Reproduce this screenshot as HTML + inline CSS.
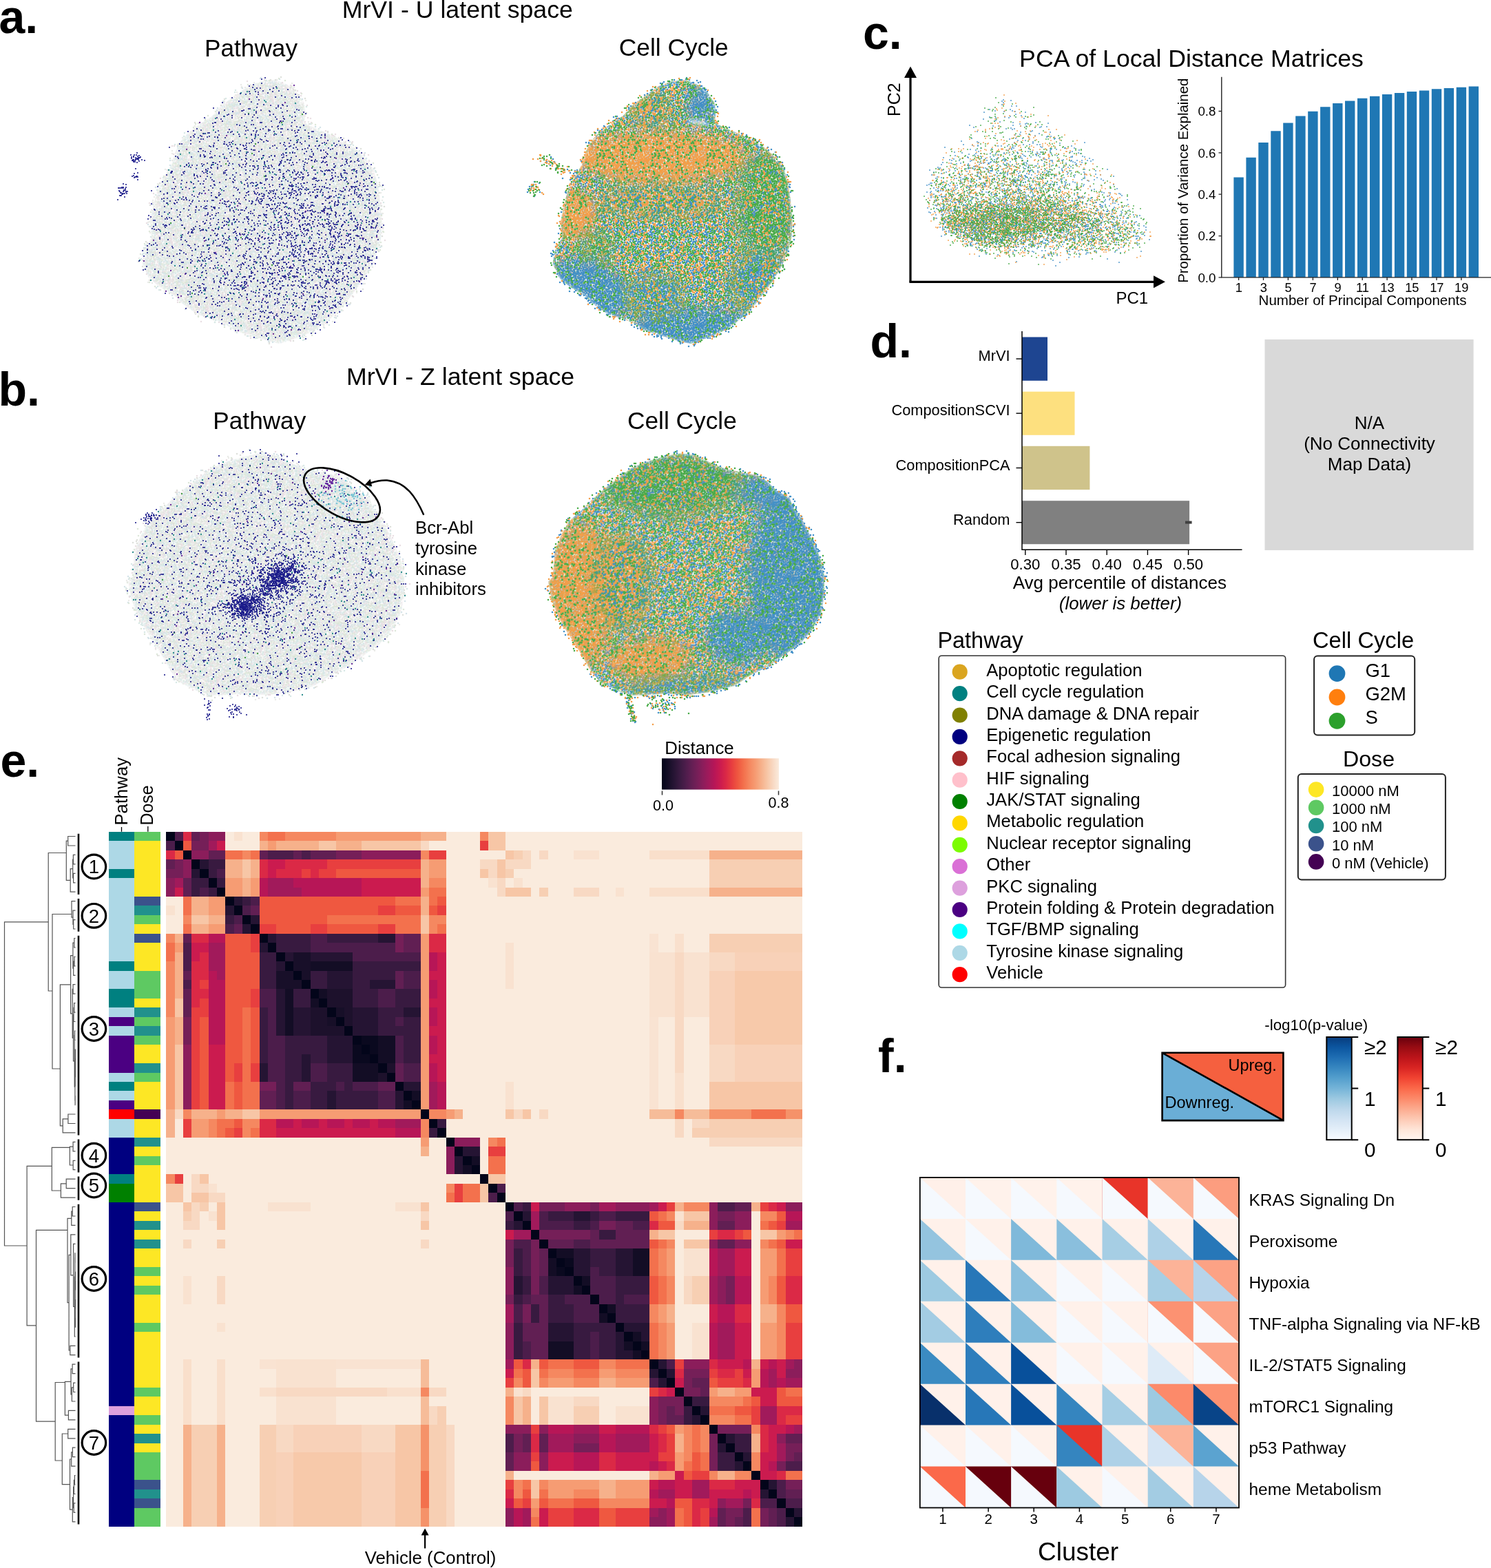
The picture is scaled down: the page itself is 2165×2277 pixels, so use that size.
<!DOCTYPE html>
<html><head><meta charset="utf-8"><title>MrVI figure</title>
<style>
html,body{margin:0;padding:0;background:#fff;}
svg{display:block;}
text{font-family:"Liberation Sans", Arial, Helvetica, sans-serif;fill:#000;}
</style></head>
<body>
<svg width="2165" height="2277" viewBox="0 0 2165 2277">
<rect width="2165" height="2277" fill="#fff"/>
<text x="-1.5" y="48.0" font-size="68" font-weight="bold">a.</text>
<text x="-2.5" y="588.8" font-size="68" font-weight="bold">b.</text>
<text x="1253.0" y="71.3" font-size="68" font-weight="bold">c.</text>
<text x="1263.5" y="519.3" font-size="68" font-weight="bold">d.</text>
<text x="0.5" y="1128.2" font-size="68" font-weight="bold">e.</text>
<text x="1275.0" y="1557.3" font-size="68" font-weight="bold">f.</text>
<text x="664.3" y="25.8" font-size="35.7" text-anchor="middle">MrVI - U latent space</text>
<text x="364.5" y="81.5" font-size="35.2" text-anchor="middle">Pathway</text>
<text x="978.3" y="81.0" font-size="35.3" text-anchor="middle">Cell Cycle</text>
<text x="668.6" y="559.4" font-size="35.7" text-anchor="middle">MrVI - Z latent space</text>
<text x="376.8" y="622.8" font-size="35.2" text-anchor="middle">Pathway</text>
<text x="990.4" y="623.0" font-size="35.3" text-anchor="middle">Cell Cycle</text>
<text x="1730.0" y="96.9" font-size="35.7" text-anchor="middle">PCA of Local Distance Matrices</text>
<text x="603.0" y="775.3" font-size="25.7">Bcr-Abl</text>
<text x="603.0" y="804.9" font-size="25.7">tyrosine</text>
<text x="603.0" y="834.6" font-size="25.7">kinase</text>
<text x="603.0" y="864.2" font-size="25.7">inhibitors</text>
<path d="M1322 409.3 V112" stroke="#000" stroke-width="3.2" fill="none"/>
<path d="M1322 96.6 L1313 113 L1331 113 Z" fill="#000"/>
<path d="M1320.4 409.3 H1676" stroke="#000" stroke-width="3.2" fill="none"/>
<path d="M1692 409.3 L1675 400.3 L1675 418.3 Z" fill="#000"/>
<text x="1307.0" y="144.6" font-size="25.0" text-anchor="middle" transform="rotate(-90 1307.0 144.6)">PC2</text>
<text x="1643.8" y="441.3" font-size="24.0" text-anchor="middle">PC1</text>
<path d="M1791.4 402.9V257.5h14.4V402.9zM1809.4 402.9V228.8h14.4V402.9zM1827.3 402.9V207.1h14.4V402.9zM1845.3 402.9V190.2h14.4V402.9zM1863.2 402.9V178.4h14.4V402.9zM1881.2 402.9V168.5h14.4V402.9zM1899.2 402.9V161.8h14.4V402.9zM1917.1 402.9V155.2h14.4V402.9zM1935.1 402.9V150.1h14.4V402.9zM1953.0 402.9V146.5h14.4V402.9zM1971.0 402.9V142.8h14.4V402.9zM1989.0 402.9V139.8h14.4V402.9zM2006.9 402.9V137.1h14.4V402.9zM2024.9 402.9V135.0h14.4V402.9zM2042.8 402.9V132.9h14.4V402.9zM2060.8 402.9V131.4h14.4V402.9zM2078.8 402.9V129.3h14.4V402.9zM2096.7 402.9V128.1h14.4V402.9zM2114.7 402.9V126.8h14.4V402.9zM2132.6 402.9V125.6h14.4V402.9z" fill="#1f77b4"/>
<path d="M1773.8 111.8 V403.5 M1773.1 402.9 H2165" stroke="#222" stroke-width="1.4" fill="none"/>
<text x="1765.5" y="409.5" font-size="18.8" text-anchor="end">0.0</text>
<text x="1765.5" y="349.2" font-size="18.8" text-anchor="end">0.2</text>
<text x="1765.5" y="288.8" font-size="18.8" text-anchor="end">0.4</text>
<text x="1765.5" y="228.5" font-size="18.8" text-anchor="end">0.6</text>
<text x="1765.5" y="168.1" font-size="18.8" text-anchor="end">0.8</text>
<text x="1798.9" y="424.3" font-size="18.3" text-anchor="middle">1</text>
<text x="1834.8" y="424.3" font-size="18.3" text-anchor="middle">3</text>
<text x="1870.7" y="424.3" font-size="18.3" text-anchor="middle">5</text>
<text x="1906.7" y="424.3" font-size="18.3" text-anchor="middle">7</text>
<text x="1942.6" y="424.3" font-size="18.3" text-anchor="middle">9</text>
<text x="1978.5" y="424.3" font-size="18.3" text-anchor="middle">11</text>
<text x="2014.4" y="424.3" font-size="18.3" text-anchor="middle">13</text>
<text x="2050.3" y="424.3" font-size="18.3" text-anchor="middle">15</text>
<text x="2086.3" y="424.3" font-size="18.3" text-anchor="middle">17</text>
<text x="2122.2" y="424.3" font-size="18.3" text-anchor="middle">19</text>
<path d="M1769.5 402.9H1773.8M1769.5 342.6H1773.8M1769.5 282.2H1773.8M1769.5 221.9H1773.8M1769.5 161.5H1773.8M1798.6 402.9V407M1834.5 402.9V407M1870.4 402.9V407M1906.4 402.9V407M1942.3 402.9V407M1978.2 402.9V407M2014.1 402.9V407M2050.0 402.9V407M2086.0 402.9V407M2121.9 402.9V407" stroke="#222" stroke-width="1.3" fill="none"/>
<text x="1978.6" y="443.2" font-size="20.5" text-anchor="middle">Number of Principal Components</text>
<text x="1724.8" y="262.2" font-size="20.45" text-anchor="middle" transform="rotate(-90 1724.8 262.2)">Proportion of Variance Explained</text>
<rect x="1484" y="489.5" width="37.0" height="63.3" fill="#1e4591"/>
<path d="M1475.5 521.1H1484" stroke="#000" stroke-width="1.4"/>
<text x="1466.5" y="524.1" font-size="21.8" text-anchor="end">MrVI</text>
<rect x="1484" y="568.7" width="76.5" height="63.1" fill="#fde07f"/>
<path d="M1475.5 600.2H1484" stroke="#000" stroke-width="1.4"/>
<text x="1466.5" y="603.2" font-size="21.8" text-anchor="end">CompositionSCVI</text>
<rect x="1484" y="647.8" width="98.4" height="63.3" fill="#cfc38b"/>
<path d="M1475.5 679.5H1484" stroke="#000" stroke-width="1.4"/>
<text x="1466.5" y="682.5" font-size="21.8" text-anchor="end">CompositionPCA</text>
<rect x="1484" y="727.2" width="243.1" height="63.0" fill="#808080"/>
<path d="M1475.5 758.7H1484" stroke="#000" stroke-width="1.4"/>
<text x="1466.5" y="761.7" font-size="21.8" text-anchor="end">Random</text>
<path d="M1721 758.6H1730.6" stroke="#404040" stroke-width="4"/>
<path d="M1484 480.9V799 M1483.3 798.3H1803.5" stroke="#000" stroke-width="1.5" fill="none"/>
<path d="M1488.8 798.3V806" stroke="#000" stroke-width="1.4"/>
<text x="1488.8" y="826.7" font-size="22.2" text-anchor="middle">0.30</text>
<path d="M1548.0 798.3V806" stroke="#000" stroke-width="1.4"/>
<text x="1548.0" y="826.7" font-size="22.2" text-anchor="middle">0.35</text>
<path d="M1607.2 798.3V806" stroke="#000" stroke-width="1.4"/>
<text x="1607.2" y="826.7" font-size="22.2" text-anchor="middle">0.40</text>
<path d="M1666.4 798.3V806" stroke="#000" stroke-width="1.4"/>
<text x="1666.4" y="826.7" font-size="22.2" text-anchor="middle">0.45</text>
<path d="M1725.6 798.3V806" stroke="#000" stroke-width="1.4"/>
<text x="1725.6" y="826.7" font-size="22.2" text-anchor="middle">0.50</text>
<text x="1625.8" y="854.5" font-size="26.0" text-anchor="middle">Avg percentile of distances</text>
<text x="1627.0" y="885.2" font-size="25.9" text-anchor="middle" font-style="italic">(lower is better)</text>
<rect x="1836.5" y="492.9" width="303.1" height="306.1" fill="#d9d9d9"/>
<text x="1988.5" y="623.4" font-size="26.0" text-anchor="middle">N/A</text>
<text x="1988.5" y="653.2" font-size="26.0" text-anchor="middle">(No Connectivity</text>
<text x="1988.5" y="683.2" font-size="26.0" text-anchor="middle">Map Data)</text>
<text x="1361.5" y="941.2" font-size="32.4">Pathway</text>
<rect x="1363.2" y="952.2" width="503.4" height="481.8" rx="4" fill="none" stroke="#333" stroke-width="1.6"/>
<circle cx="1393.7" cy="975.7" r="11.1" fill="#daa520"/>
<text x="1432.3" y="981.7" font-size="25.6">Apoptotic regulation</text>
<circle cx="1393.7" cy="1007.1" r="11.1" fill="#008080"/>
<text x="1432.3" y="1013.1" font-size="25.6">Cell cycle regulation</text>
<circle cx="1393.7" cy="1038.5" r="11.1" fill="#808000"/>
<text x="1432.3" y="1044.5" font-size="25.6">DNA damage &amp; DNA repair</text>
<circle cx="1393.7" cy="1069.9" r="11.1" fill="#000080"/>
<text x="1432.3" y="1075.9" font-size="25.6">Epigenetic regulation</text>
<circle cx="1393.7" cy="1101.3" r="11.1" fill="#a52a2a"/>
<text x="1432.3" y="1107.3" font-size="25.6">Focal adhesion signaling</text>
<circle cx="1393.7" cy="1132.7" r="11.1" fill="#ffc0cb"/>
<text x="1432.3" y="1138.7" font-size="25.6">HIF signaling</text>
<circle cx="1393.7" cy="1164.0" r="11.1" fill="#008000"/>
<text x="1432.3" y="1170.0" font-size="25.6">JAK/STAT signaling</text>
<circle cx="1393.7" cy="1195.4" r="11.1" fill="#ffd700"/>
<text x="1432.3" y="1201.4" font-size="25.6">Metabolic regulation</text>
<circle cx="1393.7" cy="1226.8" r="11.1" fill="#7cfc00"/>
<text x="1432.3" y="1232.8" font-size="25.6">Nuclear receptor signaling</text>
<circle cx="1393.7" cy="1258.2" r="11.1" fill="#da70d6"/>
<text x="1432.3" y="1264.2" font-size="25.6">Other</text>
<circle cx="1393.7" cy="1289.6" r="11.1" fill="#dda0dd"/>
<text x="1432.3" y="1295.6" font-size="25.6">PKC signaling</text>
<circle cx="1393.7" cy="1321.0" r="11.1" fill="#4b0082"/>
<text x="1432.3" y="1327.0" font-size="25.6">Protein folding &amp; Protein degradation</text>
<circle cx="1393.7" cy="1352.4" r="11.1" fill="#00ffff"/>
<text x="1432.3" y="1358.4" font-size="25.6">TGF/BMP signaling</text>
<circle cx="1393.7" cy="1383.8" r="11.1" fill="#add8e6"/>
<text x="1432.3" y="1389.8" font-size="25.6">Tyrosine kinase signaling</text>
<circle cx="1393.7" cy="1415.2" r="11.1" fill="#ff0000"/>
<text x="1432.3" y="1421.2" font-size="25.6">Vehicle</text>
<text x="1906.0" y="941.1" font-size="32.7">Cell Cycle</text>
<rect x="1908.1" y="952.4" width="146.1" height="115.2" rx="5" fill="none" stroke="#222" stroke-width="2"/>
<circle cx="1941.5" cy="978.1" r="11.9" fill="#1f77b4"/>
<text x="1982.5" y="982.7" font-size="27.4">G1</text>
<circle cx="1941.5" cy="1012.5" r="11.9" fill="#ff7f0e"/>
<text x="1982.5" y="1017.1" font-size="27.4">G2M</text>
<circle cx="1941.5" cy="1046.8" r="11.9" fill="#2ca02c"/>
<text x="1982.5" y="1051.4" font-size="27.4">S</text>
<text x="1987.5" y="1113.0" font-size="32.2" text-anchor="middle">Dose</text>
<rect x="1884.8" y="1123.9" width="214.1" height="153.6" rx="5" fill="none" stroke="#222" stroke-width="2"/>
<circle cx="1911.1" cy="1146.6" r="11.3" fill="#fde725"/>
<text x="1934.0" y="1155.9" font-size="22.0">10000 nM</text>
<circle cx="1911.1" cy="1172.8" r="11.3" fill="#5ec962"/>
<text x="1934.0" y="1182.1" font-size="22.0">1000 nM</text>
<circle cx="1911.1" cy="1199.0" r="11.3" fill="#21918c"/>
<text x="1934.0" y="1208.3" font-size="22.0">100 nM</text>
<circle cx="1911.1" cy="1225.2" r="11.3" fill="#3b528b"/>
<text x="1934.0" y="1234.5" font-size="22.0">10 nM</text>
<circle cx="1911.1" cy="1251.4" r="11.3" fill="#440154"/>
<text x="1934.0" y="1260.7" font-size="22.0">0 nM (Vehicle)</text>
<path d="M1687.6 1528.8H1863.4V1627.1Z" fill="#f5603f"/>
<path d="M1687.6 1528.8V1627.1H1863.4Z" fill="#6aaed6"/>
<path d="M1687.6 1528.8H1863.4V1627.1H1687.6Z M1687.6 1528.8L1863.4 1627.1" fill="none" stroke="#000" stroke-width="2.6"/>
<text x="1853.8" y="1555.2" font-size="23.4" text-anchor="end">Upreg.</text>
<text x="1691.5" y="1609.1" font-size="23.5">Downreg.</text>
<text x="1911.3" y="1495.9" font-size="22.3" text-anchor="middle">-log10(p-value)</text>
<defs><linearGradient id="gB" x1="0" y1="0" x2="0" y2="1"><stop offset="0.00" stop-color="#083c7d"/><stop offset="0.10" stop-color="#0c56a0"/><stop offset="0.20" stop-color="#1f6eb3"/><stop offset="0.30" stop-color="#3787c0"/><stop offset="0.40" stop-color="#549fcd"/><stop offset="0.50" stop-color="#75b4d8"/><stop offset="0.60" stop-color="#9cc9e1"/><stop offset="0.70" stop-color="#bcd7eb"/><stop offset="0.80" stop-color="#d2e3f3"/><stop offset="0.90" stop-color="#e4eff9"/><stop offset="1.00" stop-color="#f7fbff"/></linearGradient><linearGradient id="gR" x1="0" y1="0" x2="0" y2="1"><stop offset="0.00" stop-color="#67000d"/><stop offset="0.10" stop-color="#980c13"/><stop offset="0.20" stop-color="#bc141a"/><stop offset="0.30" stop-color="#d92523"/><stop offset="0.40" stop-color="#f14432"/><stop offset="0.50" stop-color="#fb694a"/><stop offset="0.60" stop-color="#fc8a6a"/><stop offset="0.70" stop-color="#fcab8f"/><stop offset="0.80" stop-color="#fdcab5"/><stop offset="0.90" stop-color="#fee5d8"/><stop offset="1.00" stop-color="#fff5f0"/></linearGradient></defs>
<rect x="1926.3" y="1506" width="36.4" height="149.2" fill="url(#gB)" stroke="#000" stroke-width="2"/>
<path d="M1962.7 1506H1972.2M1962.7 1580.6H1972.2M1962.7 1655.2H1972.2" stroke="#000" stroke-width="2"/>
<text x="1981.0" y="1531.2" font-size="29.7">≥2</text>
<text x="1981.0" y="1605.5" font-size="29.7">1</text>
<text x="1981.0" y="1679.9" font-size="29.7">0</text>
<rect x="2029.4" y="1506" width="36.4" height="149.2" fill="url(#gR)" stroke="#000" stroke-width="2"/>
<path d="M2065.8 1506H2075.3M2065.8 1580.6H2075.3M2065.8 1655.2H2075.3" stroke="#000" stroke-width="2"/>
<text x="2084.1" y="1531.2" font-size="29.7">≥2</text>
<text x="2084.1" y="1605.5" font-size="29.7">1</text>
<text x="2084.1" y="1679.9" font-size="29.7">0</text>
<g><path d="M1335.8 1709.9H1402.5V1770.4H1335.8Z" fill="#fff0e9"/><path d="M1335.8 1709.9L1402.5 1770.4H1335.8Z" fill="#f5f9fe"/><path d="M1402.0 1709.9H1468.6V1770.4H1402.0Z" fill="#fff2eb"/><path d="M1402.0 1709.9L1468.6 1770.4H1402.0Z" fill="#f5f9fe"/><path d="M1468.1 1709.9H1534.8V1770.4H1468.1Z" fill="#fff2eb"/><path d="M1468.1 1709.9L1534.8 1770.4H1468.1Z" fill="#f5f9fe"/><path d="M1534.3 1709.9H1601.0V1770.4H1534.3Z" fill="#fff2eb"/><path d="M1534.3 1709.9L1601.0 1770.4H1534.3Z" fill="#f5f9fe"/><path d="M1600.5 1709.9H1667.2V1770.4H1600.5Z" fill="#e83429"/><path d="M1600.5 1709.9L1667.2 1770.4H1600.5Z" fill="#f5f9fe"/><path d="M1666.7 1709.9H1733.3V1770.4H1666.7Z" fill="#fcb398"/><path d="M1666.7 1709.9L1733.3 1770.4H1666.7Z" fill="#f5f9fe"/><path d="M1732.8 1709.9H1799.5V1770.4H1732.8Z" fill="#fc9d7f"/><path d="M1732.8 1709.9L1799.5 1770.4H1732.8Z" fill="#f5f9fe"/><path d="M1335.8 1769.9H1402.5V1830.3H1335.8Z" fill="#fff1ea"/><path d="M1335.8 1769.9L1402.5 1830.3H1335.8Z" fill="#94c4df"/><path d="M1402.0 1769.9H1468.6V1830.3H1402.0Z" fill="#fff1ea"/><path d="M1402.0 1769.9L1468.6 1830.3H1402.0Z" fill="#f5f9fe"/><path d="M1468.1 1769.9H1534.8V1830.3H1468.1Z" fill="#fff1ea"/><path d="M1468.1 1769.9L1534.8 1830.3H1468.1Z" fill="#7fb9da"/><path d="M1534.3 1769.9H1601.0V1830.3H1534.3Z" fill="#fff1ea"/><path d="M1534.3 1769.9L1601.0 1830.3H1534.3Z" fill="#8abfdd"/><path d="M1600.5 1769.9H1667.2V1830.3H1600.5Z" fill="#fff1ea"/><path d="M1600.5 1769.9L1667.2 1830.3H1600.5Z" fill="#a6cee4"/><path d="M1666.7 1769.9H1733.3V1830.3H1666.7Z" fill="#fff1ea"/><path d="M1666.7 1769.9L1733.3 1830.3H1666.7Z" fill="#aed1e7"/><path d="M1732.8 1769.9H1799.5V1830.3H1732.8Z" fill="#fff1ea"/><path d="M1732.8 1769.9L1799.5 1830.3H1732.8Z" fill="#2777b8"/><path d="M1335.8 1829.8H1402.5V1890.3H1335.8Z" fill="#fff1ea"/><path d="M1335.8 1829.8L1402.5 1890.3H1335.8Z" fill="#9dcae1"/><path d="M1402.0 1829.8H1468.6V1890.3H1402.0Z" fill="#fff1ea"/><path d="M1402.0 1829.8L1468.6 1890.3H1402.0Z" fill="#2777b8"/><path d="M1468.1 1829.8H1534.8V1890.3H1468.1Z" fill="#fff1ea"/><path d="M1468.1 1829.8L1534.8 1890.3H1468.1Z" fill="#8abfdd"/><path d="M1534.3 1829.8H1601.0V1890.3H1534.3Z" fill="#fff1ea"/><path d="M1534.3 1829.8L1601.0 1890.3H1534.3Z" fill="#f5f9fe"/><path d="M1600.5 1829.8H1667.2V1890.3H1600.5Z" fill="#fff1ea"/><path d="M1600.5 1829.8L1667.2 1890.3H1600.5Z" fill="#f5f9fe"/><path d="M1666.7 1829.8H1733.3V1890.3H1666.7Z" fill="#fcb398"/><path d="M1666.7 1829.8L1733.3 1890.3H1666.7Z" fill="#a6cee4"/><path d="M1732.8 1829.8H1799.5V1890.3H1732.8Z" fill="#fca285"/><path d="M1732.8 1829.8L1799.5 1890.3H1732.8Z" fill="#b7d4ea"/><path d="M1335.8 1889.8H1402.5V1950.2H1335.8Z" fill="#fff1ea"/><path d="M1335.8 1889.8L1402.5 1950.2H1335.8Z" fill="#a3cce3"/><path d="M1402.0 1889.8H1468.6V1950.2H1402.0Z" fill="#fff1ea"/><path d="M1402.0 1889.8L1468.6 1950.2H1402.0Z" fill="#2e7ebc"/><path d="M1468.1 1889.8H1534.8V1950.2H1468.1Z" fill="#fff1ea"/><path d="M1468.1 1889.8L1534.8 1950.2H1468.1Z" fill="#84bcdb"/><path d="M1534.3 1889.8H1601.0V1950.2H1534.3Z" fill="#fff1ea"/><path d="M1534.3 1889.8L1601.0 1950.2H1534.3Z" fill="#f5f9fe"/><path d="M1600.5 1889.8H1667.2V1950.2H1600.5Z" fill="#fff1ea"/><path d="M1600.5 1889.8L1667.2 1950.2H1600.5Z" fill="#f5f9fe"/><path d="M1666.7 1889.8H1733.3V1950.2H1666.7Z" fill="#fc9272"/><path d="M1666.7 1889.8L1733.3 1950.2H1666.7Z" fill="#f5f9fe"/><path d="M1732.8 1889.8H1799.5V1950.2H1732.8Z" fill="#fca285"/><path d="M1732.8 1889.8L1799.5 1950.2H1732.8Z" fill="#f5f9fe"/><path d="M1335.8 1949.7H1402.5V2010.2H1335.8Z" fill="#fff1ea"/><path d="M1335.8 1949.7L1402.5 2010.2H1335.8Z" fill="#3b8bc2"/><path d="M1402.0 1949.7H1468.6V2010.2H1402.0Z" fill="#fff1ea"/><path d="M1402.0 1949.7L1468.6 2010.2H1402.0Z" fill="#2e7ebc"/><path d="M1468.1 1949.7H1534.8V2010.2H1468.1Z" fill="#fff1ea"/><path d="M1468.1 1949.7L1534.8 2010.2H1468.1Z" fill="#08509b"/><path d="M1534.3 1949.7H1601.0V2010.2H1534.3Z" fill="#fff1ea"/><path d="M1534.3 1949.7L1601.0 2010.2H1534.3Z" fill="#f5f9fe"/><path d="M1600.5 1949.7H1667.2V2010.2H1600.5Z" fill="#fff1ea"/><path d="M1600.5 1949.7L1667.2 2010.2H1600.5Z" fill="#f5f9fe"/><path d="M1666.7 1949.7H1733.3V2010.2H1666.7Z" fill="#fff1ea"/><path d="M1666.7 1949.7L1733.3 2010.2H1666.7Z" fill="#deebf7"/><path d="M1732.8 1949.7H1799.5V2010.2H1732.8Z" fill="#fca285"/><path d="M1732.8 1949.7L1799.5 2010.2H1732.8Z" fill="#f5f9fe"/><path d="M1335.8 2009.7H1402.5V2070.1H1335.8Z" fill="#fff1ea"/><path d="M1335.8 2009.7L1402.5 2070.1H1335.8Z" fill="#08306b"/><path d="M1402.0 2009.7H1468.6V2070.1H1402.0Z" fill="#fff1ea"/><path d="M1402.0 2009.7L1468.6 2070.1H1402.0Z" fill="#2777b8"/><path d="M1468.1 2009.7H1534.8V2070.1H1468.1Z" fill="#fff1ea"/><path d="M1468.1 2009.7L1534.8 2070.1H1468.1Z" fill="#08509b"/><path d="M1534.3 2009.7H1601.0V2070.1H1534.3Z" fill="#fff1ea"/><path d="M1534.3 2009.7L1601.0 2070.1H1534.3Z" fill="#3585bf"/><path d="M1600.5 2009.7H1667.2V2070.1H1600.5Z" fill="#fff1ea"/><path d="M1600.5 2009.7L1667.2 2070.1H1600.5Z" fill="#a6cee4"/><path d="M1666.7 2009.7H1733.3V2070.1H1666.7Z" fill="#fc8a6a"/><path d="M1666.7 2009.7L1733.3 2070.1H1666.7Z" fill="#9dcae1"/><path d="M1732.8 2009.7H1799.5V2070.1H1732.8Z" fill="#fc9272"/><path d="M1732.8 2009.7L1799.5 2070.1H1732.8Z" fill="#084488"/><path d="M1335.8 2069.6H1402.5V2130.1H1335.8Z" fill="#fff1ea"/><path d="M1335.8 2069.6L1402.5 2130.1H1335.8Z" fill="#f5f9fe"/><path d="M1402.0 2069.6H1468.6V2130.1H1402.0Z" fill="#fff1ea"/><path d="M1402.0 2069.6L1468.6 2130.1H1402.0Z" fill="#f5f9fe"/><path d="M1468.1 2069.6H1534.8V2130.1H1468.1Z" fill="#fff1ea"/><path d="M1468.1 2069.6L1534.8 2130.1H1468.1Z" fill="#f5f9fe"/><path d="M1534.3 2069.6H1601.0V2130.1H1534.3Z" fill="#e83429"/><path d="M1534.3 2069.6L1601.0 2130.1H1534.3Z" fill="#3585bf"/><path d="M1600.5 2069.6H1667.2V2130.1H1600.5Z" fill="#fff1ea"/><path d="M1600.5 2069.6L1667.2 2130.1H1600.5Z" fill="#aed1e7"/><path d="M1666.7 2069.6H1733.3V2130.1H1666.7Z" fill="#fcb398"/><path d="M1666.7 2069.6L1733.3 2130.1H1666.7Z" fill="#d5e5f4"/><path d="M1732.8 2069.6H1799.5V2130.1H1732.8Z" fill="#fff1ea"/><path d="M1732.8 2069.6L1799.5 2130.1H1732.8Z" fill="#5ba3d0"/><path d="M1335.8 2129.6H1402.5V2190.0H1335.8Z" fill="#fb694a"/><path d="M1335.8 2129.6L1402.5 2190.0H1335.8Z" fill="#f5f9fe"/><path d="M1402.0 2129.6H1468.6V2190.0H1402.0Z" fill="#67000d"/><path d="M1402.0 2129.6L1468.6 2190.0H1402.0Z" fill="#f5f9fe"/><path d="M1468.1 2129.6H1534.8V2190.0H1468.1Z" fill="#67000d"/><path d="M1468.1 2129.6L1534.8 2190.0H1468.1Z" fill="#f5f9fe"/><path d="M1534.3 2129.6H1601.0V2190.0H1534.3Z" fill="#fff1ea"/><path d="M1534.3 2129.6L1601.0 2190.0H1534.3Z" fill="#9dcae1"/><path d="M1600.5 2129.6H1667.2V2190.0H1600.5Z" fill="#fff1ea"/><path d="M1600.5 2129.6L1667.2 2190.0H1600.5Z" fill="#f5f9fe"/><path d="M1666.7 2129.6H1733.3V2190.0H1666.7Z" fill="#fff1ea"/><path d="M1666.7 2129.6L1733.3 2190.0H1666.7Z" fill="#a3cce3"/><path d="M1732.8 2129.6H1799.5V2190.0H1732.8Z" fill="#fff1ea"/><path d="M1732.8 2129.6L1799.5 2190.0H1732.8Z" fill="#b7d4ea"/></g>
<rect x="1335.8" y="1709.9" width="463.2" height="479.6" fill="none" stroke="#000" stroke-width="1.8"/>
<text x="1813.5" y="1751.2" font-size="24.4">KRAS Signaling Dn</text>
<text x="1813.5" y="1811.1" font-size="24.4">Peroxisome</text>
<text x="1813.5" y="1871.1" font-size="24.4">Hypoxia</text>
<text x="1813.5" y="1931.0" font-size="24.4">TNF-alpha Signaling via NF-kB</text>
<text x="1813.5" y="1991.0" font-size="24.4">IL-2/STAT5 Signaling</text>
<text x="1813.5" y="2050.9" font-size="24.4">mTORC1 Signaling</text>
<text x="1813.5" y="2110.9" font-size="24.4">p53 Pathway</text>
<text x="1813.5" y="2170.8" font-size="24.4">heme Metabolism</text>
<text x="1368.9" y="2212.6" font-size="20.5" text-anchor="middle">1</text>
<text x="1435.1" y="2212.6" font-size="20.5" text-anchor="middle">2</text>
<text x="1501.2" y="2212.6" font-size="20.5" text-anchor="middle">3</text>
<text x="1567.4" y="2212.6" font-size="20.5" text-anchor="middle">4</text>
<text x="1633.6" y="2212.6" font-size="20.5" text-anchor="middle">5</text>
<text x="1699.7" y="2212.6" font-size="20.5" text-anchor="middle">6</text>
<text x="1765.9" y="2212.6" font-size="20.5" text-anchor="middle">7</text>
<path d="M1368.9 2189.5v6M1435.1 2189.5v6M1501.2 2189.5v6M1567.4 2189.5v6M1633.6 2189.5v6M1699.7 2189.5v6M1765.9 2189.5v6" stroke="#000" stroke-width="1.5"/>
<text x="1565.6" y="2266.0" font-size="37.0" text-anchor="middle">Cluster</text>
<defs><linearGradient id="gRk" x1="0" y1="0" x2="1" y2="0"><stop offset="0.00" stop-color="#03051a"/><stop offset="0.05" stop-color="#130d25"/><stop offset="0.10" stop-color="#251433"/><stop offset="0.15" stop-color="#381a40"/><stop offset="0.20" stop-color="#4c1d4b"/><stop offset="0.25" stop-color="#611f53"/><stop offset="0.30" stop-color="#751f58"/><stop offset="0.35" stop-color="#8b1d5b"/><stop offset="0.40" stop-color="#a11a5b"/><stop offset="0.45" stop-color="#b71657"/><stop offset="0.50" stop-color="#cb1b4f"/><stop offset="0.55" stop-color="#db2946"/><stop offset="0.60" stop-color="#e83f3f"/><stop offset="0.65" stop-color="#ef5840"/><stop offset="0.70" stop-color="#f3714d"/><stop offset="0.75" stop-color="#f58860"/><stop offset="0.80" stop-color="#f69c73"/><stop offset="0.85" stop-color="#f6b18b"/><stop offset="0.90" stop-color="#f7c6a6"/><stop offset="0.95" stop-color="#f8d9c3"/><stop offset="1.00" stop-color="#faebdd"/></linearGradient></defs>
<rect x="961" y="1101.3" width="170" height="45.3" fill="url(#gRk)"/>
<path d="M961.5 1148.5V1154.5M1130.5 1148.5V1154.5" stroke="#333" stroke-width="1.5"/>
<text x="965.3" y="1094.6" font-size="25.8">Distance</text>
<text x="963.0" y="1176.6" font-size="21.6" text-anchor="middle">0.0</text>
<text x="1130.5" y="1172.6" font-size="21.6" text-anchor="middle">0.8</text>
<text x="184.7" y="1198.5" font-size="25.7" transform="rotate(-90 184.7 1198.5)">Pathway</text>
<text x="222.0" y="1198.5" font-size="24.9" transform="rotate(-90 222.0 1198.5)">Dose</text>
<path d="M176.5 1201V1207.8M214.8 1200V1207.8" stroke="#000" stroke-width="1.3"/>
<path d="M617.1 2248.5V2228" stroke="#000" stroke-width="2.2"/>
<path d="M617.1 2219.4L611.6 2229.5L622.6 2229.5Z" fill="#000"/>
<text x="625.1" y="2271.4" font-size="25.8" text-anchor="middle">Vehicle (Control)</text>
<g transform="translate(241.2 1207.8) scale(12.32 13.45)" shape-rendering="crispEdges"><path fill="#faebdd" d="M7 0h1v2h-1zM9 0h2v2h-2zM33 0h4v30h-4zM40 0h35v2h-35zM8 1h1v1h-1zM31 1h2v1h-2zM37 2h3v1h-3zM43 2h1v38h-1zM45 2h3v38h-3zM51 2h6v4h-6zM44 3h1v3h-1zM48 3h3v3h-3zM57 3h7v3h-7zM41 4h2v1h-2zM37 5h1v32h-1zM40 5h1v1h-1zM42 5h1v1h-1zM38 6h1v27h-1zM51 6h2v34h-2zM54 6h3v34h-3zM0 7h2v1h-2zM39 7h4v5h-4zM44 7h1v23h-1zM48 7h3v33h-3zM53 7h1v33h-1zM57 7h18v4h-18zM1 8h1v3h-1zM0 9h1v2h-1zM58 11h2v2h-2zM61 11h3v2h-3zM39 12h1v21h-1zM41 12h2v18h-2zM40 17h1v10h-1zM58 20h2v10h-2zM61 20h3v10h-3zM35 30h2v3h-2zM1 31h1v6h-1zM33 31h2v2h-2zM40 31h3v9h-3zM44 31h1v9h-1zM57 31h3v9h-3zM61 31h1v9h-1zM0 33h1v4h-1zM2 33h28v4h-28zM31 33h2v27h-2zM60 33h1v7h-1zM62 33h2v7h-2zM64 34h11v6h-11zM30 35h1v5h-1zM2 37h1v3h-1zM5 37h25v1h-25zM33 37h4v1h-4zM6 38h24v1h-24zM7 39h23v1h-23zM0 40h2v35h-2zM5 40h1v1h-1zM7 40h5v17h-5zM17 40h10v17h-10zM33 40h7v24h-7zM4 41h1v23h-1zM12 41h5v16h-5zM27 41h3v16h-3zM69 41h1v16h-1zM5 42h1v22h-1zM2 43h2v1h-2zM6 43h1v1h-1zM30 43h1v1h-1zM60 43h4v1h-4zM3 44h1v20h-1zM60 44h1v13h-1zM2 45h1v3h-1zM6 45h1v3h-1zM30 45h1v12h-1zM2 51h1v6h-1zM6 51h1v2h-1zM61 51h3v2h-3zM61 53h1v4h-1zM6 54h1v3h-1zM7 57h4v18h-4zM11 58h2v2h-2zM20 58h10v2h-10zM43 60h14v1h-14zM11 61h2v3h-2zM20 61h10v3h-10zM31 61h2v1h-2zM43 61h1v3h-1zM51 61h6v1h-6zM51 62h2v2h-2zM34 64h6v11h-6zM41 69h16v1h-16z"/><path fill="#03051a" d="M0 0h1v1h-1zM1 1h1v1h-1zM2 2h1v1h-1zM3 3h1v1h-1zM4 4h1v1h-1zM5 5h1v1h-1zM6 6h1v1h-1zM7 7h1v1h-1zM8 8h1v1h-1zM9 9h1v1h-1zM10 10h1v1h-1zM11 11h1v1h-1zM12 12h1v1h-1zM13 13h1v1h-1zM14 14h1v1h-1zM15 15h1v1h-1zM16 16h1v1h-1zM17 17h1v1h-1zM18 18h1v1h-1zM19 19h1v1h-1zM20 20h1v1h-1zM21 21h1v1h-1zM22 22h1v1h-1zM23 23h1v1h-1zM24 24h1v1h-1zM25 25h1v1h-1zM26 26h1v1h-1zM27 27h1v1h-1zM28 28h1v1h-1zM29 29h1v1h-1zM30 30h1v1h-1zM31 31h1v1h-1zM32 32h1v1h-1zM33 33h1v1h-1zM34 34h1v1h-1zM35 35h1v1h-1zM36 36h1v1h-1zM37 37h1v1h-1zM38 38h1v1h-1zM39 39h1v1h-1zM40 40h1v1h-1zM41 41h1v1h-1zM42 42h1v1h-1zM43 43h1v1h-1zM44 44h1v1h-1zM45 45h1v1h-1zM46 46h1v1h-1zM47 47h1v1h-1zM48 48h1v1h-1zM49 49h1v1h-1zM50 50h1v1h-1zM51 51h1v1h-1zM52 52h1v1h-1zM53 53h1v1h-1zM54 54h1v1h-1zM55 55h1v1h-1zM56 56h1v1h-1zM57 57h1v1h-1zM58 58h1v1h-1zM59 59h1v1h-1zM60 60h1v1h-1zM61 61h1v1h-1zM62 62h1v1h-1zM63 63h1v1h-1zM64 64h1v1h-1zM65 65h1v1h-1zM66 66h1v1h-1zM67 67h1v1h-1zM68 68h1v1h-1zM69 69h1v1h-1zM70 70h1v1h-1zM71 71h1v1h-1zM72 72h1v1h-1zM73 73h1v1h-1zM74 74h1v1h-1z"/><path fill="#381a40" d="M5 3h2v1h-2zM5 4h1v1h-1zM3 5h2v1h-2zM6 5h1v1h-1zM3 6h1v1h-1zM5 6h1v1h-1zM9 7h1v1h-1zM7 9h1v1h-1zM13 11h4v2h-4zM19 11h6v1h-6zM11 13h2v4h-2zM22 14h8v1h-8zM17 15h2v2h-2zM22 15h5v1h-5zM22 16h2v3h-2zM15 17h2v2h-2zM24 17h1v2h-1zM27 17h3v2h-3zM11 19h1v6h-1zM25 19h3v1h-3zM25 20h2v2h-2zM28 20h2v5h-2zM27 21h1v1h-1zM14 22h5v2h-5zM14 24h2v3h-2zM17 24h2v1h-2zM19 25h3v2h-3zM14 27h1v3h-1zM17 27h3v1h-3zM21 27h1v3h-1zM17 28h2v2h-2zM20 28h1v2h-1zM22 28h3v2h-3zM32 31h1v1h-1zM31 32h1v1h-1zM42 40h1v1h-1zM45 41h3v1h-3zM50 41h1v1h-1zM53 41h4v1h-4zM40 42h1v1h-1zM48 42h2v1h-2zM51 43h2v1h-2zM41 45h1v3h-1zM50 45h3v2h-3zM51 47h2v1h-2zM42 48h1v2h-1zM53 48h4v2h-4zM41 50h1v1h-1zM45 50h2v3h-2zM53 50h1v3h-1zM43 51h1v2h-1zM47 51h1v2h-1zM54 51h3v2h-3zM41 53h1v4h-1zM48 53h5v1h-5zM48 54h2v3h-2zM51 54h2v3h-2zM62 61h2v1h-2zM61 62h1v2h-1zM67 65h2v2h-2zM65 67h2v2h-2z"/><path fill="#4c1d4b" d="M1 0h1v1h-1zM0 1h1v1h-1zM12 2h3v1h-3zM16 2h1v1h-1zM6 4h1v1h-1zM4 6h1v1h-1zM10 7h1v1h-1zM9 8h1v1h-1zM8 9h1v1h-1zM7 10h1v1h-1zM17 11h2v2h-2zM2 12h1v3h-1zM19 12h8v1h-8zM22 13h8v1h-8zM28 15h2v2h-2zM2 16h1v1h-1zM11 17h2v2h-2zM25 17h2v2h-2zM12 19h1v8h-1zM27 20h1v1h-1zM13 22h1v8h-1zM27 22h1v3h-1zM17 25h2v2h-2zM28 25h2v2h-2zM20 27h1v1h-1zM22 27h3v1h-3zM15 28h2v2h-2zM25 28h2v2h-2zM39 38h1v1h-1zM38 39h1v1h-1zM41 40h1v1h-1zM65 40h2v1h-2zM40 41h1v1h-1zM44 41h1v2h-1zM51 41h2v1h-2zM45 42h3v1h-3zM50 42h1v1h-1zM55 42h2v1h-2zM41 44h2v1h-2zM48 44h2v1h-2zM42 45h1v3h-1zM50 47h1v3h-1zM44 48h1v2h-1zM51 48h2v3h-2zM42 50h1v1h-1zM47 50h3v1h-3zM54 50h3v1h-3zM41 51h1v2h-1zM48 51h3v2h-3zM50 54h1v3h-1zM42 55h1v2h-1zM59 57h1v1h-1zM57 59h1v1h-1zM40 65h1v2h-1zM73 68h2v1h-2zM72 70h1v2h-1zM70 72h2v1h-2zM73 72h2v1h-2zM68 73h1v2h-1zM72 73h1v2h-1z"/><path fill="#cb1b4f" d="M6 1h1v1h-1zM12 3h2v1h-2zM12 4h1v1h-1zM23 5h7v2h-7zM1 6h1v1h-1zM3 12h2v1h-2zM3 13h1v1h-1zM32 13h1v14h-1zM31 15h1v1h-1zM31 18h1v1h-1zM31 21h1v1h-1zM5 23h2v7h-2zM31 24h1v1h-1zM15 31h1v2h-1zM18 31h1v2h-1zM21 31h1v2h-1zM24 31h1v2h-1zM13 32h2v1h-2zM16 32h2v1h-2zM19 32h2v1h-2zM22 32h2v1h-2zM25 32h2v1h-2zM43 40h1v1h-1zM58 40h1v1h-1zM72 40h1v1h-1zM40 43h1v1h-1zM73 44h2v1h-2zM67 45h2v3h-2zM64 51h1v2h-1zM67 53h2v4h-2zM65 57h3v1h-3zM70 57h1v1h-1zM72 57h1v2h-1zM40 58h1v1h-1zM68 58h1v1h-1zM60 59h1v1h-1zM59 60h1v1h-1zM69 60h3v1h-3zM70 61h2v1h-2zM51 64h2v1h-2zM71 64h2v1h-2zM57 65h1v3h-1zM71 65h1v3h-1zM45 67h3v2h-3zM53 67h4v2h-4zM70 67h1v3h-1zM58 68h1v1h-1zM60 69h1v3h-1zM71 69h1v1h-1zM57 70h1v1h-1zM61 70h1v2h-1zM67 70h3v1h-3zM64 71h4v1h-4zM69 71h1v1h-1zM40 72h1v1h-1zM57 72h2v1h-2zM64 72h1v1h-1zM44 73h1v2h-1z"/><path fill="#f58860" d="M11 0h1v1h-1zM14 0h6v1h-6zM37 0h1v1h-1zM9 2h1v1h-1zM30 2h1v1h-1zM31 5h2v1h-2zM2 9h1v1h-1zM31 9h2v1h-2zM31 10h1v1h-1zM0 11h1v1h-1zM0 14h1v6h-1zM2 30h1v1h-1zM31 30h2v1h-2zM60 30h1v1h-1zM5 31h1v2h-1zM9 31h2v1h-2zM30 31h1v2h-1zM9 32h1v1h-1zM38 33h1v1h-1zM0 37h1v1h-1zM33 38h1v1h-1zM61 40h3v1h-3zM59 41h1v1h-1zM70 41h2v1h-2zM73 43h1v1h-1zM59 44h1v1h-1zM70 44h1v1h-1zM58 45h1v3h-1zM59 48h1v3h-1zM71 48h1v3h-1zM57 51h1v2h-1zM72 51h1v6h-1zM58 53h1v4h-1zM51 57h2v1h-2zM45 58h3v1h-3zM53 58h4v1h-4zM41 59h1v1h-1zM44 59h1v1h-1zM48 59h3v1h-3zM30 60h1v1h-1zM40 61h1v3h-1zM64 61h4v1h-4zM64 63h3v1h-3zM61 64h1v4h-1zM63 64h1v3h-1zM69 64h1v1h-1zM69 67h1v2h-1zM64 69h1v1h-1zM67 69h2v1h-2zM41 70h1v2h-1zM44 70h1v1h-1zM48 71h3v1h-3zM51 72h6v1h-6zM43 73h1v1h-1z"/><path fill="#f3714d" d="M12 0h2v1h-2zM7 2h2v1h-2zM10 2h1v1h-1zM31 6h2v1h-2zM2 7h1v2h-1zM27 7h3v1h-3zM31 7h1v1h-1zM19 9h11v1h-11zM2 10h1v1h-1zM27 10h3v1h-3zM32 10h1v1h-1zM0 12h1v2h-1zM9 19h1v11h-1zM7 27h1v3h-1zM10 27h1v3h-1zM69 30h4v1h-4zM6 31h2v1h-2zM6 32h1v1h-1zM10 32h1v1h-1zM39 33h1v1h-1zM38 35h2v2h-2zM35 38h2v2h-2zM33 39h1v1h-1zM58 41h1v1h-1zM70 42h1v1h-1zM74 43h1v1h-1zM58 44h1v1h-1zM71 44h1v1h-1zM57 45h1v3h-1zM72 45h1v3h-1zM58 48h1v3h-1zM57 53h1v4h-1zM45 57h3v1h-3zM53 57h4v1h-4zM41 58h1v1h-1zM44 58h1v1h-1zM48 58h3v1h-3zM73 60h2v1h-2zM68 61h1v1h-1zM64 62h3v1h-3zM67 63h2v1h-2zM62 64h1v3h-1zM63 67h1v2h-1zM61 68h1v1h-1zM30 69h1v4h-1zM73 69h2v1h-2zM42 70h1v1h-1zM44 71h1v1h-1zM45 72h3v1h-3zM60 73h1v2h-1zM69 73h1v2h-1zM43 74h1v1h-1z"/><path fill="#251433" d="M4 3h1v1h-1zM3 4h1v1h-1zM8 7h1v1h-1zM7 8h1v1h-1zM10 9h1v1h-1zM9 10h1v1h-1zM12 11h1v1h-1zM25 11h2v1h-2zM11 12h1v1h-1zM14 13h1v1h-1zM17 13h5v1h-5zM13 14h1v1h-1zM19 15h3v2h-3zM24 16h3v1h-3zM13 17h1v5h-1zM15 19h2v3h-2zM22 19h3v3h-3zM28 19h2v1h-2zM19 22h3v3h-3zM16 24h1v3h-1zM11 25h1v2h-1zM28 27h2v1h-2zM19 28h1v2h-1zM27 28h1v2h-1zM35 34h2v1h-2zM34 35h1v2h-1zM42 41h1v1h-1zM48 41h2v1h-2zM41 42h1v1h-1zM48 45h2v3h-2zM53 45h2v3h-2zM41 48h1v2h-1zM45 48h3v2h-3zM45 53h3v2h-3zM54 53h3v1h-3zM53 54h1v3h-1zM56 54h1v1h-1zM54 56h1v1h-1zM58 57h1v1h-1zM57 58h1v1h-1zM59 58h1v1h-1zM58 59h1v1h-1zM63 62h1v1h-1zM62 63h1v1h-1zM66 65h1v1h-1zM65 66h1v1h-1zM68 67h1v1h-1zM67 68h1v1h-1zM71 70h1v1h-1zM70 71h1v1h-1zM74 73h1v1h-1zM73 74h1v1h-1z"/><path fill="#ef5840" d="M2 1h1v1h-1zM1 2h1v1h-1zM20 4h10v1h-10zM11 7h16v1h-16zM32 7h1v1h-1zM11 8h14v1h-14zM27 8h3v1h-3zM31 8h1v1h-1zM11 9h8v1h-8zM13 10h4v1h-4zM19 10h6v1h-6zM7 11h3v8h-3zM10 13h1v4h-1zM7 19h2v6h-2zM10 19h1v6h-1zM4 20h1v10h-1zM7 25h1v2h-1zM8 27h1v3h-1zM8 31h1v1h-1zM7 32h1v1h-1zM57 41h1v1h-1zM72 41h1v1h-1zM58 42h2v1h-2zM71 42h1v1h-1zM68 43h1v1h-1zM57 44h1v1h-1zM72 44h1v1h-1zM57 48h1v3h-1zM72 48h1v3h-1zM73 51h2v2h-2zM41 57h1v1h-1zM44 57h1v1h-1zM48 57h3v1h-3zM42 58h1v2h-1zM64 59h1v1h-1zM72 60h1v2h-1zM69 61h1v1h-1zM73 61h2v1h-2zM67 62h2v1h-2zM59 64h1v1h-1zM62 67h1v2h-1zM43 68h1v1h-1zM61 69h1v1h-1zM42 71h1v1h-1zM41 72h1v1h-1zM44 72h1v1h-1zM48 72h3v1h-3zM60 72h2v1h-2zM51 73h2v2h-2zM61 73h1v2h-1z"/><path fill="#e83f3f" d="M37 1h1v1h-1zM31 2h2v1h-2zM19 3h11v1h-11zM16 4h1v1h-1zM18 4h2v1h-2zM25 8h2v1h-2zM32 8h1v1h-1zM11 10h2v1h-2zM17 10h2v1h-2zM25 10h2v1h-2zM10 11h1v2h-1zM4 16h1v1h-1zM10 17h1v2h-1zM4 18h1v2h-1zM3 19h1v11h-1zM8 25h1v2h-1zM10 25h1v2h-1zM2 31h1v2h-1zM8 32h1v1h-1zM38 34h2v1h-2zM1 37h1v1h-1zM34 38h1v2h-1zM59 40h1v1h-1zM70 40h1v1h-1zM72 42h1v1h-1zM64 43h1v1h-1zM67 43h1v1h-1zM73 45h2v3h-2zM73 53h2v4h-2zM60 57h1v1h-1zM64 58h1v1h-1zM67 58h1v2h-1zM40 59h1v1h-1zM65 59h2v1h-2zM57 60h1v1h-1zM69 62h1v2h-1zM73 63h2v1h-2zM43 64h1v1h-1zM58 64h1v1h-1zM59 65h1v3h-1zM43 67h1v1h-1zM58 67h1v1h-1zM62 69h2v1h-2zM40 70h1v1h-1zM42 72h1v1h-1zM45 73h3v2h-3zM53 73h4v2h-4zM63 73h1v2h-1z"/><path fill="#611f53" d="M3 0h1v1h-1zM5 2h2v1h-2zM11 2h1v1h-1zM15 2h1v1h-1zM17 2h3v1h-3zM0 3h1v1h-1zM2 5h1v2h-1zM10 8h1v1h-1zM8 10h1v1h-1zM2 11h1v1h-1zM28 11h2v2h-2zM2 15h1v1h-1zM27 15h1v2h-1zM2 17h1v3h-1zM27 25h1v2h-1zM15 27h2v1h-2zM25 27h2v1h-2zM11 28h2v2h-2zM67 40h2v1h-2zM53 42h2v3h-2zM65 42h2v1h-2zM50 43h1v2h-1zM55 43h2v2h-2zM45 44h3v1h-3zM51 44h2v1h-2zM65 44h2v1h-2zM44 45h1v3h-1zM43 50h2v1h-2zM44 51h1v6h-1zM42 53h2v2h-2zM43 55h1v2h-1zM62 59h2v1h-2zM63 60h1v1h-1zM59 62h1v2h-1zM60 63h1v1h-1zM42 65h1v2h-1zM44 65h1v2h-1zM73 65h2v1h-2zM40 67h1v2h-1zM74 67h1v1h-1zM73 71h2v1h-2zM65 73h1v2h-1zM71 73h1v2h-1zM67 74h1v1h-1z"/><path fill="#f6b18b" d="M30 0h3v1h-3zM11 1h1v1h-1zM13 1h5v1h-5zM20 1h3v1h-3zM64 2h11v1h-11zM7 3h2v2h-2zM10 3h1v2h-1zM30 3h1v3h-1zM9 5h1v2h-1zM64 6h11v1h-11zM3 7h2v2h-2zM30 7h1v2h-1zM5 9h2v1h-2zM3 10h2v1h-2zM1 11h1v1h-1zM1 13h1v5h-1zM1 20h1v3h-1zM0 30h1v3h-1zM3 30h3v1h-3zM7 30h2v1h-2zM34 30h1v1h-1zM30 34h1v1h-1zM60 40h1v1h-1zM69 40h1v1h-1zM61 42h3v1h-3zM57 43h1v1h-1zM59 51h1v2h-1zM70 51h2v2h-2zM43 57h1v1h-1zM69 57h1v1h-1zM51 59h2v1h-2zM40 60h1v1h-1zM65 60h2v1h-2zM42 61h1v3h-1zM2 64h1v11h-1zM6 64h1v11h-1zM60 65h1v2h-1zM69 65h1v2h-1zM40 69h1v1h-1zM57 69h1v1h-1zM65 69h2v1h-2zM51 70h2v2h-2z"/><path fill="#b71657" d="M11 5h1v2h-1zM15 5h8v1h-8zM16 6h7v1h-7zM5 11h2v1h-2zM31 13h1v2h-1zM5 15h1v8h-1zM6 16h1v7h-1zM31 16h1v2h-1zM31 19h1v2h-1zM31 22h1v2h-1zM31 25h1v2h-1zM32 27h1v3h-1zM13 31h2v1h-2zM16 31h2v1h-2zM19 31h2v1h-2zM22 31h2v1h-2zM25 31h2v1h-2zM27 32h3v1h-3zM73 41h2v1h-2zM64 45h1v3h-1zM67 48h2v3h-2zM65 51h2v2h-2zM64 53h1v4h-1zM68 57h1v1h-1zM71 57h1v1h-1zM70 58h1v2h-1zM72 59h1v1h-1zM45 64h3v1h-3zM53 64h4v1h-4zM73 64h1v1h-1zM51 65h2v2h-2zM48 67h3v2h-3zM57 68h1v1h-1zM71 68h1v1h-1zM58 70h2v1h-2zM57 71h1v1h-1zM68 71h1v1h-1zM59 72h1v1h-1zM41 73h1v2h-1zM64 73h1v1h-1z"/><path fill="#db2946" d="M2 0h1v1h-1zM0 2h1v1h-1zM11 3h1v2h-1zM14 3h5v1h-5zM13 4h3v1h-3zM17 4h1v1h-1zM3 11h2v1h-2zM31 11h2v2h-2zM4 13h1v3h-1zM3 14h1v5h-1zM4 17h1v1h-1zM11 31h2v2h-2zM71 40h1v1h-1zM57 42h1v1h-1zM65 43h2v1h-2zM73 48h2v3h-2zM67 51h2v2h-2zM42 57h1v1h-1zM64 57h1v1h-1zM60 58h1v1h-1zM65 58h2v1h-2zM68 59h1v1h-1zM58 60h1v1h-1zM72 62h3v1h-3zM72 63h1v1h-1zM57 64h1v1h-1zM70 64h1v3h-1zM43 65h1v2h-1zM58 65h1v2h-1zM51 67h2v2h-2zM59 68h1v1h-1zM72 69h1v1h-1zM64 70h3v1h-3zM40 71h1v1h-1zM62 72h2v1h-2zM69 72h1v1h-1zM48 73h3v2h-3zM62 73h1v2h-1z"/><path fill="#751f58" d="M4 0h1v2h-1zM3 1h1v1h-1zM20 2h3v1h-3zM1 3h1v2h-1zM0 4h1v1h-1zM27 11h1v2h-1zM2 20h1v3h-1zM11 27h2v1h-2zM44 40h3v1h-3zM50 40h1v1h-1zM65 41h2v1h-2zM51 42h2v1h-2zM44 43h6v1h-6zM40 44h1v3h-1zM43 44h1v6h-1zM66 48h1v3h-1zM40 50h1v1h-1zM42 51h1v2h-1zM61 58h3v1h-3zM61 59h1v2h-1zM62 60h1v1h-1zM58 61h3v1h-3zM58 62h1v2h-1zM60 62h1v1h-1zM65 64h4v1h-4zM41 65h1v2h-1zM64 65h1v4h-1zM48 66h3v1h-3zM73 66h2v1h-2zM73 67h1v1h-1zM72 68h1v1h-1zM73 70h2v1h-2zM68 72h1v1h-1zM66 73h2v1h-2zM70 73h1v2h-1zM66 74h1v1h-1z"/><path fill="#f69c73" d="M20 0h10v1h-10zM12 1h1v1h-1zM31 3h2v2h-2zM7 5h2v2h-2zM10 5h1v2h-1zM30 6h1v1h-1zM5 7h2v2h-2zM5 10h2v1h-2zM30 11h1v19h-1zM1 12h1v1h-1zM0 20h1v10h-1zM6 30h1v1h-1zM11 30h19v1h-19zM33 30h1v1h-1zM3 31h2v2h-2zM30 33h1v1h-1zM72 43h1v1h-1zM59 45h1v3h-1zM70 45h2v3h-2zM70 48h1v3h-1zM58 51h1v2h-1zM59 53h1v4h-1zM70 53h2v4h-2zM51 58h2v1h-2zM69 58h1v2h-1zM45 59h3v1h-3zM53 59h4v1h-4zM64 60h1v1h-1zM67 60h2v1h-2zM60 64h1v1h-1zM60 67h1v2h-1zM58 69h2v1h-2zM45 70h6v1h-6zM53 70h4v2h-4zM45 71h3v1h-3zM43 72h1v1h-1z"/><path fill="#f8d9c3" d="M30 1h1v1h-1zM42 2h1v2h-1zM44 2h1v1h-1zM37 3h2v1h-2zM40 3h2v1h-2zM38 4h1v1h-1zM39 5h1v2h-1zM48 6h3v1h-3zM60 13h1v13h-1zM64 13h3v2h-3zM64 23h3v4h-3zM1 30h1v1h-1zM41 30h1v1h-1zM44 30h1v1h-1zM60 31h1v2h-1zM62 31h2v1h-2zM64 33h11v1h-11zM3 37h1v2h-1zM4 38h1v1h-1zM5 39h2v1h-2zM3 40h1v3h-1zM30 41h1v1h-1zM2 42h1v1h-1zM60 42h1v1h-1zM2 44h1v1h-1zM30 44h1v1h-1zM6 48h1v3h-1zM61 48h1v3h-1zM13 60h13v1h-13zM31 60h2v1h-2zM42 60h1v1h-1zM48 61h3v1h-3zM31 62h1v2h-1zM13 64h2v3h-2zM23 64h4v3h-4zM33 64h1v11h-1z"/><path fill="#f7c6a6" d="M38 0h2v2h-2zM18 1h2v1h-2zM23 1h7v1h-7zM40 2h1v1h-1zM9 3h1v2h-1zM39 3h1v2h-1zM37 4h1v1h-1zM40 6h3v1h-3zM3 9h2v1h-2zM30 9h1v2h-1zM1 18h1v2h-1zM1 23h1v7h-1zM64 27h11v3h-11zM9 30h2v1h-2zM40 30h1v1h-1zM42 30h1v1h-1zM4 37h1v1h-1zM38 37h2v1h-2zM0 38h2v2h-2zM37 38h1v2h-1zM3 39h2v1h-2zM2 40h1v1h-1zM6 40h1v3h-1zM30 40h1v1h-1zM61 41h3v1h-3zM30 42h1v1h-1zM58 43h2v1h-2zM70 43h2v1h-2zM61 44h3v1h-3zM43 58h1v2h-1zM41 61h1v3h-1zM44 61h1v3h-1zM27 64h3v11h-3zM43 70h1v2h-1z"/><path fill="#a11a5b" d="M5 1h1v1h-1zM1 5h1v1h-1zM12 5h3v2h-3zM15 6h1v1h-1zM5 12h2v3h-2zM6 15h1v1h-1zM31 27h1v3h-1zM27 31h3v1h-3zM51 40h2v1h-2zM57 40h1v1h-1zM43 41h1v2h-1zM73 42h2v1h-2zM41 43h2v1h-2zM65 45h2v3h-2zM64 48h1v3h-1zM40 51h1v2h-1zM65 53h2v4h-2zM40 57h1v1h-1zM73 57h1v1h-1zM71 58h1v2h-1zM73 59h2v1h-2zM70 62h2v2h-2zM48 64h3v1h-3zM74 64h1v1h-1zM45 65h3v2h-3zM53 65h4v2h-4zM72 66h1v2h-1zM62 70h2v2h-2zM58 71h2v1h-2zM66 72h2v1h-2zM42 73h1v2h-1zM57 73h1v1h-1zM59 73h1v2h-1zM64 74h1v1h-1z"/><path fill="#8b1d5b" d="M5 0h2v1h-2zM3 2h2v1h-2zM23 2h7v1h-7zM2 3h1v2h-1zM0 5h1v2h-1zM2 23h1v7h-1zM34 33h3v1h-3zM33 34h1v3h-1zM47 40h3v1h-3zM53 40h4v1h-4zM64 40h1v3h-1zM73 40h2v1h-2zM67 41h2v2h-2zM64 44h1v1h-1zM67 44h2v1h-2zM40 47h1v3h-1zM65 48h1v3h-1zM40 53h1v4h-1zM61 57h3v1h-3zM74 57h1v2h-1zM73 58h1v1h-1zM57 61h1v3h-1zM40 64h3v1h-3zM44 64h1v1h-1zM48 65h3v1h-3zM72 65h1v1h-1zM41 67h2v2h-2zM44 67h1v2h-1zM65 72h1v1h-1zM40 73h1v2h-1zM58 73h1v2h-1zM57 74h1v1h-1z"/><path fill="#f9e2d0" d="M8 0h1v1h-1zM48 2h3v1h-3zM38 5h1v1h-1zM41 5h1v1h-1zM53 6h1v1h-1zM0 8h1v1h-1zM40 12h1v5h-1zM57 13h3v7h-3zM61 13h3v7h-3zM40 27h1v3h-1zM5 38h1v1h-1zM12 40h5v1h-5zM27 40h3v1h-3zM5 41h1v1h-1zM60 41h1v1h-1zM61 45h3v3h-3zM2 48h1v3h-1zM6 53h1v1h-1zM62 53h2v4h-2zM13 57h7v3h-7zM41 60h1v1h-1zM13 61h7v3h-7zM45 61h3v3h-3zM53 62h4v2h-4z"/><path fill="#130d25" d="M17 14h5v1h-5zM14 17h1v5h-1zM18 17h1v1h-1zM17 18h1v1h-1zM25 22h2v3h-2zM22 25h3v2h-3zM29 28h1v1h-1zM28 29h1v1h-1zM36 35h1v1h-1zM35 36h1v1h-1zM46 45h2v1h-2zM55 45h2v3h-2zM45 46h1v2h-1zM49 48h1v1h-1zM48 49h1v1h-1zM52 51h1v1h-1zM51 52h1v1h-1zM55 54h1v1h-1zM45 55h3v2h-3zM54 55h1v1h-1zM56 55h1v1h-1zM55 56h1v1h-1z"/><path fill="#f7cfb3" d="M41 2h1v1h-1zM64 3h11v3h-11zM40 4h1v1h-1zM44 6h1v1h-1zM64 11h11v2h-11zM64 31h11v2h-11zM62 32h2v1h-2zM4 40h1v1h-1zM2 41h1v1h-1zM6 44h1v1h-1zM62 48h2v3h-2zM32 62h1v13h-1zM48 62h3v2h-3zM3 64h3v11h-3zM11 64h2v11h-2zM31 64h1v11h-1z"/><path fill="#f8d1b8" d="M67 13h8v2h-8zM64 15h3v8h-3zM67 23h8v4h-8zM15 64h8v3h-8zM13 67h2v8h-2zM23 67h4v8h-4z"/><path fill="#1d112c" d="M19 17h3v2h-3zM17 19h2v3h-2zM21 19h1v2h-1zM19 21h2v1h-2zM26 25h1v1h-1zM25 26h1v1h-1z"/><path fill="#0a091f" d="M23 22h2v1h-2zM22 23h1v2h-1zM24 23h1v1h-1zM23 24h1v1h-1zM47 46h1v1h-1zM46 47h1v1h-1z"/><path fill="#f9dfcb" d="M57 2h7v1h-7zM57 6h7v1h-7zM2 57h1v7h-1zM6 57h1v7h-1z"/><path fill="#f9e3d2" d="M57 11h1v2h-1zM57 20h1v10h-1zM11 57h2v1h-2zM20 57h10v1h-10z"/><path fill="#f9e0cd" d="M60 11h1v2h-1zM60 26h1v4h-1zM11 60h2v1h-2zM26 60h4v1h-4z"/><path fill="#180f29" d="M15 13h2v2h-2zM13 15h2v2h-2zM16 15h1v1h-1zM15 16h1v1h-1z"/><path fill="#f6bc99" d="M57 30h3v1h-3zM61 30h3v1h-3zM30 57h1v3h-1zM30 61h1v3h-1z"/><path fill="#f59269" d="M64 30h5v1h-5zM73 30h2v1h-2zM30 64h1v5h-1zM30 73h1v2h-1z"/><path fill="#f7c9aa" d="M67 15h8v8h-8zM15 67h8v8h-8z"/><path fill="#170f28" d="M20 19h1v1h-1zM19 20h1v1h-1z"/></g>
<g transform="translate(158.0 1207.8) scale(37.1 13.45)" shape-rendering="crispEdges"><path fill="#008080" d="M0 0h1v1h-1zM0 4h1v1h-1zM0 14h1v1h-1zM0 17h1v2h-1zM0 27h1v1h-1zM0 37h1v1h-1z"/><path fill="#add8e6" d="M0 1h1v3h-1zM0 5h1v9h-1zM0 15h1v2h-1zM0 19h1v1h-1zM0 21h1v1h-1zM0 26h1v1h-1zM0 28h1v1h-1zM0 31h1v2h-1z"/><path fill="#4b0082" d="M0 20h1v1h-1zM0 22h1v4h-1zM0 29h1v1h-1z"/><path fill="#ff0000" d="M0 30h1v1h-1z"/><path fill="#000080" d="M0 33h1v4h-1zM0 40h1v22h-1zM0 63h1v12h-1z"/><path fill="#008000" d="M0 38h1v2h-1z"/><path fill="#dda0dd" d="M0 62h1v1h-1z"/></g>
<g transform="translate(195.1 1207.8) scale(37.7 13.45)" shape-rendering="crispEdges"><path fill="#5ec962" d="M0 0h1v1h-1zM0 9h1v1h-1zM0 15h1v3h-1zM0 20h1v1h-1zM0 22h1v1h-1zM0 26h1v1h-1zM0 35h1v1h-1zM0 47h1v1h-1zM0 49h1v1h-1zM0 53h1v1h-1zM0 60h1v1h-1zM0 63h1v1h-1zM0 67h1v3h-1zM0 73h1v2h-1z"/><path fill="#fde725" d="M0 1h1v6h-1zM0 10h1v1h-1zM0 12h1v3h-1zM0 18h1v1h-1zM0 23h1v2h-1zM0 27h1v3h-1zM0 31h1v2h-1zM0 34h1v1h-1zM0 36h1v4h-1zM0 41h1v1h-1zM0 43h1v1h-1zM0 45h1v2h-1zM0 48h1v1h-1zM0 50h1v3h-1zM0 54h1v6h-1zM0 61h1v2h-1zM0 64h1v1h-1zM0 66h1v1h-1z"/><path fill="#3b528b" d="M0 7h1v1h-1zM0 11h1v1h-1zM0 40h1v1h-1zM0 70h1v1h-1zM0 72h1v1h-1z"/><path fill="#21918c" d="M0 8h1v1h-1zM0 19h1v1h-1zM0 21h1v1h-1zM0 25h1v1h-1zM0 33h1v1h-1zM0 42h1v1h-1zM0 44h1v1h-1zM0 65h1v1h-1zM0 71h1v1h-1z"/><path fill="#440154" d="M0 30h1v1h-1z"/></g>
<circle cx="136.4" cy="1258.5" r="17.3" fill="#fff" stroke="#000" stroke-width="3.2"/>
<text x="136.4" y="1268.3" font-size="27.5" text-anchor="middle">1</text>
<circle cx="136.4" cy="1329.8" r="17.3" fill="#fff" stroke="#000" stroke-width="3.2"/>
<text x="136.4" y="1339.6" font-size="27.5" text-anchor="middle">2</text>
<circle cx="136.4" cy="1494.0" r="17.3" fill="#fff" stroke="#000" stroke-width="3.2"/>
<text x="136.4" y="1503.8" font-size="27.5" text-anchor="middle">3</text>
<circle cx="136.4" cy="1677.7" r="17.3" fill="#fff" stroke="#000" stroke-width="3.2"/>
<text x="136.4" y="1687.5" font-size="27.5" text-anchor="middle">4</text>
<circle cx="136.4" cy="1721.5" r="17.3" fill="#fff" stroke="#000" stroke-width="3.2"/>
<text x="136.4" y="1731.3" font-size="27.5" text-anchor="middle">5</text>
<circle cx="136.4" cy="1857.0" r="17.3" fill="#fff" stroke="#000" stroke-width="3.2"/>
<text x="136.4" y="1866.8" font-size="27.5" text-anchor="middle">6</text>
<circle cx="136.4" cy="2095.0" r="17.3" fill="#fff" stroke="#000" stroke-width="3.2"/>
<text x="136.4" y="2104.8" font-size="27.5" text-anchor="middle">7</text>
<path d="M114 1210.8V1299.0M114 1305.0V1352.8M114 1358.8V1648.6M114 1654.6V1702.4M114 1708.4V1742.8M114 1748.8V1971.4M114 1977.4V2213.6" stroke="#000" stroke-width="2.6" fill="none"/>
<path d="M109.5 1214.5H98.7V1228.0H109.5M109.5 1241.4H106.4V1254.9H109.5M109.5 1268.3H106.6V1281.8H109.5M106.4 1248.2H105.7V1275.0H106.6M105.7 1261.6H102.2V1295.2H109.5M98.7 1221.2H96.3V1278.4H102.2M109.5 1335.6H106.7V1349.0H109.5M109.5 1322.1H106.0V1342.3H106.7M109.5 1308.7H104.0V1332.2H106.0M109.5 1362.5H107.8V1375.9H109.5M109.5 1389.4H108.0V1402.8H109.5M108.0 1396.1H106.7V1416.3H109.5M107.8 1369.2H105.9V1406.2H106.7M109.5 1429.7H106.1V1443.2H109.5M109.5 1456.6H107.7V1470.1H109.5M107.7 1463.3H107.0V1483.5H109.5M109.5 1497.0H108.5V1510.4H109.5M109.5 1537.3H109.4V1550.8H109.5M109.4 1544.0H109.4V1564.2H109.5M109.5 1523.9H109.3V1554.1H109.4M109.3 1539.0H109.2V1577.7H109.5M109.5 1591.1H109.1V1604.6H109.5M109.2 1558.3H108.9V1597.8H109.1M108.5 1503.7H108.2V1578.1H108.9M107.0 1473.4H106.5V1540.9H108.2M106.1 1436.4H105.2V1507.2H106.5M105.9 1387.7H102.6V1471.8H105.2M109.5 1618.0H98.9V1631.5H109.5M98.9 1624.8H91.2V1644.9H109.5M102.6 1429.8H87.4V1634.8H91.2M104.0 1327.5H76.0V1552.0H87.4M96.3 1238.5H70.2V1439.0H76.0M109.5 1658.4H106.1V1671.8H109.5M109.5 1685.3H106.2V1698.7H109.5M106.1 1665.1H101.4V1692.0H106.2M109.5 1712.2H96.2V1725.6H109.5M96.2 1718.9H88.4V1739.1H109.5M101.4 1666.3H75.3V1729.0H88.4M109.5 1752.5H105.2V1766.0H109.5M105.2 1759.2H103.8V1779.4H109.5M109.5 1819.8H108.9V1833.2H109.5M109.5 1860.1H109.4V1873.6H109.5M109.5 1846.7H109.3V1866.8H109.4M109.5 1887.0H109.4V1900.5H109.5M109.5 1913.9H109.4V1927.4H109.5M109.4 1893.8H109.3V1920.7H109.4M109.3 1856.8H109.1V1907.2H109.3M108.9 1826.5H108.8V1882.0H109.1M108.8 1854.2H108.3V1940.8H109.5M109.5 1806.3H106.6V1897.5H108.3M109.5 1792.9H102.8V1851.9H106.6M109.5 1954.3H101.8V1967.7H109.5M102.8 1822.4H100.1V1961.0H101.8M103.8 1769.3H98.0V1891.7H100.1M109.5 1981.2H105.1V1994.6H109.5M109.5 2008.1H106.7V2021.5H109.5M106.7 2014.8H104.4V2035.0H109.5M105.1 1987.9H103.0V2024.9H104.4M109.5 2048.4H99.4V2061.9H109.5M103.0 2006.4H94.4V2055.2H99.4M109.5 2075.3H98.7V2088.8H109.5M109.5 2102.2H105.4V2115.7H109.5M105.4 2108.9H103.7V2129.1H109.5M109.5 2142.6H108.4V2156.0H109.5M108.4 2149.3H107.4V2169.5H109.5M109.5 2182.9H107.2V2196.4H109.5M107.4 2159.4H106.6V2189.7H107.2M106.6 2174.5H105.3V2209.8H109.5M103.7 2119.0H101.5V2192.2H105.3M98.7 2082.0H90.3V2155.6H101.5M94.4 2007.5H80.2V2121.0H90.3M98.0 1786.3H52.5V2064.1H80.2M75.3 1693.3H39.1V1924.8H52.5M70.2 1338.9H6.5V1809.0H39.1" stroke="#555" stroke-width="1.2" fill="none"/>
<defs><path id="ts0" d="M4-1h0m37 1h0m10-1h0m25 1h0m-75 9h0m3-6h0m7-2h0m1 5h0m3-2h0m4 5h0m5-6h0m1 2h0m7 3h0m4-6h0m11 6h0m1-8h0m1 5h0m4 0h0m0 3h0m3-2h0m2 0h0m3-5h0m7 3h0m4-4h0m9 9h0m-77 8h0m0-2h0m3-1h0m2 3h0m5-1h0m1-4h0m2 3h0m0 4h0m6-6h0m4 2h0m2 5h0m2-1h0m7-2h0m2 0h0m2 1h0m4-1h0m1-3h0m2 3h0m1-4h0m2 3h0m2 2h0m3-2h0m4 3h0m3-2h0m1-2h0m1 3h0m0-8h0m1 3h0m1-2h0m7 2h0m1 4h0m-75 5h0m1 2h0m5 5h0m7-4h0m1 4h0m9-1h0m5-6h0m7 6h0m3-3h0m12 5h0m12-5h0m2-4h0m2 7h0m2-2h0m6-2h0m6-2h0m1 2h0m-82 14h0m2-7h0m4 1h0m7 2h0m1-3h0m3 8h0m1-2h0m4 3h0m6-4h0m3-4h0m8-2h0m5 5h0m5 4h0m0-8h0m3 7h0m11-1h0m3-7h0m3 1h0m1 8h0m10-1h0m2-7h0m-84 15h0m4-2h0m2 1h0m3-1h0m2 6h0m1-6h0m1 3h0m8-6h0m3 2h0m2 0h0m0 3h0m2-6h0m0 6h0m14-1h0m4-5h0m7 2h0m6 0h0m3 8h0m2-4h0m3-2h0m3 2h0m4-3h0m4 3h0m2 0h0m-79 11h0m0-5h0m7 7h0m7-2h0m13-1h0m5 4h0m1-9h0m2 7h0m1-7h0m2 8h0m14-4h0m2 4h0m5-8h0m1 2h0m2 2h0m0-2h0m5 0h0m7-1h0m2 4h0m4 1h0m0-5h0m-68 15h0m5-5h0m2 1h0m3 6h0m0-5h0m7-2h0m13-2h0m5 7h0m4-5h0m6-2h0m1 10h0m4-2h0m0-5h0m1-2h0m1 6h0m3 1h0m2-2h0m-70 10h0m6 3h0m11-7h0m5 1h0m6 4h0m7-5h0m5-1h0m2 4h0m1 5h0m2-7h0m8-2h0m0 2h0m0 6h0m13-3h0m7 1h0m5 3h0m2-4h0m-67 5h0m37-1h0m13 1h0m11-1h0"/><path id="ts1" d="M10 0h0m3-1h0m2 1h0m5 0h0m38 0h0m-55 1h0m0 4h0m3 3h0m3-2h0m4-1h0m3-3h0m4 4h0m17 3h0m2-7h0m5 4h0m2-4h0m4-1h0m5 8h0m1-1h0m1-5h0m2-1h0m1 7h0m9-3h0m1-5h0m1 4h0m0 2h0m3-5h0m1 7h0m-73 7h0m3 3h0m5-4h0m12 2h0m2 1h0m6-5h0m2 4h0m9-4h0m4-2h0m11 7h0m14-2h0m12 0h0m-74 10h0m1-6h0m1 2h0m8 2h0m4 4h0m11-1h0m2-4h0m3-3h0m1 7h0m4-6h0m3 3h0m4-1h0m4 7h0m1-7h0m0-3h0m1 5h0m1-2h0m1 5h0m2-1h0m17 2h0m0-3h0m-76 9h0m1 2h0m10-4h0m4-1h0m4 6h0m8 2h0m2-6h0m2 4h0m23-2h0m1 3h0m1-2h0m5-3h0m2 4h0m4-5h0m4 6h0m5-4h0m4 0h0m-83 7h0m6 5h0m10 1h0m3 0h0m11-1h0m2-3h0m0 6h0m3-3h0m9 0h0m5-6h0m2 8h0m2-1h0m1-3h0m2 1h0m9-2h0m0-4h0m6 2h0m7 6h0m1-4h0m1-2h0m-72 12h0m1-3h0m3 1h0m2-1h0m1 8h0m2 1h0m0-2h0m0-3h0m4-1h0m1-3h0m4 1h0m10 2h0m3-1h0m11 7h0m7-3h0m2-1h0m0 2h0m2-2h0m10-5h0m2 0h0m3 3h0m3-3h0m-78 13h0m1-2h0m1 2h0m4 3h0m11-2h0m5 1h0m10 3h0m0-3h0m11 2h0m2 2h0m2-6h0m1 5h0m4-1h0m14-3h0m8-4h0m6 3h0m1-2h0m1 2h0m-81 12h0m2 1h0m6-6h0m2 9h0m3-1h0m0-2h0m2 3h0m2-2h0m3 2h0m2-10h0m4 3h0m0-3h0m3 3h0m3 5h0m1-2h0m2 0h0m8 2h0m4-3h0m2-3h0m0 3h0m4-3h0m4 6h0m1 2h0m1-6h0m3-1h0m0-3h0m2 2h0m2 6h0m4-6h0m8 0h0m2 4h0m-77 5h0m13 1h0m30 0h0m4-1h0m20 0h0"/><path id="ts2" d="M-1-1h0m7 0h0m24 0h0m6 1h0m3-2h0m25 1h0m15 0h0m-80 10h0m3-2h0m5-4h0m4 1h0m4 2h0m3 1h0m3-3h0m2 4h0m4-4h0m1-3h0m4 2h0m2-2h0m0 6h0m3-2h0m3-1h0m0 6h0m2-4h0m9-3h0m2-1h0m2 0h0m9 0h0m12 0h0m3 7h0m-81 8h0m3-4h0m5-2h0m1 6h0m9 0h0m1-6h0m2 7h0m1-6h0m1 2h0m3 1h0m7-1h0m12-3h0m2 3h0m10-3h0m0 3h0m10-1h0m9-2h0m0 4h0m3 4h0m0-8h0m1 6h0m3-4h0m-81 7h0m0 7h0m2 2h0m1-9h0m2 6h0m0 4h0m1-7h0m2 1h0m8-2h0m1 7h0m1-7h0m1 7h0m1-9h0m0 3h0m1 2h0m1-2h0m1 3h0m4 3h0m0-5h0m3 1h0m6 0h0m2-2h0m2 5h0m7 0h0m1-7h0m3 0h0m2 1h0m4-1h0m2 4h0m1-3h0m10 3h0m2 1h0m1 3h0m7-9h0m0 7h0m-77 12h0m1-6h0m2 5h0m4-6h0m1 4h0m6-2h0m3 1h0m2-4h0m11 9h0m8-1h0m1-8h0m5 4h0m3-2h0m6-2h0m3 9h0m8-4h0m4-4h0m-69 14h0m5 1h0m2-6h0m4 1h0m0 4h0m10 2h0m1-8h0m5 1h0m1 7h0m5-5h0m3 3h0m1 3h0m0-8h0m4 4h0m3-1h0m10 4h0m4-3h0m1-4h0m3 6h0m7-6h0m5 1h0m6 4h0m-79 7h0m3 3h0m4 1h0m15 1h0m5-2h0m2 1h0m8-3h0m6 4h0m1-3h0m2-4h0m3 0h0m1 6h0m1-3h0m1-4h0m5 8h0m4-8h0m1 7h0m1-2h0m2 1h0m1 2h0m4 1h0m-72 10h0m2-9h0m0 2h0m4 3h0m3-4h0m2 7h0m1-6h0m5 8h0m5-2h0m3-5h0m8-2h0m1 5h0m1 3h0m7-3h0m4-4h0m2 6h0m3-7h0m1 5h0m4-2h0m8 6h0m1-9h0m4 5h0m4 1h0m0-4h0m7 6h0m-82 10h0m0-5h0m6 0h0m1 5h0m5-2h0m8 0h0m8-2h0m2-4h0m1 8h0m4-5h0m1 3h0m1 3h0m2-6h0m0 2h0m1 2h0m9-1h0m11-1h0m2-1h0m0 3h0m3 1h0m2-4h0m7-4h0m1 5h0m5 3h0m0-5h0m-51 7h0m6 0h0m21 1h0m9 0h0"/><path id="ts3" d="M18 0h0m15-1h0m13 0h0m-46 8h0m0-6h0m5 5h0m2 0h0m10-2h0m1-2h0m4 4h0m4 3h0m16-1h0m5-2h0m0-3h0m16 3h0m3 2h0m8-1h0m2-2h0m2 2h0m2 0h0m0-6h0m-81 14h0m3-4h0m3 2h0m4-1h0m3 2h0m3 6h0m2-7h0m9 4h0m3-6h0m3 1h0m3-2h0m1 7h0m0 2h0m3-4h0m4 0h0m3 5h0m7-5h0m5-4h0m3 0h0m6 9h0m3-1h0m2-3h0m0-3h0m7 2h0m-75 12h0m0-4h0m9-2h0m4 5h0m16-2h0m8-3h0m1 5h0m2 4h0m0-3h0m6 0h0m2-2h0m3 3h0m8-7h0m1 7h0m3-5h0m5 0h0m2 5h0m-76 11h0m11-2h0m6 0h0m3-5h0m3 2h0m2 4h0m4-6h0m3 4h0m5 2h0m0-7h0m8 7h0m3-5h0m1-2h0m3 5h0m8-3h0m0-2h0m2 6h0m2 2h0m4-6h0m0 5h0m7-5h0m1 4h0m0-6h0m1 4h0m3 4h0m-78 6h0m3 4h0m2 0h0m6-7h0m4-1h0m1 3h0m5 4h0m7 2h0m7-2h0m7 1h0m1-7h0m5 5h0m2-1h0m4-5h0m8 7h0m4-7h0m5 5h0m1 2h0m2-4h0m6 1h0m-82 14h0m2-4h0m1-4h0m2 0h0m1 4h0m10-3h0m2 1h0m1 5h0m2 1h0m4-3h0m6-4h0m10 7h0m0-3h0m1-5h0m4 0h0m2-1h0m17 8h0m1-4h0m14 5h0m2-4h0m1-4h0m-78 14h0m2-2h0m9 3h0m0 4h0m4-4h0m3-5h0m4 7h0m3 1h0m7-5h0m1-2h0m1-1h0m12 4h0m10-4h0m0 8h0m4-4h0m7-3h0m6 3h0m-75 7h0m1 2h0m7 4h0m1-6h0m7 1h0m1 7h0m0-6h0m4 4h0m11 1h0m11-3h0m2 3h0m0-6h0m0 4h0m1-6h0m6 4h0m2 1h0m2-2h0m1-2h0m2 0h0m7-1h0m2 5h0m1-2h0m2-1h0m2 0h0m2 3h0m1-2h0m4-2h0m-81 9h0m80 0h0"/><path id="ts4" d="M56 0h0m15-1h0m-71 4h0m4 6h0m4 1h0m6-8h0m0 7h0m6-1h0m6-7h0m2 4h0m1 3h0m0-5h0m6 1h0m4 4h0m3-5h0m2-1h0m0 2h0m1 5h0m15-3h0m5-2h0m7 5h0m8-6h0m-82 9h0m2-2h0m7 2h0m4 5h0m8-1h0m5-6h0m1 3h0m1-1h0m8 6h0m0-3h0m2 0h0m13 0h0m1 4h0m3-7h0m6 5h0m3-2h0m1-4h0m15 1h0m2-2h0m-82 13h0m1 2h0m12-1h0m12-4h0m2 1h0m2 0h0m3 7h0m3 1h0m12-7h0m3 3h0m6 2h0m11-3h0m6 5h0m7-6h0m1 2h0m-74 11h0m2-2h0m0 2h0m15 0h0m1-2h0m6 4h0m0-6h0m2 8h0m2-4h0m4 2h0m2-3h0m2 1h0m11-1h0m1-3h0m5 4h0m10 4h0m5-5h0m2 5h0m-69 2h0m5-2h0m7 6h0m1-3h0m6 7h0m6-7h0m4 3h0m13-3h0m6 5h0m6 0h0m6 1h0m3-4h0m-62 8h0m8-2h0m2 0h0m1 9h0m1-4h0m3-2h0m5 5h0m0-7h0m2 6h0m7-2h0m1-6h0m5 8h0m4-5h0m10 1h0m9 5h0m2 0h0m3-4h0m3 1h0m4-3h0m0 3h0m-79 13h0m2-1h0m2-1h0m3-7h0m2 7h0m2 1h0m1-5h0m3 2h0m11 1h0m2-5h0m0 5h0m3-1h0m9 3h0m1-5h0m5 1h0m2-4h0m5 5h0m2-1h0m0 6h0m2-2h0m1-6h0m1 4h0m2-1h0m6-3h0m5 7h0m4 0h0m2-8h0m2 8h0m2-1h0m-76 4h0m4 4h0m5-1h0m5-3h0m6 1h0m5 4h0m2-3h0m4-3h0m2 7h0m3-6h0m1 5h0m14-4h0m1 7h0m0-9h0m15 8h0m-57 3h0m12-1h0m18 1h0"/><path id="ts5" d="M24-1h0m4 0h0m26-1h0m14 2h0m6-2h0m-76 4h0m0 2h0m10-3h0m3 7h0m5 0h0m6-6h0m4 5h0m4 0h0m0-3h0m1 6h0m6-3h0m13 2h0m3 1h0m2-6h0m3 5h0m4-6h0m1 5h0m3-7h0m3 8h0m3-7h0m6 0h0m0 2h0m-66 15h0m0-8h0m10 0h0m5 8h0m3-2h0m5-4h0m3-1h0m6 7h0m4-8h0m4 8h0m6-5h0m1 6h0m9-3h0m2-4h0m0-2h0m2 8h0m2-1h0m3-3h0m-78 14h0m12 0h0m1-3h0m1 3h0m1-6h0m5 3h0m7-1h0m2 2h0m4-5h0m2-1h0m7 2h0m2 0h0m17 6h0m1-5h0m2-1h0m3 2h0m4-3h0m5 4h0m0-5h0m4 8h0m-80 3h0m4 3h0m5-4h0m2 3h0m3 4h0m2 1h0m9-7h0m1 6h0m1-3h0m7-1h0m4-1h0m0 3h0m2 2h0m1-6h0m2 2h0m4 4h0m5 1h0m3-5h0m6-2h0m3-2h0m2 6h0m5-1h0m2 2h0m4 0h0m0-5h0m3 0h0m-80 17h0m1-8h0m0 7h0m2-7h0m11 3h0m6 5h0m3-3h0m5-3h0m5 2h0m1 4h0m0-6h0m3-3h0m2 3h0m3 0h0m3 5h0m2-2h0m1 2h0m2-4h0m5 0h0m3 1h0m1-2h0m0 6h0m11 0h0m5-3h0m5 3h0m1-8h0m0 7h0m-80 11h0m2-1h0m2 0h0m5-4h0m3 1h0m0-2h0m9 5h0m1-6h0m2 2h0m3 0h0m4 0h0m11-1h0m0 2h0m2 2h0m0-2h0m4-3h0m2 5h0m0-4h0m1 6h0m17-5h0m4 4h0m2-8h0m1 9h0m5 0h0m2-1h0m-84 8h0m6 3h0m2 0h0m1-7h0m2 3h0m1 5h0m6-3h0m8-6h0m0 3h0m5 3h0m3-5h0m2 6h0m3-3h0m3 0h0m1 5h0m1-8h0m2-2h0m23 4h0m1 5h0m3-2h0m0-4h0m1 2h0m4 2h0m1-4h0m1 3h0m-73 11h0m5-3h0m2-2h0m4 4h0m6-1h0m2 4h0m0-9h0m1 5h0m3 4h0m23-3h0m3 2h0m13-5h0m1 5h0m0 2h0m6-2h0m2-8h0m-78 12h0m10-1h0m14 1h0m44-1h0m12 1h0"/></defs>
<defs><pattern id="pUm" width="80" height="80" patternUnits="userSpaceOnUse"><g stroke-width="2.9" stroke-linecap="round" fill="none"><use href="#ts0" stroke="#4290c8"/><use href="#ts1" stroke="#f49e48"/><use href="#ts2" stroke="#47ab47"/><use href="#ts3" stroke="#4290c8"/><use href="#ts4" stroke="#f49e48"/><use href="#ts5" stroke="#47ab47"/></g></pattern></defs>
<defs><pattern id="pUo" width="80" height="80" patternUnits="userSpaceOnUse"><g stroke-width="2.9" stroke-linecap="round" fill="none"><use href="#ts0" stroke="#f49e48"/><use href="#ts1" stroke="#f49e48"/><use href="#ts2" stroke="#f49e48"/><use href="#ts3" stroke="#f49e48"/><use href="#ts4" stroke="#f49e48"/><use href="#ts5" stroke="#47ab47"/></g></pattern></defs>
<defs><pattern id="pUb" width="80" height="80" patternUnits="userSpaceOnUse"><g stroke-width="2.9" stroke-linecap="round" fill="none"><use href="#ts0" stroke="#4290c8"/><use href="#ts1" stroke="#4290c8"/><use href="#ts2" stroke="#4290c8"/><use href="#ts3" stroke="#4290c8"/><use href="#ts4" stroke="#4290c8"/><use href="#ts5" stroke="#47ab47"/></g></pattern></defs>
<defs><pattern id="pUg" width="80" height="80" patternUnits="userSpaceOnUse"><g stroke-width="2.9" stroke-linecap="round" fill="none"><use href="#ts0" stroke="#47ab47"/><use href="#ts1" stroke="#47ab47"/><use href="#ts2" stroke="#47ab47"/><use href="#ts3" stroke="#47ab47"/><use href="#ts4" stroke="#4290c8"/><use href="#ts5" stroke="#f49e48"/></g></pattern></defs>
<defs><pattern id="pUbg" width="80" height="80" patternUnits="userSpaceOnUse"><g stroke-width="2.9" stroke-linecap="round" fill="none"><use href="#ts0" stroke="#4290c8"/><use href="#ts1" stroke="#4290c8"/><use href="#ts2" stroke="#4290c8"/><use href="#ts3" stroke="#47ab47"/><use href="#ts4" stroke="#47ab47"/><use href="#ts5" stroke="#f49e48"/></g></pattern></defs>
<defs><pattern id="pUog" width="80" height="80" patternUnits="userSpaceOnUse"><g stroke-width="2.9" stroke-linecap="round" fill="none"><use href="#ts0" stroke="#f49e48"/><use href="#ts1" stroke="#f49e48"/><use href="#ts2" stroke="#f49e48"/><use href="#ts3" stroke="#47ab47"/><use href="#ts4" stroke="#47ab47"/><use href="#ts5" stroke="#4290c8"/></g></pattern></defs>
<defs><clipPath id="cU"><path d="M916.7 153.7L934.6 140.3L957.0 124.6L974.9 117.9L995.0 115.7L1013.0 122.4L1028.6 135.8L1037.6 149.2L1039.8 162.7L1038.0 178.0L1051.0 185.0L1073.4 194.0L1095.8 205.2L1113.7 216.4L1127.1 229.8L1138.3 245.5L1145.0 267.9L1148.0 290.0L1150.6 322.4L1149.5 344.8L1145.0 362.7L1136.1 385.1L1122.7 407.5L1109.2 425.4L1095.8 443.3L1077.9 461.2L1057.7 476.9L1039.8 485.8L1017.4 494.8L1001.8 499.2L983.9 494.8L961.5 488.0L939.1 481.3L921.2 470.1L905.5 463.4L883.1 456.7L860.7 441.0L849.5 429.8L827.2 416.4L811.5 403.0L802.5 382.8L804.8 364.9L816.0 344.8L813.7 322.4L818.2 300.0L824.9 274.6L833.9 256.7L845.1 238.8L849.5 223.1L856.3 207.5L867.5 194.0L885.4 180.6L905.5 167.2Z"/></clipPath><filter id="fU" x="-20%" y="-20%" width="140%" height="140%"><feGaussianBlur stdDeviation="9"/></filter><filter id="eU" x="-10%" y="-10%" width="120%" height="120%"><feGaussianBlur stdDeviation="2.2"/></filter><mask id="kU" maskUnits="userSpaceOnUse" x="0" y="0" width="2165" height="2277"><g filter="url(#eU)"><path d="M916.7 153.7L934.6 140.3L957.0 124.6L974.9 117.9L995.0 115.7L1013.0 122.4L1028.6 135.8L1037.6 149.2L1039.8 162.7L1038.0 178.0L1051.0 185.0L1073.4 194.0L1095.8 205.2L1113.7 216.4L1127.1 229.8L1138.3 245.5L1145.0 267.9L1148.0 290.0L1150.6 322.4L1149.5 344.8L1145.0 362.7L1136.1 385.1L1122.7 407.5L1109.2 425.4L1095.8 443.3L1077.9 461.2L1057.7 476.9L1039.8 485.8L1017.4 494.8L1001.8 499.2L983.9 494.8L961.5 488.0L939.1 481.3L921.2 470.1L905.5 463.4L883.1 456.7L860.7 441.0L849.5 429.8L827.2 416.4L811.5 403.0L802.5 382.8L804.8 364.9L816.0 344.8L813.7 322.4L818.2 300.0L824.9 274.6L833.9 256.7L845.1 238.8L849.5 223.1L856.3 207.5L867.5 194.0L885.4 180.6L905.5 167.2Z" fill="#fff"/><ellipse cx="1014" cy="178" rx="16" ry="4" transform="rotate(10 1014 178)" fill="#000" opacity="0.6"/></g></mask></defs>
<defs><mask id="rU0" maskUnits="userSpaceOnUse" x="0" y="0" width="2165" height="2277"><ellipse cx="960" cy="228" rx="125" ry="40" transform="rotate(0 960 228)" fill="#fff" filter="url(#fU)"/></mask></defs>
<defs><mask id="rU1" maskUnits="userSpaceOnUse" x="0" y="0" width="2165" height="2277"><ellipse cx="836" cy="312" rx="30" ry="38" transform="rotate(0 836 312)" fill="#fff" filter="url(#fU)"/></mask></defs>
<defs><mask id="rU2" maskUnits="userSpaceOnUse" x="0" y="0" width="2165" height="2277"><ellipse cx="850" cy="425" rx="65" ry="48" transform="rotate(20 850 425)" fill="#fff" filter="url(#fU)"/></mask></defs>
<defs><mask id="rU3" maskUnits="userSpaceOnUse" x="0" y="0" width="2165" height="2277"><ellipse cx="1010" cy="478" rx="95" ry="32" transform="rotate(0 1010 478)" fill="#fff" filter="url(#fU)"/></mask></defs>
<defs><mask id="rU4" maskUnits="userSpaceOnUse" x="0" y="0" width="2165" height="2277"><ellipse cx="1018" cy="152" rx="22" ry="28" transform="rotate(0 1018 152)" fill="#fff" filter="url(#fU)"/></mask></defs>
<defs><mask id="rU5" maskUnits="userSpaceOnUse" x="0" y="0" width="2165" height="2277"><ellipse cx="1112" cy="300" rx="42" ry="78" transform="rotate(0 1112 300)" fill="#fff" filter="url(#fU)"/></mask></defs>
<defs><mask id="rU6" maskUnits="userSpaceOnUse" x="0" y="0" width="2165" height="2277"><ellipse cx="945" cy="160" rx="28" ry="25" transform="rotate(0 945 160)" fill="#fff" filter="url(#fU)"/></mask></defs>
<defs><mask id="rU7" maskUnits="userSpaceOnUse" x="0" y="0" width="2165" height="2277"><ellipse cx="1105" cy="410" rx="45" ry="45" transform="rotate(0 1105 410)" fill="#fff" filter="url(#fU)"/></mask></defs>
<defs><mask id="rU8" maskUnits="userSpaceOnUse" x="0" y="0" width="2165" height="2277"><ellipse cx="868" cy="358" rx="22" ry="20" transform="rotate(0 868 358)" fill="#fff" filter="url(#fU)"/></mask></defs>
<defs><mask id="rU9" maskUnits="userSpaceOnUse" x="0" y="0" width="2165" height="2277"><ellipse cx="950" cy="430" rx="40" ry="30" transform="rotate(0 950 430)" fill="#fff" filter="url(#fU)"/></mask></defs>
<defs><mask id="rU10" maskUnits="userSpaceOnUse" x="0" y="0" width="2165" height="2277"><ellipse cx="960" cy="292" rx="90" ry="22" transform="rotate(0 960 292)" fill="#fff" filter="url(#fU)"/></mask></defs>
<g mask="url(#kU)"><path d="M916.7 153.7L934.6 140.3L957.0 124.6L974.9 117.9L995.0 115.7L1013.0 122.4L1028.6 135.8L1037.6 149.2L1039.8 162.7L1038.0 178.0L1051.0 185.0L1073.4 194.0L1095.8 205.2L1113.7 216.4L1127.1 229.8L1138.3 245.5L1145.0 267.9L1148.0 290.0L1150.6 322.4L1149.5 344.8L1145.0 362.7L1136.1 385.1L1122.7 407.5L1109.2 425.4L1095.8 443.3L1077.9 461.2L1057.7 476.9L1039.8 485.8L1017.4 494.8L1001.8 499.2L983.9 494.8L961.5 488.0L939.1 481.3L921.2 470.1L905.5 463.4L883.1 456.7L860.7 441.0L849.5 429.8L827.2 416.4L811.5 403.0L802.5 382.8L804.8 364.9L816.0 344.8L813.7 322.4L818.2 300.0L824.9 274.6L833.9 256.7L845.1 238.8L849.5 223.1L856.3 207.5L867.5 194.0L885.4 180.6L905.5 167.2Z" fill="url(#pUm)"/><g mask="url(#rU0)"><path d="M916.7 153.7L934.6 140.3L957.0 124.6L974.9 117.9L995.0 115.7L1013.0 122.4L1028.6 135.8L1037.6 149.2L1039.8 162.7L1038.0 178.0L1051.0 185.0L1073.4 194.0L1095.8 205.2L1113.7 216.4L1127.1 229.8L1138.3 245.5L1145.0 267.9L1148.0 290.0L1150.6 322.4L1149.5 344.8L1145.0 362.7L1136.1 385.1L1122.7 407.5L1109.2 425.4L1095.8 443.3L1077.9 461.2L1057.7 476.9L1039.8 485.8L1017.4 494.8L1001.8 499.2L983.9 494.8L961.5 488.0L939.1 481.3L921.2 470.1L905.5 463.4L883.1 456.7L860.7 441.0L849.5 429.8L827.2 416.4L811.5 403.0L802.5 382.8L804.8 364.9L816.0 344.8L813.7 322.4L818.2 300.0L824.9 274.6L833.9 256.7L845.1 238.8L849.5 223.1L856.3 207.5L867.5 194.0L885.4 180.6L905.5 167.2Z" fill="url(#pUo)"/></g><g mask="url(#rU1)"><path d="M916.7 153.7L934.6 140.3L957.0 124.6L974.9 117.9L995.0 115.7L1013.0 122.4L1028.6 135.8L1037.6 149.2L1039.8 162.7L1038.0 178.0L1051.0 185.0L1073.4 194.0L1095.8 205.2L1113.7 216.4L1127.1 229.8L1138.3 245.5L1145.0 267.9L1148.0 290.0L1150.6 322.4L1149.5 344.8L1145.0 362.7L1136.1 385.1L1122.7 407.5L1109.2 425.4L1095.8 443.3L1077.9 461.2L1057.7 476.9L1039.8 485.8L1017.4 494.8L1001.8 499.2L983.9 494.8L961.5 488.0L939.1 481.3L921.2 470.1L905.5 463.4L883.1 456.7L860.7 441.0L849.5 429.8L827.2 416.4L811.5 403.0L802.5 382.8L804.8 364.9L816.0 344.8L813.7 322.4L818.2 300.0L824.9 274.6L833.9 256.7L845.1 238.8L849.5 223.1L856.3 207.5L867.5 194.0L885.4 180.6L905.5 167.2Z" fill="url(#pUo)"/></g><g mask="url(#rU2)"><path d="M916.7 153.7L934.6 140.3L957.0 124.6L974.9 117.9L995.0 115.7L1013.0 122.4L1028.6 135.8L1037.6 149.2L1039.8 162.7L1038.0 178.0L1051.0 185.0L1073.4 194.0L1095.8 205.2L1113.7 216.4L1127.1 229.8L1138.3 245.5L1145.0 267.9L1148.0 290.0L1150.6 322.4L1149.5 344.8L1145.0 362.7L1136.1 385.1L1122.7 407.5L1109.2 425.4L1095.8 443.3L1077.9 461.2L1057.7 476.9L1039.8 485.8L1017.4 494.8L1001.8 499.2L983.9 494.8L961.5 488.0L939.1 481.3L921.2 470.1L905.5 463.4L883.1 456.7L860.7 441.0L849.5 429.8L827.2 416.4L811.5 403.0L802.5 382.8L804.8 364.9L816.0 344.8L813.7 322.4L818.2 300.0L824.9 274.6L833.9 256.7L845.1 238.8L849.5 223.1L856.3 207.5L867.5 194.0L885.4 180.6L905.5 167.2Z" fill="url(#pUb)"/></g><g mask="url(#rU3)"><path d="M916.7 153.7L934.6 140.3L957.0 124.6L974.9 117.9L995.0 115.7L1013.0 122.4L1028.6 135.8L1037.6 149.2L1039.8 162.7L1038.0 178.0L1051.0 185.0L1073.4 194.0L1095.8 205.2L1113.7 216.4L1127.1 229.8L1138.3 245.5L1145.0 267.9L1148.0 290.0L1150.6 322.4L1149.5 344.8L1145.0 362.7L1136.1 385.1L1122.7 407.5L1109.2 425.4L1095.8 443.3L1077.9 461.2L1057.7 476.9L1039.8 485.8L1017.4 494.8L1001.8 499.2L983.9 494.8L961.5 488.0L939.1 481.3L921.2 470.1L905.5 463.4L883.1 456.7L860.7 441.0L849.5 429.8L827.2 416.4L811.5 403.0L802.5 382.8L804.8 364.9L816.0 344.8L813.7 322.4L818.2 300.0L824.9 274.6L833.9 256.7L845.1 238.8L849.5 223.1L856.3 207.5L867.5 194.0L885.4 180.6L905.5 167.2Z" fill="url(#pUb)"/></g><g mask="url(#rU4)"><path d="M916.7 153.7L934.6 140.3L957.0 124.6L974.9 117.9L995.0 115.7L1013.0 122.4L1028.6 135.8L1037.6 149.2L1039.8 162.7L1038.0 178.0L1051.0 185.0L1073.4 194.0L1095.8 205.2L1113.7 216.4L1127.1 229.8L1138.3 245.5L1145.0 267.9L1148.0 290.0L1150.6 322.4L1149.5 344.8L1145.0 362.7L1136.1 385.1L1122.7 407.5L1109.2 425.4L1095.8 443.3L1077.9 461.2L1057.7 476.9L1039.8 485.8L1017.4 494.8L1001.8 499.2L983.9 494.8L961.5 488.0L939.1 481.3L921.2 470.1L905.5 463.4L883.1 456.7L860.7 441.0L849.5 429.8L827.2 416.4L811.5 403.0L802.5 382.8L804.8 364.9L816.0 344.8L813.7 322.4L818.2 300.0L824.9 274.6L833.9 256.7L845.1 238.8L849.5 223.1L856.3 207.5L867.5 194.0L885.4 180.6L905.5 167.2Z" fill="url(#pUb)"/></g><g mask="url(#rU5)"><path d="M916.7 153.7L934.6 140.3L957.0 124.6L974.9 117.9L995.0 115.7L1013.0 122.4L1028.6 135.8L1037.6 149.2L1039.8 162.7L1038.0 178.0L1051.0 185.0L1073.4 194.0L1095.8 205.2L1113.7 216.4L1127.1 229.8L1138.3 245.5L1145.0 267.9L1148.0 290.0L1150.6 322.4L1149.5 344.8L1145.0 362.7L1136.1 385.1L1122.7 407.5L1109.2 425.4L1095.8 443.3L1077.9 461.2L1057.7 476.9L1039.8 485.8L1017.4 494.8L1001.8 499.2L983.9 494.8L961.5 488.0L939.1 481.3L921.2 470.1L905.5 463.4L883.1 456.7L860.7 441.0L849.5 429.8L827.2 416.4L811.5 403.0L802.5 382.8L804.8 364.9L816.0 344.8L813.7 322.4L818.2 300.0L824.9 274.6L833.9 256.7L845.1 238.8L849.5 223.1L856.3 207.5L867.5 194.0L885.4 180.6L905.5 167.2Z" fill="url(#pUg)"/></g><g mask="url(#rU6)"><path d="M916.7 153.7L934.6 140.3L957.0 124.6L974.9 117.9L995.0 115.7L1013.0 122.4L1028.6 135.8L1037.6 149.2L1039.8 162.7L1038.0 178.0L1051.0 185.0L1073.4 194.0L1095.8 205.2L1113.7 216.4L1127.1 229.8L1138.3 245.5L1145.0 267.9L1148.0 290.0L1150.6 322.4L1149.5 344.8L1145.0 362.7L1136.1 385.1L1122.7 407.5L1109.2 425.4L1095.8 443.3L1077.9 461.2L1057.7 476.9L1039.8 485.8L1017.4 494.8L1001.8 499.2L983.9 494.8L961.5 488.0L939.1 481.3L921.2 470.1L905.5 463.4L883.1 456.7L860.7 441.0L849.5 429.8L827.2 416.4L811.5 403.0L802.5 382.8L804.8 364.9L816.0 344.8L813.7 322.4L818.2 300.0L824.9 274.6L833.9 256.7L845.1 238.8L849.5 223.1L856.3 207.5L867.5 194.0L885.4 180.6L905.5 167.2Z" fill="url(#pUog)"/></g><g mask="url(#rU7)"><path d="M916.7 153.7L934.6 140.3L957.0 124.6L974.9 117.9L995.0 115.7L1013.0 122.4L1028.6 135.8L1037.6 149.2L1039.8 162.7L1038.0 178.0L1051.0 185.0L1073.4 194.0L1095.8 205.2L1113.7 216.4L1127.1 229.8L1138.3 245.5L1145.0 267.9L1148.0 290.0L1150.6 322.4L1149.5 344.8L1145.0 362.7L1136.1 385.1L1122.7 407.5L1109.2 425.4L1095.8 443.3L1077.9 461.2L1057.7 476.9L1039.8 485.8L1017.4 494.8L1001.8 499.2L983.9 494.8L961.5 488.0L939.1 481.3L921.2 470.1L905.5 463.4L883.1 456.7L860.7 441.0L849.5 429.8L827.2 416.4L811.5 403.0L802.5 382.8L804.8 364.9L816.0 344.8L813.7 322.4L818.2 300.0L824.9 274.6L833.9 256.7L845.1 238.8L849.5 223.1L856.3 207.5L867.5 194.0L885.4 180.6L905.5 167.2Z" fill="url(#pUbg)"/></g><g mask="url(#rU8)"><path d="M916.7 153.7L934.6 140.3L957.0 124.6L974.9 117.9L995.0 115.7L1013.0 122.4L1028.6 135.8L1037.6 149.2L1039.8 162.7L1038.0 178.0L1051.0 185.0L1073.4 194.0L1095.8 205.2L1113.7 216.4L1127.1 229.8L1138.3 245.5L1145.0 267.9L1148.0 290.0L1150.6 322.4L1149.5 344.8L1145.0 362.7L1136.1 385.1L1122.7 407.5L1109.2 425.4L1095.8 443.3L1077.9 461.2L1057.7 476.9L1039.8 485.8L1017.4 494.8L1001.8 499.2L983.9 494.8L961.5 488.0L939.1 481.3L921.2 470.1L905.5 463.4L883.1 456.7L860.7 441.0L849.5 429.8L827.2 416.4L811.5 403.0L802.5 382.8L804.8 364.9L816.0 344.8L813.7 322.4L818.2 300.0L824.9 274.6L833.9 256.7L845.1 238.8L849.5 223.1L856.3 207.5L867.5 194.0L885.4 180.6L905.5 167.2Z" fill="url(#pUg)"/></g><g mask="url(#rU9)"><path d="M916.7 153.7L934.6 140.3L957.0 124.6L974.9 117.9L995.0 115.7L1013.0 122.4L1028.6 135.8L1037.6 149.2L1039.8 162.7L1038.0 178.0L1051.0 185.0L1073.4 194.0L1095.8 205.2L1113.7 216.4L1127.1 229.8L1138.3 245.5L1145.0 267.9L1148.0 290.0L1150.6 322.4L1149.5 344.8L1145.0 362.7L1136.1 385.1L1122.7 407.5L1109.2 425.4L1095.8 443.3L1077.9 461.2L1057.7 476.9L1039.8 485.8L1017.4 494.8L1001.8 499.2L983.9 494.8L961.5 488.0L939.1 481.3L921.2 470.1L905.5 463.4L883.1 456.7L860.7 441.0L849.5 429.8L827.2 416.4L811.5 403.0L802.5 382.8L804.8 364.9L816.0 344.8L813.7 322.4L818.2 300.0L824.9 274.6L833.9 256.7L845.1 238.8L849.5 223.1L856.3 207.5L867.5 194.0L885.4 180.6L905.5 167.2Z" fill="url(#pUbg)"/></g><g mask="url(#rU10)"><path d="M916.7 153.7L934.6 140.3L957.0 124.6L974.9 117.9L995.0 115.7L1013.0 122.4L1028.6 135.8L1037.6 149.2L1039.8 162.7L1038.0 178.0L1051.0 185.0L1073.4 194.0L1095.8 205.2L1113.7 216.4L1127.1 229.8L1138.3 245.5L1145.0 267.9L1148.0 290.0L1150.6 322.4L1149.5 344.8L1145.0 362.7L1136.1 385.1L1122.7 407.5L1109.2 425.4L1095.8 443.3L1077.9 461.2L1057.7 476.9L1039.8 485.8L1017.4 494.8L1001.8 499.2L983.9 494.8L961.5 488.0L939.1 481.3L921.2 470.1L905.5 463.4L883.1 456.7L860.7 441.0L849.5 429.8L827.2 416.4L811.5 403.0L802.5 382.8L804.8 364.9L816.0 344.8L813.7 322.4L818.2 300.0L824.9 274.6L833.9 256.7L845.1 238.8L849.5 223.1L856.3 207.5L867.5 194.0L885.4 180.6L905.5 167.2Z" fill="url(#pUog)"/></g></g>
<path d="M964 119h0m8 0h0m7-3h0m9 0h0m2 0h0m6-1h0m1-2h0m4 3h0m5 4h0m1 0h0m5-3h0m5 2h0m-70 11h0m12-9h0m3 0h0m52-1h0m3 5h0m1 0h0m1 0h0m2 3h0m4 2h0m-89 8h0m4-2h0m5-5h0m78-1h0m1 1h0m3 2h0m-104 16h0m116-2h0m-126 11h0m0-2h0m3-2h0m124 6h0m2-5h0m-146 14h0m146-6h0m-152 13h0m1-6h0m4 2h0m4 0h0m141 6h0m-172 11h0m3 1h0m3-2h0m3-5h0m1 1h0m181 1h0m-194 8h0m212 1h0m6 4h0m1-2h0m0 2h0m-233 9h0m4 1h0m0-1h0m238-4h0m3-1h0m3 4h0m3-1h0m13 9h0m1 4h0m4-1h0m-320 11h0m326-7h0m1 5h0m2 2h0m-344 6h0m9 1h0m0-3h0m8 5h0m1-6h0m2 4h0m39-1h0m287 1h0m5 1h0m-337 4h0m8 5h0m2-4h0m10 6h0m0-1h0m5 0h0m11 2h0m3-1h0m297-6h0m2 0h0m2 5h0m0-2h0m-322 15h0m11-8h0m2 9h0m3-8h0m0 3h0m1 0h0m1-5h0m2 1h0m306 3h0m-371 16h0m3-2h0m1-4h0m7 2h0m45-5h0m1 6h0m316-2h0m1-1h0m1 4h0m-381 11h0m1-4h0m2-4h0m2 4h0m1-3h0m12 7h0m37 0h0m1 1h0m3-6h0m321-3h0m1 1h0m1 7h0m-372 6h0m378 15h0m-339 8h0m335 8h0m2-3h0m-339 9h0m339 7h0m2-3h0m-343 13h0m2-7h0m339 11h0m1 5h0m-348 4h0m2 6h0m-7 10h0m2 1h0m1-5h0m342 1h0m-344 7h0m2-2h0m334 16h0m-328 12h0m322-4h0m1 2h0m7-5h0m-326 19h0m5-1h0m305-1h0m-304 3h0m1 2h0m7 5h0m1 1h0m294-4h0m-295 8h0m7 1h0m2-2h0m5 6h0m1 1h0m1 0h0m1-2h0m4 2h0m265-4h0m0-2h0m-263 10h0m2 0h0m0 1h0m2 3h0m1-1h0m1 4h0m2-1h0m244 0h0m3-5h0m-241 14h0m5-1h0m2 1h0m231-7h0m-230 9h0m9 7h0m1 0h0m1 0h0m3 3h0m196-2h0m2-2h0m0 1h0m4-3h0m2-4h0m-198 10h0m7 2h0m8 3h0m174-3h0m-164 10h0m4 3h0m1-4h0m3 3h0m1 3h0m4-1h0m0 1h0m3 1h0m122 0h0m3 0h0m6-4h0m-117 12h0m3 3h0m4-2h0m0 2h0m2-1h0m4 0h0m76 0h0m0 1h0m1 0h0m5-3h0m5-1h0m7-4h0m4 1h0m-98 8h0m1 2h0m10-1h0m5 5h0m9-1h0m3 2h0m0 2h0m3-1h0m18 2h0m2-3h0m3 0h0m14-6h0m3 0h0m-31 12h0m7-3h0m1 2h0" stroke="#4290c8" stroke-width="2.6" stroke-linecap="round" fill="none"/><path d="M986 114h0m14 1h0m2-2h0m-54 13h0m4 0h0m64-2h0m-87 15h0m11-7h0m88-1h0m-109 19h0m118-7h0m-126 11h0m0 1h0m10-5h0m-18 13h0m7-3h0m132 4h0m0 5h0m1-4h0m-161 15h0m2-5h0m3 3h0m3-1h0m4-3h0m3-2h0m0 0h0m142 6h0m0-3h0m2 2h0m1 2h0m-174 8h0m8-1h0m3-1h0m171-2h0m5 3h0m8 4h0m-200 2h0m1 4h0m8-6h0m201 2h0m5 4h0m1-2h0m6 4h0m-229 6h0m0 0h0m1 0h0m2 0h0m0 0h0m229-3h0m2-1h0m5 4h0m0-1h0m5 3h0m3-3h0m2 4h0m3 3h0m-258 6h0m5-5h0m259 4h0m-330 10h0m1 1h0m0-1h0m2 5h0m0 0h0m60-2h0m2-3h0m0-4h0m1 0h0m277 0h0m0 7h0m-353 3h0m7 0h0m4 3h0m7 2h0m1-3h0m1-1h0m0 5h0m3-3h0m0 4h0m2-2h0m2-3h0m2 5h0m1-3h0m2 2h0m2 2h0m35-7h0m2 4h0m1-5h0m0 3h0m286 3h0m2-1h0m2 3h0m-336 6h0m2-4h0m7 1h0m1 3h0m1-4h0m0 4h0m3 0h0m3 4h0m0-4h0m1 0h0m0 1h0m2 1h0m4-5h0m2 6h0m1 0h0m8 1h0m3 0h0m-23 4h0m3-2h0m2-1h0m9 8h0m0 1h0m2-4h0m1 2h0m1-2h0m309 2h0m2-7h0m-372 18h0m0 1h0m2-1h0m4 0h0m49 1h0m1-2h0m2-3h0m3-2h0m311-1h0m0 3h0m2 0h0m2 0h0m-378 13h0m1-1h0m1-3h0m3 0h0m0 3h0m1-1h0m2-4h0m1 1h0m2 0h0m1 3h0m5 5h0m36-5h0m2-1h0m-36 8h0m29 17h0m1-2h0m-8 16h0m1 1h0m-3 10h0m4-2h0m1 3h0m338 2h0m2-2h0m-340 8h0m1 2h0m337 1h0m-338 5h0m0 4h0m339-3h0m-346 17h0m1-5h0m0 4h0m1-3h0m0 2h0m340-1h0m-5 13h0m-4 9h0m3-1h0m2-6h0m-339 26h0m327-3h0m-317 14h0m307 0h0m-8 12h0m8-9h0m-280 16h0m269-4h0m-12 15h0m4 2h0m5-10h0m-255 12h0m13 5h0m3 3h0m224-4h0m4-1h0m5-5h0m-21 20h0m6-4h0m-198 4h0m1 3h0m1-2h0m1-1h0m7 7h0m17 2h0m14 10h0m1 0h0m0-1h0m121 1h0m16-5h0m-132 12h0m5 0h0m0-3h0m1 0h0m7 2h0m84 3h0m1 1h0m6-2h0m1-2h0m3 1h0m-68 7h0m15 4h0m15 3h0m3-2h0m0 0h0m5-2h0m2 0h0m17-4h0" stroke="#f49e48" stroke-width="2.6" stroke-linecap="round" fill="none"/><path d="M970 118h0m2 0h0m4-2h0m11 0h0m10-2h0m1 1h0m-47 12h0m10-5h0m0 1h0m62 5h0m-77 3h0m87 8h0m-106 3h0m4-1h0m-24 16h0m2 0h0m4-5h0m127 0h0m-146 17h0m146-6h0m-156 16h0m8-4h0m151 1h0m7 8h0m1 1h0m3-1h0m2 2h0m17 4h0m-213 6h0m4-3h0m6-1h0m214 6h0m0 1h0m1 0h0m3 1h0m6 1h0m3 3h0m0-1h0m2 4h0m0 0h0m1 0h0m-247 5h0m252-2h0m1 1h0m1 0h0m-319 18h0m2-2h0m4 0h0m4-2h0m49 4h0m276-5h0m3 1h0m6 3h0m-348 2h0m6 2h0m0 7h0m0-9h0m9 5h0m1-5h0m1 6h0m1 2h0m10 0h0m316-7h0m5 4h0m-346 5h0m7 1h0m5 4h0m8 2h0m1-2h0m0-1h0m1-4h0m1 3h0m0-2h0m2 0h0m3 8h0m1-4h0m1-4h0m2 6h0m7-5h0m4 5h0m307-6h0m2 3h0m-329 7h0m0-1h0m21 9h0m7-9h0m307 6h0m-371 14h0m3-6h0m3 0h0m4 1h0m40 5h0m6-6h0m-62 13h0m1-3h0m0 0h0m1 6h0m4-3h0m1 3h0m3-5h0m0 4h0m1-8h0m1 6h0m3-1h0m39 1h0m2-3h0m325 3h0m2 0h0m-376 8h0m1-2h0m1 0h0m42 7h0m-1 4h0m-4 8h0m2 2h0m334 3h0m0-2h0m0-4h0m-339 9h0m340 5h0m1 2h0m0-4h0m-340 15h0m340-7h0m-337 18h0m335-3h0m2-2h0m1 4h0m-341 9h0m3-4h0m339-1h0m-342 10h0m336 1h0m0 5h0m1-7h0m0 1h0m1-1h0m2 3h0m-348 12h0m341 4h0m-5 8h0m2-6h0m1-2h0m2 1h0m-345 11h0m1 3h0m336 3h0m0-3h0m0 2h0m-333 9h0m2 0h0m0 0h0m326-1h0m4-2h0m3-2h0m-331 11h0m317 2h0m6 0h0m-304 14h0m292-1h0m3-5h0m-283 14h0m270 2h0m2 1h0m-251 13h0m11 12h0m6-2h0m5 6h0m3 2h0m195-1h0m8-6h0m3 0h0m-191 9h0m0 1h0m4 1h0m173 1h0m-152 8h0m130 5h0m4-1h0m3-1h0m5-5h0m-132 10h0m4 0h0m101 8h0m6-4h0m-69 9h0m10 2h0m22 1h0m8-1h0m2-2h0" stroke="#47ab47" stroke-width="2.6" stroke-linecap="round" fill="none"/>
<defs><pattern id="pZm" width="80" height="80" patternUnits="userSpaceOnUse" patternTransform="rotate(30)"><g stroke-width="2.9" stroke-linecap="round" fill="none"><use href="#ts0" stroke="#4290c8"/><use href="#ts1" stroke="#f49e48"/><use href="#ts2" stroke="#47ab47"/><use href="#ts3" stroke="#4290c8"/><use href="#ts4" stroke="#f49e48"/><use href="#ts5" stroke="#47ab47"/></g></pattern></defs>
<defs><pattern id="pZo" width="80" height="80" patternUnits="userSpaceOnUse" patternTransform="rotate(30)"><g stroke-width="2.9" stroke-linecap="round" fill="none"><use href="#ts0" stroke="#f49e48"/><use href="#ts1" stroke="#f49e48"/><use href="#ts2" stroke="#f49e48"/><use href="#ts3" stroke="#f49e48"/><use href="#ts4" stroke="#f49e48"/><use href="#ts5" stroke="#47ab47"/></g></pattern></defs>
<defs><pattern id="pZb" width="80" height="80" patternUnits="userSpaceOnUse" patternTransform="rotate(30)"><g stroke-width="2.9" stroke-linecap="round" fill="none"><use href="#ts0" stroke="#4290c8"/><use href="#ts1" stroke="#4290c8"/><use href="#ts2" stroke="#4290c8"/><use href="#ts3" stroke="#4290c8"/><use href="#ts4" stroke="#4290c8"/><use href="#ts5" stroke="#47ab47"/></g></pattern></defs>
<defs><pattern id="pZg" width="80" height="80" patternUnits="userSpaceOnUse" patternTransform="rotate(30)"><g stroke-width="2.9" stroke-linecap="round" fill="none"><use href="#ts0" stroke="#47ab47"/><use href="#ts1" stroke="#47ab47"/><use href="#ts2" stroke="#47ab47"/><use href="#ts3" stroke="#47ab47"/><use href="#ts4" stroke="#4290c8"/><use href="#ts5" stroke="#f49e48"/></g></pattern></defs>
<defs><pattern id="pZbg" width="80" height="80" patternUnits="userSpaceOnUse" patternTransform="rotate(30)"><g stroke-width="2.9" stroke-linecap="round" fill="none"><use href="#ts0" stroke="#4290c8"/><use href="#ts1" stroke="#4290c8"/><use href="#ts2" stroke="#4290c8"/><use href="#ts3" stroke="#47ab47"/><use href="#ts4" stroke="#47ab47"/><use href="#ts5" stroke="#f49e48"/></g></pattern></defs>
<defs><pattern id="pZog" width="80" height="80" patternUnits="userSpaceOnUse" patternTransform="rotate(30)"><g stroke-width="2.9" stroke-linecap="round" fill="none"><use href="#ts0" stroke="#f49e48"/><use href="#ts1" stroke="#f49e48"/><use href="#ts2" stroke="#f49e48"/><use href="#ts3" stroke="#47ab47"/><use href="#ts4" stroke="#47ab47"/><use href="#ts5" stroke="#4290c8"/></g></pattern></defs>
<defs><clipPath id="cZ"><path d="M802.9 837.1L805.2 800.4L814.4 777.5L825.8 756.9L844.2 740.8L860.2 724.8L878.6 708.8L899.2 692.7L917.5 679.0L940.4 669.8L963.4 662.9L986.3 658.3L1009.2 660.6L1032.1 672.1L1055.0 681.3L1078.0 685.8L1100.9 690.4L1114.6 699.6L1128.4 713.3L1146.7 722.5L1151.3 736.3L1165.0 754.6L1174.2 772.9L1183.4 791.3L1192.6 814.2L1197.1 837.1L1197.1 862.9L1192.6 890.4L1178.8 915.6L1160.5 936.3L1137.5 952.3L1114.6 968.4L1091.7 979.8L1066.5 995.9L1032.1 1005.0L997.7 1009.6L963.4 1007.3L940.4 1009.6L917.0 1010.0L894.6 1002.7L871.7 991.3L857.9 975.2L846.5 954.6L835.0 936.3L823.5 917.9L809.8 895.0L800.6 869.8L796.0 844.6Z"/></clipPath><filter id="fZ" x="-20%" y="-20%" width="140%" height="140%"><feGaussianBlur stdDeviation="9"/></filter><filter id="eZ" x="-10%" y="-10%" width="120%" height="120%"><feGaussianBlur stdDeviation="2.2"/></filter><mask id="kZ" maskUnits="userSpaceOnUse" x="0" y="0" width="2165" height="2277"><g filter="url(#eZ)"><path d="M802.9 837.1L805.2 800.4L814.4 777.5L825.8 756.9L844.2 740.8L860.2 724.8L878.6 708.8L899.2 692.7L917.5 679.0L940.4 669.8L963.4 662.9L986.3 658.3L1009.2 660.6L1032.1 672.1L1055.0 681.3L1078.0 685.8L1100.9 690.4L1114.6 699.6L1128.4 713.3L1146.7 722.5L1151.3 736.3L1165.0 754.6L1174.2 772.9L1183.4 791.3L1192.6 814.2L1197.1 837.1L1197.1 862.9L1192.6 890.4L1178.8 915.6L1160.5 936.3L1137.5 952.3L1114.6 968.4L1091.7 979.8L1066.5 995.9L1032.1 1005.0L997.7 1009.6L963.4 1007.3L940.4 1009.6L917.0 1010.0L894.6 1002.7L871.7 991.3L857.9 975.2L846.5 954.6L835.0 936.3L823.5 917.9L809.8 895.0L800.6 869.8L796.0 844.6Z" fill="#fff"/></g></mask></defs>
<defs><mask id="rZ0" maskUnits="userSpaceOnUse" x="0" y="0" width="2165" height="2277"><ellipse cx="842" cy="865" rx="52" ry="105" transform="rotate(0 842 865)" fill="#fff" filter="url(#fZ)"/></mask></defs>
<defs><mask id="rZ1" maskUnits="userSpaceOnUse" x="0" y="0" width="2165" height="2277"><ellipse cx="945" cy="958" rx="60" ry="32" transform="rotate(0 945 958)" fill="#fff" filter="url(#fZ)"/></mask></defs>
<defs><mask id="rZ2" maskUnits="userSpaceOnUse" x="0" y="0" width="2165" height="2277"><ellipse cx="1148" cy="835" rx="62" ry="125" transform="rotate(0 1148 835)" fill="#fff" filter="url(#fZ)"/></mask></defs>
<defs><mask id="rZ3" maskUnits="userSpaceOnUse" x="0" y="0" width="2165" height="2277"><ellipse cx="1070" cy="925" rx="45" ry="40" transform="rotate(0 1070 925)" fill="#fff" filter="url(#fZ)"/></mask></defs>
<defs><mask id="rZ4" maskUnits="userSpaceOnUse" x="0" y="0" width="2165" height="2277"><ellipse cx="975" cy="705" rx="100" ry="45" transform="rotate(0 975 705)" fill="#fff" filter="url(#fZ)"/></mask></defs>
<defs><mask id="rZ5" maskUnits="userSpaceOnUse" x="0" y="0" width="2165" height="2277"><ellipse cx="905" cy="845" rx="40" ry="70" transform="rotate(0 905 845)" fill="#fff" filter="url(#fZ)"/></mask></defs>
<defs><mask id="rZ6" maskUnits="userSpaceOnUse" x="0" y="0" width="2165" height="2277"><ellipse cx="1000" cy="998" rx="90" ry="14" transform="rotate(0 1000 998)" fill="#fff" filter="url(#fZ)"/></mask></defs>
<defs><mask id="rZ7" maskUnits="userSpaceOnUse" x="0" y="0" width="2165" height="2277"><ellipse cx="1110" cy="712" rx="40" ry="25" transform="rotate(0 1110 712)" fill="#fff" filter="url(#fZ)"/></mask></defs>
<g mask="url(#kZ)"><path d="M802.9 837.1L805.2 800.4L814.4 777.5L825.8 756.9L844.2 740.8L860.2 724.8L878.6 708.8L899.2 692.7L917.5 679.0L940.4 669.8L963.4 662.9L986.3 658.3L1009.2 660.6L1032.1 672.1L1055.0 681.3L1078.0 685.8L1100.9 690.4L1114.6 699.6L1128.4 713.3L1146.7 722.5L1151.3 736.3L1165.0 754.6L1174.2 772.9L1183.4 791.3L1192.6 814.2L1197.1 837.1L1197.1 862.9L1192.6 890.4L1178.8 915.6L1160.5 936.3L1137.5 952.3L1114.6 968.4L1091.7 979.8L1066.5 995.9L1032.1 1005.0L997.7 1009.6L963.4 1007.3L940.4 1009.6L917.0 1010.0L894.6 1002.7L871.7 991.3L857.9 975.2L846.5 954.6L835.0 936.3L823.5 917.9L809.8 895.0L800.6 869.8L796.0 844.6Z" fill="url(#pZm)"/><g mask="url(#rZ0)"><path d="M802.9 837.1L805.2 800.4L814.4 777.5L825.8 756.9L844.2 740.8L860.2 724.8L878.6 708.8L899.2 692.7L917.5 679.0L940.4 669.8L963.4 662.9L986.3 658.3L1009.2 660.6L1032.1 672.1L1055.0 681.3L1078.0 685.8L1100.9 690.4L1114.6 699.6L1128.4 713.3L1146.7 722.5L1151.3 736.3L1165.0 754.6L1174.2 772.9L1183.4 791.3L1192.6 814.2L1197.1 837.1L1197.1 862.9L1192.6 890.4L1178.8 915.6L1160.5 936.3L1137.5 952.3L1114.6 968.4L1091.7 979.8L1066.5 995.9L1032.1 1005.0L997.7 1009.6L963.4 1007.3L940.4 1009.6L917.0 1010.0L894.6 1002.7L871.7 991.3L857.9 975.2L846.5 954.6L835.0 936.3L823.5 917.9L809.8 895.0L800.6 869.8L796.0 844.6Z" fill="url(#pZo)"/></g><g mask="url(#rZ1)"><path d="M802.9 837.1L805.2 800.4L814.4 777.5L825.8 756.9L844.2 740.8L860.2 724.8L878.6 708.8L899.2 692.7L917.5 679.0L940.4 669.8L963.4 662.9L986.3 658.3L1009.2 660.6L1032.1 672.1L1055.0 681.3L1078.0 685.8L1100.9 690.4L1114.6 699.6L1128.4 713.3L1146.7 722.5L1151.3 736.3L1165.0 754.6L1174.2 772.9L1183.4 791.3L1192.6 814.2L1197.1 837.1L1197.1 862.9L1192.6 890.4L1178.8 915.6L1160.5 936.3L1137.5 952.3L1114.6 968.4L1091.7 979.8L1066.5 995.9L1032.1 1005.0L997.7 1009.6L963.4 1007.3L940.4 1009.6L917.0 1010.0L894.6 1002.7L871.7 991.3L857.9 975.2L846.5 954.6L835.0 936.3L823.5 917.9L809.8 895.0L800.6 869.8L796.0 844.6Z" fill="url(#pZo)"/></g><g mask="url(#rZ2)"><path d="M802.9 837.1L805.2 800.4L814.4 777.5L825.8 756.9L844.2 740.8L860.2 724.8L878.6 708.8L899.2 692.7L917.5 679.0L940.4 669.8L963.4 662.9L986.3 658.3L1009.2 660.6L1032.1 672.1L1055.0 681.3L1078.0 685.8L1100.9 690.4L1114.6 699.6L1128.4 713.3L1146.7 722.5L1151.3 736.3L1165.0 754.6L1174.2 772.9L1183.4 791.3L1192.6 814.2L1197.1 837.1L1197.1 862.9L1192.6 890.4L1178.8 915.6L1160.5 936.3L1137.5 952.3L1114.6 968.4L1091.7 979.8L1066.5 995.9L1032.1 1005.0L997.7 1009.6L963.4 1007.3L940.4 1009.6L917.0 1010.0L894.6 1002.7L871.7 991.3L857.9 975.2L846.5 954.6L835.0 936.3L823.5 917.9L809.8 895.0L800.6 869.8L796.0 844.6Z" fill="url(#pZb)"/></g><g mask="url(#rZ3)"><path d="M802.9 837.1L805.2 800.4L814.4 777.5L825.8 756.9L844.2 740.8L860.2 724.8L878.6 708.8L899.2 692.7L917.5 679.0L940.4 669.8L963.4 662.9L986.3 658.3L1009.2 660.6L1032.1 672.1L1055.0 681.3L1078.0 685.8L1100.9 690.4L1114.6 699.6L1128.4 713.3L1146.7 722.5L1151.3 736.3L1165.0 754.6L1174.2 772.9L1183.4 791.3L1192.6 814.2L1197.1 837.1L1197.1 862.9L1192.6 890.4L1178.8 915.6L1160.5 936.3L1137.5 952.3L1114.6 968.4L1091.7 979.8L1066.5 995.9L1032.1 1005.0L997.7 1009.6L963.4 1007.3L940.4 1009.6L917.0 1010.0L894.6 1002.7L871.7 991.3L857.9 975.2L846.5 954.6L835.0 936.3L823.5 917.9L809.8 895.0L800.6 869.8L796.0 844.6Z" fill="url(#pZb)"/></g><g mask="url(#rZ4)"><path d="M802.9 837.1L805.2 800.4L814.4 777.5L825.8 756.9L844.2 740.8L860.2 724.8L878.6 708.8L899.2 692.7L917.5 679.0L940.4 669.8L963.4 662.9L986.3 658.3L1009.2 660.6L1032.1 672.1L1055.0 681.3L1078.0 685.8L1100.9 690.4L1114.6 699.6L1128.4 713.3L1146.7 722.5L1151.3 736.3L1165.0 754.6L1174.2 772.9L1183.4 791.3L1192.6 814.2L1197.1 837.1L1197.1 862.9L1192.6 890.4L1178.8 915.6L1160.5 936.3L1137.5 952.3L1114.6 968.4L1091.7 979.8L1066.5 995.9L1032.1 1005.0L997.7 1009.6L963.4 1007.3L940.4 1009.6L917.0 1010.0L894.6 1002.7L871.7 991.3L857.9 975.2L846.5 954.6L835.0 936.3L823.5 917.9L809.8 895.0L800.6 869.8L796.0 844.6Z" fill="url(#pZg)"/></g><g mask="url(#rZ5)"><path d="M802.9 837.1L805.2 800.4L814.4 777.5L825.8 756.9L844.2 740.8L860.2 724.8L878.6 708.8L899.2 692.7L917.5 679.0L940.4 669.8L963.4 662.9L986.3 658.3L1009.2 660.6L1032.1 672.1L1055.0 681.3L1078.0 685.8L1100.9 690.4L1114.6 699.6L1128.4 713.3L1146.7 722.5L1151.3 736.3L1165.0 754.6L1174.2 772.9L1183.4 791.3L1192.6 814.2L1197.1 837.1L1197.1 862.9L1192.6 890.4L1178.8 915.6L1160.5 936.3L1137.5 952.3L1114.6 968.4L1091.7 979.8L1066.5 995.9L1032.1 1005.0L997.7 1009.6L963.4 1007.3L940.4 1009.6L917.0 1010.0L894.6 1002.7L871.7 991.3L857.9 975.2L846.5 954.6L835.0 936.3L823.5 917.9L809.8 895.0L800.6 869.8L796.0 844.6Z" fill="url(#pZog)"/></g><g mask="url(#rZ6)"><path d="M802.9 837.1L805.2 800.4L814.4 777.5L825.8 756.9L844.2 740.8L860.2 724.8L878.6 708.8L899.2 692.7L917.5 679.0L940.4 669.8L963.4 662.9L986.3 658.3L1009.2 660.6L1032.1 672.1L1055.0 681.3L1078.0 685.8L1100.9 690.4L1114.6 699.6L1128.4 713.3L1146.7 722.5L1151.3 736.3L1165.0 754.6L1174.2 772.9L1183.4 791.3L1192.6 814.2L1197.1 837.1L1197.1 862.9L1192.6 890.4L1178.8 915.6L1160.5 936.3L1137.5 952.3L1114.6 968.4L1091.7 979.8L1066.5 995.9L1032.1 1005.0L997.7 1009.6L963.4 1007.3L940.4 1009.6L917.0 1010.0L894.6 1002.7L871.7 991.3L857.9 975.2L846.5 954.6L835.0 936.3L823.5 917.9L809.8 895.0L800.6 869.8L796.0 844.6Z" fill="url(#pZbg)"/></g><g mask="url(#rZ7)"><path d="M802.9 837.1L805.2 800.4L814.4 777.5L825.8 756.9L844.2 740.8L860.2 724.8L878.6 708.8L899.2 692.7L917.5 679.0L940.4 669.8L963.4 662.9L986.3 658.3L1009.2 660.6L1032.1 672.1L1055.0 681.3L1078.0 685.8L1100.9 690.4L1114.6 699.6L1128.4 713.3L1146.7 722.5L1151.3 736.3L1165.0 754.6L1174.2 772.9L1183.4 791.3L1192.6 814.2L1197.1 837.1L1197.1 862.9L1192.6 890.4L1178.8 915.6L1160.5 936.3L1137.5 952.3L1114.6 968.4L1091.7 979.8L1066.5 995.9L1032.1 1005.0L997.7 1009.6L963.4 1007.3L940.4 1009.6L917.0 1010.0L894.6 1002.7L871.7 991.3L857.9 975.2L846.5 954.6L835.0 936.3L823.5 917.9L809.8 895.0L800.6 869.8L796.0 844.6Z" fill="url(#pZb)"/></g></g>
<path d="M979 657h0m4-2h0m0 3h0m14-3h0m3 5h0m0-2h0m6 1h0m-63 8h0m10-3h0m13-2h0m42-2h0m9 4h0m7 0h0m-107 12h0m20-5h0m99 0h0m1 3h0m9 3h0m-144 12h0m2-2h0m9-6h0m162 0h0m4 3h0m8 3h0m9 2h0m4 0h0m6 4h0m3 3h0m0-3h0m3 1h0m0 0h0m5 5h0m1-3h0m-242 11h0m1 3h0m6-6h0m240 3h0m-257 9h0m261-5h0m3 3h0m2 0h0m1 1h0m2-2h0m4 1h0m1 2h0m0 3h0m1-2h0m4-1h0m-290 14h0m6-6h0m286-3h0m1 0h0m4 4h0m2 3h0m-3 5h0m0 1h0m1 2h0m0-4h0m4 4h0m0 2h0m-315 6h0m315-3h0m1 2h0m3 5h0m0-2h0m4 4h0m-339 3h0m1 3h0m338-3h0m1 1h0m3 6h0m3 7h0m4-1h0m3 3h0m-366 8h0m2-1h0m1-6h0m0 1h0m362 6h0m4 0h0m-1 7h0m1 2h0m1 2h0m-378 9h0m380-7h0m1 1h0m0 3h0m0-2h0m1 5h0m2 1h0m2 2h0m-388 8h0m0 1h0m2-1h0m1-6h0m383-1h0m1-1h0m2 9h0m5 8h0m-1 7h0m0-1h0m1 7h0m1-4h0m-397 10h0m398 1h0m2 0h0m1-5h0m-409 23h0m4 3h0m402 0h0m2-6h0m1 2h0m-4 7h0m1 3h0m0 6h0m-396 19h0m392-7h0m1 2h0m-386 10h0m382-1h0m1 4h0m-376 11h0m0-1h0m0 1h0m369-1h0m2-6h0m4 3h0m0 0h0m-372 13h0m358 1h0m5-3h0m-361 7h0m350 4h0m-15 14h0m2-2h0m3-2h0m2-1h0m1 0h0m-22 15h0m7-3h0m1-1h0m0 1h0m1 1h0m3-6h0m-23 16h0m4 0h0m4-7h0m-24 19h0m2-3h0m2-1h0m1 3h0m6-7h0m1 1h0m0-3h0m3 0h0m-273 19h0m238 0h0m7 0h0m7-7h0m4-1h0m-254 12h0m224 6h0m11-8h0m-220 15h0m12 4h0m183-4h0m4-2h0m1 0h0m-183 8h0m1 1h0m1-1h0m2 3h0m1-1h0m5 3h0m2 0h0m61 1h0m2-4h0m1 3h0m4 2h0m12 0h0m8 0h0m39 0h0m3-4h0m4 0h0m4 2h0m0-3h0m6-1h0m6-1h0m3-2h0m-146 14h0m0 5h0m1-5h0m2 3h0m9-4h0m17-2h0m1 0h0m3 3h0m4-3h0m1 2h0m2-1h0m1 1h0m0-2h0m7 0h0m5 6h0m1 0h0m5 2h0m3-2h0m0 0h0m3-7h0m22 1h0m1 2h0m4 0h0m6-2h0m3 0h0m3 0h0m-104 11h0m0-2h0m1 8h0m2-4h0m0-1h0m4 2h0m28-3h0m2 3h0m1 4h0m4-3h0m3-3h0m6 2h0m1 3h0m0-5h0m3 6h0m1-8h0m1 9h0m0-7h0m4-2h0m1 3h0m3-3h0m2 1h0m3 7h0m0-3h0m-63 11h0m0-2h0m3 0h0m1-1h0m35 1h0m1-5h0m6 1h0m2 4h0m-49 9h0m3-2h0m0 1h0m0 4h0m1-1h0m2 3h0m1-1h0" stroke="#4290c8" stroke-width="2.6" stroke-linecap="round" fill="none"/><path d="M970 660h0m21-1h0m0-2h0m-50 10h0m29-6h0m50 4h0m6 2h0m-96 5h0m108-1h0m17 7h0m1 2h0m-154 3h0m160-2h0m25 6h0m2-1h0m7 2h0m9 2h0m-222 9h0m5 1h0m6-3h0m1-3h0m2-3h0m212 4h0m6 3h0m-237 11h0m-9 8h0m262-3h0m8 4h0m1-1h0m0 2h0m2 0h0m-286 5h0m-8 12h0m6-5h0m-21 15h0m1 0h0m4-3h0m3-1h0m322 7h0m-340 10h0m3-5h0m339-1h0m6 13h0m3 1h0m1 1h0m-364 12h0m5-9h0m-7 10h0m371 0h0m3 9h0m1-5h0m-376 9h0m-6 10h0m-1 13h0m1-2h0m392 3h0m-392 8h0m-1 6h0m1 4h0m0-4h0m0 2h0m1-2h0m0 5h0m395 2h0m-401 2h0m401 0h0m4 3h0m-407 8h0m0 5h0m1-6h0m3 16h0m0-7h0m398 2h0m-397 8h0m1 3h0m1 1h0m1 5h0m396-3h0m-395 10h0m2 3h0m1 0h0m388-3h0m-389 6h0m0 1h0m1 7h0m0-5h0m4 4h0m378 1h0m4-7h0m-381 9h0m6 7h0m369-5h0m-374 8h0m1-2h0m5 2h0m367 1h0m-361 8h0m0 1h0m1 5h0m5 3h0m342-3h0m1-1h0m1-6h0m1 4h0m-344 12h0m0-3h0m1 2h0m1 1h0m2 3h0m1 1h0m1 5h0m6 6h0m1 2h0m295-2h0m-292 15h0m2-2h0m268 2h0m8-5h0m1 1h0m-269 17h0m0-3h0m252-5h0m1 0h0m-249 10h0m5 8h0m222-5h0m0 1h0m-214 10h0m3 2h0m4 0h0m19 12h0m0 0h0m34 1h0m3 0h0m12-5h0m5 1h0m5 4h0m30 0h0m6 0h0m25-1h0m15-3h0m18-5h0m-146 13h0m0-1h0m6 2h0m1 0h0m0 1h0m1-5h0m1 8h0m1-5h0m8-1h0m9-2h0m7 1h0m4 1h0m3 0h0m1-2h0m0 1h0m10-1h0m8 6h0m10-7h0m5 3h0m7 0h0m4-3h0m8 1h0m4 0h0m15 0h0m2 0h0m-113 11h0m3-1h0m0 4h0m1 2h0m0 0h0m5 1h0m27 0h0m1-6h0m1 3h0m5-4h0m2 5h0m0-1h0m3-4h0m6 5h0m5-2h0m4 5h0m3-6h0m4-3h0m-66 13h0m1-2h0m1 4h0m0 0h0m0 1h0m3-2h0m0 2h0m2 4h0m0-1h0m37-8h0m5-1h0m1 3h0m-46 10h0m0-2h0m1 4h0m1-4h0m0 5h0m2 0h0m1-3h0m1-2h0m24 11h0" stroke="#f49e48" stroke-width="2.6" stroke-linecap="round" fill="none"/><path d="M971 659h0m8 0h0m2-3h0m18 2h0m-49 9h0m1-3h0m3 0h0m7-1h0m0-1h0m1 1h0m6-2h0m42-1h0m3 2h0m11 4h0m1 1h0m-110 10h0m3 0h0m3-4h0m1 4h0m1-4h0m7 1h0m3-2h0m101 1h0m1-1h0m5 3h0m2-4h0m12 9h0m5-2h0m8 2h0m-166 9h0m4-1h0m1-1h0m150-6h0m8 2h0m10-1h0m1 3h0m7 1h0m14 1h0m2 1h0m-213 10h0m3 1h0m1-4h0m7-1h0m1 0h0m207-2h0m14 8h0m-242 7h0m11-5h0m-27 17h0m11-6h0m1 1h0m268 3h0m-301 21h0m9-3h0m6-4h0m299 3h0m2 6h0m-319 7h0m0-2h0m1-1h0m1 0h0m1 2h0m-17 12h0m1-3h0m1 1h0m3-4h0m-7 15h0m353 4h0m-366 19h0m4-3h0m369-5h0m-374 13h0m389 12h0m-393 10h0m392-4h0m1 7h0m2-3h0m-396 7h0m396 20h0m4-2h0m-403 20h0m399 5h0m4-6h0m-405 10h0m8 10h0m4 9h0m389-4h0m-389 10h0m3 3h0m0 0h0m381-3h0m1-5h0m-380 15h0m1-1h0m367 11h0m0-4h0m-6 9h0m-343 12h0m336 0h0m-335 9h0m1 3h0m13 11h0m290-1h0m1-2h0m4 0h0m1-1h0m-21 13h0m-269 7h0m249 5h0m-238 9h0m4 3h0m216 1h0m-212 2h0m0 2h0m4 1h0m0 1h0m3-1h0m175 5h0m18-4h0m-183 6h0m5 1h0m0 1h0m8 4h0m0 1h0m1 0h0m4-2h0m4 2h0m3 1h0m1 0h0m40 0h0m10-2h0m13-2h0m10 3h0m11 1h0m21-1h0m15-4h0m0-1h0m3 2h0m13-6h0m5 1h0m-144 9h0m0 3h0m0 7h0m0-7h0m2 1h0m1-2h0m2 0h0m17-2h0m13 6h0m1-4h0m1 2h0m4 4h0m7-1h0m1 2h0m1-4h0m0 0h0m1 1h0m9-3h0m5 0h0m3 1h0m8-1h0m6 2h0m3-3h0m8-1h0m-93 14h0m1 1h0m0-5h0m1 7h0m1-2h0m1 3h0m1-2h0m0 1h0m2-4h0m21 1h0m1-2h0m3-2h0m5 6h0m3-3h0m0 3h0m3-1h0m5-1h0m3-3h0m4 1h0m0 3h0m1 2h0m3-5h0m8 0h0m-66 14h0m2-1h0m1-3h0m0-1h0m1 1h0m0 0h0m2 0h0m2 7h0m38-5h0m8 0h0m3-5h0m2 8h0m4-7h0m24 5h0m-84 11h0m1-7h0m2 2h0m0 4h0m1 0h0m1-3h0m0-2h0m0 1h0m1 5h0" stroke="#47ab47" stroke-width="2.6" stroke-linecap="round" fill="none"/>
<defs><pattern id="pAbg" width="80" height="80" patternUnits="userSpaceOnUse" patternTransform="rotate(17)"><g stroke-width="2.9" stroke-linecap="round" fill="none"><use href="#ts0" stroke="#dee0db"/><use href="#ts1" stroke="#d5e3e8"/><use href="#ts2" stroke="#e9dfe3"/><use href="#ts3" stroke="#dde7d9"/><use href="#ts4" stroke="#eaebe8"/><use href="#ts5" stroke="#d8e8e6"/></g></pattern></defs>
<defs><filter id="eA" x="-10%" y="-10%" width="120%" height="120%"><feGaussianBlur stdDeviation="3.5"/></filter><mask id="kA" maskUnits="userSpaceOnUse" x="0" y="0" width="2165" height="2277"><path d="M320.7 153.7L338.6 140.3L361.0 124.6L378.9 117.9L399.0 115.7L417.0 122.4L432.6 135.8L441.6 149.2L443.8 162.7L442.0 178.0L455.0 185.0L477.4 194.0L499.8 205.2L517.7 216.4L531.1 229.8L542.3 245.5L549.0 267.9L552.0 290.0L554.6 322.4L553.5 344.8L549.0 362.7L540.1 385.1L526.7 407.5L513.2 425.4L499.8 443.3L481.9 461.2L461.7 476.9L443.8 485.8L421.4 494.8L405.8 499.2L387.9 494.8L365.5 488.0L343.1 481.3L325.2 470.1L309.5 463.4L287.1 456.7L264.7 441.0L253.5 429.8L231.2 416.4L215.5 403.0L206.5 382.8L208.8 364.9L220.0 344.8L217.7 322.4L222.2 300.0L228.9 274.6L237.9 256.7L249.1 238.8L253.5 223.1L260.3 207.5L271.5 194.0L289.4 180.6L309.5 167.2Z" fill="#fff" filter="url(#eA)"/></mask></defs>
<g mask="url(#kA)"><path d="M320.7 153.7L338.6 140.3L361.0 124.6L378.9 117.9L399.0 115.7L417.0 122.4L432.6 135.8L441.6 149.2L443.8 162.7L442.0 178.0L455.0 185.0L477.4 194.0L499.8 205.2L517.7 216.4L531.1 229.8L542.3 245.5L549.0 267.9L552.0 290.0L554.6 322.4L553.5 344.8L549.0 362.7L540.1 385.1L526.7 407.5L513.2 425.4L499.8 443.3L481.9 461.2L461.7 476.9L443.8 485.8L421.4 494.8L405.8 499.2L387.9 494.8L365.5 488.0L343.1 481.3L325.2 470.1L309.5 463.4L287.1 456.7L264.7 441.0L253.5 429.8L231.2 416.4L215.5 403.0L206.5 382.8L208.8 364.9L220.0 344.8L217.7 322.4L222.2 300.0L228.9 274.6L237.9 256.7L249.1 238.8L253.5 223.1L260.3 207.5L271.5 194.0L289.4 180.6L309.5 167.2Z" fill="url(#pAbg)"/></g>
<path d="M393 116h0m7 0h0m8-4h0m-57 15h0m75 3h0m8 8h0m-108 6h0m117-1h0m-122 10h0m-38 25h0m5 1h0m161 1h0m27 12h0m0-1h0m18 10h0m5 0h0m12 6h0m0 2h0m-253 2h0m266 5h0m20 28h0m-312 22h0m319-1h0m0 3h0m1 2h0m-334 28h0m4-4h0m332 5h0m4 1h0m-340 17h0m-1 12h0m338 14h0m-343 8h0m2 2h0m340 4h0m-344 4h0m-3 26h0m10 20h0m310 13h0m-294 1h0m13 5h0m263 14h0m3-10h0m-229 24h0m1 2h0m4 3h0m202-4h0m-192 6h0m7 1h0m151 18h0m-100 6h0m83 2h0m-48 11h0m0-2h0m35-2h0" stroke="#dee0db" stroke-width="2.6" stroke-linecap="round" fill="none"/><path d="M378 114h0m1-1h0m23 3h0m4-1h0m-54 13h0m-28 19h0m1 2h0m114-5h0m-124 16h0m1-3h0m-18 15h0m160 12h0m7 1h0m43 21h0m1 4h0m-251 3h0m271 13h0m1-4h0m-283 11h0m0 7h0m285-10h0m11 15h0m7 13h0m-324 14h0m4-2h0m320 1h0m-328 26h0m332 14h0m-339 15h0m3 3h0m-5 27h0m339 3h0m-345 11h0m2-10h0m2 0h0m-6 16h0m340-1h0m-5 10h0m-8 20h0m-305 13h0m23 11h0m1 4h0m18 16h0m234-7h0m3 0h0m2 0h0m-18 17h0m3-8h0m1 2h0m-16 12h0m8-4h0m-161 10h0m1 1h0m34 16h0m8 2h0m22 6h0m6 1h0" stroke="#d5e3e8" stroke-width="2.6" stroke-linecap="round" fill="none"/><path d="M359 118h0m25-2h0m26 4h0m12 4h0m1 2h0m4 5h0m5 1h0m5 7h0m0-4h0m9 18h0m-3 24h0m4-6h0m4 1h0m1 6h0m21 12h0m9 6h0m2 1h0m3-2h0m15 11h0m10 0h0m-262 6h0m3 0h0m265 2h0m-266 10h0m277 0h0m6 1h0m1 9h0m-293 13h0m-10 12h0m-10 22h0m-6 14h0m336 0h0m2 23h0m-342 6h0m343 8h0m3 17h0m-10 14h0m-342 15h0m336 4h0m-330 16h0m315 14h0m-11 8h0m-259 19h0m0-3h0m255-5h0m-17 19h0m-200 9h0m191-1h0m-195 9h0m26 1h0m155 1h0m15-8h0m-164 10h0m11 7h0m135-3h0m-114 11h0m98-4h0m-90 9h0m58 4h0m-28 9h0" stroke="#e9dfe3" stroke-width="2.6" stroke-linecap="round" fill="none"/><path d="M386 117h0m5 0h0m14-3h0m9 3h0m-54 6h0m62 4h0m7 4h0m9 5h0m-136 32h0m11-6h0m132 2h0m-161 16h0m14-6h0m155 5h0m-172 6h0m177-4h0m24 14h0m-223 14h0m258 5h0m-270 16h0m295 7h0m-304 19h0m310-2h0m-318 14h0m325 2h0m-4 10h0m7-5h0m-339 33h0m335-4h0m0 9h0m2 17h0m-339 6h0m339 0h0m1 1h0m-347 17h0m341 2h0m2-4h0m-349 17h0m6-8h0m340 4h0m2-2h0m-351 17h0m334 16h0m3-4h0m-9 11h0m-312 7h0m8 6h0m293 7h0m-257 16h0m243-1h0m-6 7h0m-210 15h0m22 4h0m2 4h0m10 2h0m4 5h0m144-3h0m-106 16h0m89-1h0m1-4h0m-75 11h0" stroke="#dde7d9" stroke-width="2.6" stroke-linecap="round" fill="none"/><path d="M369 120h0m33-4h0m-52 7h0m1 3h0m5 1h0m8-4h0m60 2h0m0-4h0m1 7h0m2-1h0m-85 11h0m2-4h0m-20 15h0m2-2h0m118-1h0m-1 22h0m5 9h0m-165 6h0m169-3h0m34 18h0m6 2h0m-227 0h0m-15 19h0m0 4h0m0 10h0m286 0h0m-296 13h0m306 3h0m-317 18h0m-5 19h0m329-6h0m-331 11h0m0 4h0m331 3h0m2-7h0m-335 14h0m335 5h0m1 0h0m-341 13h0m2-1h0m338 3h0m-337 13h0m336 0h0m-342 19h0m-3 5h0m-7 13h0m339 13h0m3-6h0m-329 28h0m316-8h0m-310 9h0m309 1h0m-291 11h0m279 2h0m-247 22h0m13 8h0m214-4h0m-23 19h0m8-3h0m-13 4h0m-128 11h0m14 4h0m7 2h0m81 1h0m-70 2h0m67-1h0" stroke="#eaebe8" stroke-width="2.6" stroke-linecap="round" fill="none"/><path d="M387 117h0m-46 17h0m1-3h0m-14 12h0m117 12h0m6 25h0m12 7h0m-196 11h0m1-5h0m-14 17h0m259 1h0m9 8h0m23 29h0m-308 10h0m309-8h0m-318 26h0m327 0h0m0-5h0m-329 12h0m330 3h0m1 8h0m-338 50h0m-8 12h0m343 2h0m-346 6h0m0 4h0m2 23h0m325 3h0m1-2h0m0 0h0m-307 24h0m298-4h0m-296 9h0m265 30h0m-184 17h0m1-3h0m175-3h0m-153 15h0m126 1h0m10-2h0m7-4h0m-134 11h0m15 5h0m80 1h0m3-2h0m10-3h0m3-3h0m-84 10h0m1 0h0m68 3h0m2-1h0" stroke="#d8e8e6" stroke-width="2.6" stroke-linecap="round" fill="none"/>
<path d="M402 128h0m-52 7h0m9-2h0m25 13h0m2 2h0m43 2h0m-103 19h0m43-9h0m52 8h0m-108 4h0m-3 17h0m100-8h0m-114 13h0m49-2h0m26 7h0m28-5h0m49 4h0m-110 11h0m20-9h0m73 4h0m30 1h0m11 5h0m10 1h0m-220 13h0m13-2h0m51 6h0m32-7h0m24 8h0m34-7h0m102 1h0m-208 16h0m70-8h0m-135 16h0m17-6h0m13-1h0m19 1h0m7 8h0m73-8h0m11-1h0m60 8h0m69 0h0m16-2h0m-138 5h0m7 2h0m12 6h0m10-5h0m40-3h0m10 3h0m32 5h0m-226 5h0m74 2h0m20 4h0m2-1h0m37-1h0m118-7h0m-265 11h0m18 6h0m0-5h0m41 3h0m59-3h0m45-3h0m21 5h0m74 1h0m24 3h0m-284 8h0m207-3h0m25 3h0m-249 10h0m97-1h0m113 2h0m50-1h0m5-4h0m12 3h0m11 3h0m1-9h0m-200 10h0m10 4h0m55 6h0m19-9h0m63-1h0m28 6h0m-264 5h0m164 5h0m10-3h0m50 6h0m39-8h0m27 5h0m-201 6h0m8 1h0m43 4h0m18-7h0m2 7h0m86-1h0m16-3h0m12-3h0m7 4h0m-292 12h0m66-2h0m19-4h0m43 8h0m22-3h0m69-3h0m52 7h0m14-7h0m-255 10h0m40 5h0m20-5h0m10 5h0m1 1h0m9 0h0m15-5h0m32-3h0m43 1h0m16 5h0m-207 8h0m59 3h0m3-1h0m6-6h0m72 5h0m59 1h0m-157 7h0m44-3h0m5 2h0m5 6h0m73-5h0m71 0h0m2-1h0m39-2h0m24 1h0m-344 17h0m91 0h0m125-2h0m8 3h0m49-6h0m-222 13h0m29 1h0m4-7h0m12 3h0m17 6h0m6-3h0m43 3h0m8-8h0m123 1h0m30 1h0m-240 7h0m7 10h0m56-2h0m65-5h0m45-2h0m-240 16h0m18 2h0m87-8h0m65 6h0m74-4h0m13 3h0m38-3h0m-240 11h0m79 3h0m153-3h0m-210 8h0m1 5h0m37-2h0m6 2h0m7-2h0m25-3h0m45 8h0m-139 1h0m54 3h0m94 2h0m32 3h0m29-7h0m-62 13h0m5-4h0m-129 18h0m174-7h0m-169 9h0m6-1h0m29 4h0m58 0h0m72 1h0m-121 8h0m45 6h0m10-8h0m0 4h0m19 1h0m-34 15h0m46 0h0" stroke="#2a8c8c" stroke-width="2.3" stroke-linecap="round" fill="none"/><path d="M427 124h0m-65 20h0m52 5h0m-124 29h0m118-2h0m-79 21h0m143 3h0m-201 17h0m204 23h0m13-10h0m-238 19h0m233 10h0m16 14h0m-201 8h0m22 10h0m25 8h0m99 8h0m26 0h0m-35 13h0m26 8h0m79 2h0m-232 4h0m129 2h0m-214 13h0m74 1h0m52-9h0m27 7h0m30 2h0m66-1h0m54-3h0m21-2h0m-234 23h0m-104 12h0m256-5h0m-104 12h0m61 1h0m-174 6h0m21 5h0m57-1h0m196 12h0m-162 6h0m-119 8h0m22 7h0m177-3h0m-181 5h0m100 3h0m23-1h0m97 14h0m-133 32h0m77-1h0m-26 6h0" stroke="#6a2c9a" stroke-width="2.3" stroke-linecap="round" fill="none"/><path d="M361 165h0m78 1h0m-30 12h0m-38 31h0m-5 14h0m-38 15h0m126 4h0m-70 14h0m121 11h0m38-2h0m-71 55h0m-224 4h0m84 3h0m-64 5h0m45 0h0m37 13h0m-78 44h0m123-4h0m-150 16h0m176 2h0m19-1h0m-161 24h0" stroke="#3c9a3c" stroke-width="2.3" stroke-linecap="round" fill="none"/>
<path d="M380 115h0m5-2h0m0 0h0m-23 12h0m5 2h0m1-4h0m5 5h0m5 0h0m2-7h0m12 9h0m5-2h0m4-2h0m17 4h0m-69 6h0m8 1h0m5-4h0m1 3h0m7-6h0m1 3h0m4 4h0m0-3h0m7-2h0m7 3h0m7-2h0m9-1h0m4 7h0m20-2h0m-106 12h0m14-7h0m10 5h0m18 1h0m8-7h0m3 4h0m24-4h0m14 0h0m10 1h0m6-1h0m4 0h0m-124 16h0m39-6h0m5 9h0m7-2h0m2 0h0m10-2h0m1-5h0m5 9h0m4-8h0m10 1h0m8 4h0m3-2h0m0-2h0m4 4h0m2-5h0m1 1h0m6 1h0m14 5h0m-113 6h0m0-2h0m7 6h0m1-9h0m4 7h0m2-1h0m5 2h0m1-6h0m13-1h0m1 0h0m4 5h0m5 0h0m8 1h0m3-5h0m0 2h0m19-3h0m1 1h0m0 5h0m5-1h0m13-3h0m1 6h0m6-8h0m11 2h0m1 6h0m5-9h0m7 3h0m3 2h0m-147 6h0m12 8h0m3-1h0m1 0h0m2-7h0m6 2h0m2 3h0m14-5h0m14 0h0m6 7h0m9-3h0m1-5h0m7 1h0m4 7h0m2 0h0m14-2h0m6-6h0m2 3h0m4 5h0m1-2h0m4 0h0m1-4h0m1 1h0m11 5h0m0-8h0m4 5h0m-142 12h0m6 2h0m18-5h0m23 4h0m11-7h0m4 1h0m7 1h0m3 2h0m2 4h0m5-8h0m3 0h0m3 5h0m2 4h0m5-2h0m4-1h0m4-3h0m4 4h0m2 1h0m3-5h0m8 0h0m1-1h0m0 4h0m4 0h0m2 0h0m8 1h0m5-5h0m1 6h0m7-5h0m2 5h0m1 0h0m2-4h0m5-3h0m2 7h0m-170 2h0m4 8h0m4-2h0m0-7h0m1 9h0m1-4h0m5 5h0m3-3h0m2 1h0m2-4h0m3 0h0m3 5h0m1-6h0m2 0h0m0 5h0m8 1h0m1-7h0m3 7h0m1-9h0m1 6h0m13-4h0m4 0h0m2-1h0m2 4h0m8 0h0m1 3h0m8-3h0m1-5h0m8 6h0m0-1h0m3-5h0m3 7h0m0-2h0m0 2h0m1-5h0m3 4h0m10 2h0m1-4h0m4-4h0m8 1h0m0 5h0m3-1h0m7-3h0m2 4h0m18-6h0m1 8h0m0-5h0m2 4h0m1-5h0m5 8h0m11-7h0m1 5h0m4 1h0m0-8h0m2 0h0m11 9h0m1-4h0m5 1h0m0-2h0m-211 14h0m3 0h0m13 0h0m0-5h0m13 2h0m2-4h0m3 0h0m16 6h0m5-8h0m1 4h0m8 5h0m1 0h0m0-3h0m1-6h0m6 7h0m1 3h0m2-3h0m2-2h0m4 5h0m7 0h0m9-2h0m4 0h0m3-1h0m1-4h0m1 2h0m3-4h0m5 6h0m3-5h0m2 1h0m3 3h0m4-2h0m2 1h0m18 3h0m6-1h0m5-6h0m2 7h0m2-4h0m9 3h0m1-1h0m1-3h0m3 4h0m2 2h0m5-4h0m6-4h0m11 4h0m0-4h0m8 7h0m3-1h0m3 1h0m2-4h0m9 4h0m7-3h0m3-5h0m2 3h0m9 1h0m-260 10h0m14 5h0m28 1h0m2-4h0m2 0h0m3 3h0m3 1h0m6-8h0m2 1h0m4-2h0m0 2h0m5 3h0m14-6h0m2 2h0m1 4h0m4-3h0m1 6h0m7-4h0m1 1h0m4 3h0m4-8h0m1 1h0m1 4h0m1 0h0m1-5h0m1 3h0m0 3h0m7 0h0m3 1h0m1-6h0m1 6h0m10-1h0m12-2h0m4-3h0m3-1h0m3 4h0m10-5h0m2 2h0m1 5h0m1-1h0m4-3h0m2-1h0m4 3h0m1-5h0m3 4h0m2 3h0m7 0h0m4-1h0m4-1h0m2-4h0m0 1h0m3 5h0m1 3h0m5-8h0m3 4h0m2-4h0m1-1h0m2 8h0m0-1h0m4 0h0m7-3h0m3 2h0m3-1h0m4-4h0m2-2h0m5 1h0m7 0h0m1 3h0m5 0h0m11 1h0m-328 10h0m1 3h0m3 0h0m0-1h0m1-2h0m2 4h0m1-4h0m1 5h0m0 0h0m0-8h0m1 5h0m1 2h0m0 1h0m1-1h0m0-3h0m1 3h0m1-1h0m51-1h0m3 1h0m1 2h0m19-2h0m13-1h0m0-2h0m5 0h0m1 3h0m0-1h0m1 0h0m7-4h0m0 6h0m1-9h0m1 8h0m1 1h0m4-3h0m7 1h0m5-3h0m5 6h0m5-8h0m1 5h0m6-2h0m6-2h0m1 5h0m9-2h0m1-3h0m2-2h0m9 4h0m0 0h0m7-5h0m6 6h0m1 0h0m8 2h0m3-2h0m5 0h0m0 1h0m10-2h0m1 4h0m1-6h0m1 5h0m0-3h0m3-3h0m1 4h0m5-4h0m2 7h0m2-8h0m0 1h0m3 0h0m2 5h0m12-4h0m3-3h0m5 7h0m2 1h0m1 0h0m2-3h0m0-2h0m12 6h0m4-1h0m1 1h0m1-8h0m1 6h0m1-4h0m1 1h0m4 4h0m6 1h0m3-5h0m0 0h0m0-2h0m9-1h0m0 2h0m11 6h0m7-5h0m2-2h0m7 0h0m-334 8h0m1 3h0m1 0h0m0 0h0m0-1h0m1 0h0m0 2h0m0 1h0m2-2h0m0 2h0m1-3h0m0-1h0m0 0h0m2 0h0m0-1h0m0 6h0m1-6h0m0 1h0m1 1h0m1 2h0m0 0h0m4-2h0m4 1h0m61 7h0m0-1h0m3-2h0m12 3h0m7-2h0m3 1h0m0 0h0m5-2h0m6 3h0m1-1h0m1-3h0m1 0h0m3 1h0m3 2h0m3-4h0m7-5h0m5 4h0m2 3h0m5 1h0m9 1h0m4-7h0m2 7h0m3-5h0m1-4h0m0 9h0m1-8h0m0 6h0m6-5h0m4 2h0m5 0h0m3-3h0m4-1h0m4 8h0m0-3h0m0 1h0m4-2h0m0 0h0m8-2h0m10 7h0m0-1h0m1-3h0m1 0h0m0 2h0m1-4h0m5 2h0m3-3h0m1 0h0m2 5h0m1-4h0m1-1h0m3 4h0m1 3h0m0 0h0m5-3h0m4-4h0m5 2h0m2 5h0m1-3h0m1-5h0m2 6h0m2-6h0m4 2h0m1 0h0m4 1h0m0 1h0m1-3h0m2 2h0m7 2h0m2-1h0m0-1h0m1-4h0m2 6h0m2-1h0m1 4h0m10-1h0m12-7h0m4 8h0m1-8h0m1 4h0m0-1h0m1-2h0m0 5h0m5-2h0m1-1h0m5 1h0m4-2h0m1-2h0m1 3h0m6-4h0m0 9h0m6-1h0m6 1h0m-342 6h0m52 4h0m1 0h0m16 1h0m2-8h0m0 7h0m6-7h0m3 1h0m2-3h0m6 5h0m9-4h0m0 8h0m5-3h0m0 1h0m2 1h0m1-3h0m4-2h0m1 1h0m9 1h0m0-2h0m5-2h0m6 7h0m2-1h0m3-7h0m7 5h0m9-4h0m3 2h0m5-1h0m1 5h0m6-6h0m0 7h0m4-7h0m1 5h0m1-5h0m1 2h0m4 3h0m1-5h0m0 3h0m8-2h0m0 3h0m2 4h0m1-7h0m3 2h0m1-3h0m1 8h0m0-5h0m3-4h0m1 2h0m1 8h0m2-5h0m7 2h0m0-7h0m1 6h0m1 1h0m5-6h0m4 8h0m2-2h0m2 1h0m3-8h0m2 10h0m0 0h0m2-3h0m1 2h0m13-4h0m0-3h0m1 5h0m11-3h0m3 3h0m2 0h0m7-4h0m1 5h0m2 1h0m4-1h0m2-1h0m2 1h0m1-1h0m1 0h0m1 1h0m3-2h0m2 1h0m1-4h0m1 0h0m1-2h0m8 0h0m2-1h0m2 7h0m1 0h0m1 1h0m6-7h0m4 6h0m2-1h0m2 0h0m2 3h0m1-1h0m3-8h0m3 0h0m0 5h0m3 3h0m2 2h0m5-6h0m-342 12h0m2-1h0m1 3h0m0-6h0m1 5h0m2-1h0m0 1h0m1-1h0m1 1h0m0-6h0m42 3h0m6-3h0m1 0h0m2 6h0m13-3h0m3-2h0m15 3h0m0-1h0m0-1h0m1 6h0m3-4h0m1 2h0m4-1h0m5-5h0m3-1h0m2 2h0m0 4h0m4-6h0m1 8h0m2-5h0m17-1h0m0-2h0m2 1h0m2 3h0m5 5h0m4-5h0m1 6h0m2-3h0m2-6h0m6 3h0m8-2h0m2 8h0m3-3h0m5-4h0m6 1h0m1-3h0m12 5h0m0-1h0m2 5h0m7-3h0m1 1h0m5-4h0m4 6h0m1-2h0m1-8h0m4 6h0m0-3h0m1 3h0m0-4h0m1 6h0m10-1h0m2-6h0m2 8h0m0 0h0m2 1h0m1-7h0m0 6h0m0-5h0m2-2h0m1 5h0m0-7h0m2 4h0m1 4h0m1-8h0m1 1h0m1 6h0m1-4h0m0 6h0m1-2h0m6-2h0m0-4h0m1 3h0m6 6h0m2-2h0m2 1h0m0-6h0m1 6h0m12-7h0m1 1h0m9 7h0m1-9h0m0 4h0m1 3h0m4-2h0m0-5h0m4 6h0m4-3h0m0-2h0m0 2h0m1 1h0m0 2h0m2 1h0m2-7h0m2 7h0m0-7h0m2 1h0m6 7h0m2-7h0m5 5h0m0-1h0m1-5h0m7 5h0m2-5h0m9 8h0m1-4h0m3 3h0m-361 9h0m4 1h0m17-7h0m36 3h0m4 4h0m3-5h0m9 2h0m2-5h0m9 7h0m1-5h0m7 3h0m7 0h0m3 2h0m7-4h0m3 4h0m4 0h0m1-4h0m3-3h0m7 10h0m2-9h0m2 2h0m1 5h0m0-5h0m1 6h0m7-4h0m9-4h0m10 3h0m1 1h0m2-3h0m9 2h0m5 4h0m2-6h0m2 4h0m1 3h0m4-3h0m2-1h0m1 5h0m1-4h0m4-1h0m0 5h0m2-2h0m4-3h0m0 1h0m2 0h0m4 2h0m2-6h0m0-2h0m5 8h0m4-7h0m1 8h0m10-1h0m3-5h0m0 5h0m6-7h0m3 2h0m2 6h0m2-4h0m1 5h0m1-2h0m1 2h0m2-8h0m3 6h0m3-2h0m4 1h0m1 3h0m1-9h0m2 5h0m1 0h0m4-1h0m8 3h0m2-8h0m2 8h0m1-6h0m2 1h0m2-1h0m4 0h0m6 4h0m1-5h0m5 7h0m1-7h0m4 2h0m8-1h0m3-1h0m5 1h0m2-1h0m2 3h0m2 2h0m9-1h0m3-1h0m1-1h0m3 6h0m1-3h0m5 1h0m1-5h0m3-2h0m7 4h0m1 5h0m0-5h0m5 3h0m11 2h0m-384 4h0m1 4h0m0-4h0m1 5h0m1 2h0m0-7h0m0 0h0m1 7h0m1-7h0m0 0h0m0-1h0m2 1h0m0-1h0m0 6h0m1-2h0m0 1h0m2-1h0m0-2h0m1-2h0m0 6h0m0 1h0m2-1h0m35-1h0m9-6h0m4 7h0m10 2h0m7-6h0m3 0h0m1 5h0m1-8h0m6 9h0m4-5h0m5-3h0m5 2h0m8-2h0m13 5h0m1-5h0m6 4h0m4 4h0m2-7h0m9 7h0m2-6h0m5 3h0m3-6h0m12 1h0m3 1h0m2 3h0m1-1h0m2 5h0m7-6h0m5 5h0m0-8h0m1 7h0m8 0h0m1 2h0m2-6h0m3-1h0m10 0h0m2 4h0m3 3h0m2-3h0m0-6h0m1 8h0m2-2h0m0 0h0m2 1h0m1-2h0m4 0h0m4-5h0m2 8h0m3-5h0m1-1h0m6 5h0m1-4h0m1 6h0m1-10h0m1 0h0m2 6h0m0-5h0m0 8h0m1-4h0m0-1h0m2 3h0m2 0h0m1-6h0m0 8h0m3-7h0m1 4h0m0-1h0m2-1h0m0 5h0m2-4h0m2-3h0m3 3h0m2-2h0m0 3h0m3-1h0m2 4h0m4 0h0m1 0h0m1-7h0m1 4h0m1-5h0m2 4h0m1 4h0m1-4h0m2-4h0m1 8h0m1-2h0m1-2h0m1-4h0m3 0h0m0 1h0m3 1h0m2 0h0m1 6h0m2-5h0m4 3h0m4 1h0m1-4h0m6 3h0m2 1h0m2 0h0m3-2h0m0-1h0m2-4h0m4 6h0m1-2h0m2-4h0m1 2h0m0-2h0m2 0h0m2 8h0m0-7h0m0 5h0m1-6h0m0 4h0m2-4h0m2 3h0m5 2h0m3-5h0m2 7h0m0-8h0m0 0h0m2 5h0m2-5h0m0 5h0m11-3h0m-374 18h0m3-6h0m1 0h0m1 0h0m1-2h0m1 0h0m0-1h0m1 0h0m2 5h0m0-5h0m3 0h0m51 8h0m3-1h0m0-6h0m5-1h0m0 7h0m8-2h0m8 4h0m5-1h0m2-3h0m1 4h0m3-2h0m0-1h0m9-4h0m0 0h0m3 2h0m5 1h0m2-4h0m1-2h0m3 1h0m14 3h0m6 2h0m1 1h0m1 0h0m3-4h0m0 1h0m2-2h0m3 7h0m16-5h0m4 5h0m4 0h0m8-2h0m2-3h0m1-4h0m3 3h0m9-2h0m2 1h0m1 7h0m1-2h0m0-7h0m2 3h0m1-1h0m1 7h0m2 0h0m0-8h0m1 4h0m2 3h0m0-6h0m0 3h0m1-2h0m5 2h0m0 0h0m2-4h0m0 7h0m1 0h0m4-1h0m1-6h0m2 4h0m1-4h0m0 1h0m0 6h0m4-2h0m2 2h0m3-6h0m0 7h0m1-2h0m3-5h0m2 0h0m1 3h0m4-4h0m0 7h0m1-1h0m1-7h0m0 4h0m1-2h0m3 5h0m1-6h0m3 3h0m0 4h0m2-6h0m0 1h0m0 0h0m4 0h0m1-2h0m6 0h0m3 8h0m2-8h0m3 3h0m7 3h0m0-2h0m1 2h0m1-3h0m1 1h0m0-1h0m8-4h0m0 3h0m3 3h0m3 2h0m2 0h0m1-2h0m1 1h0m0-2h0m2 0h0m4 1h0m3-2h0m3 3h0m1-5h0m3 1h0m4 5h0m1-3h0m0 3h0m6-4h0m4-2h0m3 7h0m2-8h0m3-1h0m0 3h0m2 3h0m1-1h0m1-2h0m1 4h0m1-5h0m1 2h0m2 4h0m6-5h0m3-1h0m0 3h0m2-2h0m6 1h0m1 4h0m1-8h0m-326 16h0m18-4h0m4 3h0m1 0h0m4-3h0m6 3h0m1 1h0m1-5h0m2 3h0m14-4h0m4 1h0m0 8h0m2-3h0m2-3h0m1-2h0m5 9h0m4-8h0m8 0h0m3 7h0m1-7h0m7-1h0m2 0h0m9 4h0m4 0h0m3-3h0m0 4h0m1-3h0m1 4h0m1 3h0m1-7h0m2 7h0m0-8h0m2 6h0m2-4h0m4 0h0m5-2h0m2 3h0m2 1h0m8-6h0m5 2h0m3 4h0m1-4h0m0 3h0m1-2h0m4 4h0m1-6h0m3 0h0m1 2h0m1 2h0m2 1h0m0-3h0m1-1h0m1-1h0m6 6h0m2 0h0m1 0h0m1 2h0m2-8h0m1-1h0m1 7h0m2-5h0m2 4h0m0 1h0m0 0h0m4 2h0m1-4h0m2 3h0m1-3h0m4-1h0m1 1h0m2 1h0m2-1h0m11 0h0m4 2h0m1-6h0m1-1h0m2 8h0m2 1h0m1 1h0m0-4h0m2 2h0m1 1h0m0-3h0m2-5h0m4 7h0m4 2h0m1-2h0m0-4h0m2 4h0m0-4h0m2 5h0m12-3h0m1 0h0m4-5h0m5 4h0m1-1h0m3-2h0m4 7h0m0-4h0m0 2h0m1-4h0m2 5h0m1 0h0m1-7h0m0 6h0m0-4h0m1 1h0m6 2h0m0 1h0m3 0h0m3-3h0m9 3h0m2-4h0m5 0h0m7-2h0m3 7h0m6-3h0m0-5h0m0 1h0m4 5h0m3 2h0m3-2h0m2-2h0m-324 10h0m1 1h0m6 3h0m8-8h0m0 8h0m7 1h0m3-6h0m8 2h0m5 3h0m5-5h0m7 2h0m10 0h0m0 3h0m1-7h0m4 4h0m3-5h0m4 2h0m2 1h0m0-3h0m2 3h0m2 6h0m5-9h0m1 5h0m2-4h0m1 1h0m1-1h0m0 2h0m5 6h0m1-7h0m9 7h0m7-5h0m0 2h0m3-4h0m2 4h0m1 2h0m1-7h0m5 4h0m3 5h0m1-5h0m2 0h0m3 1h0m2-3h0m1-2h0m3 8h0m3 1h0m0-3h0m5-2h0m13-4h0m5 5h0m1-5h0m5 2h0m1 1h0m2-1h0m1 5h0m1-2h0m2-3h0m1 3h0m1-5h0m3 8h0m1-6h0m3 2h0m4-4h0m1 7h0m1-8h0m4 3h0m1-1h0m2 1h0m5 3h0m1 2h0m0-4h0m1 6h0m5-5h0m2-3h0m2 0h0m1 0h0m1 7h0m0-7h0m3 6h0m1-6h0m3 4h0m2-4h0m1 4h0m1 0h0m2-1h0m1 2h0m2 1h0m2-1h0m4 2h0m3 0h0m2-3h0m1 1h0m1-1h0m1-2h0m1-1h0m0 6h0m0-4h0m0 1h0m1-6h0m1 2h0m2 8h0m1 0h0m0-7h0m2 0h0m2-1h0m1 1h0m0 2h0m1 1h0m5 2h0m1 1h0m11-5h0m1-1h0m0 7h0m1-8h0m9 7h0m6-8h0m7 8h0m7-7h0m5-1h0m2 7h0m0-3h0m0-2h0m1 6h0m2-7h0m1 2h0m4 2h0m0 1h0m4-3h0m1-2h0m-335 16h0m1-5h0m3 2h0m4 5h0m8-9h0m4 3h0m5 4h0m2-2h0m1 2h0m0 0h0m3-2h0m3 1h0m9-2h0m3-3h0m1 6h0m1 2h0m10-6h0m3-2h0m1 5h0m21-4h0m2 7h0m1-8h0m1-1h0m3 3h0m1 4h0m2-6h0m2 5h0m3-4h0m1-3h0m3 9h0m8-2h0m6 0h0m1 1h0m0 0h0m1 2h0m6-1h0m1-1h0m0 1h0m0-5h0m4 5h0m3-7h0m8 6h0m3-3h0m1 2h0m1-2h0m1 4h0m0-1h0m6-8h0m2 3h0m6 3h0m1-3h0m2 0h0m5-2h0m1 1h0m0 1h0m2 2h0m0-3h0m1 0h0m0 4h0m0 0h0m12-1h0m0-3h0m1 4h0m4-5h0m2 5h0m2-2h0m1 6h0m5-8h0m2-1h0m0-1h0m0 6h0m1 2h0m3-5h0m0-3h0m3 5h0m5 1h0m1 2h0m3 0h0m0-8h0m3 2h0m1 1h0m3 3h0m0 1h0m0-7h0m1 3h0m1 3h0m0-1h0m1 1h0m4 1h0m1-2h0m5 1h0m0-5h0m0-1h0m1 2h0m4 7h0m1-4h0m4 5h0m0-6h0m3 2h0m1-1h0m6 4h0m3-1h0m0-6h0m2 7h0m1-4h0m0-3h0m2-1h0m7 2h0m0-1h0m1-2h0m0 5h0m5-2h0m2 5h0m3-5h0m5 7h0m3-8h0m2-2h0m1 8h0m1-8h0m0 4h0m1 5h0m0-2h0m3-4h0m2 4h0m0 1h0m8 1h0m7-4h0m1 5h0m5-10h0m4 10h0m1 0h0m3-2h0m2 1h0m1-2h0m-325 12h0m2-9h0m1 5h0m0 2h0m11-1h0m2 2h0m1 2h0m0-3h0m1 0h0m1 1h0m4-2h0m7-6h0m11 7h0m1 0h0m19 2h0m0 0h0m2-7h0m4 6h0m5-6h0m2 3h0m1-1h0m7 0h0m1 3h0m9-1h0m2-3h0m6 0h0m2 5h0m1-7h0m0 6h0m3-1h0m0-4h0m2 1h0m6 1h0m0 2h0m5-4h0m5 0h0m6 1h0m7-1h0m1 3h0m4 4h0m1-9h0m3 4h0m1 3h0m4-2h0m1 3h0m1-7h0m2 4h0m5-5h0m3 7h0m0-6h0m3 4h0m4 4h0m1-6h0m4 7h0m0-3h0m1-1h0m5-3h0m0 7h0m2-8h0m2 3h0m0-5h0m0 4h0m1 4h0m5-5h0m1-1h0m2 2h0m1 0h0m1-1h0m0-3h0m4 8h0m0-6h0m1 4h0m10-4h0m1 6h0m0-1h0m1 2h0m3-2h0m1-1h0m3-5h0m0 4h0m2 2h0m2-2h0m0 1h0m2-1h0m1 2h0m0-7h0m2 10h0m2-8h0m0 3h0m1-3h0m1 7h0m5-1h0m2-4h0m2 2h0m3-1h0m0 1h0m1 3h0m1-2h0m4-2h0m1 0h0m2-3h0m0 4h0m1-2h0m0 5h0m1-5h0m1 4h0m1-7h0m3 3h0m1 2h0m1 3h0m1-3h0m2-3h0m0 3h0m2-4h0m0-1h0m5 8h0m0-1h0m1-1h0m1-1h0m2-4h0m1 1h0m5 4h0m8-5h0m2 6h0m1 1h0m2-6h0m0 4h0m0 3h0m1-4h0m4 1h0m2-6h0m6 2h0m4-1h0m0 4h0m3 3h0m1-4h0m1-3h0m2 0h0m3 7h0m1-2h0m1-3h0m6 6h0m3-3h0m-336 5h0m3 1h0m3 1h0m3-1h0m2 1h0m6 6h0m3-2h0m4 0h0m23-7h0m5 8h0m1-2h0m4-4h0m0 5h0m0-1h0m1-1h0m1-2h0m0 4h0m1-7h0m1 2h0m8-1h0m1 3h0m2-1h0m2-1h0m0 1h0m5 1h0m3-4h0m7 4h0m2 4h0m1-7h0m3 8h0m1-8h0m0 1h0m5-2h0m1 0h0m4 8h0m5-6h0m7 5h0m1-5h0m1 4h0m1-1h0m1 3h0m2-9h0m3 9h0m0 1h0m4 0h0m4-4h0m0-3h0m1 0h0m6 1h0m2 6h0m1-5h0m0 0h0m3-1h0m0-2h0m1 1h0m4 6h0m7-2h0m4 1h0m6-6h0m2 2h0m1-3h0m3 8h0m1-5h0m2-1h0m5 1h0m4-4h0m1 1h0m0 2h0m0 7h0m2-2h0m1-7h0m3 6h0m1-6h0m1 7h0m0 2h0m3-2h0m1 2h0m2-4h0m3-5h0m0 0h0m1 7h0m0 0h0m0 1h0m3-7h0m5 1h0m0-3h0m3 8h0m2 2h0m0-7h0m0-1h0m1 0h0m1 3h0m2-1h0m1 5h0m1-4h0m0-2h0m1 2h0m5 1h0m8 3h0m2-4h0m4 3h0m4-8h0m6 3h0m2 1h0m0 0h0m0 4h0m0 1h0m1 0h0m0-3h0m1-2h0m1-4h0m0 2h0m3 1h0m2 4h0m1-6h0m2 7h0m3 1h0m1-2h0m0-4h0m5 1h0m4 1h0m3 5h0m3-6h0m4 1h0m1-1h0m2 0h0m3-2h0m4 1h0m0-3h0m0 1h0m2 6h0m2-5h0m1 1h0m1 2h0m2 0h0m1-5h0m7 1h0m3 0h0m3 0h0m3 6h0m1-2h0m-317 12h0m0-2h0m12 3h0m8-7h0m11 4h0m0 3h0m1-4h0m1-3h0m4 8h0m7-6h0m20 3h0m1-1h0m2 4h0m4-1h0m3-6h0m7 7h0m1-7h0m1 0h0m2 5h0m7-4h0m1 3h0m3 2h0m3 1h0m1-4h0m1-2h0m9 2h0m1 1h0m1-4h0m2 6h0m6-1h0m2-6h0m1-1h0m1 7h0m1-2h0m2 0h0m1-4h0m0 5h0m2 2h0m1-1h0m2 1h0m2 2h0m4-4h0m4 0h0m0 3h0m2-6h0m0-1h0m3 3h0m1-1h0m3 3h0m1-1h0m4 0h0m1-1h0m1 4h0m3-3h0m2-4h0m1 7h0m2-8h0m2 7h0m5-4h0m0-3h0m0 4h0m2-1h0m0 2h0m1 2h0m6-4h0m1 2h0m1-4h0m0 0h0m1 0h0m0-2h0m1 9h0m1-8h0m3 4h0m1-3h0m2 3h0m2 3h0m2-6h0m0 4h0m0-3h0m2-1h0m6 0h0m1 8h0m3-7h0m3-2h0m5 3h0m0 5h0m2-3h0m1-5h0m10 4h0m0-5h0m1 1h0m3 5h0m6-5h0m2 6h0m5-6h0m1 3h0m3 0h0m0-1h0m1-1h0m1 2h0m1 2h0m0 4h0m1-2h0m3-5h0m0 2h0m1-5h0m1 3h0m2 5h0m1-6h0m7 6h0m0-6h0m2 1h0m1-1h0m1 7h0m0 1h0m1-10h0m1 0h0m0 5h0m1 3h0m4-2h0m0 0h0m0 4h0m3-8h0m2 0h0m0 1h0m2 0h0m2 3h0m2-4h0m2 6h0m1-2h0m3 2h0m9-3h0m7-3h0m2 6h0m-335 9h0m3-3h0m3 2h0m3-1h0m3-2h0m2 3h0m11 4h0m11-2h0m15-3h0m6-4h0m2 5h0m2 1h0m2 3h0m6-5h0m5 3h0m7-1h0m6-1h0m1 0h0m7-2h0m1-2h0m5 5h0m3 0h0m2-1h0m3-5h0m0 7h0m2-4h0m1-2h0m2 7h0m1-6h0m1 6h0m12-4h0m1 5h0m2-10h0m1 7h0m3-1h0m8-2h0m4-2h0m4 2h0m3 4h0m2-5h0m0 2h0m0 0h0m6 4h0m1-8h0m7 3h0m5 6h0m2-2h0m0-5h0m1 1h0m2-1h0m2 0h0m9 1h0m0 2h0m4 0h0m4 1h0m4 0h0m0-6h0m0 0h0m0 8h0m5-9h0m1 8h0m0-5h0m0 2h0m1 2h0m2 1h0m2-1h0m1-5h0m0 8h0m1-4h0m2 2h0m3-1h0m1 3h0m0-4h0m0 1h0m3-5h0m3 4h0m0 0h0m0-4h0m6 0h0m2-2h0m5 6h0m1 1h0m0-4h0m0 0h0m3 0h0m5-2h0m0 9h0m1-4h0m3 4h0m1-2h0m3-6h0m6 7h0m1-3h0m1-2h0m0-3h0m2 8h0m1 0h0m0-8h0m0 5h0m3-3h0m0 5h0m6-7h0m1 8h0m3-4h0m0 4h0m0-5h0m1 5h0m3 0h0m0-4h0m1 5h0m1-7h0m3 0h0m3 3h0m1-1h0m6 0h0m0 3h0m6 1h0m1 0h0m0-2h0m7 3h0m2-1h0m1-8h0m5 3h0m-330 10h0m7-2h0m0 1h0m0 4h0m14-5h0m4 5h0m4 3h0m0-7h0m7 2h0m8-5h0m6 9h0m4-1h0m0-5h0m2 1h0m4 3h0m3 2h0m9-5h0m5-2h0m8 7h0m1-3h0m3 0h0m7-4h0m0 4h0m1-6h0m7 7h0m1 1h0m2 1h0m14 0h0m0-5h0m3-3h0m2 3h0m10-3h0m0 0h0m14 7h0m1-3h0m4-3h0m1-1h0m8 0h0m2 2h0m2 0h0m1 7h0m3-4h0m0-6h0m5 1h0m5 6h0m1-2h0m3-3h0m9 7h0m1-9h0m1 7h0m0 2h0m2-6h0m15 3h0m3 3h0m0-2h0m1-5h0m0 2h0m1-1h0m1 6h0m1-3h0m1-2h0m3 3h0m2-5h0m0 8h0m1-1h0m1-6h0m1 3h0m6-2h0m1-3h0m1 1h0m2 4h0m1 3h0m0-2h0m0-2h0m2-4h0m1 8h0m0-8h0m1 7h0m1-7h0m0-1h0m1 9h0m0-1h0m2-3h0m1-4h0m2 1h0m3 5h0m1-6h0m0 3h0m5 5h0m1-8h0m3 9h0m0-6h0m2 1h0m0 3h0m0 0h0m7-4h0m0-3h0m4 0h0m4 6h0m3-3h0m19 2h0m6 3h0m2-4h0m0-3h0m2-1h0m6 5h0m2-3h0m1 1h0m1 0h0m2-3h0m1 2h0m2-2h0m1 1h0m4 1h0m5 3h0m-344 13h0m7-7h0m13-2h0m21 1h0m3 1h0m6 0h0m9 5h0m11-1h0m5 1h0m2-6h0m0 8h0m8-5h0m1 4h0m2 1h0m1-5h0m2-2h0m2 7h0m2-3h0m1 3h0m2-5h0m3 2h0m1 0h0m1-5h0m1 3h0m1 5h0m7-4h0m7-3h0m3 2h0m9 3h0m2-6h0m9 8h0m2-7h0m2-1h0m5 1h0m1 1h0m0-3h0m1 5h0m1-4h0m2 5h0m5-4h0m0 6h0m1-5h0m5 4h0m2 3h0m3-6h0m2-1h0m2 3h0m1-2h0m3 5h0m2-7h0m2 0h0m0 1h0m1 2h0m6 1h0m1 1h0m2-5h0m2 8h0m2-8h0m6 6h0m3-1h0m2-2h0m0 1h0m0 1h0m1-4h0m4 0h0m4-1h0m1-1h0m4 8h0m1-9h0m0 1h0m1 2h0m2-1h0m1 0h0m0 1h0m3 2h0m1 3h0m2-6h0m0 6h0m4 0h0m1-5h0m0 0h0m1 5h0m0-8h0m3 9h0m4-2h0m1 1h0m0-1h0m3 0h0m1-5h0m3 0h0m1 7h0m1-7h0m10 1h0m1 0h0m3 6h0m0 1h0m3-9h0m1 3h0m0 0h0m1 4h0m1 1h0m0 0h0m4-7h0m5 2h0m3-1h0m0 7h0m1-3h0m2-3h0m1-2h0m1 4h0m1-3h0m0 1h0m2-4h0m7 3h0m0 2h0m1-1h0m1 1h0m2-3h0m1-1h0m7 1h0m1 7h0m1-5h0m4-2h0m1 1h0m2-2h0m1 0h0m2 2h0m0 2h0m4 5h0m0-7h0m0 4h0m0-2h0m2 4h0m0-2h0m0-3h0m2 4h0m0 0h0m2 0h0m1-6h0m6 3h0m0-2h0m-334 14h0m36-5h0m1-2h0m11 6h0m3-5h0m1 7h0m1-7h0m11 0h0m0 1h0m15 4h0m1-2h0m2 5h0m3-3h0m7 3h0m7-3h0m1 3h0m3-8h0m1 4h0m4 5h0m8-9h0m4 5h0m12 1h0m2-2h0m3-1h0m0 4h0m0-3h0m2-3h0m1 1h0m1 1h0m2-3h0m2 8h0m3-3h0m7-2h0m1-4h0m0 8h0m3-6h0m6 4h0m0-5h0m3 1h0m0 8h0m1-4h0m0-2h0m3 6h0m3-8h0m1 2h0m2 4h0m5-7h0m1 2h0m3 3h0m2-4h0m1 3h0m1-3h0m1 0h0m0 6h0m5-1h0m2 2h0m0-8h0m2 0h0m2 2h0m0 1h0m1 4h0m2-7h0m1 8h0m1 0h0m0-1h0m1 1h0m2 0h0m1 0h0m1-5h0m1 2h0m6 3h0m6-3h0m2-5h0m0 1h0m0 4h0m1 3h0m1-9h0m5 4h0m6 3h0m2 1h0m1-5h0m7-3h0m1 9h0m4-6h0m2 4h0m6-3h0m4 3h0m0-5h0m0 6h0m0 1h0m2-5h0m1-4h0m1 3h0m0-1h0m4 8h0m1-8h0m1 1h0m1-1h0m8 4h0m0-4h0m1 0h0m1 0h0m0 3h0m1 0h0m0 5h0m4-8h0m0 5h0m3 2h0m0-9h0m4 2h0m3 0h0m3 7h0m2-8h0m5 8h0m4-4h0m5 4h0m4-6h0m5 0h0m-337 9h0m3-1h0m14 0h0m5 3h0m0 2h0m40 1h0m11-1h0m2-2h0m3-1h0m7 3h0m1-1h0m5-2h0m1 4h0m10-7h0m8 2h0m6 2h0m2-3h0m1 8h0m3-4h0m0 2h0m1 2h0m5-5h0m0-2h0m1 2h0m8 4h0m3-3h0m1-4h0m14 0h0m2 5h0m0-2h0m0 3h0m2-1h0m3-6h0m0 9h0m4-5h0m0 0h0m8 1h0m0-5h0m5 7h0m0-1h0m2-5h0m2 5h0m1 1h0m1 0h0m0-7h0m2 9h0m0-2h0m1 0h0m2-5h0m1 4h0m4 0h0m1 3h0m1 0h0m0-7h0m1 2h0m3-4h0m1 3h0m8 5h0m1 2h0m1-4h0m1 2h0m1-4h0m1-1h0m8 2h0m0-4h0m0 5h0m1-4h0m1 4h0m3 2h0m1-7h0m6 2h0m0-2h0m0 0h0m1 6h0m0 2h0m4-7h0m0 5h0m3-3h0m2 6h0m3-4h0m3-2h0m0 4h0m0-7h0m2 0h0m1 4h0m1-3h0m1 0h0m1-1h0m1 2h0m1-2h0m0 4h0m1 1h0m3-5h0m0 1h0m2 8h0m4-8h0m4 1h0m3 7h0m1-3h0m3-5h0m1 3h0m1-5h0m1 3h0m0 3h0m2-2h0m1 0h0m4-2h0m0 4h0m0 2h0m8-2h0m3-3h0m7 3h0m0-1h0m2-2h0m0 3h0m1 3h0m2-8h0m2 5h0m1 2h0m2 1h0m1-8h0m-303 12h0m13 3h0m22-2h0m3-3h0m14-1h0m6 10h0m1-9h0m5 2h0m3 0h0m5 3h0m3-3h0m11 2h0m0 0h0m1 3h0m4-7h0m4 8h0m1-2h0m1-3h0m6 1h0m0-1h0m2 0h0m4 3h0m6 2h0m1-2h0m3-5h0m1 1h0m2-2h0m5 9h0m1-7h0m2-1h0m1 7h0m0-7h0m1 0h0m0 7h0m2 1h0m0-4h0m4-5h0m0 2h0m1-2h0m1 7h0m1 1h0m0-8h0m3 4h0m1-1h0m5 3h0m0 1h0m7 2h0m0-7h0m2 2h0m6 4h0m1-4h0m2-3h0m2 4h0m2-2h0m1 5h0m2-5h0m1 3h0m6 2h0m0-1h0m1 1h0m1-5h0m2-3h0m0 7h0m2-6h0m0-1h0m1 2h0m1-3h0m0 2h0m1 3h0m0-3h0m0 3h0m4-2h0m1 3h0m5 3h0m0-8h0m1 0h0m1 2h0m1-2h0m1 1h0m0 6h0m2-7h0m1 1h0m2 6h0m3-2h0m1 4h0m2-1h0m4-2h0m5-4h0m4 4h0m1-1h0m8-5h0m3 2h0m0-1h0m3 4h0m4 2h0m2 0h0m0-7h0m0 9h0m2-2h0m0 2h0m1 0h0m1-9h0m3 6h0m0-2h0m2-3h0m0 6h0m3-3h0m0 5h0m2-1h0m0-2h0m2-6h0m0 6h0m2-1h0m0 4h0m5-2h0m0-3h0m1-1h0m2-2h0m1 5h0m3-6h0m1 8h0m0-7h0m1 3h0m4-1h0m4 5h0m4-1h0m3 0h0m3-2h0m0-2h0m2-1h0m3 2h0m3-4h0m-296 10h0m19 7h0m23-1h0m9-2h0m2 3h0m1-3h0m1 3h0m3-6h0m2 1h0m0 5h0m2 2h0m1-2h0m10 1h0m2-9h0m7 6h0m0 1h0m2-7h0m1 1h0m4 2h0m1-3h0m5 4h0m4 0h0m1 5h0m1-8h0m3 4h0m0 5h0m1-9h0m1 4h0m1 4h0m2 1h0m0-6h0m1 0h0m3 1h0m1 1h0m1-2h0m0 0h0m1 4h0m0 2h0m2-1h0m1-1h0m0-7h0m0 4h0m0-4h0m1 2h0m1 4h0m1-5h0m16 4h0m4-5h0m5-1h0m0 1h0m1 6h0m2-2h0m0 1h0m6-3h0m3-1h0m1 0h0m0 4h0m0-5h0m2 8h0m1 0h0m3-5h0m0 6h0m2-8h0m3 6h0m1 0h0m2-3h0m0 0h0m2 0h0m6 0h0m0-1h0m5 0h0m1 6h0m0 0h0m1-5h0m2-1h0m6 1h0m2 2h0m3-6h0m0 3h0m1 2h0m0-5h0m2 0h0m1 7h0m1-7h0m1 5h0m0 3h0m3-7h0m2-1h0m2 6h0m4 2h0m0-2h0m3-3h0m2 0h0m1 5h0m0-2h0m4-3h0m0-3h0m1 5h0m2 2h0m3-1h0m1-2h0m1-2h0m1-1h0m0 7h0m4-8h0m5 5h0m2 2h0m3-7h0m1 8h0m0-7h0m11 7h0m4-6h0m5 3h0m0 0h0m1 3h0m0-5h0m4 4h0m11-6h0m-285 14h0m8-5h0m2 0h0m8 7h0m15 0h0m0-5h0m3 1h0m0 3h0m5-5h0m2 5h0m1-6h0m4 7h0m1-4h0m2-2h0m2 3h0m4-5h0m1 2h0m9 8h0m10-8h0m1 7h0m13-1h0m4-2h0m4 0h0m8-5h0m2 7h0m2 2h0m5-8h0m3 5h0m0 1h0m6-5h0m3 1h0m3 6h0m0-5h0m5 5h0m0-5h0m1-5h0m0 1h0m6 7h0m0-7h0m3 8h0m2 0h0m3-7h0m0 4h0m1 3h0m2-5h0m5 2h0m1 0h0m2-6h0m2 7h0m1 1h0m1-2h0m1-6h0m8 8h0m1-4h0m10 4h0m1-3h0m3 5h0m1-4h0m7-1h0m0 5h0m3-7h0m0 6h0m5-5h0m3 1h0m2 4h0m5 0h0m0 1h0m1-3h0m4 2h0m12 1h0m0-5h0m6-5h0m9 3h0m1 4h0m2 0h0m2 0h0m0-1h0m3-6h0m3 8h0m2 0h0m0-7h0m3 3h0m20-1h0m-249 15h0m10-1h0m12 1h0m2-5h0m1-1h0m9 2h0m1 4h0m9 0h0m3-6h0m0 7h0m3-1h0m1-6h0m3 2h0m3 3h0m5-3h0m5 4h0m0 0h0m5-6h0m11 0h0m4 7h0m2-4h0m8 3h0m4 0h0m4 1h0m1-3h0m4 2h0m2-7h0m2 8h0m3-8h0m7 4h0m4-1h0m0 3h0m0 3h0m2-1h0m7-8h0m1 4h0m3-1h0m1 5h0m3-5h0m0 1h0m6 1h0m3-6h0m6 2h0m3 1h0m5 7h0m1-1h0m2-4h0m4-4h0m6 1h0m6 7h0m1-8h0m0 8h0m0-2h0m1 1h0m2-7h0m2 0h0m1 5h0m0-4h0m3 1h0m0 5h0m3-7h0m5 0h0m3 7h0m3-1h0m1-1h0m4 3h0m3-7h0m0 6h0m1-3h0m2-2h0m-227 15h0m6-7h0m13 2h0m0-2h0m19 1h0m5 0h0m3 2h0m0-4h0m3 4h0m13 5h0m11-6h0m5 2h0m9 2h0m2 1h0m2-8h0m7 3h0m8 6h0m4-3h0m0-2h0m7-4h0m2 7h0m0-2h0m10-3h0m1-2h0m8 7h0m3-4h0m1 4h0m2-4h0m10-2h0m2 2h0m2-3h0m2 5h0m1-1h0m3 3h0m5-3h0m0 0h0m1 5h0m2 1h0m0-2h0m1-3h0m10-1h0m0 2h0m0-1h0m0 0h0m3-1h0m2 0h0m4 1h0m1 2h0m1 2h0m2-5h0m4-4h0m1 0h0m1 10h0m0-7h0m6 2h0m3 2h0m2 0h0m1-4h0m2 1h0m1 1h0m0-2h0m1 3h0m5-5h0m2 1h0m8-2h0m1 4h0m-217 9h0m12 1h0m0 6h0m6-5h0m4-1h0m6 4h0m8 1h0m3-7h0m5 5h0m1-1h0m4-1h0m1 3h0m11-1h0m1-1h0m4 0h0m8 3h0m3-7h0m4 5h0m3-7h0m0 6h0m7 3h0m0-7h0m2 1h0m2-1h0m2 8h0m0-6h0m2-3h0m4 9h0m1-6h0m2 0h0m1-1h0m2 2h0m2 5h0m3-2h0m1-2h0m1 3h0m6-5h0m1-2h0m3 1h0m5 1h0m4 1h0m0 4h0m2 0h0m2-9h0m6 8h0m6 2h0m16-9h0m0 5h0m3 0h0m1-5h0m1 8h0m1-2h0m9-1h0m1-3h0m7 6h0m0-1h0m4-4h0m5 0h0m7-1h0m-186 9h0m1-2h0m3 1h0m11 3h0m11 5h0m3-3h0m10 4h0m4-10h0m11 3h0m3 4h0m4-5h0m2 4h0m6-2h0m2-4h0m2 6h0m3 4h0m5-8h0m0 6h0m1-1h0m1-6h0m3 8h0m5-7h0m8 5h0m1-4h0m1 2h0m1 0h0m4 2h0m1-1h0m1 4h0m2-6h0m1-3h0m7 4h0m2-4h0m1-1h0m0 0h0m1 4h0m8-4h0m4 10h0m1-2h0m4-2h0m1-5h0m4 1h0m1 2h0m2 1h0m0 4h0m2-9h0m0 9h0m0-6h0m2 0h0m6 5h0m11 0h0m11 0h0m-164 2h0m17 0h0m3 3h0m0 7h0m24-2h0m8-5h0m0 4h0m21 0h0m5 2h0m2-6h0m4-2h0m1 2h0m5 2h0m0-2h0m1 1h0m2 2h0m4-1h0m1-1h0m2 0h0m8-1h0m3 6h0m1-1h0m2 1h0m6-2h0m13-6h0m5 0h0m2 0h0m3 8h0m0-7h0m-96 18h0m2-10h0m9 7h0m6-1h0m1 2h0m1-4h0m2 0h0m10 6h0m6-2h0m8-5h0m2-1h0m1 6h0m1-8h0m2 6h0m1 1h0m14 1h0m17-4h0m6 0h0m-69 9h0m55-1h0" stroke="#1a1a8a" stroke-width="2.1" stroke-linecap="round" fill="none"/>
<defs><pattern id="pBbg" width="80" height="80" patternUnits="userSpaceOnUse" patternTransform="rotate(53)"><g stroke-width="2.9" stroke-linecap="round" fill="none"><use href="#ts0" stroke="#dee0db"/><use href="#ts1" stroke="#d5e3e8"/><use href="#ts2" stroke="#e9dfe3"/><use href="#ts3" stroke="#dde7d9"/><use href="#ts4" stroke="#eaebe8"/><use href="#ts5" stroke="#d8e8e6"/></g></pattern></defs>
<defs><filter id="eB" x="-10%" y="-10%" width="120%" height="120%"><feGaussianBlur stdDeviation="3.5"/></filter><mask id="kB" maskUnits="userSpaceOnUse" x="0" y="0" width="2165" height="2277"><path d="M192.9 837.1L195.2 800.4L204.4 777.5L215.8 756.9L234.2 740.8L250.2 724.8L268.6 708.8L289.2 692.7L307.5 679.0L330.4 669.8L353.4 662.9L376.3 658.3L399.2 660.6L422.1 672.1L445.0 681.3L468.0 685.8L490.9 690.4L504.6 699.6L518.4 713.3L536.7 722.5L541.3 736.3L555.0 754.6L564.2 772.9L573.4 791.3L582.6 814.2L587.1 837.1L587.1 862.9L582.6 890.4L568.8 915.6L550.5 936.3L527.5 952.3L504.6 968.4L481.7 979.8L456.5 995.9L422.1 1005.0L387.7 1009.6L353.4 1007.3L330.4 1009.6L307.0 1010.0L284.6 1002.7L261.7 991.3L247.9 975.2L236.5 954.6L225.0 936.3L213.5 917.9L199.8 895.0L190.6 869.8L186.0 844.6Z" fill="#fff" filter="url(#eB)"/></mask></defs>
<g mask="url(#kB)"><path d="M192.9 837.1L195.2 800.4L204.4 777.5L215.8 756.9L234.2 740.8L250.2 724.8L268.6 708.8L289.2 692.7L307.5 679.0L330.4 669.8L353.4 662.9L376.3 658.3L399.2 660.6L422.1 672.1L445.0 681.3L468.0 685.8L490.9 690.4L504.6 699.6L518.4 713.3L536.7 722.5L541.3 736.3L555.0 754.6L564.2 772.9L573.4 791.3L582.6 814.2L587.1 837.1L587.1 862.9L582.6 890.4L568.8 915.6L550.5 936.3L527.5 952.3L504.6 968.4L481.7 979.8L456.5 995.9L422.1 1005.0L387.7 1009.6L353.4 1007.3L330.4 1009.6L307.0 1010.0L284.6 1002.7L261.7 991.3L247.9 975.2L236.5 954.6L225.0 936.3L213.5 917.9L199.8 895.0L190.6 869.8L186.0 844.6Z" fill="url(#pBbg)"/></g>
<path d="M344 659h0m27-2h0m8-1h0m2 0h0m-45 12h0m13-7h0m63 0h0m1 6h0m50 12h0m-169 4h0m5 2h0m152-4h0m19 5h0m-184 8h0m218 0h0m6 2h0m-255 19h0m2-3h0m0 4h0m8-4h0m258 1h0m11 5h0m-295 16h0m308 10h0m8 1h0m1 9h0m11 11h0m-374 23h0m5-2h0m1 3h0m0-5h0m387 41h0m-403 32h0m404 0h0m-399 9h0m399-5h0m-394 22h0m392 10h0m-11 15h0m-355 19h0m343-2h0m5-4h0m-21 19h0m-4 3h0m-313 9h0m278 16h0m-19 9h0m3 1h0m-239 7h0m6 3h0m214 0h0m9-7h0m7 1h0m-40 17h0m10-1h0m-162 11h0m7 1h0m55-2h0m62 1h0m-118 2h0m3 0h0m2 0h0m5 2h0m11 1h0m44-3h0m14 2h0" stroke="#dee0db" stroke-width="2.6" stroke-linecap="round" fill="none"/><path d="M364 658h0m20 0h0m14 1h0m-61 8h0m65-7h0m33 17h0m-143 6h0m7 1h0m162-1h0m-184 15h0m6-2h0m225 4h0m-251 18h0m3-3h0m267 0h0m6 4h0m-282 4h0m-18 13h0m3 2h0m306-2h0m39 73h0m4 3h0m-392 9h0m393 2h0m-400 14h0m403 0h0m-402 4h0m-6 11h0m8 14h0m-3 9h0m402-2h0m-393 12h0m388 4h0m-387 4h0m394-2h0m-12 14h0m-369 8h0m6 13h0m1 1h0m341 3h0m-31 30h0m-273 27h0m1-4h0m228 2h0m-34 14h0m8 0h0m-162 9h0m9 2h0m31 0h0m109-9h0m-139 9h0m33 3h0m25-2h0m11 0h0m15 3h0m11-1h0" stroke="#d5e3e8" stroke-width="2.6" stroke-linecap="round" fill="none"/><path d="M352 658h0m39 2h0m9-4h0m-71 12h0m8-2h0m80-4h0m5 10h0m9 1h0m-139 17h0m11-8h0m165 1h0m19 6h0m-201 2h0m-9 11h0m233-1h0m-253 13h0m-49 46h0m6-1h0m340-7h0m5 6h0m-348 6h0m352 0h0m-358 8h0m362-2h0m0 8h0m4 0h0m-1 3h0m-373 12h0m378 1h0m6-2h0m4 23h0m-391 5h0m-2 12h0m403 16h0m-6 4h0m-401 15h0m15 34h0m1 2h0m366 13h0m-344 25h0m297 15h0m14-3h0m-297 10h0m250 13h0m4-2h0m-239 12h0m213 4h0m1-2h0m8-3h0m4 0h0m-201 17h0m81 8h0m8-1h0m21 0h0m2 0h0m29-4h0m-76 5h0m31 4h0" stroke="#e9dfe3" stroke-width="2.6" stroke-linecap="round" fill="none"/><path d="M371 656h0m-35 9h0m75-4h0m-100 15h0m-37 25h0m236 1h0m-275 34h0m314 10h0m-349 22h0m362-7h0m-361 17h0m-6 20h0m385 3h0m6 23h0m-398 16h0m3 0h0m2-5h0m-8 11h0m0 16h0m2 14h0m8 10h0m2 0h0m389-1h0m-383 18h0m370 6h0m-368 4h0m369 3h0m-364 5h0m350 7h0m6-7h0m-2 12h0m0-1h0m-336 18h0m295 7h0m-263 33h0m209 0h0m-1 1h0m-179 13h0m114 4h0m11-1h0m21-5h0m-128 8h0m1 7h0m27-3h0" stroke="#dde7d9" stroke-width="2.6" stroke-linecap="round" fill="none"/><path d="M322 669h0m9-6h0m1 2h0m-26 14h0m4-1h0m116-7h0m6 2h0m1 2h0m6 2h0m-142 8h0m191 5h0m18 5h0m12 16h0m27 15h0m-309 12h0m2-7h0m305 3h0m-311 7h0m318 6h0m7 10h0m-347 6h0m350 1h0m-356 10h0m363 2h0m-373 25h0m392 18h0m-395 8h0m1 0h0m394 0h0m2 6h0m-404 10h0m1 2h0m-1 10h0m404 8h0m-401 9h0m17 31h0m376 4h0m-7 4h0m-355 25h0m0-2h0m8 9h0m318 2h0m0-1h0m-313 8h0m294 3h0m3 1h0m-274 29h0m2 2h0m10 6h0m9 6h0m185-2h0m-127 13h0m16-2h0m-48 2h0m0 1h0m17-1h0m51 1h0m2 5h0m15-6h0m14 6h0m6-1h0" stroke="#eaebe8" stroke-width="2.6" stroke-linecap="round" fill="none"/><path d="M362 653h0m8 3h0m10 3h0m32 0h0m-8 3h0m-94 16h0m131-2h0m1 3h0m13 4h0m6-1h0m11 3h0m4-3h0m13 6h0m-208 11h0m223 0h0m1-5h0m0 1h0m1 1h0m16 14h0m12 6h0m2 5h0m-303 18h0m312-5h0m-325 11h0m5 2h0m8-6h0m1-1h0m311 0h0m-334 17h0m356 14h0m0 4h0m6 12h0m-382 32h0m394-1h0m-397 21h0m-5 15h0m2 6h0m3-4h0m403-1h0m-393 36h0m-2 9h0m6 5h0m3 2h0m1-2h0m1 3h0m3 10h0m362-7h0m-9 12h0m-344 11h0m6 4h0m332-7h0m-33 25h0m1 2h0m11-5h0m-300 10h0m276 1h0m-17 11h0m5-1h0m-244 17h0m45 17h0m54 1h0m55 1h0m8-4h0m-83 5h0m87 0h0" stroke="#d8e8e6" stroke-width="2.6" stroke-linecap="round" fill="none"/>
<path d="M417 670h0m-93 1h0m57 2h0m-74 11h0m-13 13h0m95 2h0m1-3h0m51-2h0m-150 14h0m19-5h0m37 0h0m13 1h0m43 4h0m101-2h0m-97 4h0m60 5h0m38 3h0m2 1h0m-195 8h0m5-5h0m96 2h0m73-3h0m-229 14h0m27 3h0m86-2h0m36-6h0m47 5h0m7-3h0m17 0h0m-247 11h0m109-3h0m57 6h0m45-2h0m-163 8h0m42 8h0m63-8h0m18 3h0m21 5h0m51-8h0m16-1h0m15 2h0m15 1h0m-166 7h0m96 2h0m32 3h0m42-5h0m-271 16h0m40-1h0m136-4h0m-217 14h0m22-1h0m20-2h0m30 2h0m215 0h0m14-4h0m22 7h0m-321 5h0m173 4h0m121-1h0m46-1h0m-360 7h0m146 5h0m97-6h0m-236 10h0m8 6h0m5-7h0m66 8h0m19 1h0m19-3h0m12-2h0m8 0h0m24-1h0m72-3h0m29 7h0m4-4h0m-273 14h0m202-7h0m35 3h0m4-2h0m58 5h0m1 4h0m-188 3h0m42 4h0m1-4h0m30-2h0m46 0h0m23 5h0m43-4h0m47 3h0m1-5h0m2 2h0m43-1h0m7 2h0m-234 9h0m150 7h0m-282 5h0m48 4h0m10-7h0m32 2h0m54 0h0m19 6h0m39-6h0m1 1h0m35 0h0m-191 15h0m254-5h0m3 0h0m45 0h0m15 1h0m-394 6h0m3 0h0m59 8h0m36-6h0m30 0h0m7 5h0m66-3h0m101-2h0m4 1h0m-297 11h0m38 2h0m172-4h0m91 2h0m12-1h0m-282 13h0m8-5h0m104 2h0m69 1h0m33-5h0m58 6h0m28 0h0m18 2h0m-199 12h0m-121 7h0m1-2h0m107 0h0m17 3h0m38-7h0m48 1h0m-120 8h0m85 8h0m65-7h0m10-1h0m33 7h0m10 1h0m17 0h0m-157 5h0m24-2h0m74 0h0m58-1h0m-290 18h0m7-2h0m102 1h0m61-3h0m50-1h0m21 7h0m-250 9h0m3-2h0m22-7h0m73 9h0m2-2h0m86 0h0m36 0h0m34 0h0m-228 3h0m30 3h0m41 2h0m5 0h0m26 0h0m24 3h0m97-1h0m8-7h0m-211 15h0m55 4h0m62-3h0m7-4h0m1-1h0m-108 15h0m144-4h0m9 5h0m-173 12h0m41 1h0m34 8h0m76 1h0" stroke="#2a8c8c" stroke-width="2.3" stroke-linecap="round" fill="none"/><path d="M378 679h0m16 9h0m-20 14h0m51-1h0m24 4h0m8 11h0m-36 13h0m-173 4h0m194-3h0m-125 22h0m42 5h0m148 1h0m20-6h0m19-1h0m-109 21h0m-64 26h0m62-6h0m-171 15h0m263 2h0m18-3h0m-170 13h0m125-8h0m77 8h0m-16 7h0m-250 5h0m38 7h0m18-6h0m81 7h0m39 0h0m39-8h0m-241 19h0m67-1h0m102 4h0m30 0h0m12-3h0m47 6h0m-307 14h0m25-1h0m312-6h0m-314 25h0m82-6h0m220 5h0m-303 5h0m318 6h0m-320 11h0m43-7h0m186-1h0m-209 11h0m76 6h0m76-6h0m113 8h0m-211 5h0m83 3h0m13-2h0m-80 6h0m149 3h0m-63 8h0m-128 8h0m45 17h0m162-4h0m-254 15h0m161 0h0m-108 21h0" stroke="#6a2c9a" stroke-width="2.3" stroke-linecap="round" fill="none"/><path d="M363 677h0m-99 40h0m199 2h0m-178 5h0m131 83h0m-180 35h0m6 25h0m142 29h0m-131 23h0m171 0h0m-50 30h0m62-9h0m-80 15h0m82 43h0" stroke="#3c9a3c" stroke-width="2.3" stroke-linecap="round" fill="none"/>
<path d="M353 656h0m10-2h0m15-1h0m0 5h0m8 0h0m45 1h0m-113 3h0m33 5h0m6 0h0m8-1h0m7-3h0m10 4h0m7-6h0m1 7h0m0-3h0m2-3h0m4 5h0m5 0h0m7-7h0m1 2h0m0 5h0m3 1h0m5-5h0m8 6h0m-114 11h0m7-7h0m5 5h0m0-3h0m10 5h0m2-1h0m2 1h0m15-7h0m0 3h0m11 0h0m10 3h0m5-5h0m11 2h0m7 2h0m2 0h0m7 0h0m9 0h0m7-3h0m6 5h0m7-9h0m-126 17h0m13 2h0m12-1h0m6 0h0m2 0h0m11-4h0m9-3h0m1 4h0m4 2h0m7 2h0m9-4h0m8 1h0m12 3h0m12-2h0m7-7h0m19 1h0m19 6h0m4-1h0m9 0h0m14-3h0m-183 11h0m4-4h0m6 3h0m5-3h0m6 9h0m22-7h0m15 6h0m7-5h0m0-1h0m3 4h0m3 2h0m1-3h0m0 1h0m8 1h0m4-2h0m13-5h0m0 5h0m2 4h0m4-8h0m0 3h0m4 1h0m11-5h0m4 5h0m11-6h0m9 4h0m30 5h0m21-4h0m-220 11h0m4 2h0m9-1h0m3-1h0m0-5h0m2 0h0m1 1h0m15 2h0m9 1h0m4-3h0m17 5h0m11 1h0m1 0h0m7-5h0m8-2h0m4 8h0m1 0h0m4-5h0m0 1h0m27-2h0m1 3h0m1-3h0m2 3h0m1-3h0m20 0h0m4 5h0m1-4h0m13-3h0m4 7h0m20 1h0m5-7h0m20 3h0m11 1h0m9 2h0m-239 4h0m7 5h0m11 0h0m7-5h0m5 3h0m10 1h0m4 3h0m2-4h0m6 1h0m0 3h0m8 0h0m15-1h0m5-3h0m2-3h0m7 4h0m2-2h0m4-3h0m5 1h0m0 2h0m2 5h0m1-3h0m1 3h0m5-1h0m4-5h0m1 1h0m3 1h0m10-4h0m3-1h0m1 8h0m4-5h0m6-1h0m7-1h0m8 4h0m6 4h0m6-1h0m9-1h0m2-4h0m3-3h0m13 6h0m5 2h0m1 0h0m23-1h0m18-1h0m4 2h0m-269 7h0m10 1h0m11 4h0m14-5h0m8-4h0m2 9h0m3-4h0m1-1h0m1 2h0m7-1h0m10 4h0m2-10h0m12 7h0m4-2h0m11-4h0m4 6h0m13 1h0m3 2h0m8-7h0m2 6h0m2 1h0m3-6h0m6 5h0m0-3h0m4-1h0m7-2h0m3 1h0m6 4h0m3-1h0m16 1h0m0-5h0m3 1h0m7 2h0m2 2h0m1 2h0m8-3h0m3-1h0m5-5h0m5 4h0m7 4h0m25-8h0m7 5h0m0-6h0m2 8h0m14-1h0m12-4h0m4 7h0m-291 8h0m2 0h0m27 1h0m2 0h0m10-1h0m3-7h0m7 1h0m3 2h0m1 0h0m4 0h0m3-4h0m0 5h0m2-3h0m4 7h0m3-9h0m1 10h0m4-6h0m2 1h0m10-5h0m9 8h0m2-6h0m0 1h0m2 6h0m1 0h0m9-6h0m11 5h0m3-1h0m4-3h0m0 3h0m20-2h0m0 4h0m10-6h0m3 4h0m10-4h0m6 1h0m2-1h0m2-1h0m3 6h0m1-5h0m0 6h0m4-5h0m1-3h0m2 3h0m2 0h0m1-2h0m6-1h0m1 5h0m16-4h0m0 1h0m5 3h0m12 2h0m24-3h0m5-1h0m2-2h0m8-1h0m7 0h0m-313 17h0m0-1h0m2-2h0m2 5h0m0-2h0m0-1h0m1 3h0m1 0h0m2-2h0m0 1h0m1-4h0m2 2h0m0 2h0m1 0h0m3-1h0m0-8h0m4 9h0m1 0h0m22-2h0m2 0h0m5 0h0m2 0h0m0-1h0m6-4h0m9 2h0m0-4h0m4 0h0m1 9h0m1 0h0m10-3h0m3-3h0m9 7h0m3-1h0m25-6h0m9 2h0m3 0h0m7-2h0m2 3h0m2-4h0m4 2h0m6 0h0m7 0h0m4 3h0m2 2h0m27-7h0m1 7h0m0-5h0m20 4h0m4-5h0m6 7h0m1-6h0m9 0h0m13-3h0m0 9h0m25-10h0m12 4h0m6 3h0m3-1h0m12 1h0m2-3h0m14 4h0m9-1h0m3 0h0m-350 12h0m8-5h0m4 2h0m0-4h0m2 2h0m1 1h0m0 5h0m0-8h0m0 4h0m1-6h0m2 3h0m1 4h0m1 2h0m0-9h0m1 3h0m1-1h0m0 2h0m0 1h0m1-2h0m0-1h0m0 4h0m0-4h0m5 0h0m2 2h0m2-2h0m0 2h0m0 0h0m9-2h0m0 0h0m4 1h0m5 3h0m0-4h0m4-1h0m2 2h0m10 5h0m0-2h0m40 1h0m6-4h0m3 2h0m4 1h0m2-5h0m12 1h0m7 0h0m3 1h0m0 3h0m5 4h0m1-10h0m12 4h0m2-1h0m0-3h0m0 9h0m5-2h0m1-6h0m11 2h0m7 1h0m7-4h0m3 3h0m3 3h0m1 0h0m1 3h0m5-2h0m2 3h0m1-5h0m10-5h0m12 5h0m2-2h0m9 0h0m6 3h0m1-2h0m10 1h0m2-2h0m12 3h0m2-4h0m6 4h0m4-4h0m11-1h0m4 1h0m2 5h0m4-6h0m3 0h0m1 2h0m2 4h0m31 0h0m17 1h0m-343 3h0m12-1h0m0 4h0m9-4h0m7 5h0m1 5h0m10-2h0m3-3h0m4-1h0m3 2h0m3-2h0m3 0h0m2-2h0m10 3h0m9 0h0m3 3h0m18-7h0m1 0h0m11 1h0m0 8h0m1-1h0m16-8h0m2 6h0m2-2h0m4-5h0m1 7h0m4-1h0m0-5h0m5 2h0m1 0h0m6-1h0m7 2h0m5-1h0m6-1h0m2 3h0m3 5h0m6-4h0m4-3h0m0 4h0m0-4h0m1-2h0m8 2h0m1 6h0m17-7h0m4 2h0m12 4h0m11-7h0m2 0h0m12 6h0m5 1h0m10-5h0m3 2h0m0-4h0m6 3h0m2 4h0m2-3h0m2 0h0m11-2h0m6 0h0m1 3h0m3 0h0m2-3h0m3-1h0m3 3h0m8 1h0m14 0h0m7 1h0m9 0h0m-353 13h0m2-1h0m15-8h0m1 4h0m7 2h0m0 0h0m5-5h0m2 1h0m7 2h0m3-5h0m8 6h0m3-1h0m8-3h0m6 0h0m10 3h0m2-4h0m9 0h0m5 6h0m5 0h0m2-6h0m8 1h0m9 7h0m0-5h0m16 0h0m5 3h0m0-2h0m2 3h0m3-5h0m8 3h0m6-1h0m3 5h0m3-2h0m9 2h0m1-4h0m2 1h0m8-7h0m11 5h0m1-2h0m1-1h0m2 0h0m2 4h0m2 0h0m4 3h0m11-1h0m3 1h0m2 0h0m6-6h0m3 2h0m2 1h0m2 4h0m6-7h0m5 6h0m33-3h0m0-1h0m21 1h0m4 2h0m2 0h0m1-8h0m3 5h0m0-3h0m2 5h0m9 3h0m3-6h0m6-1h0m8-3h0m5 1h0m3 6h0m-350 13h0m11-8h0m4 6h0m1 2h0m5-10h0m14 2h0m4 4h0m1 0h0m15-3h0m7 3h0m26-1h0m4 1h0m11-3h0m8-2h0m1 3h0m6 2h0m6 0h0m2-2h0m8 0h0m1-3h0m4 2h0m1 6h0m4-7h0m4 3h0m1 1h0m3 1h0m6 2h0m2 1h0m2-7h0m0 0h0m1-2h0m2 5h0m0 0h0m8 3h0m7-9h0m4 4h0m15 4h0m0-1h0m3-6h0m15 1h0m2 3h0m4-2h0m6 0h0m1 0h0m3-1h0m0 4h0m7 2h0m1-6h0m0 7h0m1-1h0m25-1h0m6-5h0m5 4h0m2 3h0m11-8h0m8 3h0m0-3h0m11 0h0m0 8h0m1 1h0m8-8h0m0-2h0m1 9h0m10 0h0m5-6h0m8 5h0m8-5h0m2 1h0m2-1h0m-355 16h0m12-6h0m1-2h0m6 4h0m6 1h0m1 0h0m2 3h0m1-7h0m11 7h0m1 1h0m2-8h0m3 1h0m23 3h0m16-5h0m3 4h0m2 0h0m3 5h0m14-8h0m1 4h0m5-3h0m3 4h0m1-1h0m7 0h0m7 3h0m5-8h0m6 3h0m1-1h0m4 3h0m4 1h0m1-6h0m1 7h0m3-5h0m2 1h0m1 2h0m12-2h0m3-4h0m4 5h0m3 4h0m1-9h0m4 10h0m2-4h0m3 1h0m0 0h0m0-2h0m1-5h0m2 3h0m4-1h0m6 2h0m0 4h0m2 1h0m0-4h0m2-5h0m1 7h0m3 1h0m2 1h0m3-2h0m6-4h0m0 3h0m6-4h0m1 3h0m11-2h0m5 3h0m18-2h0m15 1h0m1 4h0m10-3h0m3 4h0m3-1h0m3-9h0m3 5h0m5 2h0m11-3h0m7 3h0m3-3h0m2-4h0m4 1h0m20-1h0m1 4h0m8 2h0m2-2h0m4 0h0m-375 14h0m2-5h0m3 6h0m3-5h0m13 0h0m10 2h0m9-3h0m12 1h0m9-2h0m1-1h0m0 3h0m12-3h0m3 8h0m5-6h0m1 5h0m0 0h0m2-3h0m2-5h0m10 0h0m1 2h0m3 1h0m4 3h0m2 0h0m6 2h0m5-4h0m3-1h0m9 2h0m5-3h0m3 4h0m2-5h0m0 6h0m11 0h0m8 2h0m0-1h0m0 0h0m4-6h0m10-2h0m1 6h0m3-5h0m4 4h0m2-1h0m1-2h0m3 7h0m2 0h0m10-2h0m1-2h0m3 0h0m2-1h0m2 0h0m1 3h0m0-5h0m2 3h0m2 2h0m1 2h0m0-2h0m1 2h0m4 0h0m7-4h0m1 4h0m0-2h0m1 2h0m5-3h0m4-5h0m0 5h0m3-4h0m4 6h0m3-2h0m0-1h0m4-4h0m1 5h0m3 4h0m0-9h0m1 1h0m1 6h0m3-7h0m4 1h0m5-1h0m1 3h0m10 5h0m3-1h0m1-3h0m1 1h0m0 3h0m7-7h0m1 1h0m0 1h0m6-1h0m3 0h0m12-3h0m11 3h0m7 1h0m19-2h0m6 6h0m5 1h0m18-5h0m-382 9h0m5 7h0m1-7h0m1 0h0m6 3h0m10 2h0m8-2h0m1-1h0m1 2h0m10 3h0m3-5h0m3-3h0m6 2h0m4 2h0m1-5h0m6 5h0m18 0h0m13 2h0m3-6h0m1 1h0m10 0h0m9 2h0m1 5h0m3-5h0m2 1h0m4 0h0m11 2h0m0-8h0m5 9h0m1-6h0m0 2h0m1-2h0m0 2h0m5 2h0m11-5h0m1 2h0m3 2h0m0-4h0m1 6h0m1-3h0m2-2h0m0-3h0m1 7h0m0-3h0m0-3h0m0 2h0m0 5h0m8 1h0m7-5h0m1 1h0m2-1h0m1 4h0m4-5h0m1 2h0m0 0h0m2-4h0m2 4h0m0 4h0m1 0h0m0-1h0m0 0h0m2-7h0m0 8h0m3-1h0m0-1h0m1-1h0m2 1h0m1 2h0m0 0h0m1 0h0m0-1h0m1 0h0m0 1h0m1-5h0m2-2h0m1 3h0m0 0h0m2 4h0m0 1h0m1-5h0m0-4h0m1 0h0m0 6h0m2 1h0m1-6h0m1 5h0m0-5h0m0 5h0m1 1h0m1 1h0m0 1h0m0-5h0m1-4h0m0 0h0m0 9h0m1-2h0m0-3h0m0 3h0m1-4h0m0 1h0m0 0h0m0 2h0m1 2h0m0-4h0m2 2h0m1 2h0m0-6h0m3 4h0m3-5h0m3 6h0m8-2h0m14-5h0m5 1h0m2 8h0m7-9h0m14 7h0m3-7h0m4 8h0m3-6h0m4 3h0m22-3h0m1 0h0m3 4h0m0-3h0m0-3h0m3 1h0m1 3h0m1 4h0m1-2h0m1 2h0m3-7h0m4 7h0m3-5h0m16-2h0m11 8h0m1-7h0m1 5h0m-362 10h0m0-6h0m0 3h0m1-1h0m33-1h0m12 4h0m2 0h0m0 3h0m3-5h0m5 2h0m10 0h0m3-7h0m2 0h0m5 2h0m1 1h0m12 0h0m6 6h0m2-2h0m2-5h0m2 8h0m6-1h0m2-7h0m4 0h0m1 3h0m9-1h0m1 5h0m6-7h0m4 2h0m2 4h0m6 2h0m0-7h0m1 5h0m8 1h0m3-3h0m0-2h0m4-1h0m1 6h0m0-5h0m1 4h0m3 0h0m1-5h0m0 7h0m1-3h0m0 0h0m1 1h0m0-1h0m1-1h0m0-1h0m1 3h0m1-4h0m0 0h0m2-3h0m2 7h0m1-8h0m0 4h0m1 1h0m0 0h0m1 1h0m1-1h0m1 1h0m1-1h0m0-4h0m0-1h0m1 6h0m0 3h0m0-2h0m2-2h0m0-3h0m1 5h0m0 3h0m0-2h0m1 0h0m0-7h0m0 9h0m1-5h0m1 0h0m0-1h0m0 5h0m1-3h0m0 3h0m0-8h0m1 2h0m0-1h0m0 6h0m1-4h0m0 5h0m0-3h0m0 2h0m1 0h0m0-1h0m1 3h0m0-1h0m0-8h0m0 4h0m1-4h0m1 8h0m1-8h0m0 3h0m0-3h0m0 6h0m1-1h0m0 1h0m1 0h0m1 0h0m0-2h0m0 4h0m0-2h0m0 0h0m1 1h0m0-6h0m0 5h0m0 1h0m0 2h0m1-2h0m1-3h0m1 2h0m0 2h0m0 0h0m0-3h0m2 0h0m0-2h0m0 4h0m0-3h0m0 5h0m0-4h0m1 1h0m0 0h0m1-1h0m0-1h0m0 3h0m0-6h0m1 4h0m0-3h0m0 3h0m1 0h0m0-1h0m0-2h0m0 6h0m1-1h0m0-3h0m0-4h0m0 2h0m0 4h0m1-7h0m0 3h0m0-2h0m1 4h0m0-1h0m0 1h0m1 1h0m0 0h0m0-5h0m0 2h0m1 4h0m0 2h0m1-3h0m1 1h0m0 1h0m0 1h0m1-3h0m2 4h0m1-2h0m1-5h0m1 6h0m2-1h0m1-6h0m1 1h0m0-1h0m0-1h0m0 7h0m2-5h0m1 2h0m1 1h0m1-5h0m1 4h0m4 1h0m6 3h0m0 0h0m1-7h0m1 2h0m5 2h0m1-3h0m7 6h0m0-5h0m3-2h0m7 6h0m2-1h0m2-3h0m5 2h0m5 2h0m31-2h0m2 1h0m1 0h0m2-3h0m8 4h0m16-5h0m7 1h0m2-4h0m4 5h0m0 4h0m22-9h0m-391 13h0m1 6h0m4-1h0m1 0h0m2 1h0m3-4h0m9-2h0m3 1h0m1-3h0m10 4h0m2-1h0m2 0h0m1 0h0m13 0h0m2 6h0m1-9h0m12 5h0m1-5h0m12 2h0m8 5h0m1-1h0m2 1h0m1-5h0m6 6h0m4 1h0m2-4h0m2-6h0m2 1h0m4 1h0m0 4h0m16 1h0m0-3h0m7-4h0m0 4h0m4-3h0m6 1h0m2 1h0m1-3h0m1 7h0m6 0h0m1-1h0m5-4h0m2 5h0m4-2h0m1-2h0m0-2h0m2 2h0m1 6h0m5-1h0m0 2h0m2-4h0m1 1h0m0-1h0m0-4h0m1 4h0m0 2h0m0-7h0m0 1h0m1-1h0m0 6h0m1-4h0m0 3h0m2-2h0m1 4h0m1-7h0m1 1h0m0-1h0m3 7h0m1-5h0m0-1h0m0 7h0m0-5h0m1 2h0m0 0h0m0 2h0m1 1h0m0-6h0m0-3h0m0 5h0m1-1h0m0 1h0m0-1h0m1 2h0m1-2h0m0 1h0m0 3h0m0 0h0m0-2h0m0 2h0m1-5h0m0 4h0m1-3h0m0 2h0m0 2h0m1-5h0m0 2h0m0-1h0m0 5h0m0-1h0m0-4h0m0 2h0m1 3h0m0-1h0m1 2h0m0-5h0m0-2h0m0 2h0m0 3h0m0-7h0m0 8h0m1-4h0m0-1h0m0 0h0m0 0h0m1 5h0m0-7h0m0 5h0m0 1h0m0-2h0m0 1h0m0-3h0m0 5h0m0-6h0m1 5h0m0-6h0m0 3h0m0 3h0m0-7h0m0 3h0m0-2h0m1 5h0m0-2h0m0-1h0m0-4h0m0 9h0m0-7h0m1-1h0m0 6h0m0-6h0m0 3h0m0-4h0m0 2h0m1-1h0m0 4h0m0 2h0m0-7h0m0 9h0m0-2h0m0-2h0m1 0h0m0-2h0m0-1h0m0 4h0m0 1h0m1 0h0m0-3h0m0 0h0m0 2h0m0 2h0m1-7h0m0 3h0m0-1h0m0-1h0m0 6h0m0 1h0m1-4h0m0-4h0m0 7h0m0 1h0m0 1h0m0-2h0m1 1h0m0-5h0m0-2h0m0-1h0m1 7h0m0-3h0m0 4h0m0-2h0m0-4h0m1 2h0m0-5h0m0 9h0m0 1h0m0-6h0m0 2h0m1 1h0m0-6h0m0 0h0m0 2h0m0-1h0m0 5h0m0-2h0m1 2h0m1 1h0m0-7h0m0-1h0m1 1h0m0 5h0m0-5h0m1 4h0m0 1h0m0-6h0m0 8h0m0-1h0m0-4h0m0 4h0m0 1h0m1 0h0m0-2h0m0 2h0m0-1h0m0-1h0m0-6h0m0 3h0m1 1h0m0 2h0m0-2h0m0 1h0m0-1h0m1 0h0m0 1h0m0 4h0m0-4h0m0-2h0m1 7h0m0-6h0m0-4h0m1 4h0m0 1h0m2 4h0m0-6h0m2 4h0m0 1h0m0-3h0m1 0h0m1-3h0m0-2h0m0 1h0m1 0h0m1-1h0m1 8h0m1-6h0m0-1h0m0 1h0m1 0h0m1-2h0m1 1h0m1 4h0m0 0h0m0 0h0m2-1h0m0 5h0m1-4h0m2-3h0m1 7h0m1 0h0m9-5h0m2 4h0m3 1h0m1-2h0m1-2h0m21 4h0m2-1h0m0 2h0m4-4h0m7 2h0m11-5h0m2 2h0m8-1h0m3 5h0m1-5h0m3-1h0m4 1h0m8 4h0m6-2h0m0-2h0m2 3h0m1 2h0m4-3h0m1-2h0m3-2h0m4 3h0m7 1h0m6-6h0m-372 17h0m13-1h0m5-5h0m4 6h0m0-6h0m4 6h0m6-4h0m2 1h0m2 2h0m2 2h0m17 1h0m10-5h0m1 3h0m3-1h0m0 1h0m9 1h0m1 0h0m2-5h0m5 0h0m7 2h0m8-1h0m4-4h0m2 10h0m2-4h0m6-2h0m4-2h0m3 1h0m5 0h0m2-3h0m0 6h0m1 0h0m0-3h0m1 3h0m0 0h0m6-1h0m2 1h0m0-1h0m2 1h0m0 0h0m1-4h0m2 5h0m1-4h0m1 3h0m0-2h0m3 5h0m1-6h0m2 1h0m1 2h0m1-5h0m0 2h0m5 1h0m0 2h0m1-1h0m3 4h0m0-2h0m0-4h0m0 6h0m2-9h0m0 9h0m1-7h0m0 7h0m2-5h0m0 3h0m2-7h0m2 10h0m3-6h0m1-3h0m0 2h0m6-2h0m0 2h0m1 3h0m0 0h0m0-3h0m1-1h0m0 0h0m0 7h0m0 0h0m1-8h0m1 2h0m1-1h0m0 8h0m0-9h0m0 4h0m0 1h0m0-3h0m2-2h0m0 4h0m1 1h0m0 2h0m0-4h0m1 0h0m0 2h0m1-4h0m0 5h0m1-5h0m0 7h0m0-4h0m0-2h0m0 0h0m0 7h0m0-2h0m0-3h0m1 2h0m0 3h0m0-8h0m0-2h0m1 2h0m0 6h0m0-7h0m0 0h0m1 4h0m1 2h0m0 1h0m0-1h0m1-2h0m0-1h0m0 6h0m1-5h0m0 0h0m0 1h0m0 4h0m0 0h0m1-10h0m0 3h0m0 1h0m1 0h0m0 4h0m0 2h0m0-3h0m0-3h0m0-3h0m0 2h0m0 5h0m0 0h0m0 1h0m0-8h0m0-1h0m1 5h0m0 1h0m0 1h0m0-7h0m1 2h0m0-1h0m0 6h0m0 3h0m0-6h0m1 6h0m0-2h0m0-3h0m0 5h0m1-4h0m0 1h0m0-3h0m0-2h0m0-2h0m1 5h0m0 1h0m0-4h0m0 4h0m0-2h0m0 5h0m1-6h0m0 6h0m0-2h0m0 2h0m0-1h0m0-6h0m1 1h0m0 1h0m0 6h0m1 0h0m0-10h0m0 5h0m0-2h0m1 6h0m0-4h0m0-2h0m0 2h0m0-4h0m0 7h0m1 2h0m0-7h0m0 1h0m0 1h0m0 3h0m0-3h0m1-2h0m0 5h0m0-5h0m0 0h0m0 6h0m0-9h0m0 7h0m1 0h0m0-5h0m0-1h0m0-1h0m0 0h0m0 1h0m0 4h0m1-5h0m0 0h0m0 3h0m0 2h0m0-2h0m0 1h0m0-3h0m0 5h0m0-1h0m0-1h0m0-2h0m0 5h0m1 0h0m0-1h0m0 1h0m0-6h0m0 1h0m0 3h0m0-1h0m1-3h0m0 1h0m0 2h0m0-4h0m0 7h0m0-4h0m1 6h0m0-7h0m0 4h0m0 2h0m0-7h0m0 4h0m0 1h0m1-4h0m0 1h0m0 2h0m0 3h0m0-3h0m0-5h0m0 9h0m1-4h0m0 0h0m0-1h0m0-1h0m0 3h0m1 2h0m0-5h0m0 4h0m0-1h0m1 1h0m0 2h0m1-3h0m0-1h0m1-1h0m1-4h0m0 6h0m0-3h0m0 0h0m1 3h0m1-3h0m0 0h0m1 0h0m0-1h0m0 4h0m0-4h0m1 2h0m0-1h0m0-2h0m1 3h0m0 3h0m0-7h0m1 4h0m0-2h0m0 0h0m1 4h0m0-4h0m0 2h0m0 0h0m1 1h0m1 0h0m1 0h0m0-3h0m0 2h0m0-4h0m1 3h0m0-3h0m1 4h0m0-3h0m1 1h0m0 3h0m0 1h0m1-1h0m1-1h0m0 5h0m0-1h0m4-1h0m1-2h0m1 3h0m1-4h0m2 0h0m1 5h0m2-2h0m12-6h0m6 3h0m1 0h0m1 0h0m5 6h0m1-2h0m0-1h0m1 2h0m0-5h0m5-1h0m19 1h0m0 6h0m9-7h0m10 4h0m7 0h0m3-6h0m3 5h0m7-3h0m18-3h0m11 2h0m1 5h0m7-2h0m1 2h0m9 1h0m3 0h0m3 0h0m-404 10h0m9-4h0m9 6h0m1-9h0m0 1h0m2 7h0m1-3h0m2-1h0m0-3h0m2 0h0m5 0h0m5 6h0m7-1h0m6-5h0m8 0h0m2 3h0m6 5h0m2-4h0m8-4h0m3 0h0m2 6h0m2-4h0m11 3h0m10 1h0m10-3h0m3-2h0m0-2h0m3 0h0m0 7h0m2-2h0m1-4h0m2 6h0m4-4h0m3 2h0m0 0h0m0-1h0m4-5h0m0 2h0m9 7h0m2-6h0m9-3h0m0 7h0m1-7h0m1 8h0m1-7h0m6 4h0m1 1h0m0 2h0m3-2h0m1 3h0m0-4h0m1 3h0m3-1h0m0-5h0m2 4h0m2-1h0m1-2h0m1 3h0m3 2h0m1 2h0m1-3h0m1 1h0m1 0h0m0-4h0m1-2h0m1 2h0m0 1h0m1 2h0m2 3h0m1-5h0m0 0h0m1 4h0m0-3h0m0 1h0m1 1h0m0-7h0m1 8h0m0-8h0m0-1h0m0 5h0m0-4h0m1 6h0m0-5h0m0 3h0m0 0h0m1-3h0m0 7h0m0 0h0m0-1h0m0 0h0m1-7h0m1 3h0m0-4h0m0 2h0m0 4h0m1-2h0m0 3h0m1-3h0m1-3h0m0 4h0m0-4h0m0 1h0m1 0h0m0 3h0m1-2h0m0 6h0m1-3h0m0-5h0m0 4h0m0-5h0m0 3h0m1 3h0m0-6h0m0 5h0m0 2h0m0-7h0m0 6h0m0 3h0m0-1h0m0-1h0m1-3h0m0 0h0m0-3h0m0 6h0m1-1h0m0-5h0m0 4h0m1-4h0m0 7h0m0 1h0m0-5h0m1-4h0m0 1h0m0 0h0m1 4h0m1 0h0m0-4h0m0-1h0m0 4h0m2 1h0m0-1h0m1-2h0m0 0h0m0-1h0m1 8h0m0-2h0m0-7h0m0 4h0m1-4h0m0 0h0m1 8h0m0-8h0m1 7h0m0 2h0m0-8h0m0 9h0m1-8h0m0-1h0m1 1h0m1 0h0m0 6h0m0-7h0m1 8h0m0-4h0m0 1h0m1-1h0m0 2h0m1-3h0m0-3h0m1 7h0m0-7h0m0 0h0m2 3h0m0 0h0m0-2h0m1-2h0m0 6h0m1-6h0m0 9h0m0-1h0m1-8h0m0 4h0m0-4h0m0 9h0m1-7h0m1-2h0m1 5h0m0-5h0m3 5h0m0-4h0m1 1h0m0 2h0m2-1h0m0 3h0m0-5h0m2 0h0m1 2h0m0-1h0m0 4h0m1-1h0m0 4h0m1-7h0m1 6h0m1-1h0m3 2h0m0-3h0m1-4h0m0 1h0m3 5h0m7 0h0m0-5h0m4-1h0m8 6h0m0-5h0m5 2h0m1-4h0m7 5h0m0-2h0m1-1h0m10-3h0m6 7h0m7-3h0m1 6h0m2-6h0m3 2h0m4 2h0m3-2h0m8-2h0m1-4h0m1 3h0m7 7h0m8-4h0m5-2h0m10-3h0m13 7h0m0-2h0m1-5h0m-368 9h0m19 9h0m8 1h0m1-1h0m5-3h0m10-2h0m6-2h0m9-1h0m10 7h0m3-2h0m1 1h0m10-7h0m4 2h0m3 7h0m0 1h0m4-1h0m5-2h0m9-4h0m0 3h0m6-4h0m7 0h0m18 0h0m2-1h0m0 0h0m2 3h0m1 4h0m0-5h0m1 6h0m1-7h0m1 3h0m0 0h0m1 0h0m2 0h0m0-1h0m2 4h0m0-5h0m1 6h0m0 0h0m1-2h0m1 3h0m0-3h0m0 3h0m1-4h0m0-1h0m1 1h0m0-5h0m1 3h0m0 3h0m0-6h0m0 8h0m0-9h0m1 8h0m0-1h0m0-3h0m1 4h0m0-5h0m0 5h0m0-4h0m1 5h0m0 0h0m0 1h0m0-1h0m0-1h0m1-3h0m0 3h0m0-2h0m1 3h0m1 1h0m0-3h0m0-2h0m1 5h0m0-1h0m0 1h0m1-2h0m0 0h0m1 2h0m0-4h0m0 3h0m0-6h0m1 7h0m1-3h0m0 0h0m1-3h0m0-2h0m2 7h0m0 1h0m0-3h0m1 1h0m0-1h0m0 1h0m0-3h0m1-2h0m0-3h0m0 3h0m0-1h0m0 5h0m0-4h0m0 6h0m1-1h0m0 1h0m0-9h0m1 10h0m0-1h0m0-4h0m0 3h0m1-1h0m0-4h0m2 4h0m0-2h0m1 1h0m0 4h0m0-8h0m1 4h0m0 0h0m1 3h0m0-2h0m0 1h0m2-2h0m0-3h0m0 5h0m1 2h0m0-6h0m1-2h0m1 8h0m2-7h0m0-2h0m0 7h0m0-6h0m1 2h0m1-3h0m0 3h0m0 5h0m0-6h0m1-1h0m0 1h0m0 2h0m0 4h0m1-8h0m0 1h0m1 0h0m0 2h0m1 0h0m1-1h0m0-2h0m1 2h0m2-1h0m0 5h0m1-3h0m0 5h0m0-4h0m0 4h0m1-1h0m0-4h0m1 1h0m0-4h0m1 5h0m1 3h0m3-9h0m1 9h0m0-5h0m1-2h0m1-1h0m0 1h0m1 8h0m0-5h0m0 2h0m1-3h0m0 3h0m1 0h0m2-2h0m1 2h0m2 1h0m5-6h0m0-1h0m1 6h0m0-6h0m1-1h0m0 9h0m5-5h0m0 0h0m1-2h0m1 2h0m4 4h0m3-3h0m2-3h0m2 2h0m1-4h0m13 7h0m1-4h0m1 2h0m2-1h0m3 3h0m2-1h0m1 2h0m3-3h0m1-2h0m3 5h0m2-3h0m12 2h0m5 2h0m3-7h0m11 4h0m2 0h0m13 1h0m3-2h0m1-4h0m8 8h0m5-3h0m0 4h0m2-7h0m3 5h0m4 0h0m5-7h0m11 4h0m17 4h0m1-5h0m5 4h0m-378 7h0m1-4h0m6 9h0m2-3h0m9 1h0m2-7h0m12-1h0m10 3h0m26 5h0m4 1h0m1-2h0m17-6h0m1 4h0m0-5h0m0 9h0m5-2h0m18 2h0m1-3h0m2-3h0m1 6h0m1-1h0m2-2h0m2 1h0m2 1h0m2-6h0m1 7h0m0-7h0m1 4h0m0 1h0m0 1h0m1-2h0m0-1h0m1 1h0m0 2h0m0 0h0m2 1h0m1 0h0m0-2h0m1-7h0m1 3h0m0 1h0m0 4h0m0-6h0m1 3h0m1-3h0m0 7h0m0-4h0m0-2h0m1-1h0m0 7h0m0-1h0m0 0h0m0-1h0m1-5h0m0-1h0m1 7h0m0 0h0m1-7h0m0 4h0m0-2h0m0-2h0m0 6h0m1-4h0m0 3h0m1-1h0m0-1h0m1 4h0m0-4h0m0 2h0m0-1h0m1-4h0m0 9h0m0-8h0m0 1h0m0 5h0m1-4h0m0 0h0m0-4h0m1 10h0m0-4h0m0-1h0m0 3h0m0-1h0m0 2h0m0-2h0m0 1h0m0-3h0m0-2h0m1 4h0m0-6h0m0 6h0m0 3h0m0-9h0m0 5h0m1 1h0m0 2h0m0 0h0m0 0h0m0 0h0m0-3h0m0-1h0m0 3h0m0-8h0m1 7h0m0-2h0m0 1h0m0 2h0m0-8h0m0 6h0m0 4h0m1-2h0m0-4h0m0-2h0m0 0h0m1 5h0m0-2h0m0 2h0m0 1h0m0-1h0m0-3h0m1 3h0m0 3h0m0-6h0m0 4h0m0 2h0m1-1h0m0-6h0m0 2h0m0-5h0m0 7h0m0 1h0m1 1h0m0-3h0m0-4h0m0 3h0m1 3h0m0-3h0m0 0h0m0-1h0m1 2h0m0-5h0m0 3h0m0 3h0m0-1h0m0 1h0m0-6h0m0 2h0m1 0h0m0 0h0m0-3h0m0 9h0m1-7h0m0 5h0m0 2h0m0 0h0m0-1h0m0-2h0m1 0h0m0 2h0m0-6h0m0 7h0m1-8h0m0 2h0m0-2h0m0 2h0m0 6h0m0-7h0m0-1h0m0 5h0m0 2h0m1-4h0m0 1h0m0-5h0m0 7h0m1 0h0m0-2h0m0-3h0m0 3h0m0 5h0m0-8h0m0 8h0m0-10h0m1 6h0m0-6h0m0 6h0m1-5h0m0 1h0m0 1h0m1 2h0m0-2h0m0 1h0m1 4h0m0-3h0m0-4h0m0 4h0m0-1h0m1 6h0m0 0h0m0-5h0m0 0h0m0 1h0m0-2h0m0-2h0m1-1h0m1 5h0m0-4h0m1 2h0m0-3h0m0 2h0m0 0h0m0 6h0m0-5h0m1-3h0m1 4h0m0-1h0m0 4h0m0-7h0m1 0h0m0 6h0m0-2h0m1-3h0m0-2h0m1 3h0m0 0h0m0 1h0m0 3h0m1 1h0m0-3h0m0 4h0m1 0h0m1-8h0m0 1h0m1 7h0m1-4h0m0-2h0m4 3h0m1-5h0m0 9h0m0-9h0m1 6h0m8-6h0m2 6h0m2 3h0m4-3h0m1-7h0m2 4h0m1-1h0m2 2h0m4 3h0m0-3h0m5 2h0m0-3h0m0-2h0m1-1h0m2 5h0m1-5h0m1 0h0m5 9h0m5-1h0m3-3h0m2 0h0m12 2h0m5-2h0m2-2h0m4 0h0m6-2h0m28 7h0m6-7h0m9-2h0m0 7h0m4-4h0m7 3h0m21 0h0m19-3h0m0-1h0m15 8h0m-378 3h0m6 1h0m6 1h0m1 1h0m4 4h0m1-1h0m1-6h0m3 6h0m5 0h0m5-8h0m3 3h0m2 4h0m1-7h0m1 5h0m4 2h0m14-8h0m6 10h0m3-7h0m0 6h0m4 0h0m8-6h0m4 0h0m4 6h0m0-6h0m11 3h0m6-1h0m4 0h0m0 5h0m0-5h0m1-1h0m0-2h0m2 0h0m1 6h0m1-6h0m3-1h0m2 2h0m1 4h0m2 0h0m3-5h0m0 4h0m1-4h0m1-1h0m1 0h0m0 8h0m1-6h0m2-1h0m0 8h0m2-2h0m0-5h0m1-1h0m0 0h0m0 6h0m0-5h0m1 6h0m1-8h0m1 6h0m0-7h0m0 1h0m0 2h0m0 4h0m1-5h0m0 5h0m0-2h0m0 1h0m0-2h0m1-1h0m0 2h0m2-4h0m1 6h0m0-4h0m1-3h0m1 1h0m0 0h0m0 7h0m0-4h0m1 3h0m0-1h0m0-2h0m1-1h0m0 1h0m0-1h0m0 5h0m0-3h0m1 3h0m0-2h0m0-2h0m0 0h0m1 4h0m0 0h0m1-6h0m0 7h0m0-5h0m1-1h0m0 7h0m0-5h0m0-4h0m1 9h0m0-5h0m0-3h0m0 0h0m1 0h0m0-1h0m0 2h0m0 3h0m0 0h0m0 2h0m0 1h0m0 0h0m1-5h0m0 5h0m0-5h0m0-4h0m0 1h0m0 0h0m0 2h0m0 5h0m0-5h0m1 5h0m0-2h0m0-6h0m0 5h0m0 5h0m0-7h0m0 3h0m0-2h0m0-2h0m0 1h0m0 2h0m1-2h0m0 6h0m0-9h0m0 1h0m0 4h0m0 5h0m0-7h0m0 0h0m0 3h0m1-5h0m0 1h0m0 2h0m0 1h0m1 0h0m0-2h0m0 4h0m0-2h0m1 1h0m0-1h0m0-3h0m0 0h0m0-1h0m0-1h0m0 4h0m1 1h0m0-4h0m0 5h0m0-2h0m0-2h0m0 8h0m0-2h0m0 0h0m0 0h0m0-8h0m1 5h0m0 3h0m0-7h0m0 9h0m0-1h0m0-5h0m0 0h0m0 4h0m1-5h0m0 3h0m0 2h0m0-6h0m0 1h0m0-3h0m0 7h0m0 1h0m0 0h0m0-3h0m0-5h0m1 6h0m0 0h0m1-5h0m0 2h0m0 2h0m0 4h0m0-4h0m1-1h0m0-3h0m0 8h0m0-2h0m1-1h0m0-5h0m0 2h0m0-2h0m0 1h0m0 7h0m0-1h0m1 0h0m0-5h0m0 5h0m0-2h0m0 2h0m1-2h0m0-4h0m0 4h0m0 1h0m1-3h0m0 1h0m0-1h0m0 5h0m0-5h0m1-2h0m0 3h0m1 1h0m0-3h0m0 2h0m0-4h0m1 0h0m0 8h0m0-1h0m0 0h0m2-5h0m0 5h0m0-3h0m1 1h0m0 4h0m0-3h0m0-2h0m0 3h0m1-7h0m0-1h0m2 4h0m0-3h0m0 3h0m1-3h0m0 7h0m0-3h0m0-5h0m0 8h0m1-1h0m1-1h0m0-4h0m0 2h0m1 3h0m0 0h0m1 3h0m1-7h0m0 6h0m1-8h0m0 3h0m1 0h0m1 1h0m0-4h0m2 8h0m2-4h0m1 4h0m1-5h0m0 4h0m2-2h0m0-4h0m4 0h0m4-2h0m1 10h0m0-7h0m2 6h0m2-6h0m0 6h0m1-5h0m4 4h0m1-6h0m1 2h0m12 2h0m10 1h0m2 1h0m0-4h0m9 2h0m7 4h0m2-5h0m6 2h0m3 2h0m3-7h0m1-1h0m2 7h0m1 1h0m3-7h0m18 1h0m9 0h0m9-3h0m3 5h0m6 0h0m3 4h0m2-3h0m13 1h0m3 1h0m5 0h0m26-2h0m2-5h0m0 5h0m-374 9h0m19 3h0m2 0h0m0-7h0m4 2h0m9-3h0m2 6h0m6-2h0m11-1h0m7 7h0m3-9h0m5 2h0m0-1h0m4 5h0m1-2h0m1 4h0m16-2h0m1 1h0m4-1h0m0-5h0m9-2h0m2 8h0m4-6h0m4 0h0m5 8h0m6-6h0m4-2h0m1 6h0m5-3h0m3-3h0m0 5h0m0-4h0m1 3h0m0 0h0m0-5h0m1 0h0m0 2h0m0-2h0m1 5h0m0-3h0m0 6h0m1-8h0m0 1h0m0-2h0m1 1h0m0 8h0m2-5h0m1-3h0m0 3h0m1-3h0m0 5h0m1-3h0m0 4h0m2-3h0m0-3h0m1 1h0m0 2h0m0-4h0m0 2h0m1 1h0m0 2h0m0-4h0m1 7h0m0-7h0m0 2h0m0 3h0m1-3h0m1 6h0m0-7h0m0 2h0m0-3h0m1 6h0m1-2h0m0-3h0m0 1h0m0 5h0m1-6h0m0 1h0m0-2h0m1 2h0m0 6h0m1-7h0m0 7h0m0-5h0m0 0h0m0 2h0m2-5h0m0 2h0m0 3h0m1-3h0m0 3h0m0-5h0m0 2h0m2 0h0m0 1h0m2-3h0m0 0h0m0 6h0m1-2h0m0-3h0m1 7h0m2-5h0m1 4h0m0-2h0m2-4h0m1 2h0m0-1h0m1 2h0m2-4h0m4 0h0m2-1h0m1 6h0m0 4h0m1-3h0m1-4h0m1-3h0m0 4h0m1-1h0m1 1h0m0 2h0m4-2h0m4 1h0m0 4h0m0-3h0m1-1h0m0-3h0m3-1h0m1 3h0m3-1h0m2-2h0m3 6h0m4 2h0m6-6h0m3 3h0m7 2h0m13 2h0m4-8h0m0 5h0m2-2h0m3-5h0m2 4h0m4 5h0m11 0h0m7-6h0m3 0h0m4 3h0m31-3h0m1 1h0m4-2h0m4 0h0m1 1h0m19 4h0m2-2h0m7 1h0m2 2h0m0-8h0m8 9h0m3-1h0m8 2h0m3-1h0m-358 2h0m1 1h0m3 2h0m13-2h0m1 0h0m1 1h0m8-2h0m9 6h0m3-3h0m16-2h0m1 0h0m16 3h0m14-3h0m1-2h0m5 5h0m8-5h0m11 9h0m2-6h0m0 1h0m2 5h0m1-4h0m4-4h0m3 8h0m3-3h0m4 3h0m4-7h0m1 7h0m1-1h0m1-7h0m1 4h0m10-5h0m0 3h0m3 6h0m4-3h0m0 4h0m1-4h0m12 1h0m1-4h0m0-1h0m1 1h0m2 6h0m7-7h0m7 6h0m0-2h0m5-3h0m2-2h0m3 1h0m9 8h0m14-8h0m2 4h0m1 1h0m1-2h0m9 2h0m0 1h0m2-4h0m3 2h0m2 1h0m13 1h0m5-1h0m0 1h0m3-5h0m0-1h0m24 0h0m2-1h0m1 3h0m0 3h0m3-5h0m8 1h0m7-1h0m4 1h0m2 6h0m4-2h0m8 2h0m7-8h0m0 2h0m12 5h0m-338 6h0m9 3h0m13-3h0m5 4h0m4 0h0m10 1h0m0-1h0m7 2h0m0-6h0m1 1h0m1 3h0m1-5h0m3-1h0m1-1h0m3 4h0m5-4h0m1 2h0m6 1h0m2 0h0m1 4h0m4-3h0m1-2h0m1 6h0m2-4h0m5 5h0m3-2h0m7-7h0m0 0h0m1 3h0m1 6h0m2-7h0m7 6h0m10-4h0m4 1h0m10 3h0m3-2h0m1-4h0m0 1h0m5 5h0m11-5h0m4 3h0m2-1h0m2 4h0m4-2h0m0-1h0m1-4h0m0 7h0m1 0h0m1-7h0m1 5h0m1-4h0m1-1h0m10 5h0m0-8h0m2 6h0m3 2h0m2-5h0m1 2h0m9-4h0m9 4h0m13 1h0m3-1h0m3-3h0m2 3h0m5 4h0m2-5h0m1 0h0m5 6h0m4 0h0m7-6h0m5-3h0m2 4h0m8 5h0m1-1h0m4-2h0m10-4h0m3-3h0m1 7h0m23 1h0m8-4h0m16 5h0m5-8h0m-333 14h0m4 1h0m3 0h0m3-2h0m15-2h0m1-1h0m9 8h0m5 1h0m4-8h0m2 6h0m1-8h0m1 9h0m14-3h0m7-6h0m6 6h0m0 4h0m5-5h0m1 5h0m10-5h0m1-1h0m1 3h0m1-5h0m2 6h0m2-3h0m1 3h0m1-1h0m1-6h0m8 3h0m0-1h0m5 2h0m10 2h0m1-5h0m8 2h0m11 3h0m4 2h0m11-2h0m1 1h0m4-3h0m3-2h0m5 0h0m7 2h0m6 4h0m6-9h0m5 7h0m0-2h0m5 0h0m11-2h0m6-2h0m1 0h0m5 3h0m5 3h0m3-6h0m1 4h0m3 1h0m5-5h0m1 2h0m7 4h0m5 1h0m6-3h0m12 2h0m32 1h0m1-8h0m3 4h0m8-3h0m2 9h0m7-7h0m9 5h0m-337 4h0m6 2h0m9-3h0m8 5h0m2-1h0m0 2h0m15 1h0m5-8h0m1 9h0m3-4h0m3 3h0m8-1h0m19 3h0m12-8h0m5 5h0m19-4h0m4 3h0m7 1h0m5-4h0m4 4h0m7-4h0m11 0h0m6 5h0m2-6h0m7 4h0m1-2h0m0 1h0m11 3h0m5-8h0m3 6h0m3-3h0m5 4h0m20 2h0m4-2h0m1-3h0m6-2h0m8-2h0m4 7h0m0-6h0m5 5h0m3-4h0m2 4h0m5 2h0m12-3h0m0-3h0m4 2h0m4-3h0m3 8h0m15-7h0m0 5h0m24 1h0m10 1h0m-311 8h0m3-6h0m3 3h0m0 0h0m8-3h0m7 9h0m9-4h0m3 3h0m11-8h0m4 3h0m1 0h0m4 4h0m2-5h0m10 1h0m3-1h0m2-2h0m2 2h0m1 3h0m1-3h0m3 7h0m7-10h0m3 10h0m18-6h0m12 0h0m2 0h0m0 2h0m12 2h0m2-5h0m30 5h0m11-7h0m0 0h0m20 2h0m4 6h0m0-8h0m2 6h0m5 2h0m1-6h0m2 3h0m12 0h0m0-3h0m2 3h0m1-2h0m23 3h0m15-5h0m2-2h0m3 6h0m2 2h0m0-2h0m2 3h0m6-6h0m-271 16h0m10-5h0m6 4h0m10-2h0m12 0h0m1 2h0m1-6h0m13 7h0m2 0h0m1 0h0m4-3h0m1 3h0m9-1h0m4-2h0m15 2h0m3-1h0m0-7h0m6 6h0m7 1h0m1 1h0m44-6h0m1 3h0m10-2h0m14 3h0m0-6h0m2 8h0m24-4h0m2-1h0m5-1h0m15 1h0m0 3h0m1 1h0m18-6h0m7 5h0m8 3h0m2-5h0m2 5h0m6-5h0m4-2h0m0-1h0m3 8h0m-258 2h0m8 4h0m2-2h0m1 5h0m3 1h0m16-4h0m8-4h0m1 5h0m23-5h0m26 6h0m1-2h0m0-3h0m4 7h0m8 0h0m0-5h0m15 6h0m4-9h0m2 5h0m7 2h0m1 2h0m3-7h0m2-2h0m0 3h0m1 2h0m10 1h0m8-2h0m5-5h0m5 3h0m8 4h0m12 3h0m10-5h0m6-3h0m1 0h0m0 3h0m1 0h0m6 4h0m0-7h0m0 4h0m13-2h0m5 3h0m1-3h0m7-2h0m7-2h0m6 9h0m-254 3h0m24 3h0m4-1h0m1 4h0m4-3h0m16 2h0m10 2h0m4-3h0m4-3h0m16-2h0m6 9h0m22-9h0m9 6h0m6-1h0m2 1h0m1-4h0m6 1h0m3 1h0m0 3h0m1-5h0m2 5h0m5 1h0m0-3h0m4-1h0m6 3h0m0 2h0m2-2h0m8-2h0m1-2h0m14 1h0m4 3h0m1-7h0m1 8h0m4-2h0m2-4h0m5 6h0m1-6h0m5 6h0m2-5h0m0-1h0m20-2h0m5 5h0m28-5h0m-271 9h0m12 3h0m26 1h0m19-4h0m14 3h0m14 3h0m3-4h0m4-1h0m4 8h0m3-1h0m2-1h0m19 3h0m6-8h0m3 7h0m3-9h0m2 7h0m0 2h0m1-8h0m26 3h0m3-2h0m13 2h0m2 1h0m5 5h0m5-5h0m10-2h0m1 5h0m13-1h0m11-2h0m2 1h0m15-4h0m3 0h0m-206 8h0m5 5h0m5-2h0m4-1h0m3 6h0m23-4h0m1 2h0m5 1h0m9 0h0m6-3h0m3-1h0m1-2h0m3 1h0m0-2h0m6 0h0m2 6h0m15-5h0m3 0h0m8 8h0m1 0h0m1-9h0m1 1h0m7 6h0m2-7h0m1 7h0m4 3h0m0-1h0m11-7h0m15 8h0m16-5h0m0 3h0m1-1h0m5-1h0m1 4h0m-153 6h0m0-4h0m14 2h0m11 3h0m1 0h0m16 1h0m6-4h0m15 4h0m2-8h0m12 8h0m33 1h0m0-8h0m2 8h0m5-7h0m2 3h0m1 2h0m6-3h0m8-2h0m8-2h0m-137 15h0m6 3h0m3 2h0m17-6h0m50-4h0m-76 14h0m4 4h0m1-5h0m0 4h0m1-6h0m1 1h0m1 3h0m25 4h0m4-4h0m3 5h0m1-7h0m3 7h0m0-4h0m1-2h0m1 5h0m1-2h0m1 2h0m2-3h0m0 4h0m3-2h0m-49 9h0m1 3h0m0-1h0m1-8h0m1 6h0m0 1h0m1-7h0m27 1h0m2-1h0m1 4h0m1 2h0m1-3h0m2 3h0m2-6h0m2 0h0m1 7h0m0-6h0m3-1h0m1 3h0m2 2h0m8 2h0m-58 4h0m1 3h0m3-1h0m29-3h0m6 1h0m0-1h0" stroke="#1a1a8a" stroke-width="2.1" stroke-linecap="round" fill="none"/>
<path d="M484 697h0m18 1h0m-56 12h0m31-5h0m3 3h0m3-7h0m4 9h0m0-4h0m4-5h0m2 7h0m3-3h0m2 0h0m11 2h0m1 2h0m13-2h0m14 0h0m-89 10h0m13 1h0m4-2h0m4 3h0m3-3h0m1 0h0m4 2h0m5-5h0m5 1h0m0-4h0m6 2h0m1 5h0m3-1h0m0-4h0m1-2h0m0 10h0m1-2h0m1-4h0m1-4h0m9 9h0m1-1h0m1 1h0m2-1h0m1-2h0m2-3h0m2 7h0m8-3h0m1 2h0m-65 8h0m1-6h0m3 6h0m10-3h0m4-2h0m8 3h0m1 2h0m1-4h0m2 5h0m2 1h0m5-7h0m2 4h0m1-1h0m1 2h0m4 1h0m4-7h0m1 0h0m0-1h0m1 4h0m2-3h0m3 1h0m4 2h0m5 5h0m-72 4h0m13 2h0m5-2h0m5-1h0m8 6h0m2-7h0m5 6h0m3-6h0m2 1h0m0-1h0m5 1h0m3 5h0m3-4h0m2 5h0m2-7h0m5 3h0m2 6h0m3-10h0m1 5h0m-19 6h0m4-1h0m-13 10h0m50 3h0" stroke="#7cc6d6" stroke-width="2.6" stroke-linecap="round" fill="none"/>
<path d="M475 683h0m17 6h0m-23 7h0m1-4h0m4 7h0m2-5h0m1-2h0m0-1h0m1 0h0m1 7h0m1-3h0m2 1h0m0 4h0m0-4h0m1-1h0m0 3h0m0-1h0m2-1h0m3 1h0m-21 8h0m0 1h0m3 2h0m1-2h0m2-4h0m0 6h0m0-6h0m1 6h0m1-5h0m1 0h0m1 7h0m0-2h0m0-3h0m1 0h0m1 0h0m0-5h0m0 6h0m1 2h0m1-6h0m0-2h0m2 2h0m5-1h0m5 6h0m-20 7h0m6 4h0m3-5h0" stroke="#6b2aa0" stroke-width="2.4" stroke-linecap="round" fill="none"/>
<path d="M1455 147h0m2-2h0m0 4h0m11-3h0m-31 13h0m18-7h0m12 7h0m2-5h0m7 0h0m-47 9h0m8 7h0m8-9h0m13 1h0m9 7h0m3-8h0m4 1h0m1 4h0m8 2h0m6-5h0m-61 10h0m16 3h0m2-1h0m0-4h0m6 6h0m7-7h0m6 1h0m6 7h0m10 2h0m6-8h0m2 8h0m2-1h0m13-1h0m18 1h0m-114 3h0m6 3h0m28-2h0m8 0h0m11 4h0m7-1h0m2 2h0m1-6h0m2 5h0m9-4h0m8 0h0m9 7h0m11-5h0m2-1h0m8 0h0m0 0h0m-101 7h0m26 6h0m29-1h0m7-1h0m1-3h0m12 3h0m0 5h0m3-9h0m6 6h0m6-3h0m11 5h0m1-1h0m4-6h0m1 6h0m-130 7h0m15-4h0m8 5h0m2 1h0m45-5h0m7 5h0m2-6h0m3 3h0m7-3h0m1 9h0m3-6h0m6 6h0m5-4h0m0 2h0m6 2h0m25-8h0m1-1h0m6 0h0m1 7h0m36-1h0m-203 7h0m27-4h0m10 7h0m3-6h0m5 7h0m3-6h0m0-1h0m1 9h0m3-5h0m16 1h0m9-4h0m5 0h0m8 6h0m1-6h0m3 4h0m3 1h0m0-1h0m1-2h0m2 1h0m2-3h0m20 4h0m5 4h0m11-10h0m1 3h0m2 1h0m12 5h0m0-3h0m1 1h0m1-1h0m7 1h0m12-2h0m1 0h0m9-3h0m1 8h0m3-5h0m7 3h0m-197 11h0m16-8h0m1 5h0m10-4h0m8 6h0m1 1h0m1-5h0m8 1h0m2-2h0m3 3h0m4 1h0m7 3h0m7-7h0m0 5h0m2-7h0m3 6h0m3-4h0m3 6h0m0 1h0m1-5h0m8-3h0m0 1h0m7-1h0m5 2h0m4 6h0m1-4h0m0 1h0m2-6h0m1 1h0m4 5h0m0 2h0m3-5h0m2 2h0m2 1h0m4-7h0m4 8h0m7-4h0m1 0h0m0 2h0m1-5h0m1 2h0m3 5h0m0-4h0m1-3h0m4 0h0m8 9h0m2-9h0m2 3h0m8 2h0m19-5h0m1 7h0m2 0h0m0-1h0m9-5h0m3 1h0m3 4h0m3 1h0m7 2h0m-215 9h0m2-3h0m10-4h0m2 5h0m1-4h0m3-2h0m4 7h0m4-5h0m2 4h0m11 1h0m3-4h0m2-1h0m11 6h0m1-3h0m2-6h0m0 7h0m3 0h0m2-1h0m3-3h0m2 4h0m1 0h0m0 1h0m2-2h0m1-1h0m1-4h0m3 4h0m1-3h0m2 4h0m1-5h0m2 8h0m7-7h0m1 6h0m1-8h0m0 2h0m1 8h0m0-6h0m1-1h0m2 5h0m0-1h0m5-2h0m8-3h0m1 6h0m0-8h0m8 0h0m1 3h0m1 6h0m0-1h0m1-2h0m3 0h0m1 2h0m1-4h0m0-1h0m15 5h0m6-5h0m2-3h0m1 8h0m1-7h0m2 1h0m5 6h0m2-5h0m2 2h0m0-2h0m9-1h0m5 1h0m2-1h0m4 5h0m7-3h0m1-1h0m2 2h0m3 1h0m1 3h0m1-1h0m1-5h0m5 6h0m2-6h0m0 3h0m8-3h0m5 1h0m3-2h0m-237 15h0m12-4h0m1 2h0m2-1h0m4 3h0m5 3h0m5-3h0m8 1h0m1-4h0m13-4h0m2 5h0m1 4h0m2-9h0m0 5h0m1-4h0m1 3h0m1 0h0m4 1h0m1-3h0m1 4h0m1-5h0m0 1h0m3 0h0m0 0h0m2 8h0m1-4h0m6-2h0m2 5h0m1-5h0m2 1h0m2 2h0m0 2h0m3-1h0m1 0h0m1-4h0m0 4h0m1 0h0m0-3h0m6 5h0m3-2h0m0 0h0m0-5h0m5 3h0m5 3h0m2-8h0m1 2h0m1 6h0m0 0h0m3-8h0m6 0h0m2 6h0m2 2h0m4-8h0m5 8h0m0-6h0m3 2h0m1-4h0m3 3h0m0-1h0m1-3h0m0 2h0m1 8h0m0-1h0m1-1h0m1-1h0m4 3h0m2-9h0m4 9h0m0-2h0m0-4h0m5 2h0m6 0h0m2 2h0m4 1h0m0-7h0m2 4h0m3-6h0m9 3h0m4 4h0m0-2h0m1 3h0m2-6h0m4 7h0m2-6h0m4-1h0m0 6h0m20-2h0m16 2h0m17-2h0m-255 8h0m3-4h0m0 4h0m3 5h0m2-2h0m6 1h0m0-6h0m12 2h0m0 1h0m7 4h0m1-4h0m2 4h0m4-6h0m0-1h0m1 2h0m1 4h0m6-1h0m5 2h0m0-6h0m6 0h0m0 6h0m7-5h0m1 2h0m0-4h0m2 5h0m0 3h0m1 0h0m1 0h0m0-8h0m1 2h0m7 5h0m5-3h0m0-5h0m4 9h0m3-1h0m1-5h0m3 2h0m2 3h0m2-7h0m1-1h0m5 2h0m1 7h0m1-3h0m3-3h0m0-1h0m0-2h0m5 1h0m3-1h0m1-1h0m5 10h0m2-8h0m0 4h0m1-1h0m1-5h0m1 6h0m1 0h0m1 2h0m4-3h0m0 5h0m1-5h0m0 2h0m1 0h0m1-5h0m0 5h0m3-4h0m0 7h0m2-2h0m2-4h0m3 5h0m5-1h0m0-3h0m3 5h0m2-7h0m2 7h0m1-2h0m0-8h0m0 8h0m1 1h0m2-8h0m3 1h0m2-1h0m1 3h0m4 5h0m1-6h0m3 3h0m3-1h0m1 5h0m3-8h0m4 8h0m3-2h0m5-5h0m1-2h0m9 6h0m1-3h0m13-4h0m1 9h0m0-7h0m0 2h0m0 3h0m16-4h0m2 5h0m5-4h0m1 6h0m18-4h0m-271 13h0m3-1h0m2-2h0m2 0h0m6 1h0m1-5h0m5 6h0m5-3h0m0-1h0m7 4h0m3-2h0m10 3h0m5-6h0m0-2h0m1 5h0m1 0h0m1-6h0m0 8h0m6 2h0m2-7h0m0 0h0m3 0h0m0 6h0m1-4h0m8 3h0m0-6h0m4 7h0m5-3h0m2 2h0m1-1h0m0 1h0m1-2h0m0 3h0m7-2h0m2-5h0m4-1h0m1 3h0m4 1h0m6 2h0m1-5h0m2 5h0m1-3h0m6 5h0m1-8h0m1-1h0m0 0h0m3 1h0m1 4h0m1 4h0m0-6h0m0 4h0m0 1h0m1-6h0m0 2h0m1-3h0m0 3h0m0-1h0m1 0h0m2 7h0m0-4h0m2-5h0m1 1h0m0 7h0m2-2h0m2-5h0m1 7h0m1-4h0m3-1h0m0 1h0m6-2h0m3 6h0m3-6h0m4 4h0m2 1h0m8-3h0m2 4h0m2-2h0m1-1h0m1-2h0m4 5h0m1-2h0m2-3h0m2 4h0m1-1h0m4 1h0m0-3h0m0 0h0m6-3h0m0 2h0m5 0h0m1 3h0m0 2h0m1-4h0m5 2h0m5-3h0m3 1h0m3 4h0m7-8h0m3 7h0m5-6h0m2 1h0m8-2h0m13 1h0m15 6h0m-271 11h0m5 1h0m1-2h0m4-5h0m3 3h0m3 1h0m0-3h0m0 0h0m1 3h0m3 0h0m1-4h0m2 4h0m0-6h0m1 5h0m3-3h0m0 0h0m4 3h0m2-6h0m2 5h0m3 2h0m2 0h0m1-7h0m0 2h0m3 1h0m10 5h0m4-1h0m0-7h0m1 10h0m0-9h0m2 4h0m0-3h0m1 1h0m0 6h0m2-9h0m3 6h0m4-5h0m0-1h0m0 0h0m0 2h0m7 4h0m2-4h0m0 7h0m0-1h0m1-8h0m3 1h0m2 8h0m3 0h0m0 1h0m1-9h0m2 2h0m4 2h0m5-3h0m2-2h0m3 3h0m3-3h0m0 5h0m0 3h0m2-1h0m1-3h0m1 2h0m0 2h0m3 1h0m0-1h0m1-3h0m2 2h0m2-6h0m1-1h0m0 5h0m3 4h0m3 0h0m1 0h0m3-3h0m1 0h0m0-4h0m0 6h0m0-4h0m2 5h0m0-3h0m0-1h0m1-5h0m1 7h0m2 3h0m3-5h0m3 0h0m4-4h0m1 3h0m0-1h0m0-2h0m0 3h0m1 2h0m1-2h0m1 5h0m0-4h0m0 1h0m1-1h0m5-2h0m0 1h0m2 5h0m1 1h0m1-7h0m2 6h0m0-3h0m3-5h0m1 7h0m0-6h0m4 4h0m0 0h0m0 0h0m5 0h0m0-5h0m3 1h0m3-2h0m7 3h0m0 6h0m2-8h0m0 1h0m1 5h0m6-7h0m0 4h0m10 1h0m8-1h0m0 6h0m1-5h0m8-5h0m10 1h0m2 5h0m4-1h0m11 4h0m3 1h0m9 0h0m10-6h0m-270 13h0m0-2h0m4-3h0m2 3h0m1 5h0m5-6h0m3 1h0m0 1h0m0-4h0m3 4h0m2-1h0m1 1h0m7-2h0m0-2h0m1 2h0m1 5h0m1-3h0m1-3h0m1 0h0m1 7h0m3 0h0m1-9h0m3 2h0m3 1h0m2 5h0m1-2h0m2-3h0m4 3h0m2-4h0m0 0h0m1 2h0m1-5h0m1 6h0m2 3h0m0-3h0m5 1h0m1-5h0m0 6h0m1-4h0m6 4h0m4 2h0m3-3h0m4 3h0m3-9h0m1 2h0m4-1h0m1 2h0m0-2h0m1 8h0m1-3h0m0-6h0m0 1h0m2 6h0m1 1h0m6-1h0m1-2h0m2 0h0m0-2h0m2 0h0m0 2h0m1 1h0m4-1h0m1-3h0m4-1h0m0-1h0m2 7h0m5-2h0m0-5h0m0 8h0m2-3h0m0 2h0m0-2h0m0 4h0m1-9h0m3 7h0m1 0h0m1-5h0m1 3h0m1 0h0m0 2h0m1-8h0m1 4h0m0 2h0m0 2h0m3-3h0m3-5h0m2 6h0m0 0h0m1 0h0m1-3h0m1 2h0m0-1h0m6 2h0m1 1h0m1-3h0m2 3h0m2-2h0m2-2h0m3 4h0m1 2h0m5-6h0m0 1h0m1 0h0m1 3h0m2 0h0m2-4h0m2 3h0m0 1h0m6 0h0m3 0h0m3 2h0m1-6h0m2 4h0m5 0h0m8-4h0m4 7h0m1-5h0m1 2h0m0 1h0m1-2h0m1 1h0m2 0h0m1 0h0m2 1h0m2-2h0m0 0h0m9 2h0m1-1h0m23-2h0m3-1h0m1 4h0m13-7h0m2 1h0m2 2h0m8 6h0m-287 1h0m8 7h0m1-6h0m1 6h0m0 1h0m2-2h0m7-7h0m0 3h0m0-1h0m1 6h0m2 1h0m1-6h0m2-1h0m1 1h0m1-3h0m0 7h0m3-6h0m1 2h0m5 1h0m1 1h0m1-1h0m3-3h0m0 1h0m0 8h0m0-10h0m1 3h0m1-1h0m0 3h0m1-1h0m0-1h0m1-2h0m2 2h0m0 0h0m1 6h0m1-2h0m1-6h0m1 7h0m0-8h0m1 4h0m0 4h0m2 1h0m1 0h0m0 0h0m4-8h0m0 0h0m0 6h0m1-6h0m4 8h0m2-1h0m1-2h0m2-2h0m0 1h0m0 1h0m1 4h0m0-10h0m0 9h0m1-1h0m0 1h0m2-6h0m0 5h0m2 2h0m1-3h0m2-1h0m2-4h0m1 6h0m1 0h0m5-3h0m0-1h0m0 2h0m0 3h0m1-1h0m0-3h0m1-2h0m0 2h0m2 1h0m2 1h0m0 0h0m0 0h0m2-5h0m0 8h0m1-6h0m2-2h0m1 4h0m2 3h0m0-8h0m0 6h0m0 3h0m1-4h0m2 0h0m1 3h0m0-9h0m0 6h0m2 0h0m0-3h0m1 1h0m1 3h0m2 2h0m0-2h0m1-7h0m0 4h0m0 1h0m1 2h0m2 0h0m1-6h0m1 5h0m1-3h0m0 5h0m2-2h0m0 2h0m1 1h0m0-8h0m2 3h0m3 6h0m0-5h0m1-1h0m0 0h0m1-2h0m0 3h0m0 3h0m2-5h0m2 5h0m2-3h0m1-4h0m0 2h0m0 6h0m2-6h0m1 3h0m0 1h0m2-7h0m1 2h0m1 5h0m2-6h0m1 2h0m0 1h0m2 4h0m0 1h0m0-6h0m0 4h0m1-6h0m0 2h0m2 7h0m1-2h0m1 1h0m1-6h0m0-2h0m1-1h0m0 1h0m2 0h0m1 2h0m1 6h0m0-1h0m2-2h0m0-3h0m0-1h0m2 3h0m0 4h0m4-1h0m2-6h0m1 1h0m1 6h0m1-8h0m4-1h0m0 5h0m1 5h0m2-3h0m1 3h0m1-3h0m1 0h0m0-5h0m1 5h0m0 2h0m1 1h0m0-4h0m3 3h0m1-4h0m2-3h0m1 8h0m1-7h0m0 5h0m2-3h0m0 3h0m4-4h0m1 6h0m2-5h0m2 4h0m0 1h0m0-9h0m5 0h0m0 1h0m4 5h0m0 2h0m1-8h0m0 7h0m1-7h0m0 7h0m1-4h0m0 6h0m1-5h0m4-2h0m3 3h0m0-2h0m5 2h0m1 0h0m5-5h0m5 4h0m1 4h0m2-5h0m1 0h0m5 3h0m1 0h0m0 3h0m1-1h0m2 0h0m1-5h0m2-2h0m1-2h0m0 7h0m6 2h0m0-9h0m5 5h0m0-4h0m3 4h0m2-4h0m3 6h0m14 0h0m-291 5h0m2 6h0m2 1h0m6-2h0m3-4h0m6-1h0m1 6h0m0-3h0m0-2h0m1 4h0m0 0h0m1-6h0m1 2h0m1-1h0m1 7h0m1-3h0m2 3h0m0-6h0m2 2h0m1 2h0m3-1h0m0-1h0m0-3h0m0 5h0m2 3h0m1-4h0m1-2h0m0 6h0m1-1h0m0-5h0m0-1h0m1-1h0m0 5h0m1-3h0m4-3h0m0 8h0m1-8h0m1 4h0m3 4h0m2-4h0m0 0h0m0-1h0m1 5h0m1-3h0m0-3h0m1-1h0m1 5h0m0 3h0m1-4h0m1-4h0m1 2h0m1 1h0m0-1h0m1 1h0m0-2h0m1-1h0m0 6h0m1-4h0m2 2h0m2-3h0m1 3h0m1-6h0m1 5h0m0 1h0m0 0h0m1-1h0m1 0h0m1-3h0m0 0h0m2 4h0m1-5h0m0 2h0m0-2h0m1 5h0m0 1h0m1 1h0m1 0h0m0-8h0m2 8h0m1-1h0m0 1h0m1-2h0m1-2h0m1 2h0m0-4h0m0 6h0m1 1h0m1-6h0m0-2h0m1 3h0m0-1h0m0-1h0m1 5h0m0-6h0m2 7h0m0-2h0m0 0h0m0-3h0m1 5h0m0-7h0m0 9h0m1-2h0m0-6h0m1-1h0m1 8h0m0-6h0m0 7h0m1-4h0m0 3h0m0-6h0m1 0h0m1 5h0m0-3h0m0 4h0m1-3h0m0 0h0m3-2h0m2 2h0m0 4h0m0-4h0m0-2h0m1 3h0m0 2h0m1-2h0m1 1h0m0-3h0m0 0h0m1-3h0m0 8h0m1-5h0m1 2h0m0-7h0m0 7h0m1-7h0m0 9h0m0 0h0m1-4h0m1 1h0m1-1h0m0 5h0m0-9h0m1 6h0m0-3h0m0 4h0m0-1h0m0-4h0m1-1h0m1 3h0m0-5h0m0 7h0m1-7h0m1 9h0m0-6h0m0 7h0m1-7h0m1 7h0m0-4h0m0-5h0m1 9h0m0-5h0m0 2h0m1 0h0m2-3h0m0-4h0m0 10h0m1-2h0m1-4h0m0 1h0m0 1h0m1 2h0m1-6h0m0 5h0m0-1h0m1 1h0m1-6h0m1 5h0m0 3h0m1-9h0m0 2h0m0 3h0m0-4h0m0 2h0m2 6h0m2-4h0m0 4h0m1-8h0m0 3h0m1 3h0m1-2h0m0 2h0m2 2h0m0-6h0m0 2h0m2-4h0m1 1h0m1-1h0m0 2h0m1 6h0m0-4h0m1-3h0m1 4h0m1 0h0m1 3h0m0-4h0m0 3h0m1 1h0m0-4h0m0 2h0m1-5h0m0 8h0m0-2h0m0 1h0m1-1h0m0-5h0m0 7h0m0-4h0m0 1h0m1-4h0m1 4h0m0 1h0m1-1h0m0 0h0m1 3h0m0-2h0m1-2h0m1-3h0m1-3h0m0 3h0m1-3h0m1 5h0m1 3h0m1-3h0m0-1h0m1 0h0m1 1h0m3 1h0m1-1h0m0-3h0m0 1h0m0-1h0m1 4h0m0-5h0m0 8h0m1-4h0m2-2h0m0 4h0m1-2h0m1-3h0m0 2h0m1 2h0m0-5h0m0 2h0m2 5h0m0 1h0m0-2h0m0-1h0m0-4h0m2-2h0m1 5h0m0 0h0m1 3h0m1-4h0m0 4h0m0 0h0m1-3h0m0-1h0m0 4h0m0 2h0m0-6h0m1-1h0m0 1h0m0 4h0m1-5h0m1 1h0m1 1h0m2 1h0m0 3h0m1-6h0m1 2h0m0 3h0m1-5h0m0 1h0m1 6h0m0-4h0m1-4h0m1 2h0m0-2h0m2-1h0m1 5h0m2-5h0m0 2h0m1-1h0m0 0h0m0 7h0m3-8h0m1 7h0m3-1h0m1-2h0m1-2h0m2-1h0m1-1h0m1 9h0m0-6h0m2-1h0m1 7h0m5-2h0m0 1h0m0-3h0m2 3h0m4-8h0m6 8h0m0-6h0m6 6h0m1-3h0m0 0h0m1 0h0m1 0h0m0-1h0m2 0h0m3 4h0m3-8h0m2 5h0m4 1h0m0 0h0m1 0h0m1-1h0m6 0h0m0 2h0m2-5h0m1-2h0m10 6h0m1 2h0m2-8h0m5 9h0m4-5h0m-284 11h0m3-4h0m1 5h0m7-5h0m1 3h0m0 3h0m1-6h0m1-1h0m3 8h0m3-1h0m0 0h0m2-8h0m0 7h0m1 0h0m1-1h0m0-4h0m1 7h0m0-1h0m1 1h0m1-5h0m1 3h0m7-1h0m0-1h0m1 4h0m0-4h0m0-1h0m0 1h0m1-2h0m0 7h0m1-8h0m0 6h0m0-6h0m1 8h0m2-5h0m2 4h0m0-3h0m0-3h0m1 6h0m0-1h0m0 0h0m1 0h0m1 1h0m2-8h0m1-1h0m0 5h0m1 0h0m3-2h0m1 6h0m0-2h0m0-5h0m1 4h0m0-1h0m0-3h0m2 5h0m0 3h0m2-8h0m1 3h0m0 1h0m1-1h0m1 2h0m0 1h0m1-4h0m0-1h0m1 4h0m0-3h0m0-4h0m0 3h0m0 7h0m2-2h0m2-1h0m0-5h0m0 5h0m1-2h0m0 4h0m0-6h0m1 0h0m1 1h0m0 0h0m1 0h0m0 6h0m0-9h0m0 1h0m1 5h0m0-1h0m1-4h0m0 7h0m2-7h0m0 7h0m1-5h0m1 5h0m0-2h0m0-1h0m1 0h0m1-5h0m0 8h0m0-8h0m1 6h0m0-4h0m0 4h0m0-7h0m1 0h0m0 6h0m0-2h0m0-3h0m0 7h0m1-5h0m2 3h0m0-1h0m1 2h0m0-1h0m0 0h0m1 2h0m0-8h0m1 0h0m0 6h0m0-4h0m1 4h0m0-5h0m0 3h0m1 1h0m0 0h0m1-1h0m0-2h0m1 5h0m1-5h0m1 4h0m0 0h0m1-5h0m0 8h0m0-2h0m0-2h0m0-2h0m1 0h0m0 3h0m0 2h0m0-7h0m0 2h0m1 2h0m1-2h0m0 2h0m1-2h0m0 5h0m1-4h0m0-1h0m0 5h0m0 2h0m0-7h0m1 6h0m0-4h0m0 0h0m0 1h0m0-2h0m1-3h0m0 0h0m0 8h0m1-4h0m0-4h0m0 1h0m1 0h0m0 4h0m0-5h0m1 6h0m0-4h0m1-1h0m0 4h0m1-4h0m0 0h0m0 7h0m1-6h0m0 0h0m1 1h0m0 1h0m0-2h0m2-1h0m0 6h0m2-2h0m0 4h0m0 0h0m0-9h0m0 1h0m0 2h0m1 0h0m0-1h0m0 0h0m1 2h0m0-2h0m0 0h0m1 3h0m1 0h0m0 1h0m0 2h0m1-2h0m0 1h0m0-3h0m1 4h0m0-7h0m0 3h0m0 2h0m0 1h0m0 2h0m1-5h0m0-4h0m0 7h0m1-1h0m0-3h0m0 2h0m0-2h0m1 0h0m0 3h0m1 0h0m0-3h0m0 3h0m1-1h0m0-6h0m1 7h0m0-1h0m2 1h0m2-6h0m1 7h0m1-5h0m0-1h0m0 6h0m0-3h0m1 5h0m0-3h0m1 2h0m0-3h0m1 1h0m0-1h0m0 4h0m0-4h0m1-4h0m1 8h0m0-8h0m2 6h0m1-5h0m0 4h0m1 3h0m0-6h0m0 0h0m1 5h0m1-9h0m0 6h0m1 0h0m0 0h0m0 0h0m0 3h0m1 0h0m0-4h0m0-5h0m0 4h0m1 5h0m1 1h0m1-4h0m0-5h0m1 6h0m0-5h0m0-1h0m0 5h0m0-5h0m1 9h0m0-6h0m0-2h0m0 7h0m0-3h0m1 3h0m1-2h0m1-2h0m0-4h0m1 8h0m0 0h0m0-6h0m1-2h0m0 8h0m2-7h0m2 8h0m0 0h0m0-4h0m1 1h0m1-6h0m0 8h0m1-3h0m1-5h0m1 7h0m0 2h0m1 0h0m0-7h0m1 4h0m1 1h0m0-6h0m0 5h0m1-2h0m0 4h0m2-6h0m1 1h0m0 3h0m1-7h0m0 6h0m0-5h0m2 5h0m0-1h0m0-1h0m1 5h0m0 0h0m0-1h0m3 2h0m0-1h0m4-9h0m0 7h0m0 0h0m1-5h0m1 0h0m1-1h0m0 9h0m0-3h0m0-3h0m1-1h0m0 7h0m0-9h0m1 7h0m0-8h0m0 8h0m0 0h0m1 2h0m2-2h0m2-1h0m0-3h0m1 0h0m2-4h0m1 2h0m4 0h0m0 1h0m0 1h0m1 2h0m0-3h0m1-1h0m1 5h0m0 0h0m3-3h0m1-2h0m0-2h0m0 4h0m1 1h0m0 3h0m1 0h0m2-1h0m1 2h0m4 0h0m0-2h0m0 2h0m0-4h0m1-3h0m2 0h0m0 4h0m1 0h0m3-6h0m0 10h0m2-5h0m0 5h0m0-8h0m1 6h0m1 1h0m0-1h0m1-6h0m6 0h0m0-1h0m1 7h0m2 0h0m3 1h0m2-7h0m1 1h0m0 2h0m0 1h0m1 0h0m0-6h0m1 7h0m1-6h0m0 3h0m7-3h0m1 0h0m2 7h0m3-3h0m0-4h0m1 3h0m1 0h0m2 5h0m1-3h0m3-2h0m1 3h0m3-4h0m1 4h0m5-3h0m4 3h0m2-1h0m0 1h0m8-5h0m5 3h0m4-2h0m-290 17h0m5-4h0m0-6h0m0 6h0m1-2h0m0-2h0m2 1h0m0 7h0m0-1h0m1-9h0m3 8h0m3-2h0m0 2h0m0-1h0m0-2h0m1 0h0m2 0h0m0 4h0m3-8h0m0 5h0m1 1h0m0-4h0m0 2h0m1 3h0m0-7h0m1 6h0m1-1h0m1-4h0m0 4h0m0 1h0m1-3h0m0 0h0m0 4h0m1-1h0m0 1h0m2-4h0m0 1h0m0 5h0m1-4h0m0 3h0m0-3h0m1-5h0m0 9h0m1-5h0m0-3h0m1 3h0m2-4h0m0 1h0m0 3h0m0 0h0m1 5h0m1-1h0m0-1h0m1-3h0m0-1h0m1 0h0m0 1h0m0-3h0m1 0h0m0 5h0m0-4h0m1-1h0m0 0h0m1 2h0m1 0h0m0 1h0m0 4h0m1-2h0m0 3h0m1-9h0m0-1h0m1 8h0m0-3h0m0 0h0m0 5h0m1-3h0m0-2h0m1-3h0m0 3h0m0 1h0m0-4h0m1 3h0m0-3h0m0 1h0m1 5h0m0 0h0m1 1h0m0-9h0m1 8h0m0-3h0m0-5h0m1 6h0m1-1h0m0 3h0m1 1h0m1 0h0m0-7h0m1 2h0m1-1h0m0-3h0m0 9h0m0 0h0m1-6h0m2 3h0m0-4h0m0 7h0m0-4h0m1-2h0m0 3h0m0-2h0m0 4h0m0-7h0m1 2h0m0-1h0m0 4h0m0-5h0m2 7h0m0-3h0m0-2h0m1 4h0m0-3h0m0-1h0m1 0h0m0 1h0m1 5h0m0 0h0m0-1h0m2 1h0m0-7h0m1 0h0m0-1h0m1 3h0m1 5h0m0-5h0m0 0h0m0 6h0m0-1h0m0-3h0m1 1h0m0-1h0m0-1h0m2-2h0m0-3h0m1 4h0m0 0h0m0 5h0m0 0h0m1-6h0m0-3h0m1 6h0m1 3h0m0-3h0m0-5h0m1 2h0m0-1h0m0 7h0m1-5h0m0 1h0m1 1h0m2 2h0m1-2h0m1 2h0m0-6h0m0-1h0m1 7h0m0-2h0m0-1h0m1-3h0m0 2h0m1 4h0m0-4h0m0-3h0m0 6h0m0 3h0m1-6h0m0 2h0m0 0h0m1-2h0m0 3h0m0-2h0m0-2h0m2 0h0m1 4h0m0 3h0m0-8h0m0 5h0m1-5h0m0 0h0m0 5h0m1-1h0m2-3h0m1 4h0m0 0h0m1-2h0m1-4h0m0 1h0m0 0h0m0 3h0m1-3h0m0 7h0m1-4h0m0-2h0m1 6h0m2-1h0m0-5h0m1 4h0m0-6h0m0 3h0m1 4h0m0-4h0m0-4h0m0 1h0m0-1h0m0 2h0m1 2h0m0 1h0m0 0h0m0 1h0m0 2h0m1-1h0m0-6h0m0 3h0m1-1h0m1 2h0m0-3h0m0-1h0m1 6h0m1-7h0m1 9h0m1 0h0m1-3h0m0-1h0m2-3h0m0 1h0m0 0h0m0 6h0m1-7h0m0 2h0m2 2h0m0-4h0m1 4h0m0-4h0m1 3h0m0-2h0m0-2h0m0 4h0m0 0h0m1-5h0m0 4h0m1-2h0m0 2h0m2-3h0m0 0h0m1 1h0m0 4h0m0-2h0m1 3h0m1-4h0m1 4h0m0 0h0m2 1h0m0-8h0m1 4h0m0 4h0m1 0h0m0 2h0m1-5h0m1 0h0m0 1h0m0 1h0m1-6h0m0 9h0m1-2h0m0 2h0m1-3h0m0 1h0m0-6h0m1 7h0m1-7h0m1 2h0m0 6h0m0-8h0m0 0h0m1 3h0m0 4h0m0-3h0m0-4h0m1 4h0m1 3h0m0 0h0m1-2h0m0-6h0m1 3h0m0 3h0m0-5h0m1 2h0m4 2h0m3-2h0m0-1h0m0 4h0m0 0h0m2-2h0m1 2h0m0-2h0m1-4h0m1 5h0m1-1h0m1 2h0m0 2h0m1 0h0m0-5h0m2-1h0m1 3h0m0 0h0m0 0h0m1 0h0m1-3h0m0-2h0m1 2h0m0-3h0m1 6h0m0 3h0m0-1h0m0 2h0m0-4h0m0 4h0m0-5h0m3 1h0m1-1h0m2-3h0m1 2h0m0 0h0m0-1h0m1 4h0m0-3h0m1 6h0m1-8h0m1 0h0m0 3h0m1 1h0m0-2h0m1 4h0m1-7h0m1 6h0m1 1h0m2 2h0m0-2h0m0-7h0m0 8h0m3-2h0m0 2h0m0-1h0m1-4h0m1 6h0m0-9h0m1 8h0m1-3h0m0-5h0m0 1h0m0 5h0m3-3h0m0-1h0m2 3h0m1-5h0m1 0h0m1 2h0m0 6h0m0-9h0m1 4h0m1 5h0m1-6h0m0 5h0m1 0h0m0 0h0m0-4h0m1 4h0m0-1h0m1 2h0m0-3h0m2 0h0m0 3h0m3-9h0m0 5h0m2 2h0m1 3h0m1-7h0m0 0h0m0 2h0m0 2h0m0-1h0m1-3h0m0-2h0m0 8h0m1-5h0m2 0h0m1-2h0m0 4h0m1-4h0m1 5h0m1-5h0m0 7h0m1-4h0m1-4h0m1 4h0m1-2h0m0 4h0m1-4h0m3-1h0m6-1h0m5 1h0m1 4h0m0-3h0m1 4h0m1 0h0m1 2h0m1 0h0m1-6h0m0 4h0m4-3h0m1 6h0m5-4h0m1-5h0m1 3h0m3-1h0m8 0h0m4 3h0m1-3h0m2-1h0m2 5h0m9 1h0m-292 2h0m0 4h0m0-2h0m3-2h0m2 6h0m1-5h0m3 4h0m0 2h0m1-5h0m3-1h0m2 8h0m1-6h0m1 0h0m0 5h0m0-4h0m2-2h0m0 1h0m1 2h0m0-1h0m0 2h0m0-4h0m1 0h0m1 2h0m1-2h0m1 0h0m0 1h0m0 3h0m2 2h0m0-1h0m0 0h0m1-3h0m2 3h0m1 1h0m0-1h0m2-6h0m0 4h0m0-3h0m0 7h0m1 1h0m0-8h0m0 0h0m1-1h0m0 7h0m1-3h0m2-5h0m1 8h0m1-7h0m0 7h0m1-1h0m1-6h0m0 6h0m0-7h0m1 1h0m1 3h0m1 6h0m0-6h0m0 3h0m1-6h0m0 1h0m0 3h0m0-3h0m1 3h0m1 1h0m0-3h0m1 4h0m0-1h0m1 2h0m2-3h0m0 2h0m1-6h0m0 4h0m1 0h0m0 2h0m0-1h0m1-5h0m1 9h0m0-3h0m0-6h0m0 8h0m1-5h0m0 1h0m0 1h0m1 2h0m0-2h0m0-4h0m1 6h0m1 1h0m0-5h0m1-3h0m0 3h0m0 6h0m1-9h0m0 5h0m1-4h0m0 5h0m1-4h0m1 0h0m1 7h0m0-7h0m0-3h0m1 6h0m0 3h0m1-3h0m0 0h0m1-1h0m0-2h0m0-1h0m1 2h0m0-3h0m0 4h0m1-4h0m1 6h0m0-4h0m0-1h0m1 5h0m0-3h0m0 1h0m0-2h0m1-1h0m0 8h0m1-5h0m0 2h0m0 2h0m1-3h0m0 2h0m0-7h0m0 1h0m1 2h0m0 5h0m0 0h0m0-8h0m0 8h0m0-1h0m2-8h0m0 8h0m1-3h0m0 1h0m2-3h0m1 2h0m0-2h0m0 4h0m0-4h0m1-3h0m0 1h0m1 3h0m0 0h0m2 2h0m0 1h0m0-2h0m1-1h0m1-3h0m0 4h0m1-3h0m0 6h0m0 0h0m1-1h0m0 1h0m1 0h0m0-3h0m0 2h0m0-5h0m0-1h0m1 3h0m0-2h0m0 4h0m0 0h0m1 3h0m0-8h0m0 1h0m1 6h0m0-4h0m0 1h0m0 0h0m0-4h0m0 0h0m0 3h0m0 1h0m1 0h0m1-3h0m0 4h0m2-4h0m0 5h0m1 1h0m0-8h0m0 10h0m0-3h0m2-5h0m1 0h0m1 0h0m2-2h0m0 2h0m0 5h0m1-3h0m1 2h0m1-2h0m1 0h0m1 4h0m0 2h0m0-4h0m0 3h0m1-8h0m0 2h0m1 4h0m1-3h0m0 0h0m0 1h0m0 2h0m0-3h0m0-1h0m1 5h0m0-2h0m0 0h0m1-2h0m1 3h0m0-6h0m2 5h0m0-3h0m0 4h0m1 1h0m0 2h0m0-9h0m1 5h0m0 0h0m0-5h0m1-1h0m0 7h0m1-4h0m0 4h0m0 0h0m1 2h0m1-8h0m0 7h0m2-7h0m0 0h0m0 8h0m1-3h0m1 3h0m0-6h0m0 4h0m1 3h0m1-4h0m0-4h0m1 6h0m0-3h0m0-3h0m1 5h0m1 1h0m0-3h0m1 4h0m0-5h0m1-3h0m5 2h0m1 3h0m0 3h0m0-9h0m1 9h0m0-7h0m1 3h0m0 4h0m1-4h0m1-5h0m3 4h0m2 0h0m0-4h0m1 9h0m0-7h0m1 5h0m0-2h0m0 0h0m0-1h0m2-4h0m0 3h0m1 1h0m5-4h0m1 1h0m1 0h0m0 2h0m1 0h0m2-1h0m0 0h0m0 3h0m2-2h0m0 4h0m0 1h0m1 0h0m1-7h0m2 6h0m0-6h0m1 7h0m0-1h0m1-5h0m0-2h0m1 1h0m0 7h0m0-6h0m0 2h0m1-4h0m0 5h0m1-3h0m0 3h0m3-5h0m1 6h0m1 3h0m1-5h0m1 1h0m0 3h0m1-5h0m1 4h0m2-3h0m3-3h0m2 6h0m3-7h0m0 6h0m2-6h0m1 9h0m2-5h0m3 1h0m0 0h0m4-5h0m0 3h0m1 6h0m1-6h0m1-1h0m0 6h0m1-6h0m0 6h0m1 0h0m1 2h0m1-3h0m1-5h0m0 6h0m1-1h0m1-3h0m0-3h0m1 7h0m0-3h0m4-4h0m1 4h0m0-2h0m1-3h0m1 6h0m1-3h0m2 7h0m1-9h0m0 4h0m1-3h0m1 4h0m5-5h0m1-1h0m1 3h0m0 1h0m1-2h0m2-2h0m1 7h0m0 1h0m0 0h0m0 1h0m1-9h0m4 9h0m0-9h0m1 8h0m2 0h0m0-6h0m2 7h0m1-6h0m1 6h0m2-9h0m2 9h0m0-8h0m7 2h0m0 2h0m2-4h0m1 1h0m1 7h0m2-3h0m1-4h0m1 5h0m1-6h0m3 6h0m2 0h0m6-5h0m7 6h0m3-4h0m0-4h0m-297 13h0m5-2h0m19 2h0m0-1h0m0 2h0m3-1h0m0 0h0m1-2h0m4 5h0m0-4h0m3-1h0m1 4h0m2-3h0m0 1h0m2-1h0m2 0h0m0 4h0m2 0h0m0 2h0m0-6h0m0 5h0m1 2h0m0-7h0m0 4h0m1 2h0m0-1h0m1-1h0m0 0h0m1 3h0m1-6h0m0-3h0m1 4h0m1-2h0m0 4h0m1-5h0m2 6h0m0-1h0m0-3h0m0-1h0m1 7h0m0-2h0m0 3h0m1-2h0m2-1h0m0 0h0m0-2h0m1 1h0m0-3h0m0-2h0m0 6h0m1-4h0m1 1h0m1-2h0m0 6h0m0-2h0m1-3h0m0 5h0m0-6h0m0 2h0m1 3h0m0-1h0m1-2h0m0 1h0m3 3h0m1 2h0m1-3h0m0-1h0m1-4h0m0 2h0m3 3h0m4-1h0m0 3h0m0-1h0m1-7h0m0 5h0m0 0h0m1 4h0m0-6h0m2 5h0m0 1h0m0-4h0m2-1h0m0-4h0m2 6h0m0 3h0m1-1h0m0 1h0m0-5h0m0-4h0m1 3h0m0 0h0m0 4h0m1-2h0m0 1h0m0 1h0m0-1h0m4-3h0m1 1h0m1-4h0m0 1h0m1 8h0m0-8h0m0-1h0m2 6h0m0-5h0m1 4h0m0-3h0m1 4h0m1-4h0m0-2h0m1 8h0m0-5h0m0 1h0m0-1h0m1 2h0m0-2h0m1 3h0m0 1h0m0-6h0m1-1h0m2 4h0m1 4h0m1-1h0m0-4h0m0 6h0m1-2h0m2-7h0m0 6h0m3-3h0m1 4h0m0 0h0m1-2h0m1-3h0m1 6h0m0-6h0m0 3h0m3 3h0m1-3h0m0 0h0m2 2h0m0-3h0m3-1h0m1 0h0m0 1h0m0-4h0m0 3h0m1-2h0m2 8h0m1-8h0m0 3h0m1-5h0m0 3h0m0 5h0m2-1h0m1-4h0m0 1h0m1 3h0m2-3h0m1 0h0m1 0h0m0 1h0m2-1h0m0-1h0m2 0h0m2 1h0m1 3h0m2 2h0m0 0h0m1-2h0m0 2h0m2 0h0m0-8h0m1-1h0m0 6h0m0-5h0m0 2h0m2-3h0m1 2h0m2 6h0m1-3h0m0 0h0m0 1h0m2-2h0m0 1h0m1-5h0m1 6h0m0-6h0m0 2h0m1 0h0m6-1h0m3 3h0m3 1h0m2 3h0m0-7h0m1 3h0m0 4h0m1-5h0m0 6h0m0-4h0m1-4h0m0 6h0m3 0h0m1 1h0m0-1h0m1-2h0m1-3h0m1 5h0m1-4h0m0 3h0m1 3h0m0-2h0m1 1h0m4-7h0m1 2h0m1 2h0m0-5h0m2 7h0m1-7h0m1 0h0m0 4h0m1-4h0m0 10h0m1-5h0m2-3h0m0 6h0m2-7h0m1-1h0m0 0h0m0 4h0m2 4h0m5-4h0m1-2h0m1 3h0m1 1h0m0-3h0m1 4h0m0 2h0m1-2h0m2-2h0m2 0h0m3-1h0m1 5h0m1-7h0m0 0h0m1 4h0m0 2h0m1 1h0m0-3h0m5 2h0m1-8h0m5 6h0m1 0h0m4-1h0m0-2h0m0-2h0m1 8h0m2-3h0m2 0h0m1 0h0m2-6h0m2 4h0m2 4h0m2-3h0m5-3h0m3 7h0m6-6h0m2 0h0m3 0h0m1 4h0m1-4h0m0 3h0m2-3h0m2 2h0m3-5h0m4 2h0m7 6h0m-270 2h0m4 1h0m1 5h0m5-2h0m0-1h0m0 3h0m1-1h0m1-3h0m1 5h0m5-3h0m1-1h0m2 0h0m1 6h0m5-6h0m3 0h0m3 0h0m0 2h0m1-3h0m0 0h0m3 2h0m1 4h0m0-5h0m1 4h0m1-5h0m1 0h0m0 1h0m1 0h0m1-3h0m0 1h0m3 0h0m1 3h0m1 1h0m0-1h0m3 4h0m1-6h0m0 8h0m3-7h0m0 5h0m1-5h0m1-3h0m2 4h0m1 1h0m2 3h0m2-2h0m1 3h0m1-1h0m3-5h0m3 6h0m3-4h0m1-4h0m0 5h0m0 2h0m1 1h0m3-4h0m0 3h0m4-6h0m1 8h0m1-7h0m1 0h0m0 5h0m0-6h0m2 0h0m0 0h0m2 6h0m4-2h0m3 2h0m0-7h0m0 0h0m1 8h0m0-4h0m1 1h0m2-3h0m2 3h0m3-2h0m1 0h0m0 5h0m2-5h0m2-3h0m0 7h0m1-7h0m1 1h0m1-2h0m1 3h0m2 5h0m0-5h0m1 0h0m4 2h0m0-5h0m1 2h0m5 0h0m4-2h0m2 6h0m1-5h0m2 9h0m3-9h0m1 7h0m2-3h0m2-3h0m0-1h0m5 4h0m0 0h0m0 0h0m11-5h0m3 5h0m3 1h0m6-1h0m7 0h0m1-2h0m2-2h0m1 0h0m1 4h0m0-3h0m1-1h0m1 6h0m0 0h0m1 3h0m2-7h0m6 0h0m2 5h0m3-5h0m5-3h0m2 8h0m1-3h0m0 3h0m4-4h0m4-2h0m4 3h0m0-3h0m10 7h0m1-7h0m19 0h0m1 4h0m-233 6h0m5 1h0m2 1h0m5 1h0m1 4h0m1-8h0m16 9h0m15-5h0m1-4h0m2 2h0m4 4h0m2-4h0m1 1h0m14 0h0m5 1h0m1 0h0m5 0h0m2 1h0m5-5h0m7 3h0m5 0h0m4 6h0m3-9h0m0 7h0m5-6h0m0 5h0m19-3h0m1 1h0m2 4h0m0-7h0m1 3h0m4-3h0m1 0h0m2-2h0m1 6h0m1-5h0m4 3h0m1 4h0m5-5h0m5 6h0m0-5h0m1 3h0m1-6h0m1 6h0m4-5h0m1-2h0m5 4h0m2 1h0m14-2h0m13 3h0m3-3h0m3-2h0m2 6h0m30-2h0m-235 7h0m91 2h0m1-1h0m2-1h0m7-1h0m0 0h0m4-1h0m2 8h0m6-7h0m17 3h0m15-1h0m41 3h0m-132 4h0m57 6h0m0 0h0m6-5h0m86 0h0" stroke="#4290c8" stroke-width="1.8" stroke-linecap="round" fill="none"/><path d="M1458 138h0m1 9h0m16 3h0m-28 8h0m8-1h0m2-5h0m1-1h0m22 8h0m-32 1h0m11 9h0m0-8h0m7 7h0m7-6h0m8 2h0m12 6h0m4-4h0m25 2h0m-81 11h0m4-6h0m0 6h0m4 0h0m0-8h0m32 6h0m0 0h0m3-7h0m-64 19h0m11 1h0m0-2h0m6-1h0m4 0h0m4-2h0m6-2h0m0 3h0m31-3h0m13 0h0m1 7h0m8-7h0m19 5h0m11 0h0m-118 3h0m17 7h0m13-4h0m26 6h0m1-4h0m3 3h0m1-9h0m5 7h0m7-6h0m1 3h0m3 4h0m1 1h0m2-3h0m7 2h0m14-6h0m2 0h0m5 3h0m1 5h0m6-1h0m15-3h0m-138 6h0m4 8h0m8-2h0m8-1h0m3-6h0m3 8h0m1-1h0m13 0h0m6-5h0m3 6h0m1-5h0m1 4h0m10-7h0m4 7h0m1 0h0m3-2h0m8-2h0m9-1h0m1-1h0m6-2h0m4 3h0m9 6h0m0 0h0m4-1h0m3 2h0m4 0h0m1-6h0m5 4h0m8-5h0m22 6h0m3-5h0m-182 12h0m10 4h0m0-4h0m4 2h0m3-2h0m15-4h0m10 7h0m6-2h0m0 0h0m2 1h0m9-4h0m5-2h0m2 7h0m2-2h0m0 1h0m4-2h0m0 1h0m2 0h0m0-1h0m5 2h0m4-1h0m2-2h0m0-2h0m7 6h0m5-7h0m1 6h0m1-7h0m1 7h0m0-4h0m1 4h0m12-5h0m3-1h0m2 6h0m1-4h0m9 3h0m4-5h0m4 4h0m1 1h0m4-5h0m4 1h0m5 0h0m8 5h0m8 2h0m1 0h0m0-4h0m2-1h0m3 4h0m-180 3h0m16 5h0m7 3h0m0 0h0m1-1h0m19 0h0m1-8h0m3 7h0m0-1h0m4-4h0m2 4h0m3-3h0m3 5h0m8-8h0m7 4h0m2 4h0m3-2h0m7-3h0m6-3h0m6 1h0m7 6h0m2-2h0m2-3h0m23 0h0m10 6h0m1-6h0m1-1h0m4 3h0m1 1h0m0 2h0m0-4h0m0 4h0m1-1h0m10-4h0m3 1h0m8-1h0m8 6h0m10-4h0m-194 7h0m9 5h0m5-7h0m0 8h0m18 1h0m7 1h0m1-9h0m3 1h0m4 5h0m1-5h0m1 1h0m2 3h0m1-6h0m1 1h0m2 6h0m4-2h0m0-2h0m1 3h0m1-3h0m0-1h0m4 7h0m13-2h0m0-3h0m7 0h0m3 2h0m6-3h0m1 5h0m5-8h0m1 1h0m5-1h0m1 6h0m1 3h0m6-1h0m1-4h0m8-4h0m3 10h0m7-7h0m1-1h0m4 3h0m8-4h0m4 5h0m1-4h0m0 7h0m4-6h0m0 2h0m5 2h0m6-3h0m2-2h0m1-1h0m2 6h0m3-1h0m5 3h0m1-8h0m4 1h0m15 3h0m2 4h0m6-8h0m0 0h0m0 8h0m11-1h0m-225 8h0m5 0h0m0 2h0m11-3h0m0 4h0m2-8h0m1 2h0m8-2h0m3 8h0m1-5h0m3 6h0m0-5h0m1-3h0m3-2h0m2 8h0m0 0h0m6 0h0m2-4h0m5 3h0m1-6h0m1 1h0m0 0h0m1-2h0m0 7h0m1-1h0m1-5h0m0 6h0m1-4h0m1 0h0m2 6h0m1-6h0m2 0h0m0 0h0m2 6h0m6-3h0m1 2h0m1-6h0m1 1h0m4-3h0m3 6h0m2 0h0m0-5h0m1 4h0m0-4h0m5 1h0m4 4h0m0 2h0m0-3h0m2 0h0m1 4h0m3-7h0m0 7h0m1-2h0m1-6h0m1 2h0m2 2h0m1-4h0m0 6h0m0-2h0m3-3h0m4 5h0m1-4h0m0 3h0m1-3h0m1 1h0m2 4h0m11 1h0m10-6h0m7-2h0m0 9h0m3-4h0m1-4h0m4 6h0m3-4h0m4-4h0m0 3h0m3 4h0m8-6h0m8 9h0m3-3h0m1-6h0m1 4h0m2 5h0m3-5h0m10-5h0m0 9h0m4-7h0m7 2h0m13 1h0m10 3h0m-242 6h0m2 0h0m6 3h0m6-5h0m6 6h0m1 0h0m8-1h0m4-2h0m3-3h0m1-1h0m1 7h0m2-3h0m6 0h0m2 0h0m3-3h0m2-2h0m1 4h0m1 2h0m1-3h0m0 4h0m1 1h0m3 2h0m3-4h0m1-5h0m3 8h0m0-8h0m2 0h0m1 4h0m3 3h0m0-2h0m2 1h0m0 2h0m2-7h0m0 2h0m2 2h0m0 2h0m0 2h0m2-1h0m3-3h0m0-4h0m4 2h0m1 1h0m4 3h0m4-3h0m4 3h0m4 0h0m2 2h0m0-1h0m4-7h0m2 1h0m1-2h0m1 4h0m2-3h0m1-2h0m0 4h0m3 0h0m7 1h0m1 3h0m1-2h0m9-4h0m3 7h0m6-2h0m0-5h0m5 1h0m2 6h0m2-7h0m4 2h0m2 0h0m0 0h0m1 5h0m0-6h0m3 2h0m9 3h0m1-5h0m2 0h0m2 7h0m2-7h0m4 5h0m2-8h0m7 6h0m24-3h0m2 0h0m1 1h0m5-1h0m6 3h0m9-2h0m16 0h0m-260 8h0m1 0h0m4 7h0m1-2h0m6-1h0m1-4h0m0 1h0m2 5h0m3-3h0m1 4h0m1-3h0m7-5h0m3 7h0m0 1h0m0 0h0m1-1h0m0-7h0m1 8h0m8-6h0m3 2h0m1 3h0m3-4h0m2-3h0m1 8h0m1-7h0m1 4h0m0-3h0m1 7h0m4-6h0m2 3h0m1-1h0m0-6h0m2 5h0m4 5h0m2-5h0m1 4h0m1-1h0m4-3h0m3-2h0m2-1h0m0 4h0m0 4h0m0-6h0m3 6h0m0-6h0m1 3h0m0-2h0m0-3h0m0-1h0m3 6h0m1-3h0m2-3h0m4 0h0m1 4h0m1 3h0m1 2h0m0-6h0m0 5h0m1 0h0m3-6h0m3-1h0m1-1h0m1 7h0m0-4h0m3 0h0m1 4h0m0 1h0m3 0h0m1-7h0m0 6h0m1-1h0m0 3h0m2-8h0m0 5h0m1-4h0m1 1h0m0-3h0m4 7h0m1-5h0m1 5h0m4-6h0m0-2h0m2 10h0m1-9h0m7 7h0m3-4h0m5-3h0m3 1h0m0 6h0m2 0h0m1-4h0m2 0h0m1 6h0m2-6h0m0-4h0m3 6h0m0-3h0m0-2h0m1 4h0m2 2h0m3 2h0m6-7h0m4 8h0m2-6h0m6-2h0m10-1h0m0 9h0m10-9h0m6 4h0m16-3h0m25 3h0m7 0h0m5 2h0m-257 5h0m3 7h0m0-7h0m3 3h0m3 1h0m0-1h0m0-1h0m0 2h0m1-1h0m3 3h0m2-1h0m1 2h0m1-2h0m4 1h0m1-1h0m1-4h0m1 3h0m1-2h0m0 1h0m1-3h0m6 5h0m4-2h0m2 2h0m0 3h0m1-7h0m2-3h0m4 10h0m3-5h0m1 0h0m0-3h0m1 6h0m1-1h0m0-5h0m0 4h0m2 0h0m2-1h0m1 4h0m1 0h0m3-8h0m3 0h0m1 6h0m1-4h0m3-2h0m0 2h0m0-2h0m4 0h0m1 4h0m2-3h0m1 7h0m2-6h0m1 0h0m3 6h0m3-2h0m1-1h0m0 4h0m1-6h0m4 0h0m1-2h0m3 4h0m1 0h0m1 1h0m4 0h0m1-1h0m1 2h0m0 2h0m0-7h0m6 1h0m1 5h0m0-3h0m1 1h0m4 0h0m0-6h0m0 5h0m1 4h0m1-6h0m5 3h0m5-6h0m0 4h0m1 0h0m0 3h0m0-3h0m1-4h0m1 1h0m2-1h0m1 3h0m1 2h0m3 0h0m1-4h0m0 5h0m4 0h0m0 2h0m0-2h0m1-2h0m1 3h0m0-8h0m1 6h0m2 2h0m1 2h0m4 0h0m1-8h0m7 7h0m1-5h0m2 0h0m1-1h0m4 0h0m2 7h0m2-5h0m8-3h0m2 7h0m1-9h0m0 8h0m3-6h0m6 8h0m0-2h0m3-3h0m1 5h0m7-5h0m1-4h0m3 2h0m2-1h0m11 2h0m3-4h0m10 10h0m5-4h0m2-3h0m0-3h0m5 4h0m-257 14h0m3-5h0m1 0h0m1-2h0m1 2h0m1 3h0m5-1h0m1 4h0m0-4h0m5-2h0m1-1h0m1 7h0m4-1h0m1-5h0m1 1h0m0 3h0m0 1h0m0-4h0m3 3h0m0 0h0m2 1h0m0-4h0m1 0h0m2 2h0m0 1h0m2-3h0m1 5h0m1-1h0m0-8h0m0 10h0m2-8h0m4 6h0m0-8h0m2 6h0m0 1h0m1-2h0m1-4h0m2 5h0m2 3h0m0-7h0m0 2h0m4 0h0m0 2h0m1 0h0m3-1h0m1-4h0m2-1h0m2 1h0m1 6h0m0-6h0m1-1h0m2 4h0m0 5h0m2-8h0m5 1h0m1 4h0m2 0h0m1-4h0m3 4h0m3 1h0m2 1h0m7-6h0m3 3h0m2-1h0m2 6h0m1-10h0m4 9h0m3 0h0m1-1h0m0-6h0m1 5h0m0 2h0m2-9h0m2 3h0m1 4h0m0-5h0m1 2h0m1-4h0m1 9h0m0-9h0m0 10h0m0-8h0m2 6h0m0-3h0m1 0h0m0 1h0m1 4h0m1-3h0m1 3h0m0-7h0m0 3h0m2 4h0m3-6h0m1-3h0m2 2h0m0 4h0m1 0h0m1 0h0m0 2h0m0-9h0m1 10h0m0-1h0m1-3h0m1 2h0m0-6h0m1 4h0m3 4h0m2-7h0m4 5h0m5-2h0m1-2h0m2 4h0m1-7h0m1 1h0m0 0h0m1 8h0m2-5h0m1 4h0m0-9h0m3 1h0m3 2h0m0-1h0m0-1h0m1 9h0m3-2h0m1-2h0m1 2h0m2-3h0m5 0h0m2 5h0m0-3h0m2 1h0m1-4h0m0 4h0m0-4h0m1 2h0m5-3h0m1 2h0m1-4h0m1 6h0m1-5h0m1-2h0m2 0h0m2 2h0m1 7h0m1-6h0m1 2h0m9 3h0m2-5h0m1-1h0m3 7h0m2-3h0m3 1h0m7 1h0m1-5h0m12 4h0m0 3h0m1-5h0m0 3h0m2-3h0m0-3h0m1 8h0m12-5h0m1-5h0m2 2h0m2 4h0m1 1h0m1 3h0m1-1h0m2-8h0m2 1h0m2 6h0m3-1h0m-277 10h0m1-6h0m7 3h0m0-3h0m4 0h0m0 7h0m1-3h0m3 4h0m0-2h0m1-2h0m4 5h0m0-6h0m0-1h0m2-1h0m2 5h0m0 0h0m0-6h0m1 2h0m1-3h0m0 6h0m2-4h0m0 7h0m1-1h0m2 2h0m2-8h0m0 7h0m1-2h0m1-5h0m1 7h0m0-8h0m1 7h0m1-8h0m0 6h0m1 1h0m2-6h0m1 3h0m3-3h0m0 2h0m3 0h0m0-2h0m1 9h0m2-9h0m3 6h0m0-1h0m2 2h0m0 0h0m4 1h0m2 1h0m1-1h0m4-7h0m1 2h0m0 1h0m1 2h0m0-1h0m0 3h0m6-4h0m0-2h0m0 1h0m0 5h0m2-6h0m1-1h0m0 1h0m2-1h0m1 6h0m1-5h0m0-2h0m0 7h0m1-6h0m0 1h0m0 0h0m0 3h0m2-1h0m1-5h0m2 8h0m1 2h0m1-1h0m1 1h0m4-2h0m0-1h0m5 0h0m2 0h0m0-3h0m2 3h0m1-2h0m0 3h0m0-2h0m0 2h0m1-7h0m1 6h0m1 2h0m1-1h0m1-4h0m1-1h0m0 3h0m3 2h0m4 1h0m0 0h0m1-4h0m1-4h0m0 5h0m0-4h0m1 6h0m1-8h0m0 5h0m1 2h0m0-3h0m1 4h0m2-3h0m3-4h0m0 1h0m2 4h0m1-4h0m2 8h0m0-4h0m2 1h0m1-6h0m0 3h0m3-2h0m0 6h0m1-1h0m0 3h0m3-3h0m0-3h0m0 4h0m1-4h0m0-4h0m1 5h0m1-3h0m1 6h0m1 2h0m0-4h0m1 2h0m0-5h0m1-1h0m1 5h0m1 2h0m0-7h0m1 6h0m0-5h0m0 0h0m1 4h0m0-1h0m1-1h0m0-5h0m1 6h0m2-6h0m0 10h0m0-7h0m1 7h0m1-9h0m0 3h0m1 4h0m1-2h0m1 4h0m0-8h0m1 1h0m2-1h0m3 5h0m2-1h0m1-4h0m1 3h0m1-2h0m0 6h0m3-3h0m1-3h0m0 5h0m5 2h0m1-2h0m1-2h0m0 0h0m2 1h0m1-4h0m0 1h0m0 0h0m1 1h0m0-4h0m0 7h0m2-7h0m1 2h0m0-2h0m1 5h0m0-3h0m1 0h0m1 4h0m1-5h0m1 0h0m0 6h0m3-3h0m1 5h0m2-6h0m0 4h0m2 0h0m2 0h0m1-1h0m1-3h0m1 3h0m0 0h0m0-2h0m3-4h0m0 5h0m4 1h0m0 2h0m1-6h0m1 1h0m6 2h0m2 2h0m6-6h0m2 1h0m0 5h0m0-8h0m1 3h0m3 6h0m0-5h0m0 0h0m2 6h0m1-9h0m4 9h0m16-4h0m3-3h0m6 0h0m8 6h0m-281 1h0m9 9h0m6 0h0m0-2h0m2 0h0m2-2h0m2-5h0m0 6h0m1 0h0m1 2h0m1-3h0m2 5h0m0-7h0m0 1h0m2-3h0m1 0h0m0 7h0m0-3h0m0-2h0m1 6h0m1-6h0m3 5h0m3-3h0m1 1h0m0 0h0m0-5h0m1 8h0m1-2h0m0 2h0m1-4h0m0-4h0m0 1h0m1 4h0m1 4h0m0-2h0m2-8h0m0 9h0m1-1h0m1 1h0m0 1h0m1-2h0m1-6h0m0 3h0m0 4h0m1-3h0m1-2h0m1-3h0m0 4h0m0-4h0m2 2h0m1 0h0m0 1h0m1 4h0m2-5h0m1-3h0m1 7h0m0-1h0m2-4h0m1 7h0m2-3h0m0-1h0m2 3h0m1-6h0m1-2h0m1 3h0m0 2h0m0-3h0m1 6h0m1-7h0m1 8h0m1 1h0m1-4h0m1-4h0m1 4h0m0 3h0m1-3h0m0-4h0m0 0h0m2-2h0m1 6h0m0 0h0m1-4h0m0 5h0m0-2h0m1 2h0m0 2h0m0-3h0m1-5h0m0 9h0m0-1h0m1 1h0m0-9h0m0 7h0m0-2h0m1-1h0m1-2h0m0-3h0m1 9h0m2-7h0m1 7h0m1 1h0m0-1h0m0-8h0m2 7h0m0-7h0m1 7h0m0-4h0m3 3h0m4-3h0m0-1h0m0 4h0m0-2h0m0-2h0m1 3h0m0 2h0m1 0h0m1-3h0m0 1h0m1 3h0m1-5h0m1 4h0m2-7h0m0 9h0m0-6h0m2 2h0m0-1h0m0 1h0m0 4h0m1 0h0m1-5h0m0-2h0m0 7h0m0-4h0m2 1h0m1-1h0m0-6h0m1 10h0m0-7h0m0 2h0m1 2h0m1 0h0m0 0h0m0-2h0m2-4h0m0 8h0m2-5h0m0 1h0m0 0h0m1-2h0m2 4h0m0-5h0m0 1h0m1 6h0m0 0h0m1-1h0m0-2h0m1-1h0m0-1h0m5 1h0m1-3h0m0 3h0m0 3h0m0-5h0m1 0h0m0 1h0m1-2h0m0 7h0m0-5h0m1-2h0m1 4h0m0 3h0m0-7h0m0 5h0m1-6h0m1 2h0m0-1h0m0 3h0m1-4h0m0 3h0m1 3h0m1-4h0m0-3h0m1 3h0m0 4h0m0-6h0m0 7h0m1 0h0m1-1h0m1-3h0m0-2h0m0 6h0m1-3h0m0-5h0m0 0h0m1 5h0m1 5h0m1-2h0m0-5h0m0 6h0m0-6h0m1-2h0m0 3h0m1 4h0m1 2h0m0-6h0m0 1h0m0-2h0m3 5h0m1-2h0m1 1h0m1-3h0m0-3h0m1 4h0m0 3h0m2-3h0m1-3h0m0 7h0m2-1h0m0 1h0m0-1h0m1-7h0m0 2h0m0-2h0m0 0h0m1 0h0m0 6h0m1 1h0m1-2h0m0-3h0m0-1h0m1 7h0m0-5h0m1-4h0m1 4h0m0 3h0m1 2h0m1-2h0m1-3h0m0 2h0m1-1h0m0-2h0m1 3h0m0-1h0m0 2h0m1-4h0m1 6h0m0 1h0m1-2h0m2-4h0m0 5h0m0 0h0m1-2h0m0 0h0m0 0h0m1-7h0m1 8h0m0 1h0m2-2h0m1-4h0m4 6h0m1-5h0m0-2h0m1 3h0m0 2h0m1-6h0m0-1h0m0 7h0m1-3h0m0 4h0m0 1h0m1-8h0m0 9h0m1 0h0m3-4h0m0 1h0m1-4h0m0-2h0m2 0h0m2 2h0m2 1h0m1-2h0m0 6h0m0-5h0m2 6h0m0-4h0m1 1h0m1 2h0m1-6h0m0 4h0m1 3h0m1 0h0m1-1h0m1-7h0m2 6h0m0-2h0m2-5h0m0 6h0m1-1h0m2 0h0m1 2h0m2 2h0m2-3h0m0-3h0m2 5h0m1 1h0m0-5h0m0 4h0m2 1h0m1-6h0m2-2h0m1 5h0m2-3h0m2 5h0m0 1h0m3 1h0m1-3h0m0 2h0m2 1h0m1-5h0m9 2h0m0 3h0m0 0h0m5-4h0m1 3h0m1-3h0m2 3h0m0-7h0m0 8h0m5-9h0m4 0h0m6 8h0m4-9h0m-286 12h0m2-1h0m3 6h0m9 1h0m0-2h0m0 2h0m1-7h0m3 6h0m0 1h0m2-6h0m0 6h0m3-1h0m1-3h0m0 5h0m0-5h0m2-4h0m2 6h0m1-2h0m1 2h0m0-2h0m0 4h0m1-7h0m1 5h0m1 1h0m0-4h0m0 1h0m1 5h0m2-7h0m0 6h0m0-1h0m1-4h0m1-1h0m0 2h0m0 3h0m1 2h0m0-1h0m1 2h0m0-1h0m2-5h0m1-2h0m1 6h0m2-7h0m1 0h0m0 3h0m0-4h0m0 3h0m0 5h0m1-4h0m0 5h0m1 1h0m0-8h0m1 6h0m0-1h0m0-2h0m1 2h0m0 2h0m0-5h0m1-2h0m1 5h0m0 3h0m0-10h0m1 5h0m1 3h0m0-7h0m0 4h0m1-1h0m0 6h0m1-6h0m0-2h0m1 6h0m0-4h0m0 3h0m1-6h0m0 2h0m1 2h0m0-4h0m0-1h0m0 6h0m1 2h0m1 2h0m0-3h0m1-5h0m1 2h0m0 5h0m2-1h0m0-7h0m1 7h0m0-6h0m1 0h0m0 6h0m0-8h0m1 3h0m0 2h0m2 0h0m0 2h0m0 0h0m1-3h0m0 2h0m0-5h0m1 0h0m0 2h0m1 5h0m0-1h0m1-5h0m0 0h0m0 3h0m0-3h0m1 7h0m0 0h0m1 0h0m0 0h0m2-3h0m0 4h0m1-2h0m0-4h0m1-1h0m0 2h0m1-2h0m1 6h0m1-3h0m1-6h0m0 7h0m1-2h0m0-1h0m0 0h0m0 3h0m1-7h0m0 3h0m1 6h0m0-1h0m1-6h0m1 2h0m0 2h0m0-2h0m2-3h0m0 2h0m0-2h0m0 5h0m1-6h0m0 9h0m2-4h0m1 4h0m0-2h0m1 2h0m1-5h0m0 4h0m0-4h0m1 0h0m3-1h0m0 3h0m0 2h0m2-3h0m0 1h0m0-5h0m1 1h0m0 1h0m3 1h0m1 0h0m0-3h0m1 4h0m0 5h0m0-4h0m0-2h0m1 1h0m0 2h0m0 1h0m1-5h0m0 3h0m1-5h0m0 0h0m0 8h0m0 1h0m1-6h0m0 1h0m0 1h0m0 1h0m1-5h0m1 2h0m0-3h0m0 2h0m1 3h0m0 3h0m0 0h0m0-1h0m0-6h0m1 3h0m0 2h0m0-2h0m1 2h0m0-2h0m1 2h0m0 2h0m1 0h0m2 0h0m0-4h0m0-3h0m0 8h0m1-7h0m2 2h0m1 1h0m1 2h0m0-3h0m0 3h0m1-2h0m0 2h0m2 2h0m1-3h0m0 0h0m0-5h0m1 7h0m0-7h0m0-2h0m2 7h0m0-6h0m0 1h0m3 6h0m1-2h0m1 1h0m0-2h0m0 4h0m0-8h0m1 7h0m1-7h0m1 3h0m0-3h0m1 0h0m1 3h0m1-1h0m0 4h0m1 3h0m0-2h0m1 0h0m0-1h0m0-1h0m1 2h0m0 2h0m0-2h0m1-7h0m0 4h0m1-2h0m0 7h0m1-8h0m1 4h0m1 0h0m0 1h0m1-1h0m0-4h0m1-2h0m0 8h0m1-1h0m0-2h0m3 2h0m1 3h0m0-4h0m1 1h0m0-6h0m1 5h0m0 0h0m0-3h0m1-2h0m0 3h0m1-1h0m1-1h0m1 5h0m0-3h0m1 3h0m0-7h0m0 6h0m1-5h0m2 1h0m2 8h0m1-4h0m0 3h0m1-1h0m0-2h0m1-1h0m1 2h0m0-4h0m1 4h0m1-6h0m2 0h0m0 1h0m0 5h0m1 0h0m1-5h0m0 1h0m1 4h0m1-1h0m1-1h0m0 2h0m0 0h0m1-6h0m2 5h0m0-1h0m1 2h0m0-6h0m2 3h0m1 4h0m0-8h0m1 7h0m1 0h0m1 1h0m0 2h0m1-6h0m0 5h0m0-1h0m1-3h0m1-5h0m0 4h0m0 4h0m2-5h0m0 4h0m2 3h0m0-9h0m1 0h0m0 0h0m1 1h0m0 8h0m0-2h0m1-3h0m1 5h0m0-8h0m0 6h0m1-3h0m1 2h0m1 1h0m0-3h0m1-3h0m0 0h0m1 3h0m1-1h0m0 2h0m0-1h0m1-1h0m1 4h0m0 0h0m1-6h0m1-2h0m0 6h0m0-4h0m1 3h0m1 0h0m0 4h0m0-4h0m1 4h0m0-1h0m0-8h0m1 0h0m0 2h0m0 5h0m2-2h0m1 1h0m0 0h0m0 1h0m1 3h0m0-8h0m0 5h0m6-4h0m4 1h0m1-4h0m0 7h0m2-6h0m2 5h0m2-5h0m1 1h0m3 0h0m3 4h0m2-5h0m0 3h0m2 2h0m2-3h0m1-1h0m0 6h0m0-7h0m3 7h0m2-2h0m1-5h0m2 5h0m5-2h0m9 1h0m0 2h0m10-2h0m8-3h0m-297 9h0m7 9h0m3 0h0m2-4h0m4-5h0m0 3h0m1 5h0m0-1h0m6-6h0m0 3h0m0 2h0m0-2h0m1 1h0m1 1h0m2-7h0m0 8h0m1-1h0m0-3h0m1 5h0m0-8h0m1 7h0m0 0h0m1-3h0m0-3h0m1 6h0m0-3h0m0-2h0m0 1h0m2 0h0m1-4h0m1 9h0m1-7h0m0-1h0m1 1h0m0 4h0m0-1h0m1-4h0m1 9h0m0-6h0m1 6h0m0-7h0m0 0h0m2-1h0m0 4h0m1 3h0m0-8h0m1 4h0m0-3h0m1 2h0m1-1h0m0 6h0m0-2h0m1 0h0m0-3h0m0-3h0m1 6h0m0-4h0m1-1h0m0 7h0m0-7h0m2 0h0m1 3h0m0-3h0m0-1h0m0 7h0m0-5h0m0 5h0m3-2h0m0 1h0m1 1h0m1-5h0m0-1h0m1 5h0m0-3h0m0-2h0m2-2h0m1 5h0m0 4h0m1-9h0m1 5h0m0-1h0m1-4h0m1 4h0m0 3h0m0-6h0m0 2h0m1-1h0m0 4h0m0-2h0m0 2h0m2-2h0m0 4h0m0 0h0m0 1h0m0-3h0m1 1h0m0-3h0m0 1h0m1-4h0m1 8h0m1-4h0m1 2h0m0-4h0m0 7h0m0-4h0m0-4h0m2 3h0m1-1h0m2-2h0m1 4h0m1-5h0m0 1h0m1 3h0m1 0h0m0 1h0m0 3h0m1-4h0m0-5h0m1 5h0m0 4h0m0 0h0m1-3h0m0 3h0m0-6h0m1 6h0m0-1h0m0-1h0m0-2h0m1-3h0m0 3h0m0-4h0m2-1h0m2 1h0m0 2h0m0 3h0m1 3h0m1-1h0m0 1h0m1-9h0m1 7h0m1 0h0m1 0h0m0-4h0m1 6h0m0 1h0m0-9h0m1 3h0m0 3h0m1-3h0m1 4h0m0-1h0m0-6h0m0 2h0m0 4h0m1 0h0m0-1h0m1-3h0m1 1h0m0-3h0m1 3h0m1 5h0m1-5h0m0-1h0m1 2h0m1 1h0m0 1h0m0 1h0m0-6h0m0 8h0m1-3h0m0 0h0m0-5h0m0 1h0m0 5h0m2-1h0m0-2h0m1 5h0m0-7h0m2 4h0m0-2h0m0 5h0m1-6h0m0 1h0m0 1h0m4-1h0m0 1h0m1-4h0m0-1h0m0 9h0m1-9h0m1 1h0m1 1h0m2-3h0m0 9h0m0-7h0m2-2h0m0 2h0m1 6h0m1-4h0m1-3h0m0-1h0m1 2h0m0 0h0m1 0h0m1 1h0m1-2h0m1 9h0m0-8h0m0 1h0m1-1h0m1 2h0m0 1h0m0 0h0m0 4h0m1 0h0m0-8h0m0 0h0m0 8h0m0-6h0m1-2h0m0 4h0m1-1h0m0 0h0m1 5h0m0-2h0m0-7h0m1 8h0m0-1h0m1-6h0m0 5h0m1-3h0m0 7h0m0-7h0m1 4h0m0-4h0m2-2h0m0 1h0m0 2h0m0-1h0m2-2h0m1 1h0m0 5h0m0-4h0m1-2h0m0 0h0m0 4h0m2-1h0m1 3h0m1-1h0m0-4h0m2-2h0m0 7h0m1-2h0m1 3h0m1-1h0m1-7h0m1 6h0m0-1h0m1 5h0m1-4h0m1 3h0m0-5h0m1-3h0m0 8h0m0-9h0m0 9h0m1 0h0m0-2h0m1-2h0m0 2h0m1 2h0m0-2h0m2-2h0m0-5h0m2 4h0m1 2h0m1-4h0m1 7h0m1-9h0m0 6h0m0-5h0m1 3h0m0-1h0m0-3h0m0 7h0m1 1h0m1-3h0m0-1h0m0-3h0m0 0h0m3 7h0m0-7h0m1 1h0m0 7h0m1-4h0m0 1h0m0-4h0m1 2h0m0 3h0m1-2h0m0-3h0m1 8h0m1-6h0m3 2h0m1 2h0m0-1h0m0-6h0m1-1h0m1 5h0m2 4h0m0-6h0m1 1h0m3 0h0m1-3h0m0 9h0m1-7h0m2 5h0m0-3h0m0 1h0m1 3h0m1-6h0m1 5h0m2-7h0m1 2h0m1 0h0m0-2h0m2 2h0m1-1h0m3-1h0m0 4h0m0 5h0m2-2h0m1-4h0m1 2h0m3-4h0m1 1h0m2-1h0m4-1h0m0 7h0m1-2h0m1 1h0m2-2h0m1 5h0m0-9h0m1 5h0m1-5h0m0 1h0m1 3h0m0 3h0m1-1h0m0 0h0m2-7h0m1 3h0m2-2h0m2 9h0m2-3h0m1-2h0m2 4h0m1-7h0m5 1h0m1 3h0m1 0h0m1 2h0m0-2h0m5-1h0m0-3h0m1 3h0m0-5h0m1 9h0m1-2h0m1-4h0m0 1h0m2 4h0m3-5h0m3 4h0m0 1h0m6-4h0m3 1h0m1 2h0m0-6h0m4 3h0m-286 7h0m11 5h0m0 1h0m1 2h0m1 0h0m4-8h0m1 1h0m0 2h0m4 4h0m0-2h0m0-6h0m0 2h0m0 2h0m1-1h0m1-1h0m3 2h0m0-3h0m1 9h0m2-2h0m1-3h0m1-3h0m2 8h0m1-9h0m0 1h0m1 3h0m0 2h0m4-5h0m0 5h0m1 2h0m2 1h0m1-9h0m1 2h0m0 2h0m1-5h0m0 4h0m0 1h0m1 2h0m1-7h0m0 0h0m0 6h0m1-3h0m0 6h0m1-9h0m0 9h0m0-5h0m0-3h0m0 4h0m1-2h0m1-1h0m2-1h0m0 8h0m1 1h0m0-2h0m0-3h0m0 4h0m0 1h0m3-8h0m0-1h0m1 4h0m1-2h0m1 4h0m1 0h0m0-6h0m0 6h0m1-2h0m0-4h0m0 3h0m0 0h0m1 3h0m0 1h0m1-5h0m1 2h0m0-1h0m1 1h0m1 5h0m0-5h0m1-5h0m1 7h0m1-2h0m1 2h0m0-5h0m1 6h0m0-1h0m0-5h0m1 7h0m0 1h0m0-10h0m1 1h0m1 6h0m0-3h0m0 5h0m1-1h0m0-2h0m0 3h0m0-4h0m0 2h0m1-5h0m0 7h0m1-7h0m0 1h0m1 0h0m0 0h0m0-1h0m0 2h0m1 4h0m0-5h0m0 1h0m1-3h0m1 2h0m0 5h0m0-6h0m1 6h0m0-1h0m0 3h0m1 0h0m1-6h0m1-1h0m0 3h0m0-5h0m1 6h0m0-5h0m1 3h0m1-2h0m0 1h0m1 2h0m0-6h0m1 10h0m1-1h0m0 1h0m1-3h0m0-1h0m0-3h0m1 6h0m0-4h0m0 3h0m1-1h0m0 2h0m0-6h0m0-2h0m1 4h0m0-1h0m0 6h0m1 0h0m1-2h0m1-6h0m0-2h0m0 9h0m0-4h0m1 4h0m0-3h0m2-1h0m1 4h0m0 0h0m0-9h0m1 2h0m0 6h0m0-7h0m1 2h0m0 7h0m1-9h0m0 0h0m0 7h0m0-1h0m0-3h0m1-1h0m1-1h0m0 0h0m1-1h0m1 1h0m0 6h0m1-5h0m1-3h0m1 4h0m1-2h0m1 2h0m0-4h0m1 1h0m0 8h0m0-5h0m0 2h0m0-5h0m1 2h0m0 4h0m1-6h0m0 9h0m0-10h0m0 3h0m1 7h0m0-8h0m1 3h0m1-1h0m1 0h0m0 2h0m0-4h0m1 8h0m0-8h0m0 0h0m1 0h0m0 4h0m1-2h0m0-1h0m0 0h0m2 1h0m1-1h0m3 0h0m1 6h0m0-6h0m0 3h0m0-4h0m1 2h0m1 2h0m0-6h0m0 4h0m1 0h0m1-1h0m1 0h0m0 2h0m1 4h0m1-6h0m1 6h0m1 0h0m2-6h0m0 7h0m1-1h0m1-8h0m1 0h0m2-1h0m0 2h0m1 1h0m0 2h0m1-4h0m2 2h0m1-3h0m0 0h0m0 7h0m1-1h0m0-5h0m0 1h0m0 0h0m0 3h0m1-1h0m0 3h0m1-3h0m0-3h0m1 0h0m1 5h0m1-5h0m0-1h0m2 3h0m0 6h0m2-2h0m0-2h0m0 2h0m1-1h0m0-3h0m0-1h0m0-1h0m5 5h0m1-2h0m2-1h0m0 2h0m2-3h0m1 4h0m1 0h0m1-3h0m0 1h0m1 4h0m0 0h0m1-4h0m0-2h0m1 0h0m3 5h0m0-4h0m2-3h0m2 1h0m1 3h0m1 6h0m3-3h0m0-7h0m1 6h0m1-5h0m1 8h0m1 0h0m1-4h0m1 1h0m0 2h0m1-7h0m0 8h0m1-4h0m3-1h0m2 2h0m0 2h0m1-3h0m1-4h0m2 8h0m1-6h0m1 3h0m1-4h0m3 3h0m0 4h0m2-5h0m0 3h0m2 1h0m1-1h0m1-7h0m2 4h0m0 0h0m3 4h0m0 1h0m2-8h0m3 6h0m0-5h0m2-2h0m0 0h0m1 7h0m1-1h0m1-3h0m0 6h0m1-6h0m1 1h0m6 5h0m1-5h0m2 0h0m1 6h0m0-4h0m1-6h0m1 2h0m1 3h0m1 4h0m0 0h0m0 0h0m2-1h0m0-5h0m0 0h0m8 2h0m1 3h0m2-6h0m3 1h0m0 4h0m0 2h0m2-7h0m6-1h0m0 4h0m0 5h0m2-3h0m1-6h0m2 0h0m0 3h0m8 4h0m1-3h0m10 2h0m8 0h0m-293 12h0m9 1h0m1-2h0m2-4h0m2-2h0m0 4h0m4 4h0m1-6h0m0 0h0m0 0h0m3 0h0m0 0h0m1-2h0m1 1h0m0 2h0m0 3h0m1 0h0m2-5h0m0 4h0m0-6h0m1 2h0m0 6h0m2-9h0m1 4h0m0-1h0m1-1h0m2 4h0m0-1h0m4 2h0m2 1h0m0-5h0m1 3h0m1 4h0m0-1h0m1-5h0m0 4h0m1-6h0m0 6h0m2 0h0m1-6h0m0 8h0m1-9h0m1 0h0m1 2h0m0-1h0m1 1h0m1 3h0m0 3h0m0-7h0m1 0h0m5 4h0m0 0h0m1-1h0m1 2h0m0 3h0m2-3h0m1-2h0m1 4h0m4-2h0m2 1h0m2-6h0m1 4h0m1 3h0m0-3h0m1-3h0m1 1h0m2-3h0m3 0h0m0 3h0m2-3h0m0 8h0m1 0h0m0-8h0m1 4h0m0 4h0m1-6h0m3 6h0m1-9h0m0 10h0m0-4h0m2 1h0m3-7h0m1 1h0m0-1h0m0 9h0m1-5h0m0-1h0m0 2h0m1-5h0m0 8h0m0-8h0m0 3h0m0 2h0m1 2h0m1-3h0m0 2h0m2-5h0m2 8h0m2-6h0m2 2h0m0-4h0m1 8h0m1-9h0m0 1h0m1-1h0m0 10h0m0-1h0m1-4h0m0 2h0m0-6h0m1 2h0m1-3h0m1 9h0m1-6h0m0 6h0m1-2h0m2 0h0m1-7h0m1 3h0m1 2h0m0-4h0m1 6h0m1 1h0m2-2h0m3-2h0m2 0h0m0 5h0m1-7h0m0 5h0m0-3h0m1-2h0m1 2h0m2-3h0m2 4h0m1-1h0m4 3h0m0-1h0m1-5h0m4 1h0m0 5h0m1-5h0m1-2h0m0 9h0m0-7h0m4 5h0m2 2h0m0-7h0m5-1h0m1 1h0m1 5h0m1-1h0m0-3h0m1 6h0m1-4h0m2-5h0m3 5h0m0 2h0m1 0h0m0-2h0m0-2h0m3 7h0m2-8h0m1 7h0m0-4h0m0 0h0m2-3h0m3 2h0m1-2h0m0 4h0m0-3h0m7-2h0m3 4h0m0 2h0m1-4h0m3 7h0m0-1h0m4-4h0m0-3h0m1 2h0m2-1h0m0 5h0m3 0h0m0-8h0m2 9h0m0-6h0m1 6h0m0 1h0m0 0h0m1-6h0m1 5h0m3-7h0m1-1h0m1-1h0m3 3h0m0 6h0m1-2h0m4-3h0m5 1h0m1 4h0m0-9h0m0 4h0m1 3h0m4-3h0m0-4h0m2 5h0m1-4h0m1 9h0m0-8h0m1 7h0m0-2h0m5 1h0m5 2h0m2-7h0m0-1h0m1-1h0m1 6h0m0 1h0m4-4h0m2 1h0m3 5h0m0-6h0m1 0h0m1-1h0m6-3h0m2 9h0m2 0h0m2-4h0m2 2h0m12-4h0m1 0h0m-274 8h0m2 6h0m2-3h0m2 0h0m1 0h0m2-2h0m4-1h0m2-1h0m1 5h0m3 0h0m2 5h0m3-6h0m2 0h0m1 2h0m1 0h0m0-3h0m0-2h0m2 0h0m3 1h0m1 5h0m0-5h0m0-1h0m1 5h0m1-4h0m2-1h0m2 4h0m0-3h0m1 1h0m1 3h0m0 0h0m3 3h0m0-3h0m3 4h0m0-10h0m1 9h0m1-7h0m2 7h0m2-3h0m1-4h0m2 5h0m1-4h0m0-1h0m1 5h0m0-4h0m1 0h0m1 0h0m1 2h0m0 4h0m3 0h0m1-7h0m1-2h0m0 0h0m0 8h0m1-2h0m1 0h0m2 3h0m0-6h0m1 5h0m0-8h0m2 2h0m1 5h0m0-1h0m2-4h0m1 5h0m0-1h0m2-3h0m1 5h0m4-4h0m1-3h0m2 4h0m1-5h0m0 4h0m1 1h0m1 5h0m1-9h0m7 5h0m3 2h0m0-7h0m1 0h0m1 3h0m3-1h0m0-3h0m3 3h0m1-2h0m0 6h0m4-4h0m6 3h0m0 0h0m1 2h0m5 0h0m1-7h0m1 7h0m1-8h0m1 0h0m0 9h0m1-2h0m1-5h0m4 6h0m3-7h0m1 3h0m2-2h0m0-1h0m4 7h0m5-4h0m4 4h0m1 0h0m2-1h0m3-1h0m0-4h0m1 2h0m1-1h0m4 0h0m0 5h0m2-6h0m2-1h0m0 1h0m0 1h0m2 3h0m4 3h0m0-6h0m0-2h0m2 4h0m5-5h0m2 4h0m2-3h0m3 2h0m0 3h0m0-1h0m1-2h0m1-1h0m1-2h0m0 3h0m4 2h0m0-4h0m3 7h0m0-3h0m0-5h0m1 3h0m3 6h0m7-1h0m3-4h0m2-3h0m3 0h0m2 5h0m4 4h0m4-1h0m0-4h0m3-5h0m2 4h0m2 0h0m4 4h0m2-5h0m7 0h0m1 0h0m-241 16h0m7 0h0m7-5h0m8 0h0m8 5h0m0-6h0m12-1h0m1-1h0m2 6h0m2-2h0m4-4h0m0 3h0m2 2h0m0-3h0m0 6h0m1-2h0m0 1h0m1-7h0m1-1h0m2 4h0m5 1h0m10 4h0m2-2h0m2-2h0m1 2h0m2 0h0m6-1h0m28 2h0m2 1h0m2-3h0m1 2h0m6-1h0m0-3h0m7 3h0m8-6h0m2 7h0m0-5h0m4-2h0m7 5h0m1-4h0m2 0h0m0-2h0m4 3h0m1 6h0m9-7h0m4-1h0m1 1h0m0 0h0m1 6h0m2-7h0m4 5h0m5-5h0m5 0h0m0 2h0m1 0h0m1-1h0m1 4h0m1-3h0m2 3h0m0-4h0m3 0h0m1 2h0m0-3h0m24 4h0m-186 7h0m3-1h0m1 1h0m13-2h0m23 1h0m20 0h0m8 1h0m0 2h0m24-3h0m9 6h0m11-4h0m91 1h0m5-2h0m-181 9h0m41 3h0" stroke="#f49e48" stroke-width="1.8" stroke-linecap="round" fill="none"/><path d="M1446 142h0m4 7h0m-20 8h0m5 2h0m7 0h0m3-3h0m12-2h0m13-3h0m31 5h0m-60 5h0m4 8h0m0-3h0m12-1h0m4-5h0m12 8h0m10-6h0m6 7h0m3 1h0m5-1h0m4-2h0m-66 9h0m3-5h0m1 8h0m1-8h0m4 5h0m3-3h0m11 2h0m10 2h0m7-7h0m22 10h0m13-3h0m-93 7h0m7-2h0m17 4h0m9 1h0m3-3h0m11 2h0m24-1h0m2 2h0m1-3h0m2-4h0m3 1h0m7 4h0m4-4h0m6 0h0m-105 18h0m2-3h0m17-5h0m3 7h0m1-6h0m5 5h0m5-6h0m11 2h0m2 0h0m2-1h0m1 7h0m18-5h0m3 4h0m2 0h0m6 2h0m9-5h0m18 1h0m2-6h0m8 8h0m7 2h0m7-3h0m5 2h0m-132 1h0m14 9h0m7 0h0m7-8h0m5-1h0m2 1h0m3 3h0m14 1h0m8 5h0m1-9h0m4 8h0m8-3h0m1 1h0m9-2h0m10-1h0m5 2h0m11-4h0m3 0h0m2 6h0m4 1h0m6-3h0m5-6h0m2 4h0m17 1h0m-177 12h0m24 0h0m14-1h0m6-1h0m6-3h0m8 6h0m2-1h0m0 3h0m0 0h0m4-9h0m14 3h0m5 5h0m1-9h0m6 2h0m5-2h0m7 7h0m1 3h0m5 0h0m0-6h0m2-2h0m3 3h0m2 5h0m0-3h0m20 0h0m4 1h0m6-3h0m4-3h0m2 3h0m7-4h0m4 3h0m1-1h0m7 0h0m11 5h0m0-2h0m8 2h0m0-1h0m-190 9h0m2-6h0m10 8h0m3-8h0m3 10h0m3-3h0m1-1h0m11 0h0m2 4h0m1-3h0m3 2h0m2 0h0m3-6h0m1 5h0m4-5h0m4 1h0m9 1h0m3 0h0m2-4h0m2-1h0m2 0h0m2 5h0m1 0h0m3 2h0m5-5h0m1 7h0m1 1h0m2-5h0m5-5h0m1 2h0m1 5h0m1 2h0m1-3h0m3-3h0m1 4h0m1 2h0m0 0h0m15-3h0m2-3h0m2-1h0m1 3h0m8 1h0m4-5h0m2 3h0m0-3h0m1 2h0m1 1h0m2-3h0m8 1h0m2 4h0m4-1h0m4 4h0m1-5h0m8 2h0m3 1h0m5-5h0m0 0h0m7 1h0m3 0h0m7 0h0m-195 13h0m10 3h0m2 0h0m1-5h0m6-3h0m5 4h0m0 1h0m6 4h0m9-8h0m6 3h0m3-4h0m1 3h0m5-2h0m10-1h0m2 2h0m3 2h0m3-1h0m1 2h0m0-5h0m2 4h0m5-2h0m4 6h0m1-8h0m1 1h0m3-2h0m1 9h0m5 0h0m0-7h0m3-1h0m1 0h0m1 3h0m1-4h0m3 8h0m5-5h0m1 5h0m0-5h0m0 6h0m2-1h0m5-4h0m16-1h0m4-1h0m5 3h0m0 5h0m3-4h0m14 3h0m2-5h0m2 0h0m5 3h0m0-3h0m5 5h0m5-6h0m0 7h0m5 0h0m18-3h0m1 0h0m-218 13h0m0-5h0m5 1h0m6 0h0m5-4h0m9 1h0m2 2h0m4 1h0m6 2h0m1 0h0m4-2h0m0-1h0m5-2h0m0 1h0m6 0h0m4 1h0m4 1h0m2-1h0m1 1h0m0-3h0m1 5h0m5 2h0m4-4h0m2 4h0m1-8h0m2 2h0m2-2h0m0-1h0m1 5h0m5 1h0m2-2h0m1 3h0m0-3h0m3-4h0m5 8h0m4-5h0m0-4h0m5 5h0m6 4h0m1-2h0m0 2h0m1-2h0m1-5h0m1 1h0m4 1h0m1-3h0m4 9h0m2-5h0m0 3h0m1-8h0m5 3h0m0 4h0m1 1h0m2-4h0m1-4h0m2 0h0m0 7h0m1 2h0m0-6h0m5-2h0m4 2h0m5 7h0m2-9h0m1 4h0m5 4h0m2-3h0m1 4h0m2-9h0m1 6h0m3-2h0m2-4h0m1-1h0m4 10h0m6-7h0m1-3h0m8 8h0m5-4h0m4 6h0m2-9h0m1 9h0m0-1h0m8-3h0m9 1h0m7-1h0m4-4h0m8 3h0m-245 6h0m7 0h0m7 8h0m0-1h0m1-7h0m7 3h0m1-1h0m2 4h0m1 1h0m2-6h0m1-1h0m1 4h0m7 2h0m4-4h0m3 7h0m2 0h0m1-1h0m0-1h0m1 0h0m5-4h0m1 6h0m6-5h0m3 1h0m0-6h0m4 8h0m1-5h0m2-3h0m2 7h0m4 0h0m0-4h0m9 3h0m2 3h0m1 1h0m4-8h0m2 3h0m1 5h0m3-8h0m1 7h0m1-8h0m1 3h0m0 4h0m0-2h0m1-5h0m0 6h0m1-1h0m1-5h0m3 8h0m3 0h0m4-4h0m0-3h0m0 5h0m2 3h0m1-9h0m1 7h0m5 0h0m4-4h0m3 5h0m6-1h0m5 1h0m9-1h0m4 0h0m1-3h0m2 2h0m1 0h0m0-3h0m1-1h0m3 6h0m1-3h0m0-2h0m1-1h0m1 2h0m1-5h0m1 3h0m0 3h0m3-3h0m0 6h0m1-5h0m2-1h0m2 1h0m1 1h0m0 0h0m7-3h0m2 4h0m1-1h0m0 0h0m2-1h0m11-1h0m0 3h0m1-5h0m3 4h0m8-4h0m3 2h0m3 6h0m11-4h0m29 1h0m-261 13h0m1 1h0m4-5h0m0 0h0m2-2h0m0 6h0m1-7h0m1-2h0m0 4h0m2 4h0m2-1h0m1 1h0m1-2h0m1-1h0m5 4h0m1-1h0m0 0h0m1-5h0m7 1h0m2 2h0m1 0h0m4 0h0m3-4h0m2 4h0m0 1h0m1-3h0m5 4h0m0-3h0m1-4h0m0 2h0m4-3h0m6 3h0m0-3h0m0 1h0m2 2h0m1-2h0m1 3h0m1 5h0m2-2h0m3 2h0m3-2h0m1-1h0m0 0h0m1 3h0m3-3h0m3-4h0m1 1h0m1-1h0m0 0h0m4 7h0m2-2h0m0-3h0m1-3h0m1 4h0m6 0h0m1 2h0m2-5h0m1 5h0m3-1h0m2 3h0m1-7h0m3 7h0m0-5h0m4 5h0m2-4h0m1 2h0m1-3h0m0-1h0m2-1h0m1 1h0m2 2h0m1 5h0m0-5h0m2-3h0m2 0h0m2 6h0m1-4h0m0 1h0m0 4h0m0-4h0m1-1h0m3 1h0m2 4h0m5-6h0m0-1h0m2 6h0m0-1h0m4-4h0m1 2h0m4-1h0m3-4h0m1 7h0m1-2h0m0 3h0m1-1h0m2-7h0m3 9h0m3-3h0m3-3h0m2 5h0m2 0h0m0 0h0m4 0h0m2-3h0m0 3h0m3-3h0m6-5h0m2 4h0m0 2h0m6-4h0m2 6h0m3 1h0m11-2h0m6 3h0m1-3h0m17 0h0m11 2h0m5-3h0m4-3h0m-257 11h0m10 4h0m2-7h0m5 3h0m1 0h0m2-2h0m1-1h0m0-1h0m2 6h0m3-1h0m1 1h0m5 3h0m0 0h0m5-4h0m3 5h0m4-8h0m1-1h0m2-1h0m1 5h0m2 3h0m2-6h0m1 5h0m0-4h0m3 3h0m2 3h0m0-9h0m1 0h0m1 7h0m2-1h0m0-6h0m14 5h0m0-3h0m1 3h0m8 4h0m1-1h0m1-5h0m2 7h0m4-10h0m1 3h0m1 1h0m1-1h0m1 5h0m1-4h0m3 2h0m4 3h0m1-9h0m0 0h0m2 7h0m3-1h0m2-3h0m1 3h0m1 0h0m1-5h0m4 7h0m2 1h0m3-1h0m0-7h0m3 4h0m4 2h0m4 2h0m4-7h0m2 2h0m3-4h0m1 8h0m4-4h0m1-1h0m4 5h0m1 1h0m3-3h0m0-6h0m1 3h0m1 6h0m0-2h0m1-3h0m2 3h0m0 1h0m1 1h0m2-5h0m2 5h0m2-1h0m0-3h0m0 2h0m1 0h0m0-6h0m2 2h0m3 3h0m1-2h0m0 1h0m1-5h0m2 7h0m2 0h0m0 1h0m3-3h0m0 0h0m2 0h0m0 4h0m6-7h0m4 1h0m2 1h0m9 2h0m1 0h0m2-4h0m1 3h0m0-2h0m0-2h0m1 9h0m1-5h0m3 1h0m1-5h0m15 6h0m4 1h0m3 0h0m4 1h0m2-1h0m14-7h0m0 2h0m1 0h0m5-2h0m1 4h0m-277 10h0m16 1h0m0 1h0m1-3h0m2 3h0m1 0h0m6-1h0m5 3h0m1-7h0m1 7h0m2-9h0m1 5h0m0-3h0m0-1h0m2 0h0m1 2h0m1 2h0m0 1h0m1-4h0m2 8h0m2-2h0m5-4h0m2 5h0m0-6h0m1-1h0m0 4h0m0 3h0m1-2h0m1-2h0m0-1h0m1 5h0m2-6h0m0 0h0m0-3h0m2 7h0m2-3h0m1 6h0m1-1h0m1-8h0m4 8h0m1-2h0m2 0h0m3-6h0m0 2h0m3 1h0m0 5h0m2-9h0m1 1h0m1 2h0m2-1h0m1 2h0m1-1h0m1-1h0m7 1h0m1 6h0m0-5h0m2 5h0m0-3h0m3 1h0m0-1h0m2-1h0m0 4h0m2-8h0m1 3h0m1 0h0m3-3h0m1 5h0m0 3h0m4-4h0m2-4h0m1 0h0m1-1h0m0 2h0m0 5h0m3-4h0m0 1h0m1-2h0m0 6h0m2-3h0m2-3h0m0 6h0m4-1h0m1-7h0m4 8h0m2-2h0m2-6h0m1 4h0m0 1h0m1-4h0m1 8h0m1-6h0m0 5h0m2-2h0m1-3h0m3 7h0m1 0h0m1-6h0m2 2h0m4 3h0m0-2h0m1-6h0m0 0h0m3 8h0m0-5h0m5 5h0m0-1h0m1 0h0m2 1h0m0-2h0m1 0h0m1-4h0m0 2h0m1-2h0m2 1h0m0-2h0m1 7h0m1-3h0m2 4h0m0-10h0m2 5h0m1 0h0m0-1h0m1 2h0m1 4h0m2-3h0m3-4h0m4-2h0m0 3h0m0 4h0m0 2h0m4-10h0m2 9h0m0-4h0m9 0h0m1-4h0m2 5h0m0-3h0m0 4h0m2-2h0m3 3h0m3-7h0m6 5h0m6-1h0m3-4h0m1-1h0m5 9h0m5-2h0m7 3h0m3-5h0m5-2h0m2 3h0m0 1h0m34-4h0m0 2h0m-292 5h0m2 3h0m1 1h0m1 1h0m6 2h0m1-3h0m1-2h0m3-1h0m2 5h0m1-6h0m1 7h0m4-1h0m2-5h0m0 9h0m0-4h0m1 1h0m3-7h0m1 6h0m3 2h0m2-2h0m0 2h0m3-4h0m3 6h0m2-1h0m1-9h0m1 0h0m3 1h0m0 6h0m2-3h0m1 3h0m1-2h0m2 3h0m2-7h0m2 1h0m0 0h0m2 5h0m2-5h0m0 1h0m0 2h0m0 1h0m2 2h0m0-1h0m1-4h0m1 2h0m5 4h0m0-2h0m0-1h0m2-3h0m2 6h0m1-2h0m0-4h0m2 3h0m1 1h0m1 1h0m1-7h0m1 6h0m1-7h0m1 4h0m1-1h0m2 0h0m2 0h0m0 5h0m0 2h0m1-5h0m0 0h0m3 1h0m0-5h0m1 7h0m3 1h0m0-1h0m1 0h0m1-6h0m0 1h0m3 6h0m1-7h0m1 6h0m2-7h0m1 2h0m0 3h0m2 2h0m0-5h0m0-2h0m4 5h0m3-4h0m1 7h0m0-8h0m0 8h0m2 0h0m4-6h0m0 6h0m2-9h0m3 1h0m3 6h0m0-6h0m1 0h0m1 4h0m0-1h0m1 4h0m0-8h0m1 2h0m0 3h0m0-1h0m2 0h0m1-2h0m1 4h0m1 1h0m2-3h0m1 1h0m1-1h0m0 3h0m1-4h0m0 7h0m1-1h0m0 0h0m1-4h0m2 3h0m2-3h0m1 1h0m1-2h0m3-3h0m3 4h0m0 1h0m2 1h0m0-5h0m1-1h0m3 1h0m1 2h0m0 1h0m0 4h0m2-3h0m0 0h0m2-4h0m0 5h0m2-3h0m0 4h0m2-3h0m0-4h0m1 1h0m0-1h0m1 5h0m0 2h0m0-1h0m1 3h0m0-9h0m0 8h0m0-5h0m1-2h0m1 2h0m1 0h0m1 3h0m0 3h0m0-2h0m1-4h0m0 3h0m1-6h0m0 6h0m2-3h0m0 2h0m1 4h0m0-2h0m1-3h0m3 1h0m1 3h0m0-4h0m0-2h0m0-3h0m2 8h0m0-1h0m0-5h0m5 6h0m1 1h0m1-8h0m1 1h0m1 0h0m7 6h0m0 0h0m1 2h0m0-2h0m4-2h0m1-4h0m4 5h0m0-2h0m1-1h0m1 0h0m0 3h0m0 2h0m2-7h0m4 2h0m0-1h0m7-1h0m0 0h0m1-1h0m3 6h0m4-2h0m2 5h0m1-9h0m6-1h0m3 3h0m2 0h0m4 6h0m15-7h0m2-2h0m6 4h0m1 5h0m0-5h0m4 5h0m3 0h0m10 0h0m-294 5h0m4-1h0m0-1h0m6 2h0m1 1h0m1 2h0m1-1h0m1-1h0m2 0h0m2 0h0m0-5h0m0 4h0m3 0h0m1-2h0m1-2h0m1 6h0m2-2h0m2-2h0m3 8h0m2-10h0m1 6h0m0 3h0m0 0h0m0-5h0m1-4h0m0 2h0m1 4h0m0 4h0m1-2h0m1-2h0m0 1h0m0-2h0m1-3h0m1 6h0m1-2h0m0 3h0m1-2h0m0-5h0m0 4h0m5-3h0m0 6h0m0-3h0m0-2h0m0 3h0m3-1h0m1-6h0m1 7h0m0-5h0m0 0h0m0 5h0m0 2h0m1-8h0m1 9h0m1-5h0m1 0h0m2-3h0m0 7h0m0-2h0m0 2h0m1 0h0m0 1h0m0-8h0m1 4h0m0-1h0m1 0h0m0 2h0m0-7h0m0 1h0m2 2h0m0 0h0m1 0h0m0 1h0m1 0h0m0 5h0m0-4h0m0 2h0m1 0h0m0 0h0m0-1h0m1-6h0m1 9h0m0-4h0m1 4h0m1 0h0m1-3h0m0-4h0m1 4h0m1-6h0m0 2h0m3 2h0m2 0h0m0 4h0m1-6h0m1-1h0m0 7h0m0 0h0m2-2h0m0 2h0m1-5h0m0 4h0m1-5h0m1 0h0m1 7h0m0-6h0m1 3h0m0-3h0m0 1h0m1 2h0m0 1h0m0 1h0m1-3h0m1 1h0m0 2h0m2-2h0m0-1h0m0-2h0m0-3h0m1 3h0m1-3h0m0 0h0m1 9h0m1 0h0m0-8h0m0-1h0m0 5h0m0 1h0m1-5h0m1 5h0m0-4h0m1-1h0m1 9h0m2-6h0m0-2h0m1 1h0m0 5h0m0 1h0m2-3h0m0-4h0m0 1h0m1 4h0m0-2h0m1 4h0m1-5h0m0 2h0m1-5h0m1 3h0m0 1h0m0-3h0m1 2h0m0-1h0m1 4h0m0-3h0m1 0h0m2 1h0m0 2h0m2-5h0m0-1h0m0 3h0m1 5h0m1-4h0m1-2h0m1 5h0m0-3h0m0-2h0m1 0h0m0 1h0m1 4h0m0-4h0m1-2h0m0-1h0m0 5h0m1 4h0m1-1h0m0-4h0m0 0h0m0 2h0m1-4h0m1 4h0m1 3h0m0-4h0m0-4h0m0 7h0m1-1h0m0-1h0m0-4h0m1 2h0m0-1h0m1-2h0m0 7h0m1 1h0m0-4h0m1 0h0m1 3h0m1 0h0m0 0h0m0 0h0m1-3h0m0 2h0m0 2h0m0-2h0m1-3h0m0 4h0m0-7h0m0 0h0m0 3h0m1-3h0m1 2h0m0 6h0m0-3h0m0 2h0m1-3h0m0 0h0m0-6h0m0 1h0m0 3h0m2-2h0m0 1h0m1 6h0m1-4h0m0 3h0m2-5h0m0 1h0m1 4h0m0 2h0m1-4h0m0-3h0m3 4h0m2-3h0m0 4h0m0-6h0m1 3h0m1 1h0m0 0h0m1 1h0m0 0h0m0 3h0m3-9h0m0 1h0m2-1h0m1 2h0m0 2h0m1 4h0m0-4h0m2 2h0m0 3h0m1-2h0m2-3h0m2 0h0m0-2h0m1-2h0m1-1h0m1 1h0m1 3h0m0 0h0m1-3h0m2 8h0m0-1h0m0 0h0m2 0h0m2-6h0m3 8h0m0-8h0m2 2h0m3 3h0m0-1h0m4 0h0m1-3h0m0-3h0m2 4h0m2 2h0m0-4h0m2 1h0m1 6h0m0-4h0m2-5h0m3 8h0m0-7h0m3 0h0m1 8h0m1-5h0m4 5h0m0-5h0m1 5h0m1-1h0m1-6h0m0 7h0m4-8h0m1 9h0m5-3h0m3 0h0m3 2h0m1-6h0m5 0h0m6-1h0m3 3h0m4-4h0m2 3h0m7 1h0m1-1h0m3 1h0m2 2h0m2-4h0m7 2h0m4 2h0m2 1h0m2-2h0m3 1h0m4-4h0m0 5h0m11-5h0m-300 14h0m0 2h0m11 0h0m0 0h0m1-2h0m0 3h0m1-1h0m0-6h0m0 5h0m0-1h0m2 0h0m0 0h0m0-1h0m2-1h0m2 0h0m2-1h0m0 3h0m1-2h0m0-2h0m1 0h0m2 0h0m2 6h0m1-6h0m0 5h0m0-5h0m1 1h0m0 6h0m1 0h0m0-4h0m1 0h0m0 1h0m1-2h0m0 4h0m1-1h0m0-7h0m0 9h0m0-9h0m1 1h0m0 5h0m1-1h0m0 0h0m1-5h0m1 3h0m0 5h0m1-6h0m1 5h0m1-7h0m0 9h0m0-9h0m1 8h0m2 1h0m0-2h0m0 1h0m1-1h0m1 1h0m0-5h0m0 1h0m1 2h0m0-2h0m0 5h0m0-5h0m0-2h0m0-3h0m1 1h0m1 4h0m0-5h0m2 9h0m0-2h0m0-5h0m1 5h0m1-3h0m2-4h0m2 5h0m1 5h0m0-4h0m2 1h0m1-1h0m0-3h0m0 5h0m1-8h0m0 7h0m2 1h0m1-7h0m3 6h0m0-5h0m2 6h0m0-5h0m0 0h0m0 2h0m0-1h0m1-1h0m0 3h0m1-4h0m0 6h0m1-8h0m0 4h0m0 3h0m1-2h0m0-1h0m1 0h0m0 3h0m1-5h0m1 2h0m0 4h0m0-2h0m1-5h0m1 4h0m1 4h0m0-8h0m0-1h0m0 0h0m1 4h0m0-3h0m1 9h0m1-6h0m0 1h0m0 4h0m0-5h0m1-3h0m0 1h0m0 7h0m0-7h0m1 0h0m0 5h0m0 2h0m2-6h0m1 4h0m1 3h0m0-5h0m1-5h0m2 9h0m1-8h0m0 1h0m0 7h0m1-4h0m1-4h0m2 6h0m0-3h0m0-3h0m1 3h0m0 5h0m0-5h0m1-3h0m3 0h0m0 0h0m0 6h0m1 2h0m0-3h0m1 1h0m0-6h0m0 4h0m0-4h0m1 5h0m1 3h0m0 1h0m0-2h0m0-3h0m0-2h0m1 1h0m0 2h0m0-4h0m0 3h0m0-5h0m0 8h0m1-3h0m0 1h0m0 1h0m0-7h0m1 7h0m0-4h0m0 3h0m0-3h0m1 0h0m1-3h0m0 7h0m0-1h0m0-1h0m0 2h0m1 1h0m1-6h0m0-2h0m2 2h0m0 6h0m0 2h0m0-4h0m1 2h0m0-6h0m0 7h0m0-5h0m1-4h0m0 9h0m0-5h0m0 4h0m3-1h0m0-5h0m0 4h0m0 4h0m1-8h0m0 6h0m0-2h0m0 2h0m1-8h0m0 7h0m0 2h0m1-2h0m0-4h0m2 0h0m2 2h0m0 4h0m1-8h0m2 9h0m1-7h0m0 2h0m3-4h0m0 9h0m0-9h0m0 7h0m0-2h0m0-3h0m0 3h0m1 2h0m0 1h0m0-3h0m0-2h0m1-1h0m1-1h0m0 4h0m1-2h0m0-1h0m0 5h0m1-7h0m2 4h0m0-3h0m0-1h0m1 6h0m1-3h0m1 6h0m1-6h0m0 4h0m0-1h0m1-3h0m1 6h0m0-7h0m3 7h0m0-1h0m0-5h0m2-1h0m0 0h0m1 2h0m1 5h0m0-4h0m0 4h0m1-8h0m2 7h0m0-6h0m2-3h0m0 4h0m0-4h0m1 9h0m0-6h0m1-1h0m0 6h0m1-6h0m1 7h0m1-2h0m0-1h0m0-5h0m0 7h0m0 1h0m0-6h0m1-1h0m1-1h0m0 8h0m1-8h0m0 9h0m1-4h0m1 3h0m0 0h0m1-2h0m0-6h0m2 8h0m2-3h0m1 4h0m0-3h0m0-5h0m4 8h0m0-9h0m2 1h0m1 8h0m1-5h0m0-3h0m0 0h0m1 4h0m1-4h0m1 2h0m0-2h0m1 1h0m1-2h0m1 9h0m2-1h0m0-7h0m0 1h0m1 6h0m1-7h0m1 6h0m1-6h0m0 3h0m0 3h0m2-5h0m0 0h0m1 1h0m0 4h0m0-2h0m1 1h0m1 0h0m1-2h0m0-2h0m0 5h0m0-3h0m1 4h0m0-2h0m1 2h0m0-8h0m0 8h0m0-1h0m1-1h0m0-3h0m1-2h0m0 4h0m0 4h0m0-6h0m1 5h0m0-3h0m1-4h0m1 5h0m2 2h0m1-4h0m0 2h0m0 2h0m0 0h0m1-4h0m0-4h0m0 0h0m2 5h0m1 3h0m0-8h0m2 6h0m2 2h0m1 1h0m0-9h0m1 5h0m0 0h0m2 1h0m1-6h0m1 6h0m0-4h0m1 4h0m1-5h0m2 2h0m1 5h0m1-2h0m4 0h0m1-7h0m1 0h0m1 9h0m2-1h0m2-4h0m0-4h0m4 9h0m5-8h0m1 2h0m1 3h0m2 3h0m0-9h0m3 4h0m3 4h0m1-3h0m1-5h0m4 6h0m6-5h0m0 2h0m6-2h0m4 5h0m1-3h0m2-2h0m6 4h0m4-2h0m6 4h0m3 2h0m1-1h0m-296 5h0m1 2h0m3 0h0m1 0h0m2-4h0m4 1h0m0 2h0m1-1h0m1 0h0m0-1h0m0 4h0m0 3h0m0-4h0m1-3h0m2-2h0m0 2h0m0 2h0m0-2h0m2 6h0m2-6h0m1-1h0m0 6h0m0 1h0m0-3h0m2-1h0m0 0h0m0-2h0m1-2h0m0 8h0m2 1h0m2-4h0m2 3h0m0-7h0m0 8h0m1-3h0m1-4h0m0-1h0m0 4h0m2 3h0m0-1h0m1-2h0m0-4h0m0 6h0m1 1h0m1-8h0m0 3h0m1 0h0m0 1h0m1 3h0m0 0h0m0-2h0m2-1h0m1 3h0m1-7h0m1 10h0m0-4h0m1-2h0m0 0h0m1-1h0m0 4h0m0 3h0m0-8h0m0 7h0m1-6h0m1-1h0m0 4h0m0-3h0m0 1h0m2 6h0m0-6h0m0-2h0m2-2h0m0 5h0m1 1h0m0-5h0m0 7h0m1-6h0m0 1h0m0-3h0m0 4h0m1 3h0m0-2h0m0-4h0m1-1h0m0 5h0m0 0h0m1 1h0m1-3h0m1-1h0m0 3h0m1 5h0m0-2h0m1-8h0m0 6h0m0 0h0m1-5h0m0-1h0m1 7h0m0-3h0m0 4h0m1 1h0m0-9h0m1 10h0m0-4h0m2-6h0m0 1h0m0 4h0m1 1h0m0 0h0m1-3h0m0 0h0m0 0h0m2 6h0m0-3h0m3 1h0m0 1h0m0-5h0m0-1h0m1 2h0m1 1h0m1-4h0m1-1h0m0 7h0m2-6h0m0 5h0m0-2h0m1 2h0m0-4h0m1 1h0m0 3h0m0 2h0m1-2h0m0 0h0m1 3h0m0-3h0m3-1h0m1-4h0m0-1h0m0 4h0m0 4h0m1-5h0m1 3h0m0-1h0m0 0h0m1 4h0m0-6h0m1-2h0m0 6h0m1-3h0m0 5h0m0-5h0m0-3h0m1 7h0m1-3h0m1 4h0m0-9h0m1 3h0m1 1h0m0 3h0m1-4h0m1 5h0m1 1h0m0 1h0m0-5h0m0 1h0m1-1h0m0 0h0m1-4h0m0 5h0m0 1h0m1 0h0m0-4h0m0 3h0m1 4h0m0-10h0m1 7h0m0 0h0m0-3h0m0-1h0m0 3h0m0-5h0m0 1h0m1 1h0m0 5h0m1-8h0m2 1h0m0 4h0m0 0h0m1 4h0m0-3h0m0-2h0m0-2h0m0 4h0m0-2h0m0 0h0m1-1h0m0 1h0m2 2h0m1 2h0m0-2h0m1-5h0m0 4h0m0-2h0m0 0h0m1 4h0m0-5h0m0 3h0m0 2h0m1 1h0m0-1h0m2-6h0m1 5h0m0-6h0m0 3h0m0-1h0m1 5h0m1 1h0m2-1h0m2-1h0m0 4h0m1-9h0m0 8h0m0-2h0m1-5h0m0 7h0m1 0h0m0-1h0m2-2h0m1-2h0m0 1h0m2-3h0m0 6h0m0-4h0m2-3h0m0 7h0m0-2h0m0-2h0m0 1h0m1-4h0m0 1h0m0 8h0m0-2h0m0-7h0m1 1h0m0 3h0m0-3h0m1 5h0m0-1h0m1 3h0m0 1h0m0 0h0m2-1h0m0-5h0m1 2h0m1-1h0m1 5h0m2-3h0m0-4h0m0 2h0m1-1h0m0 0h0m0-4h0m1 6h0m0-1h0m0-2h0m1 3h0m0 1h0m2-4h0m0 0h0m1 1h0m1 5h0m1 0h0m0-1h0m1 0h0m0-6h0m1 2h0m0 3h0m0-3h0m1 3h0m1-3h0m0 2h0m1-1h0m0-1h0m2 0h0m0 3h0m1 2h0m0-8h0m3-1h0m1 7h0m0 2h0m0-5h0m2 0h0m2 0h0m4 3h0m1-6h0m0 6h0m1-2h0m0-1h0m0 5h0m0-9h0m1 10h0m0-4h0m1-2h0m0-2h0m0 4h0m1 0h0m0 3h0m0 0h0m1-7h0m1 4h0m1 1h0m2 0h0m0 1h0m1-5h0m0 0h0m0 0h0m1 7h0m1-5h0m0-4h0m1 5h0m0 2h0m1-4h0m0 0h0m1-3h0m2 8h0m2-2h0m3 1h0m1-7h0m0 2h0m5 2h0m1 2h0m0 1h0m1-2h0m0-6h0m0 0h0m1 3h0m0 0h0m1 5h0m6 0h0m1-6h0m2-1h0m0 3h0m1 1h0m0 0h0m1 1h0m0 2h0m1-3h0m0 0h0m1 4h0m1-6h0m0 4h0m2 1h0m0-7h0m0 3h0m0 4h0m1 1h0m1-9h0m1 2h0m0 5h0m0-6h0m2-1h0m1 7h0m0-7h0m0 7h0m3-3h0m5-2h0m1 3h0m1-4h0m3 2h0m1 1h0m2-2h0m4 5h0m1-3h0m2 3h0m3 0h0m0-5h0m0 2h0m1 2h0m2-1h0m1-5h0m9 1h0m3 5h0m5-5h0m0 6h0m1 0h0m0 2h0m0-8h0m10 7h0m0-3h0m10 0h0m1-2h0m-294 10h0m2-3h0m3 0h0m1 1h0m4 4h0m0 1h0m0 2h0m2-6h0m0 1h0m0 5h0m1-8h0m1 7h0m1-7h0m1 10h0m1-7h0m1-1h0m0 0h0m0 2h0m0 4h0m1-1h0m5-3h0m0-1h0m0 2h0m1 2h0m2-4h0m2 4h0m1-2h0m1-1h0m0-1h0m2 6h0m0-8h0m1 9h0m3-6h0m0 6h0m0 0h0m0-6h0m3-1h0m0 2h0m1 3h0m0-5h0m2-2h0m0 1h0m1 5h0m1 3h0m0-9h0m1 3h0m0-3h0m1 3h0m2-3h0m0 8h0m0-7h0m0 0h0m1-2h0m1 4h0m1 3h0m0-1h0m1-5h0m0 8h0m0-6h0m1 6h0m1-7h0m0 0h0m1-1h0m2 6h0m0 0h0m0-2h0m0 4h0m1-5h0m1 3h0m1-6h0m1 7h0m0-6h0m0-1h0m2 9h0m0-4h0m0 3h0m1-8h0m1 4h0m0 1h0m2-2h0m0-1h0m0-1h0m1 6h0m0-1h0m2 1h0m1 0h0m2-1h0m0-5h0m0-1h0m0 3h0m0 0h0m0 4h0m1-8h0m0 4h0m0 0h0m2 3h0m0 3h0m0-1h0m0 0h0m0-2h0m1-5h0m0 8h0m0-3h0m2-5h0m0 4h0m1-1h0m0-5h0m1 8h0m0-1h0m0-7h0m0 4h0m1 1h0m0-4h0m2-1h0m0 7h0m0 1h0m0-2h0m0 2h0m1-3h0m0 3h0m0 1h0m0 1h0m2 0h0m0-6h0m0 3h0m0-2h0m2-1h0m0-2h0m0 5h0m1 0h0m0-3h0m1 1h0m0-2h0m0-3h0m0 7h0m0 2h0m0-2h0m1-6h0m0 4h0m0 0h0m0 3h0m0-3h0m1-3h0m0 1h0m0 3h0m0-2h0m1 4h0m0 1h0m0-1h0m0-8h0m1 4h0m0 6h0m1-2h0m1 0h0m2 1h0m1 0h0m0-4h0m0 5h0m1-5h0m0 4h0m1-1h0m0-7h0m0 0h0m1-1h0m0 2h0m0 5h0m1 2h0m1 0h0m2-3h0m0 3h0m0-6h0m1-3h0m1 1h0m1 8h0m0-2h0m3-1h0m0 0h0m0 3h0m1-2h0m0 1h0m0-4h0m0-3h0m1 6h0m0 0h0m1-7h0m0 3h0m0 3h0m1 4h0m2-4h0m0 3h0m0-3h0m0 4h0m0-6h0m1 3h0m0-1h0m0-4h0m0 6h0m0-4h0m1 3h0m1-6h0m0 0h0m0 5h0m1-3h0m1 2h0m1-3h0m0 4h0m0 2h0m3-7h0m0 4h0m1-3h0m0 5h0m0-6h0m0 3h0m0-3h0m0 6h0m1-5h0m0 5h0m0-3h0m1 2h0m2 1h0m0-7h0m1 3h0m0 0h0m0 2h0m1 0h0m0-3h0m1 3h0m1-4h0m1 2h0m2-2h0m1 1h0m0 0h0m1 3h0m1-3h0m0 1h0m1 5h0m0-4h0m0-1h0m1-3h0m0 1h0m0 2h0m2-2h0m1 6h0m1-2h0m0 2h0m1-6h0m2 3h0m0 1h0m1 2h0m1-1h0m0 2h0m1-5h0m0 4h0m1-6h0m0 5h0m3-5h0m0 2h0m0-1h0m1 7h0m1-4h0m0 0h0m1-1h0m0-2h0m1 3h0m1-1h0m2 1h0m1 0h0m0-2h0m0 4h0m1-1h0m0-2h0m1-1h0m0 1h0m0 1h0m1-2h0m2-2h0m0 4h0m1-2h0m3-2h0m0 6h0m0 0h0m0-3h0m1-2h0m0 0h0m2 4h0m0-3h0m0 3h0m1 3h0m3 0h0m1-6h0m1 7h0m1-2h0m1-6h0m2 7h0m0 0h0m3-3h0m2-6h0m0 7h0m1-3h0m0-3h0m0 3h0m1-1h0m2 6h0m1 0h0m0-3h0m1 3h0m3-4h0m1-1h0m3 0h0m1 2h0m1 1h0m1 0h0m0-5h0m0 1h0m1-2h0m4 1h0m2 3h0m2 4h0m2-5h0m0 1h0m1 2h0m1-1h0m0-2h0m1 0h0m0 0h0m1 4h0m2-3h0m2 1h0m2-1h0m4-2h0m5 5h0m0-6h0m1 7h0m1-3h0m3 1h0m1 2h0m1-5h0m4-3h0m1 3h0m1 0h0m1-1h0m0 3h0m1 2h0m1-8h0m1 6h0m1-6h0m3 3h0m2-3h0m0 10h0m0-7h0m2-2h0m0 6h0m3-1h0m6-5h0m1 4h0m1-1h0m2 5h0m2-1h0m4 0h0m2-1h0m2 3h0m-286 0h0m7 2h0m1 0h0m6-2h0m1 4h0m1 6h0m1-5h0m1-5h0m1 6h0m1 0h0m4 1h0m1-5h0m1-1h0m0 2h0m4-1h0m1 1h0m0 2h0m1-1h0m0 0h0m0-2h0m2 2h0m2 1h0m1 2h0m0-2h0m1-3h0m3 3h0m0-5h0m0 9h0m0-2h0m2-5h0m0-2h0m0 1h0m1 3h0m0 3h0m0 2h0m1-3h0m0-6h0m0 3h0m1 0h0m0 2h0m1-5h0m0 8h0m1-6h0m2 4h0m0 3h0m0-5h0m1-4h0m0 0h0m1 1h0m0 8h0m1-8h0m1 0h0m1 6h0m1-6h0m1 4h0m1-2h0m0 3h0m1-1h0m1-3h0m0 1h0m1 0h0m1 2h0m0-1h0m1-4h0m1 1h0m0 7h0m0-6h0m0 2h0m1 4h0m0-8h0m1 9h0m1-5h0m0 2h0m1 1h0m1 0h0m2-2h0m1 2h0m0-3h0m0 3h0m0-1h0m0 4h0m1-5h0m0-3h0m1 6h0m0 1h0m1-3h0m0-2h0m2-4h0m0 0h0m1 8h0m1 0h0m3-5h0m0 4h0m0-5h0m1 2h0m1 5h0m0-7h0m0 6h0m0 1h0m0-6h0m1 3h0m0-1h0m0 3h0m1-3h0m0-3h0m1 0h0m0-1h0m1 9h0m2-10h0m0 5h0m0 3h0m1 1h0m1-8h0m0 0h0m0 9h0m2-7h0m2-2h0m2 0h0m0 6h0m2-5h0m1 1h0m1-2h0m1 4h0m1-2h0m1-3h0m0 2h0m2 8h0m2-2h0m1-6h0m2 0h0m1 0h0m2 3h0m0-3h0m0 3h0m0-2h0m1 5h0m4 0h0m1 2h0m1-2h0m1-7h0m5 4h0m0 1h0m1-2h0m0 4h0m1-2h0m0-4h0m1 0h0m3 3h0m2-3h0m1 2h0m2-1h0m0 0h0m0-1h0m5-2h0m3 5h0m0 4h0m2-8h0m3 0h0m3 8h0m0-4h0m1 2h0m1-6h0m2-1h0m1 3h0m1 2h0m0-2h0m0-1h0m1 0h0m0-1h0m1 5h0m1-2h0m0 0h0m1 0h0m0 2h0m1-4h0m5 1h0m2 6h0m0 0h0m0-5h0m3 4h0m4-7h0m1 0h0m1 6h0m1-7h0m2 5h0m2-4h0m0 6h0m1-3h0m4-4h0m1 3h0m0 7h0m0-5h0m1 3h0m2-7h0m1 4h0m2 4h0m1-2h0m0-2h0m2 2h0m2-3h0m0-4h0m0 3h0m1 4h0m0 2h0m0 0h0m2-5h0m3 3h0m2 0h0m0 0h0m1 2h0m0 1h0m1-8h0m1 6h0m0-5h0m1 4h0m0 0h0m2-5h0m2 5h0m2 1h0m2 0h0m2-7h0m1 3h0m0 2h0m1 3h0m4-8h0m2 2h0m0-2h0m1 2h0m5-3h0m0 10h0m0-7h0m2 4h0m1 0h0m3 1h0m1-1h0m1 2h0m0-4h0m1 3h0m2 1h0m1-7h0m1 0h0m1 8h0m0-7h0m0 5h0m1 0h0m2 1h0m1-4h0m0-5h0m1 7h0m0-7h0m2 6h0m1 2h0m1-5h0m2 3h0m1-6h0m1 5h0m5-3h0m9 5h0m-275 9h0m3-5h0m1 2h0m14-3h0m0 5h0m4 3h0m3-1h0m0-1h0m2-5h0m0 0h0m3 6h0m7 2h0m3-9h0m1 3h0m1-3h0m0 6h0m4-4h0m0 3h0m1 1h0m2 3h0m1-2h0m0-5h0m0-2h0m1 7h0m0-7h0m2 8h0m0-2h0m1-1h0m2-2h0m1 6h0m0-6h0m1 4h0m1-5h0m2 2h0m1-3h0m0 2h0m0 0h0m2 5h0m0-6h0m1 6h0m1 1h0m1-8h0m0 1h0m2-1h0m1 3h0m2 1h0m0 3h0m0-6h0m1 6h0m0-1h0m1-6h0m1 2h0m0-3h0m0 2h0m2 1h0m1 1h0m0 2h0m1 0h0m0 2h0m2-5h0m1-1h0m0-1h0m1 6h0m1-4h0m2 2h0m1-2h0m1 5h0m0-4h0m1-3h0m2 8h0m1-7h0m0 7h0m2-6h0m0-2h0m0-1h0m4 5h0m0-3h0m5-1h0m0 3h0m0 0h0m3 0h0m2-3h0m6 4h0m2-1h0m2 3h0m1-6h0m0 2h0m1 4h0m0-2h0m1 1h0m1 2h0m6 1h0m2-6h0m2 2h0m1-4h0m6 4h0m0 1h0m2-2h0m10 6h0m1-10h0m3 6h0m2 2h0m1-5h0m1 3h0m2-4h0m1-1h0m8 3h0m1 0h0m2 6h0m0-10h0m1 9h0m1 0h0m1-1h0m1-3h0m0-3h0m0 4h0m0 1h0m3 2h0m0-7h0m1 6h0m0-5h0m3 1h0m2-4h0m1 6h0m3 2h0m3-4h0m1 0h0m2-3h0m2 6h0m2-3h0m1 1h0m0-4h0m3 6h0m3-1h0m1-6h0m1 3h0m1 5h0m9-4h0m2 0h0m0 4h0m2-7h0m1 2h0m2 0h0m0-2h0m0 7h0m2 1h0m3-6h0m1 2h0m5 5h0m1-8h0m1 3h0m5 0h0m0-3h0m1 4h0m7 1h0m1-1h0m0 0h0m2-3h0m4 3h0m1-3h0m8 0h0m3 1h0m3 0h0m1 5h0m7-6h0m-240 7h0m1 3h0m2 2h0m1-3h0m1 2h0m4 0h0m0 3h0m2 0h0m4 2h0m0 0h0m6-1h0m4-5h0m4-1h0m1 2h0m1 2h0m6 1h0m2 0h0m3 0h0m7 2h0m5-5h0m3 3h0m3-4h0m6-2h0m1 1h0m3 2h0m1 4h0m1-8h0m10 8h0m13-8h0m9 6h0m1 2h0m3 1h0m5 0h0m0-7h0m14-2h0m1 6h0m10 2h0m2-8h0m1 9h0m7-7h0m6 1h0m3 1h0m4 3h0m6-2h0m3 2h0m0-6h0m3 0h0m2-1h0m1 2h0m14 1h0m4-2h0m1-1h0m3 4h0m7 4h0m6-1h0m6-4h0m6-3h0m-200 15h0m20-4h0m1 2h0m7-3h0m0 2h0m12 0h0m13 0h0m7 2h0m11-4h0m2 5h0m8 1h0m2-4h0m26-2h0m14 0h0m18 6h0m12-4h0m-133 11h0m43 1h0" stroke="#47ab47" stroke-width="1.8" stroke-linecap="round" fill="none"/>
<ellipse cx="496.5" cy="718.8" rx="61" ry="30" transform="rotate(29 496.5 718.8)" fill="none" stroke="#000" stroke-width="2.6"/>
<path d="M615.3 747.8 C604 722 590 700 562 697.5 C552 697 545 699 538 701.5" fill="none" stroke="#000" stroke-width="2.4"/>
<path d="M529.8 703.9 L537.6 695.6 L540.2 706.4 Z" fill="#000"/>
</svg>
</body></html>
